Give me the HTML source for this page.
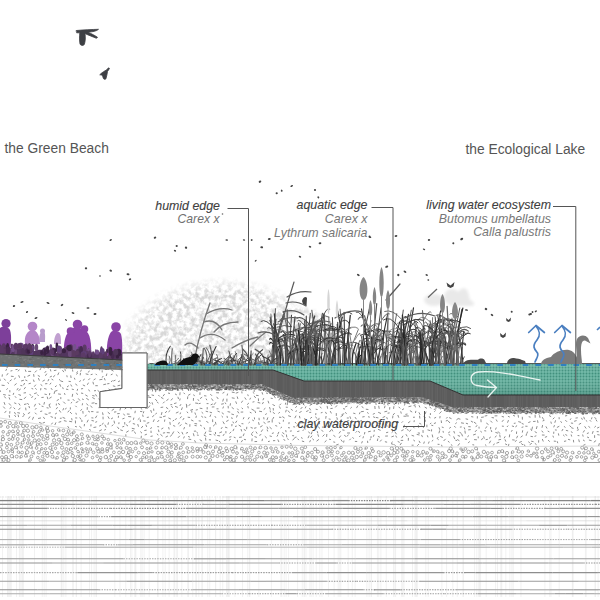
<!DOCTYPE html><html><head><meta charset="utf-8"><style>
html,body{margin:0;padding:0;background:#fff;width:600px;height:600px;overflow:hidden}
svg{position:absolute;left:0;top:0;display:block}
text{font-family:"Liberation Sans",sans-serif}
</style></head><body><svg width="600" height="600" viewBox="0 0 600 600"><defs><pattern id="hatch" width="3" height="3" patternUnits="userSpaceOnUse">
<rect width="3" height="3" fill="#70b8a6"/><circle cx="1.5" cy="1.5" r="1.0" fill="#3f8f7c"/></pattern><linearGradient id="tg" x1="0" y1="0" x2="0" y2="1"><stop offset="0" stop-color="#fff" stop-opacity="0.12"/><stop offset="0.35" stop-color="#fff" stop-opacity="0"/><stop offset="1" stop-color="#1e4a40" stop-opacity="0.22"/></linearGradient><filter id="noise" x="0" y="0" width="600" height="600" filterUnits="userSpaceOnUse">
<feTurbulence type="fractalNoise" baseFrequency="0.22" numOctaves="3" seed="3" result="n"/>
<feColorMatrix in="n" type="matrix" values="0 0 0 0 0.66  0 0 0 0 0.66  0 0 0 0 0.66  0 0 0 -3.0 1.9" result="g"/>
<feComposite in="g" in2="SourceGraphic" operator="in"/>
</filter>
<radialGradient id="cloudg" cx="0.5" cy="0.5" r="0.5"><stop offset="0" stop-color="#000" stop-opacity="1"/><stop offset="0.8" stop-color="#000" stop-opacity="0.9"/><stop offset="1" stop-color="#000" stop-opacity="0"/></radialGradient><clipPath id="skyclip"><rect x="0" y="0" width="600" height="364"/></clipPath><filter id="soft" x="-20%" y="-50%" width="140%" height="200%"><feGaussianBlur stdDeviation="1.5"/></filter></defs><rect x="0" y="366" width="600" height="96" fill="#fff"/><path d="M8.3 365.6L6.8 368.1M28.4 365.5L28.1 367.6M33.5 367.1L36.2 367.1M43.2 366.8L44.2 368.5M49.1 365.9L48.2 368.6M57.3 366.0L55.0 366.2M61.2 365.9L60.2 368.5M65.0 366.6L67.0 366.9M80.1 365.5L81.0 367.5M93.6 365.6L93.0 367.5M102.2 366.6L101.2 368.9M108.8 366.6L107.2 367.9M123.8 366.3L125.2 368.4M127.6 366.4L127.9 368.5M131.6 365.3L133.3 367.1M142.7 366.8L142.7 368.7M154.4 366.1L154.8 368.0M159.0 366.3L158.8 369.3M170.6 365.6L170.4 367.7M186.1 366.5L187.8 368.2M190.4 367.1L188.4 367.9M195.0 365.8L197.4 367.0M201.2 366.1L201.0 367.9M213.8 366.8L211.9 367.9M215.9 367.2L214.0 367.5M226.8 366.5L229.0 367.4M242.2 365.4L240.8 366.9M247.6 366.7L246.5 368.8M279.4 367.1L281.4 367.5M288.3 366.4L287.7 368.7M294.8 366.6L296.3 367.6M305.6 365.5L304.0 368.1M314.0 366.6L315.5 368.0M335.9 365.9L338.9 366.4M343.9 367.4L341.2 368.0M373.5 367.6L371.0 367.7M382.5 366.5L381.9 368.9M394.5 365.6L392.7 366.5M403.1 365.5L402.0 367.2M406.7 366.5L408.5 368.3M420.6 365.9L418.6 366.3M428.7 365.7L430.0 367.5M440.9 367.8L439.0 367.8M453.1 367.0L451.0 367.8M455.2 366.2L453.7 368.2M461.3 366.5L464.1 366.6M466.4 366.4L464.4 366.8M481.1 366.0L483.1 367.5M492.5 366.9L494.7 367.6M502.6 365.5L504.4 367.5M519.7 366.1L519.3 368.8M536.5 366.5L533.9 367.7M543.8 366.6L541.6 367.4M557.5 367.2L554.7 367.4M572.9 366.5L570.4 367.7M573.1 366.6L575.8 367.5M589.5 366.5L590.9 367.7M6.7 368.9L5.7 370.9M12.4 370.6L10.5 371.0M17.6 369.4L15.5 369.6M19.4 369.6L18.0 371.3M25.2 369.6L26.1 371.9M28.2 371.4L31.1 371.4M36.7 370.5L34.9 372.4M40.9 368.2L39.9 370.1M46.1 371.1L44.7 372.8M50.3 369.3L50.9 371.4M56.4 370.2L53.9 370.6M62.4 370.1L63.9 372.1M64.8 368.7L65.4 371.1M72.5 369.5L72.8 371.6M78.0 371.5L76.4 372.7M81.4 369.7L80.6 371.7M89.4 370.7L88.3 372.5M91.0 368.1L92.7 369.8M99.0 367.9L99.7 370.4M102.2 370.3L102.2 372.4M110.0 367.9L108.1 369.9M111.0 369.6L113.5 371.2M118.0 368.1L120.0 370.1M124.7 370.5L123.2 373.1M130.8 371.9L128.4 372.7M136.3 370.1L134.2 371.3M141.0 370.5L141.2 372.6M144.9 370.4L143.1 372.0M149.5 369.6L151.6 370.1M154.6 369.1L154.3 371.0M160.1 370.6L159.0 372.1M165.1 369.8L165.6 371.8M171.0 370.9L170.3 373.4M177.0 370.8L177.7 372.5M182.1 370.9L179.4 372.2M186.4 370.3L186.0 372.8M190.5 368.8L190.9 370.6M196.0 370.4L196.6 372.3M202.3 368.5L201.6 370.2M205.6 370.8L208.2 371.0M210.1 370.4L212.3 370.7M217.5 369.3L215.8 370.8M223.1 371.2L224.5 372.6M227.5 370.8L225.3 370.8M234.5 370.5L233.2 372.9M239.1 369.5L241.1 369.7M242.6 370.3L242.1 372.3M248.5 371.0L250.7 372.3M256.2 368.5L253.7 370.1M257.2 367.9L258.6 370.1M266.7 369.6L265.6 371.0M269.1 370.7L271.7 371.6M274.8 370.5L277.5 371.6M280.9 369.0L281.4 371.2M286.6 369.5L284.1 370.7M289.7 371.1L288.5 373.6M297.4 369.3L295.4 371.5M300.2 370.6L299.9 373.0M304.9 370.5L306.8 372.6M313.5 368.8L311.5 369.6M316.0 370.2L316.7 371.9M321.9 368.7L324.0 370.4M326.9 371.2L325.7 372.9M329.0 371.9L331.6 372.6M338.0 370.5L336.5 372.7M341.5 371.4L343.5 372.0M348.7 368.8L348.1 371.1M353.8 369.6L352.2 371.2M358.1 369.2L359.5 370.5M362.3 368.0L362.0 370.7M367.3 368.3L367.4 371.0M374.8 370.0L376.0 371.5M377.0 369.2L378.6 370.2M385.4 369.8L383.0 370.0M391.1 368.9L388.9 369.8M395.7 369.8L395.9 372.1M399.7 368.8L397.4 369.3M404.8 370.0L407.3 370.6M408.7 368.4L408.3 370.5M418.0 368.5L416.1 370.2M421.6 368.5L421.5 370.9M426.6 371.9L424.4 372.0M432.3 370.0L430.3 372.1M435.5 368.8L434.6 370.5M439.0 369.1L441.3 369.2M445.8 369.0L447.8 370.8M453.2 369.3L451.6 371.7M458.6 369.9L457.2 372.4M462.5 369.5L461.2 372.1M467.5 368.6L469.4 369.7M472.8 370.2L474.0 371.7M479.6 371.2L477.2 371.6M481.7 369.0L484.0 369.3M486.0 369.4L488.9 370.2M496.0 370.7L493.0 371.2M497.8 369.7L500.5 370.0M504.6 371.0L502.6 371.5M509.2 370.2L509.2 372.1M514.3 368.9L512.8 371.3M517.8 370.2L519.6 372.5M525.5 369.8L525.8 371.9M528.7 371.2L529.4 373.5M536.8 370.1L536.5 372.4M539.9 369.3L538.1 371.1M546.5 368.2L546.0 371.1M548.9 370.8L551.6 371.9M555.0 369.2L557.2 370.3M562.5 369.2L559.6 369.3M567.0 368.7L564.9 369.9M571.2 369.7L573.0 371.8M578.4 368.6L578.0 370.9M584.5 370.2L581.9 371.2M585.7 370.3L586.5 373.1M591.4 371.0L592.8 372.7M597.6 371.5L597.6 373.5M2.4 374.4L2.1 376.7M8.1 373.2L6.6 375.3M10.9 376.2L13.6 376.5M18.7 375.3L19.6 377.7M24.7 376.2L24.8 378.0M30.1 375.1L27.5 376.3M33.6 374.1L34.0 376.8M37.8 375.4L39.9 376.5M46.8 373.7L45.4 375.8M51.9 376.1L49.8 377.1M55.2 375.2L53.1 377.1M58.9 372.5L57.7 375.1M66.8 375.3L67.2 377.2M70.7 375.4L71.1 378.0M77.9 373.1L76.2 374.4M80.5 372.9L80.2 375.3M85.7 373.8L88.4 374.5M92.6 374.2L90.7 374.7M95.6 373.8L96.9 375.1M103.2 376.0L102.2 377.6M106.9 373.6L106.2 376.0M112.6 374.0L110.8 374.9M115.9 374.5L117.7 376.1M121.8 375.9L123.6 378.3M128.4 373.3L127.9 375.8M134.1 372.6L133.3 374.9M140.5 373.8L138.4 375.3M143.2 374.6L142.2 377.1M150.3 375.3L148.1 376.6M154.4 374.9L155.7 376.8M158.1 375.9L160.1 376.5M163.8 373.7L166.0 374.7M172.2 375.1L169.6 375.8M173.4 375.1L173.6 377.9M179.1 374.3L181.9 375.3M184.7 376.5L182.3 377.6M192.6 376.4L190.8 377.7M196.4 372.4L196.1 374.8M201.4 374.6L200.7 377.3M206.5 373.3L207.9 374.6M213.2 375.3L211.2 375.9M215.5 376.2L213.4 376.8M221.9 373.9L219.8 374.2M227.3 373.6L225.5 374.3M232.4 374.9L230.4 377.0M235.5 375.7L237.5 376.8M240.1 373.9L241.0 376.7M245.3 373.4L245.8 376.3M254.4 372.9L253.0 374.9M259.0 373.9L259.6 375.8M261.3 375.3L261.6 377.9M267.1 375.6L269.9 375.8M272.5 373.1L272.1 374.9M278.2 373.4L280.5 375.2M283.8 373.8L282.1 374.4M289.1 373.7L291.1 374.5M291.9 375.9L293.7 376.0M299.7 373.6L300.8 375.3M302.9 374.9L302.7 377.6M309.6 375.4L309.5 377.3M313.5 376.8L316.2 377.1M321.1 374.0L321.5 376.9M323.2 374.0L324.0 376.5M329.4 376.6L331.3 377.1M335.2 372.8L336.8 374.8M342.2 374.7L339.8 374.8M344.6 375.3L347.1 376.1M353.5 375.0L351.5 376.8M354.5 374.5L356.2 375.9M360.3 374.7L362.5 375.4M366.1 374.2L368.7 375.6M369.5 376.3L371.4 376.8M378.3 375.3L377.8 377.7M381.6 374.3L383.7 375.2M389.4 375.7L387.0 376.8M393.9 374.6L395.0 376.8M396.2 375.3L397.7 376.5M405.4 374.0L403.5 375.7M410.9 376.5L408.1 376.7M412.6 375.8L415.5 376.0M418.9 373.8L421.1 375.2M421.9 374.8L424.7 374.8M428.3 374.5L430.6 375.6M431.8 375.5L433.6 377.0M439.9 373.8L438.2 375.9M444.1 373.7L446.0 374.0M449.6 375.0L451.3 377.0M454.3 374.1L456.0 376.2M458.2 374.1L459.8 376.1M464.4 375.8L466.7 376.1M470.6 372.8L471.8 374.4M474.2 373.7L475.2 375.3M481.6 373.0L482.6 375.4M487.2 376.0L485.6 377.1M491.5 373.6L494.4 373.8M498.4 374.3L497.8 376.9M500.6 373.9L502.8 374.0M509.5 375.1L507.0 376.5M510.0 375.7L511.8 377.5M517.1 374.1L518.3 375.9M522.2 373.2L522.2 375.1M527.4 375.6L528.6 378.0M533.6 375.8L535.1 377.2M538.3 374.8L536.4 376.6M542.4 375.0L542.5 377.7M550.9 374.9L548.5 375.5M555.6 375.3L553.3 376.3M557.7 372.7L558.1 374.9M563.6 372.7L563.6 374.8M570.2 373.3L568.6 374.2M576.5 375.5L575.7 377.8M581.0 374.7L578.7 376.4M585.5 375.5L584.5 377.4M589.4 373.9L591.3 374.3M597.8 373.9L596.3 375.7M-0.2 378.6L0.2 381.0M4.1 378.7L5.6 380.5M11.7 379.6L9.7 381.2M15.5 377.7L14.4 379.5M23.9 380.2L21.1 381.0M25.3 379.9L27.3 380.8M33.4 379.6L34.2 381.9M38.4 378.1L39.4 380.6M44.8 380.0L42.5 381.3M48.9 379.1L47.9 381.2M51.5 379.0L53.3 380.1M59.0 379.3L60.5 380.6M60.5 380.9L63.1 381.7M68.6 381.3L70.8 381.6M74.3 377.8L75.0 379.6M80.9 380.5L79.3 381.6M84.4 378.8L83.3 380.6M89.9 378.4L88.3 380.1M95.6 378.7L93.6 380.0M102.4 379.3L99.4 379.8M104.3 378.1L105.2 380.4M112.6 380.6L111.0 381.8M115.5 380.1L113.3 381.0M120.0 380.8L118.1 381.8M127.6 378.9L125.7 379.5M129.8 380.9L131.6 382.4M134.4 378.1L136.7 378.5M140.0 381.0L140.7 382.7M148.7 380.0L147.4 382.5M151.5 378.6L149.3 379.9M155.5 379.9L155.7 381.7M161.7 378.6L159.5 379.8M167.1 379.8L169.1 380.5M171.4 377.1L172.1 379.7M178.7 378.3L176.3 379.0M180.4 379.4L181.9 380.8M187.0 379.7L188.7 381.2M194.8 378.5L193.0 378.6M199.8 380.0L197.4 380.1M203.9 378.6L202.7 381.3M208.9 377.6L207.1 379.0M215.9 379.6L213.9 381.4M218.9 377.0L218.5 379.8M223.2 379.7L223.5 382.4M228.8 380.9L231.5 381.4M233.7 379.2L235.8 379.4M238.5 380.1L238.4 383.1M246.2 378.4L244.7 379.9M251.0 380.6L249.0 381.5M255.6 379.1L253.1 380.0M263.5 379.5L261.1 379.7M266.2 380.2L266.0 382.9M272.6 377.2L271.7 379.8M275.4 379.1L277.9 379.7M280.7 379.1L281.3 381.7M287.4 378.0L285.3 378.8M295.4 379.1L292.4 379.3M295.2 379.3L296.3 381.8M302.0 381.1L304.3 382.2M307.4 378.1L310.0 378.7M312.7 378.4L312.2 380.9M318.2 380.4L319.3 382.9M323.2 378.9L324.0 381.4M328.4 377.8L326.8 379.5M332.6 379.5L334.0 381.0M337.8 380.7L339.6 383.0M345.1 378.2L343.0 379.2M349.5 379.5L352.0 380.2M355.3 378.6L356.2 380.2M361.0 380.9L358.7 382.0M367.4 379.8L365.5 381.3M367.5 378.4L370.0 379.5M373.0 379.0L374.1 381.5M379.6 380.2L381.7 380.7M387.6 379.5L387.4 382.2M393.3 378.4L390.8 378.6M395.2 379.4L396.6 381.9M401.1 379.7L403.6 381.3M405.3 381.3L407.2 381.7M409.7 377.7L411.1 380.0M417.7 381.2L415.0 382.1M421.4 379.6L421.0 381.5M426.6 379.2L426.6 381.2M434.7 377.6L433.4 380.0M438.4 379.9L437.8 382.6M441.7 377.3L440.7 379.5M448.3 379.8L449.0 382.2M452.4 379.3L454.2 381.7M459.0 380.2L457.8 382.0M461.9 377.3L462.4 379.6M467.1 379.3L468.6 381.5M475.9 381.3L474.0 381.4M478.2 379.3L479.5 381.3M482.6 378.8L484.7 379.5M488.3 379.5L490.3 381.5M493.9 378.4L493.4 380.5M501.1 378.8L501.0 381.2M505.8 378.1L503.4 378.5M511.8 378.2L512.6 379.8M516.2 380.4L515.1 382.5M520.7 379.9L521.3 382.7M526.5 379.9L527.4 382.0M531.7 378.0L531.4 379.9M535.6 379.8L537.5 382.1M543.5 378.6L541.2 378.8M549.3 379.2L546.6 379.7M551.0 379.1L551.0 381.0M555.9 378.3L556.1 380.6M562.2 379.0L563.5 381.2M567.2 381.0L565.7 382.6M572.4 379.9L572.2 382.5M576.9 380.0L577.9 382.4M586.1 379.5L584.0 381.1M589.1 376.9L589.3 379.8M595.0 379.7L594.4 382.3M599.7 377.7L598.7 380.0M1.6 385.2L4.6 385.5M7.6 382.2L8.7 383.8M16.6 383.5L14.4 385.3M20.4 385.4L22.3 385.8M24.7 383.0L23.5 385.2M30.8 383.2L28.6 383.8M35.9 384.7L34.2 386.7M40.6 384.5L42.3 385.7M47.3 383.6L45.1 383.8M51.1 382.8L49.8 384.5M56.7 385.6L55.0 386.9M59.7 384.0L60.8 386.7M68.8 385.7L67.0 387.0M70.7 384.5L71.8 386.5M75.3 383.9L77.3 385.4M82.8 384.9L85.1 386.0M88.5 382.7L87.3 384.8M92.9 381.8L93.6 384.4M95.3 385.7L97.8 385.7M106.1 384.1L103.3 384.7M109.4 383.5L107.2 383.8M112.9 385.8L115.3 386.5M120.3 385.2L117.5 385.8M121.6 385.3L124.0 386.9M130.9 382.9L131.0 385.8M136.9 385.9L135.2 386.6M140.9 383.2L138.7 383.4M146.5 383.4L146.6 386.3M150.4 384.1L152.0 385.2M153.3 383.8L154.7 385.3M161.5 384.4L160.9 387.1M165.7 385.6L163.1 386.4M171.3 382.4L170.3 384.1M173.9 383.3L175.4 384.8M181.3 385.5L179.2 385.8M187.8 381.8L186.6 384.1M189.3 382.4L190.6 384.3M197.4 385.3L196.1 387.0M199.8 385.2L201.4 387.2M205.0 382.8L207.4 384.0M212.9 383.2L212.6 385.6M216.9 384.6L218.5 386.0M222.6 385.8L224.8 386.4M228.9 382.3L228.5 384.1M233.6 383.8L233.1 385.7M236.8 384.4L238.7 385.2M243.9 381.9L243.8 384.6M248.5 383.8L248.7 385.7M254.6 385.0L253.1 386.7M260.5 384.7L260.1 386.5M265.3 383.1L262.4 383.2M266.9 386.2L269.2 386.4M277.0 385.6L274.5 385.8M279.2 385.2L280.2 387.8M287.3 383.2L285.9 385.4M290.1 384.4L291.0 386.2M296.4 384.0L295.0 385.6M298.2 382.0L299.8 384.1M307.0 384.3L305.2 385.4M311.9 383.7L309.3 384.2M314.6 384.5L315.3 387.2M322.2 382.4L323.7 383.6M325.6 384.3L324.5 385.8M332.1 383.7L333.6 385.1M338.5 382.0L338.5 384.2M342.8 384.5L344.2 386.6M347.6 383.3L348.8 384.9M352.8 383.0L353.9 384.5M360.8 385.7L358.4 386.4M364.4 384.6L361.5 384.8M368.4 384.8L369.6 386.7M373.2 383.4L371.5 385.1M380.9 382.9L379.2 385.1M386.7 384.8L384.2 385.1M386.8 383.0L388.9 384.6M394.6 385.6L397.2 386.4M399.1 382.8L397.8 385.0M407.1 382.7L405.1 384.5M411.2 384.2L409.2 385.1M418.3 382.7L415.4 383.3M418.9 385.5L419.1 387.6M427.1 383.3L424.8 384.0M431.9 383.2L431.6 385.4M435.1 383.8L435.1 385.7M444.2 383.9L441.6 385.3M446.1 383.4L445.7 385.4M451.5 383.6L449.1 384.1M455.9 382.5L457.1 384.4M463.8 383.6L462.6 385.9M467.6 385.7L465.0 386.0M473.1 382.9L471.5 384.1M479.6 384.4L477.2 385.0M481.9 383.0L484.7 383.3M490.4 384.6L488.7 386.1M495.0 383.0L493.9 384.5M498.9 383.1L497.9 385.5M504.0 383.8L504.0 385.6M509.1 381.9L508.9 384.0M516.8 382.3L514.6 383.7M519.4 385.9L521.2 386.5M523.2 382.2L523.0 385.0M528.3 383.3L529.2 385.4M534.0 385.6L536.0 387.3M542.4 384.7L540.0 385.9M543.9 383.4L543.6 385.2M548.6 382.4L548.6 384.7M557.5 384.5L555.7 385.4M559.8 382.2L562.0 383.9M566.4 384.5L568.3 384.8M572.9 385.3L572.5 387.1M579.2 383.9L576.7 384.2M582.2 384.6L582.8 386.4M586.5 383.2L584.6 384.3M594.1 383.4L592.7 384.8M598.9 384.0L598.9 387.0M-0.6 389.4L0.7 391.8M7.8 388.4L6.4 389.6M9.8 390.1L9.9 392.3M18.2 388.1L16.8 390.2M20.7 389.0L18.5 390.6M25.6 387.1L24.0 389.2M31.5 388.4L33.2 389.0M35.3 388.2L36.6 389.6M40.9 388.1L40.6 390.3M44.2 388.5L46.6 389.2M51.0 388.1L52.3 389.9M57.4 390.4L54.6 391.3M62.6 387.3L63.3 389.1M66.0 389.1L68.3 389.6M71.8 389.1L73.8 389.6M77.7 388.9L77.1 390.8M83.1 388.5L81.0 388.9M88.6 389.5L89.7 391.4M96.0 390.6L94.0 390.8M97.6 390.4L99.3 391.7M105.1 390.0L106.8 392.1M108.6 388.9L110.3 390.4M114.7 388.6L117.0 389.4M120.9 388.5L119.5 390.6M127.4 388.3L126.0 390.2M130.7 389.4L128.4 390.8M135.6 388.4L134.7 390.4M142.0 389.6L140.5 390.8M147.3 388.2L148.0 390.5M152.8 388.7L152.4 391.5M155.9 389.5L155.6 392.1M160.5 389.4L159.5 391.3M168.5 387.7L165.9 387.8M172.7 390.2L170.4 390.4M175.4 387.3L175.3 389.7M182.4 388.6L182.8 390.8M188.5 388.6L188.5 390.8M190.6 386.6L191.4 389.4M195.5 390.5L197.5 391.5M202.9 387.2L203.0 389.5M207.5 389.2L208.6 391.0M215.7 387.4L213.4 388.6M220.4 388.1L218.3 388.2M223.0 386.7L222.4 389.6M227.0 388.4L229.2 389.8M234.4 386.8L233.7 388.7M240.4 388.2L239.2 389.8M244.6 390.3L246.5 390.7M250.6 387.3L251.8 389.3M254.3 389.4L254.1 392.0M260.9 388.7L260.3 390.9M267.8 389.1L265.6 390.6M269.0 389.6L270.9 390.1M273.4 388.0L275.6 389.4M280.1 388.6L282.1 389.6M285.9 388.8L284.4 390.9M293.2 388.6L293.3 390.6M294.9 389.0L297.1 389.4M301.3 387.3L298.9 388.9M307.7 388.4L306.5 390.3M312.6 389.1L314.4 389.6M317.6 387.7L319.2 389.6M322.4 388.3L320.5 390.2M326.8 387.5L329.3 388.5M335.0 388.4L333.5 389.4M340.0 389.5L338.1 389.6M343.8 389.1L345.6 391.5M349.5 388.2L347.5 389.5M354.6 389.5L356.7 391.3M360.2 387.9L358.6 389.9M362.3 387.5L363.9 388.7M367.1 387.9L368.7 389.8M373.4 389.3L374.7 391.0M381.7 390.3L380.7 392.0M388.2 390.1L385.3 390.8M392.6 387.6L390.6 388.5M397.2 389.7L395.3 391.5M399.9 388.8L401.4 390.5M406.6 389.5L404.8 390.2M412.2 388.4L410.0 388.8M416.5 388.8L419.3 388.8M422.1 388.9L422.5 391.5M426.3 386.8L426.1 388.9M430.7 387.3L432.6 389.4M436.7 388.5L436.2 390.8M440.8 389.9L442.7 390.2M447.2 388.7L449.8 389.8M453.5 387.5L451.5 387.7M459.0 387.2L458.1 389.0M465.1 387.7L464.1 389.5M466.8 390.3L468.8 391.4M471.8 389.3L473.7 391.0M479.3 386.6L479.5 388.6M481.6 390.0L484.2 390.1M490.0 390.2L490.5 392.1M493.4 388.3L492.1 389.7M497.6 390.2L500.0 391.3M506.6 388.1L504.6 388.1M510.5 386.6L509.5 388.7M514.9 389.3L516.9 390.4M520.0 390.4L521.9 391.0M525.9 388.3L526.9 391.1M529.4 387.4L530.6 388.8M536.5 388.5L535.6 391.1M542.3 389.7L541.2 391.6M547.1 388.7L545.6 390.2M551.1 390.7L548.7 391.0M555.6 388.2L554.9 390.6M564.6 391.0L562.6 391.4M567.8 388.5L568.9 390.8M573.9 390.4L572.5 391.6M575.0 388.4L576.9 388.7M584.2 388.3L583.2 390.5M586.4 389.8L588.8 390.4M592.8 387.6L594.2 389.6M597.3 389.4L597.1 391.6M3.2 394.5L5.8 395.0M8.4 395.2L10.3 395.5M13.8 392.9L13.1 394.9M18.5 394.5L21.0 395.4M26.0 392.7L23.6 393.0M29.5 394.4L31.2 395.4M36.8 392.8L34.2 393.7M37.4 394.5L38.6 395.9M44.5 394.1L46.8 394.6M49.8 393.0L49.4 395.2M54.7 391.4L54.1 393.9M58.1 393.9L60.9 394.3M64.4 393.1L65.1 394.9M72.7 393.9L72.2 396.8M76.4 392.8L77.6 394.8M81.0 393.0L83.2 393.5M85.3 394.8L87.7 396.3M92.3 395.5L94.6 396.0M95.5 394.3L96.8 396.4M100.5 391.9L100.1 394.1M108.1 392.8L107.4 395.1M114.8 392.6L112.2 393.4M116.5 391.3L117.1 393.3M123.7 394.7L121.0 395.9M127.5 394.0L125.1 395.3M131.0 393.4L132.7 395.0M137.5 395.1L136.3 396.6M145.3 394.2L145.1 396.8M147.5 395.5L149.4 396.0M151.6 394.9L154.0 395.5M158.3 395.0L159.8 396.5M164.6 394.1L163.0 396.2M168.0 393.0L170.0 393.5M175.0 393.9L176.8 394.9M180.1 392.3L179.8 395.2M183.6 392.7L184.9 394.1M190.4 394.1L188.1 395.4M193.6 394.5L194.5 396.1M200.0 392.3L199.9 394.9M204.1 395.7L206.4 396.0M210.3 394.1L212.0 395.8M216.2 392.7L219.0 392.8M224.4 392.2L222.5 393.3M227.6 393.6L227.1 395.6M231.8 392.1L234.6 392.6M238.4 392.3L235.8 393.2M241.8 391.4L242.0 393.4M247.7 394.4L248.3 396.1M252.8 392.3L254.3 393.5M256.0 395.3L258.6 395.6M262.0 392.2L262.7 394.5M266.0 392.9L267.8 393.7M275.6 392.9L274.5 395.4M280.8 395.1L279.1 396.5M285.4 393.7L283.1 394.4M288.3 392.1L289.5 393.8M294.5 394.8L297.4 395.4M301.3 395.0L298.3 395.0M302.5 393.6L304.4 395.7M312.6 392.5L310.6 392.5M315.9 393.9L317.2 396.4M322.1 391.6L321.3 394.2M325.1 395.5L327.7 395.7M332.7 393.3L332.3 395.3M337.8 394.4L337.9 396.5M340.5 391.9L342.0 393.3M347.6 392.0L345.6 392.5M351.7 394.5L349.0 395.2M356.7 391.0L355.9 393.8M364.4 394.7L361.7 396.0M366.5 394.8L367.2 396.6M370.5 392.1L373.1 393.5M379.2 394.8L378.3 396.6M385.9 394.5L383.2 395.1M386.2 393.8L388.0 395.0M394.9 391.6L393.0 393.8M401.6 393.7L398.6 393.7M403.5 394.1L400.6 394.8M408.9 394.1L406.9 394.5M416.0 393.1L414.0 393.2M421.5 391.6L419.9 393.6M425.2 393.1L426.6 394.7M427.3 392.9L429.0 393.5M435.9 394.8L433.1 395.1M440.2 392.7L439.9 394.6M445.8 394.2L444.6 396.6M450.2 392.0L448.3 393.0M454.1 395.5L456.0 395.9M460.7 393.5L460.2 396.3M465.0 393.3L464.2 395.5M468.4 395.0L470.9 396.4M474.5 392.0L476.1 393.3M483.1 394.1L481.7 395.7M484.9 392.9L487.3 393.3M492.8 391.8L493.8 393.9M496.9 393.7L496.2 395.6M500.2 392.1L501.4 393.6M508.6 392.3L509.3 394.5M513.6 391.6L513.3 393.6M519.3 392.6L519.7 394.7M522.5 392.4L523.8 393.8M528.3 394.4L530.5 395.0M534.2 394.6L533.5 397.0M539.8 394.0L540.4 396.4M546.5 393.6L544.3 394.4M548.5 394.6L547.0 396.5M556.6 394.1L555.3 396.2M557.1 394.2L559.6 395.8M565.5 394.7L567.7 395.6M573.1 393.8L570.6 393.9M577.9 392.8L575.1 393.6M578.6 392.6L579.3 394.7M586.2 393.4L583.6 394.5M591.1 393.0L591.6 395.3M595.9 393.4L593.8 395.4M4.3 396.4L5.8 398.3M9.0 397.3L9.9 399.6M15.0 396.3L16.2 397.8M19.4 399.3L22.2 399.6M26.0 396.8L24.0 398.9M33.1 396.4L31.3 397.6M35.8 397.9L34.7 399.5M43.7 397.3L41.4 397.5M47.2 396.7L47.9 399.2M51.6 397.0L49.3 398.4M58.8 399.4L56.7 400.7M60.8 397.1L60.8 399.1M67.5 400.0L69.5 400.2M72.8 399.1L74.4 400.8M78.2 398.4L80.0 400.6M82.0 398.9L83.7 399.6M86.3 398.3L88.8 399.9M92.3 397.5L94.8 398.9M98.6 398.6L100.0 400.3M103.8 398.9L101.0 399.2M108.6 398.5L110.1 400.3M113.0 399.2L111.6 400.4M121.0 398.4L120.4 400.2M122.7 398.6L124.4 401.1M129.7 397.5L130.5 399.5M134.7 397.5L133.2 399.8M139.7 396.0L139.6 398.6M147.0 397.2L145.9 399.4M148.2 397.1L151.1 397.6M155.2 399.1L157.0 401.0M161.0 397.4L163.4 398.7M168.5 399.1L166.4 400.6M172.6 398.4L171.0 400.4M177.9 396.8L178.5 399.0M180.2 398.5L179.7 400.5M187.8 396.4L187.5 399.1M193.5 398.0L193.4 400.8M197.6 399.6L199.2 400.6M202.2 397.1L200.0 398.7M206.0 398.6L206.9 400.2M211.5 398.5L213.1 400.8M216.6 396.8L218.3 399.0M223.5 398.7L222.7 401.5M226.9 398.7L226.9 401.6M231.8 397.8L234.6 398.3M237.2 396.5L237.9 398.9M244.7 397.5L246.2 399.7M250.6 397.8L249.8 399.6M254.0 395.9L255.8 398.0M258.4 398.4L258.5 401.1M263.8 398.1L262.9 400.2M270.7 398.2L272.7 398.5M274.0 395.8L275.5 398.2M279.7 398.4L278.9 400.4M285.3 397.8L287.3 398.6M292.0 397.0L290.2 398.1M295.6 398.5L294.9 400.6M301.9 399.3L303.3 401.8M307.3 397.4L304.5 397.9M311.9 397.0L310.6 398.5M316.7 398.5L318.6 399.6M323.5 396.7L321.6 397.5M328.6 397.1L326.0 397.2M333.6 396.1L332.3 398.0M337.1 397.9L337.3 399.9M342.8 398.2L344.3 400.3M348.9 397.0L348.3 398.9M355.0 396.6L353.8 398.1M356.2 396.7L357.8 397.9M361.7 398.1L363.8 399.6M368.1 396.1L368.1 398.1M374.3 398.1L376.9 398.2M381.2 399.1L380.2 400.8M383.6 398.1L382.3 399.5M389.8 397.8L387.7 397.8M393.9 396.8L395.5 397.8M398.5 398.7L400.0 401.0M402.4 399.5L405.1 399.9M410.5 396.5L411.5 398.6M414.7 399.7L417.4 400.5M420.7 398.3L418.6 398.5M426.6 399.3L424.6 400.8M432.8 396.6L431.7 398.1M437.7 396.3L438.3 398.7M441.7 398.8L443.6 400.0M447.1 395.9L445.5 398.2M454.7 397.2L452.8 397.7M456.1 396.3L457.6 397.9M464.1 398.6L462.2 400.2M468.4 399.5L467.3 401.4M471.7 399.1L474.1 399.9M477.7 397.2L476.5 399.2M485.4 398.9L483.5 399.0M490.2 396.9L487.7 398.2M494.9 396.2L495.0 398.3M499.5 396.3L501.5 398.0M503.5 396.4L503.8 399.2M508.9 399.1L509.2 401.0M513.3 398.9L515.5 399.7M518.6 396.6L521.0 397.3M525.3 397.0L525.2 399.1M530.2 399.5L531.0 401.2M534.5 397.3L534.0 399.8M540.9 398.6L539.7 400.1M545.9 396.5L547.2 399.0M552.6 396.7L552.4 399.3M553.2 397.0L555.6 398.1M562.4 396.4L561.7 398.3M567.8 397.0L568.1 399.7M572.0 395.9L572.8 398.8M578.9 398.3L577.1 399.8M581.5 399.9L583.7 400.9M588.7 396.9L585.9 397.4M593.3 398.5L591.4 399.0M596.9 399.1L598.9 400.0M4.0 402.1L5.0 404.8M8.9 403.3L10.8 405.5M14.2 402.8L16.3 403.7M18.7 403.3L20.2 405.4M26.5 403.9L24.0 404.5M27.4 403.0L28.7 404.8M35.6 403.9L34.3 406.5M39.0 403.3L40.1 405.0M44.5 402.1L43.9 404.6M50.6 403.8L48.7 404.8M56.4 403.6L56.3 405.5M58.0 403.3L60.1 404.8M63.3 401.7L65.3 403.7M72.1 402.1L70.8 403.3M78.3 401.5L75.8 402.6M82.6 403.3L82.2 405.3M86.5 403.5L88.1 405.5M94.5 402.8L91.6 403.2M95.0 403.6L97.1 403.7M103.6 403.9L101.1 405.0M109.2 403.0L108.0 405.4M113.6 402.9L111.4 404.8M117.3 401.4L116.2 403.1M121.1 402.4L122.0 404.6M128.4 401.1L127.9 403.1M131.6 403.7L133.4 404.7M138.9 401.6L136.4 402.1M144.4 402.3L143.9 404.5M149.0 402.1L150.5 403.4M152.0 402.3L152.7 404.6M156.8 401.8L158.5 403.1M164.7 401.6L163.0 403.3M172.2 404.6L170.4 404.7M176.5 402.9L174.1 403.6M181.0 404.2L179.8 406.0M186.2 403.9L187.0 406.2M190.5 404.3L188.6 405.5M195.2 403.0L198.0 403.4M200.6 403.3L198.6 403.7M206.6 403.6L208.5 403.6M212.8 403.9L210.7 404.9M215.8 402.4L214.0 404.8M223.8 403.7L221.2 404.2M225.0 402.5L226.0 404.1M230.5 403.3L230.1 405.7M235.7 401.4L236.6 403.8M242.7 400.7L241.4 402.7M248.9 403.0L247.1 404.7M254.4 401.7L252.5 402.1M257.6 402.4L260.3 403.1M263.5 402.0L262.3 404.1M268.0 400.8L268.9 403.4M272.5 404.5L274.9 405.7M281.0 403.7L279.5 405.3M285.7 402.7L285.4 404.6M287.5 402.3L287.2 405.2M294.7 404.0L292.6 404.7M299.2 403.0L299.2 405.0M302.9 404.1L304.5 405.2M312.3 404.1L309.7 405.4M317.1 402.2L316.7 404.4M319.5 401.1L318.0 402.9M325.4 401.3L324.5 402.9M330.5 403.9L331.8 405.9M336.7 401.5L336.0 403.9M340.4 401.9L340.8 403.7M346.2 401.6L344.6 403.3M353.7 401.1L351.8 403.2M355.9 401.9L357.3 403.9M362.0 403.1L359.5 404.5M364.9 402.5L366.8 404.6M369.6 401.8L372.0 402.0M375.5 402.5L376.2 404.9M384.4 402.1L384.0 405.1M387.4 403.5L388.2 405.4M393.4 403.3L394.8 405.2M398.4 401.8L398.4 404.4M405.1 403.6L404.4 405.5M407.5 402.5L410.0 404.0M415.3 404.2L413.7 406.0M418.6 401.5L418.7 403.4M422.7 400.9L425.0 402.7M428.9 402.4L429.2 404.2M437.2 401.8L435.7 403.8M440.3 403.7L441.9 405.5M443.4 402.8L444.5 405.2M451.0 402.2L452.1 404.8M456.7 402.4L454.5 403.4M460.7 402.8L460.7 404.8M465.2 401.0L464.3 402.8M470.6 402.2L469.4 403.7M476.1 403.6L474.6 405.5M480.2 401.7L482.7 403.1M485.2 400.8L484.8 402.8M492.6 400.9L492.2 402.7M497.5 402.1L495.0 402.5M503.4 400.7L501.7 402.7M506.5 400.5L507.0 403.4M515.1 401.6L513.0 402.9M517.9 403.9L520.1 405.3M521.7 403.2L522.8 405.3M528.3 401.6L529.0 403.4M532.5 403.6L532.4 405.9M537.4 400.7L537.6 403.3M542.3 403.5L542.3 405.4M549.5 400.8L548.6 403.4M556.3 403.3L555.2 405.5M559.2 400.8L559.0 402.8M565.4 403.3L566.3 405.6M571.3 403.6L570.2 405.2M572.8 402.4L574.9 404.3M579.3 403.8L579.8 405.8M586.5 403.5L586.0 405.4M589.6 403.1L588.3 404.9M595.9 401.3L594.9 403.1M3.3 406.6L5.0 408.6M11.5 407.1L9.6 408.6M13.6 407.5L15.1 409.1M20.4 407.8L18.5 409.9M25.6 407.7L26.0 410.3M28.9 406.0L29.6 408.1M36.4 408.0L35.2 409.6M41.6 406.1L43.5 406.6M46.6 407.7L48.6 408.1M49.2 405.1L50.3 407.8M57.6 407.2L56.1 409.2M63.7 408.2L62.8 410.3M66.6 408.1L64.9 409.3M70.4 407.4L70.3 409.5M75.4 405.8L76.7 407.1M82.1 409.2L80.4 410.6M87.3 407.1L87.2 409.8M90.4 405.6L92.2 407.7M100.6 407.5L98.5 407.7M104.8 406.7L102.4 407.3M106.7 407.5L108.5 408.1M114.1 408.9L111.7 410.6M120.5 408.0L119.9 410.5M126.7 407.5L124.7 409.2M130.8 406.7L131.1 409.2M131.5 406.5L134.0 407.0M140.6 408.0L142.2 409.5M145.1 408.1L147.9 408.2M149.9 405.5L148.4 407.8M153.6 408.6L153.8 410.8M163.2 407.1L160.6 407.5M166.0 407.3L168.2 408.9M171.3 406.4L173.0 407.7M175.1 406.4L177.8 407.4M182.4 407.4L181.4 410.0M186.5 405.2L186.7 407.7M193.0 409.4L190.3 410.3M197.8 409.6L195.8 410.1M199.7 408.2L202.4 408.6M207.2 407.1L207.2 409.4M214.4 406.9L211.8 407.0M216.5 408.8L218.5 408.8M223.5 406.5L222.8 408.5M228.1 405.9L228.3 408.4M231.7 407.3L233.8 408.9M237.3 408.6L238.6 410.2M241.6 407.8L243.0 409.0M247.8 406.1L248.3 408.3M251.5 409.1L254.0 410.4M259.5 408.1L256.7 408.1M265.4 408.2L263.7 409.6M269.5 407.1L270.3 409.6M273.2 408.0L273.4 410.5M279.3 406.4L280.4 408.6M285.8 407.2L287.8 407.3M290.8 409.1L292.8 410.5M297.0 406.2L295.3 407.7M302.4 407.0L300.5 409.1M306.0 406.4L305.2 408.3M309.4 408.1L310.7 410.3M315.7 409.2L317.7 409.6M320.0 406.6L321.3 408.3M327.1 405.9L327.6 408.7M332.7 408.3L330.4 408.6M337.0 405.4L335.3 407.4M343.1 408.6L345.0 409.1M347.4 406.1L345.1 407.0M351.8 407.1L350.4 408.4M357.9 405.6L356.5 408.1M361.8 406.2L363.4 408.2M365.8 409.2L368.4 409.5M374.8 406.0L375.1 409.0M378.7 405.8L379.2 408.8M385.1 405.7L384.4 408.2M389.8 407.1L389.6 409.6M393.9 406.2L393.6 408.9M398.7 406.8L400.2 408.4M404.0 408.7L402.1 409.8M411.4 406.0L408.5 406.7M414.9 405.3L415.4 407.4M419.0 405.3L419.9 407.4M424.7 407.1L427.0 408.4M429.7 406.8L431.2 408.5M436.4 408.7L433.8 409.5M442.9 406.3L441.0 408.3M445.2 408.8L447.0 410.0M451.3 407.6L453.0 409.5M454.5 406.2L456.9 406.6M460.0 405.7L461.8 407.7M467.0 406.6L469.1 407.7M473.1 406.6L470.7 408.3M476.8 408.0L478.2 410.4M485.2 405.9L483.8 407.1M489.2 406.3L486.7 407.7M495.2 406.1L493.6 407.5M500.0 407.2L498.8 408.6M503.6 407.6L503.4 410.6M508.1 407.9L509.4 409.7M515.7 406.2L513.3 406.7M517.2 407.8L519.5 409.5M524.6 406.7L527.0 407.5M528.4 406.2L529.6 407.7M534.5 406.2L537.2 406.5M539.6 407.6L540.3 409.3M544.5 405.3L543.5 408.0M551.0 408.3L553.5 408.8M555.4 408.8L557.3 409.6M563.6 408.2L561.6 410.1M566.4 406.1L565.2 407.9M569.9 408.4L570.0 410.7M574.9 408.3L576.5 409.4M580.2 407.9L582.0 410.0M587.4 408.1L589.3 408.5M590.9 406.4L591.7 408.1M597.0 407.2L598.5 408.2M6.3 410.9L4.6 412.9M9.9 411.2L9.7 413.6M14.4 412.1L15.7 414.3M17.3 412.6L20.0 413.2M23.0 413.4L24.9 414.9M30.1 412.4L27.9 413.7M35.0 412.7L36.5 414.3M42.2 411.0L40.2 411.5M44.7 413.9L47.4 414.5M50.8 412.8L48.5 413.2M56.9 413.0L55.1 414.1M59.2 410.1L60.8 412.5M69.3 410.4L67.7 412.3M70.0 412.0L71.8 413.8M75.8 412.8L76.4 414.6M82.8 411.0L83.1 413.6M88.1 411.0L90.0 412.2M93.4 411.6L91.1 411.6M98.6 412.1L96.4 412.2M102.5 412.4L103.1 415.1M107.8 412.2L109.9 413.9M116.3 411.8L114.0 412.1M119.7 413.5L117.2 413.7M123.5 413.7L124.7 415.5M126.9 414.0L129.6 414.2M135.3 410.8L134.9 413.2M140.1 411.4L142.3 411.7M143.8 411.3L143.3 413.3M150.7 410.0L151.6 412.7M156.9 413.0L155.3 414.2M162.0 412.1L161.3 414.9M166.8 411.1L165.2 413.0M170.2 410.5L168.5 411.9M178.5 411.9L175.9 413.1M180.6 412.5L180.0 414.2M186.9 411.6L188.0 413.1M191.8 410.5L191.8 412.6M194.9 412.5L195.6 414.7M201.6 412.1L203.2 413.5M205.7 411.2L208.1 411.8M209.7 412.1L212.0 412.8M217.5 411.0L219.8 412.0M221.8 412.6L223.8 414.1M227.6 411.6L230.2 412.2M231.4 414.0L233.9 414.7M237.5 411.2L238.9 413.3M243.2 412.0L240.7 412.1M249.8 412.2L251.5 413.0M254.7 410.5L255.7 413.0M259.1 411.2L262.0 411.7M266.8 413.6L265.2 414.6M270.2 410.5L270.5 412.3M272.8 412.2L274.8 413.7M279.8 412.0L278.5 413.5M286.3 409.8L285.6 412.3M287.9 410.5L289.7 412.7M296.5 410.4L295.7 412.0M301.6 411.4L299.3 412.6M308.5 410.5L306.2 411.6M311.2 412.3L309.3 412.4M315.9 413.1L315.7 415.1M322.5 412.4L320.8 412.9M325.4 411.9L326.5 413.9M330.2 411.1L331.4 413.4M336.3 413.1L336.3 415.9M344.2 413.7L341.6 414.6M345.3 412.2L346.6 413.8M353.2 413.1L355.4 413.7M360.1 412.2L359.3 414.2M363.8 411.4L360.9 411.7M367.1 412.4L368.6 413.5M374.8 413.4L372.8 414.3M378.2 412.3L381.0 413.5M387.2 411.2L384.4 411.8M389.6 412.9L387.6 413.2M394.7 413.1L392.9 415.2M400.7 411.4L401.3 413.6M407.5 414.0L405.4 414.4M409.9 410.6L412.2 412.1M415.9 410.9L415.4 413.0M418.9 412.3L420.1 414.7M426.0 411.6L425.1 414.1M430.4 413.1L430.4 415.0M435.6 410.5L434.3 411.7M441.5 411.4L439.4 413.6M448.8 410.9L445.9 411.6M452.4 411.8L453.6 413.8M454.6 412.3L457.3 412.6M462.1 410.9L461.2 413.4M468.9 412.4L466.3 413.4M473.3 412.1L471.7 413.1M479.0 411.6L479.9 414.1M483.4 412.0L482.7 413.7M486.5 411.3L488.1 413.6M493.4 411.6L492.8 413.4M499.5 410.9L497.5 412.1M505.6 410.5L503.3 412.3M509.2 410.4L509.9 412.6M513.5 412.3L512.3 413.9M519.9 410.7L518.3 413.1M524.6 413.2L526.4 414.0M529.6 411.2L529.4 413.4M537.0 412.7L534.8 413.0M540.8 413.4L538.4 414.1M546.8 411.1L544.9 411.9M550.5 411.4L552.0 413.6M554.5 412.9L556.4 413.6M559.0 412.4L560.6 414.1M565.9 412.9L568.8 413.0M570.2 412.0L570.4 414.3M574.1 412.3L575.8 414.0M582.9 412.5L581.3 413.5M584.2 413.2L587.0 413.5M591.8 412.8L593.5 415.2M594.5 411.8L596.7 413.2M9.2 415.1L9.6 417.6M14.5 415.1L15.8 416.9M18.1 414.7L18.6 417.1M23.8 415.3L22.6 417.0M30.0 416.5L28.5 418.6M33.6 416.9L32.4 419.7M41.0 417.9L38.1 418.5M43.3 416.9L44.7 418.9M50.6 416.5L52.9 417.4M55.2 416.9L55.3 419.0M61.7 418.2L59.9 418.3M62.6 417.4L65.2 418.4M71.6 418.2L72.1 420.3M75.2 417.9L77.2 418.0M79.7 417.5L81.1 419.5M86.4 414.8L85.1 416.6M91.4 417.8L93.4 418.0M96.9 415.7L95.4 418.1M103.0 416.7L103.1 419.3M107.9 416.4L109.3 418.8M113.0 417.8L111.1 418.9M118.5 415.8L118.3 417.8M124.5 418.2L122.4 418.9M128.2 416.5L131.2 416.8M133.9 417.6L133.4 419.8M139.7 417.9L137.8 419.7M142.6 414.6L143.2 416.9M148.9 417.1L146.8 417.5M154.3 415.2L152.2 416.9M159.5 417.2L161.9 417.4M165.7 416.0L163.1 416.7M168.4 417.9L170.9 419.1M176.5 418.2L175.4 419.9M181.5 416.4L180.0 418.3M184.1 418.0L182.7 420.1M187.7 417.2L190.1 417.5M196.4 415.7L195.9 417.9M201.3 416.2L203.1 417.4M204.4 416.9L206.2 417.6M210.8 414.6L209.9 416.9M214.8 416.1L215.9 417.8M221.6 416.0L223.0 417.4M227.0 415.9L227.4 417.9M231.0 417.8L232.8 418.4M237.3 415.1L236.5 417.5M244.0 417.2L243.2 419.2M249.3 417.2L248.1 419.3M254.4 417.4L254.6 419.4M259.0 417.8L259.2 420.2M263.7 417.2L264.0 419.3M267.9 417.4L266.9 420.1M273.9 417.0L272.5 419.4M279.0 417.2L281.3 417.4M282.3 416.6L284.6 418.0M288.2 415.7L290.9 416.6M296.1 415.6L294.8 418.1M299.4 415.9L300.0 418.3M304.6 418.2L305.3 420.2M312.0 417.1L310.2 418.5M315.3 416.8L317.2 418.5M319.1 417.9L318.6 420.2M326.1 416.0L325.7 418.7M328.7 418.9L330.6 419.3M336.7 417.3L337.6 419.6M343.0 415.2L340.6 416.8M346.8 418.0L348.8 418.0M349.9 416.4L350.7 418.8M355.0 417.1L356.4 419.2M364.6 416.6L362.3 417.0M368.0 416.7L369.8 417.2M373.1 416.7L375.1 417.6M375.8 417.4L378.4 417.9M385.2 416.4L382.6 417.6M386.7 417.2L387.4 419.2M392.9 415.8L392.6 418.3M397.8 415.0L398.8 417.7M406.1 416.2L403.5 416.2M406.1 415.9L408.8 416.0M414.9 417.2L413.0 417.3M419.5 415.8L419.9 418.5M423.7 416.6L425.8 417.9M429.3 416.4L430.2 418.2M436.1 417.3L434.2 418.2M440.1 416.1L439.8 418.3M447.5 417.0L446.3 418.5M449.1 417.6L451.5 418.7M458.2 418.5L456.4 420.0M458.1 418.6L460.4 419.2M465.6 418.8L468.1 419.4M471.2 416.6L473.3 417.0M477.4 416.2L477.3 418.5M483.8 417.0L481.1 417.4M487.3 415.5L484.7 416.1M491.6 417.5L494.0 417.9M497.4 415.8L494.6 415.9M501.7 416.4L504.0 417.0M507.9 416.2L509.8 417.1M513.1 415.4L515.0 416.1M518.1 414.9L518.5 417.6M522.3 416.8L522.4 419.6M528.7 416.7L530.6 417.2M535.1 414.7L535.2 417.7M539.5 415.3L540.0 417.8M542.3 417.2L543.5 419.5M549.1 415.5L551.1 416.7M554.5 417.5L552.8 419.2M559.1 417.2L559.2 419.2M567.2 415.5L565.0 416.0M571.1 418.4L570.1 419.9M577.8 417.8L575.5 418.1M581.4 417.8L582.4 419.7M583.7 416.8L584.6 419.3M592.0 417.3L591.4 419.3M594.4 417.5L596.4 418.8M39.1 422.4L41.7 423.4M44.9 422.3L42.6 423.1M52.6 422.7L51.4 424.4M56.0 422.4L54.8 425.0M61.2 421.5L58.6 422.3M63.9 420.6L66.6 421.3M69.2 421.3L72.1 421.8M75.4 420.5L75.5 423.4M81.9 420.0L81.9 422.0M88.3 419.8L87.0 422.4M91.5 420.4L93.9 421.0M97.1 421.6L95.3 422.3M103.3 422.8L102.3 424.6M108.5 422.4L107.9 424.8M114.0 420.7L114.6 423.5M119.0 422.3L118.8 424.1M124.7 422.1L124.8 424.5M130.5 420.7L129.2 422.6M132.8 423.5L135.1 424.2M140.2 419.3L140.5 422.0M143.3 420.9L145.6 421.1M149.2 422.5L146.8 423.3M154.3 419.4L153.2 421.9M159.0 420.1L157.4 422.0M164.8 419.5L164.5 421.7M169.8 421.9L170.3 424.8M174.2 420.0L172.7 421.1M179.5 422.2L178.3 424.3M185.0 422.9L187.3 424.1M191.1 419.9L193.4 421.0M194.5 423.5L197.1 423.9M198.7 420.8L200.8 421.1M206.3 421.4L208.4 422.6M212.6 419.4L212.7 422.1M215.4 421.9L216.0 424.6M222.9 421.5L224.4 424.1M228.6 420.2L226.2 421.5M232.8 421.6L233.7 423.3M236.9 420.8L235.5 422.9M241.5 423.6L243.4 423.8M249.8 422.0L248.5 423.1M252.2 419.9L253.9 420.9M258.5 422.2L259.2 424.9M263.5 422.1L265.5 423.6M270.0 421.6L267.5 422.1M272.2 419.5L272.2 422.5M279.1 422.4L280.0 424.0M283.4 419.8L283.3 421.7M289.1 422.1L288.9 424.1M295.0 422.0L296.3 423.5M302.1 422.7L299.8 422.9M302.7 422.6L305.2 422.9M308.8 420.7L310.2 423.1M317.4 419.5L315.4 421.6M319.5 422.2L319.6 424.2M327.6 421.9L327.0 424.0M329.3 421.6L330.7 424.0M336.6 419.7L334.7 421.8M340.9 420.0L341.2 422.3M349.2 420.6L347.0 421.1M352.3 419.9L350.7 421.8M357.6 420.6L360.0 421.6M361.8 420.3L359.7 421.4M367.5 421.2L365.1 422.0M374.1 421.7L373.4 423.6M378.2 423.1L381.0 423.8M383.5 422.6L382.7 425.3M388.2 422.2L386.8 423.8M394.1 422.0L391.7 422.9M395.9 422.4L398.9 422.4M402.9 421.4L401.6 422.7M410.3 421.3L408.1 422.9M414.3 420.3L414.0 422.1M419.3 423.3L421.3 424.2M425.2 419.6L425.3 421.8M431.3 422.8L430.0 424.1M436.0 422.7L433.9 423.6M441.2 420.4L441.5 423.0M447.8 420.3L445.8 421.0M448.0 420.8L450.0 423.0M456.8 422.6L455.3 423.8M461.0 422.8L463.9 423.3M465.9 423.2L468.0 423.9M470.9 421.0L473.0 422.3M473.9 422.0L476.3 423.8M480.9 419.3L481.1 422.2M486.3 423.0L488.5 424.6M490.4 420.7L492.2 422.6M496.1 419.5L497.3 421.6M503.6 419.8L502.0 421.8M508.5 420.1L507.5 422.7M515.6 423.1L513.8 423.4M518.3 421.6L521.1 422.4M521.7 423.4L523.7 424.2M530.5 421.7L528.3 422.6M535.6 421.3L533.1 421.5M537.5 420.3L538.0 422.9M544.5 420.2L542.6 421.0M550.8 421.6L551.4 423.7M555.6 420.3L554.8 422.8M560.6 421.2L561.7 422.8M565.3 420.1L567.0 421.8M570.9 423.0L573.1 423.3M576.6 420.6L574.1 421.3M581.1 423.2L578.8 424.5M585.8 420.3L587.2 421.5M589.7 420.1L591.1 421.6M595.9 419.6L597.1 421.4M67.6 426.1L68.9 428.0M75.1 426.4L76.9 426.9M79.3 426.2L81.6 428.1M84.5 424.0L84.2 426.3M91.0 424.3L90.9 426.4M96.3 427.0L93.5 427.5M101.2 425.1L99.2 426.1M104.8 424.7L106.2 427.4M113.3 424.5L111.7 426.2M117.3 426.8L119.0 429.0M124.2 426.3L122.3 426.9M126.1 424.6L128.0 426.1M131.8 428.3L134.7 428.9M137.7 424.0L138.5 426.7M142.9 426.0L141.2 428.1M145.8 424.6L146.7 426.9M152.0 427.5L150.2 428.6M157.3 426.6L159.1 426.8M163.3 427.9L161.3 429.1M168.6 427.1L169.2 429.4M173.2 425.5L175.2 426.3M181.4 424.4L179.6 426.2M184.6 427.1L183.7 429.3M189.9 424.2L189.8 426.7M194.5 425.4L196.7 425.8M200.0 425.0L201.8 426.0M204.0 427.4L204.9 429.3M210.1 427.1L210.0 429.8M214.9 424.5L213.1 426.2M222.3 427.1L221.1 428.9M225.0 427.1L227.4 427.9M232.0 424.0L231.8 426.2M236.8 426.0L235.0 426.5M238.7 425.0L241.1 426.6M246.8 426.8L246.6 429.2M250.6 427.4L252.8 428.2M256.4 427.7L254.1 428.3M262.5 425.6L260.1 427.1M266.9 426.6L268.1 429.0M269.6 427.1L271.7 428.9M275.3 425.5L277.2 426.2M282.0 426.9L280.5 428.1M288.0 427.6L289.9 427.9M293.2 426.7L295.1 427.1M298.1 424.1L296.8 426.4M303.4 427.5L305.7 429.2M306.3 425.9L309.0 426.7M315.1 427.6L316.0 429.3M318.2 426.8L320.0 428.5M321.9 427.1L323.9 427.2M329.6 425.7L327.3 426.4M335.5 424.6L337.4 426.1M341.0 425.2L340.4 427.5M346.3 424.7L347.3 426.7M347.9 425.3L350.7 426.4M352.9 424.9L355.4 426.0M360.4 426.9L362.6 427.2M364.9 425.0L364.2 427.1M373.0 425.6L372.7 427.7M376.2 425.4L379.0 426.0M380.2 426.7L382.7 428.3M386.5 424.1L387.0 426.7M390.1 424.4L390.8 426.7M396.6 428.3L394.8 428.4M404.5 424.8L403.6 427.7M406.9 427.2L405.5 428.9M412.6 426.1L414.4 428.2M418.4 425.2L418.6 427.7M421.9 425.7L423.7 427.8M426.9 424.7L426.9 427.2M431.3 425.2L433.2 425.6M438.9 427.3L439.9 429.8M441.8 427.0L443.6 427.6M450.9 427.2L449.2 428.4M454.2 426.0L455.7 427.6M461.7 426.9L459.9 427.1M464.1 427.3L464.9 429.4M468.3 426.6L470.7 426.8M477.2 425.2L475.7 427.1M479.0 426.7L479.1 428.6M486.9 426.4L485.5 428.5M490.7 427.0L490.6 429.3M496.3 427.5L495.5 429.6M501.9 426.1L503.8 426.3M508.2 425.6L506.9 427.0M511.9 425.9L514.0 426.6M516.7 425.4L515.7 427.2M523.4 426.9L521.6 427.4M525.3 426.2L527.5 426.3M532.5 426.7L531.9 429.6M537.1 426.1L536.3 429.0M542.6 425.1L542.0 427.8M545.9 426.4L547.1 428.5M554.5 425.2L553.7 427.3M559.3 426.2L556.9 427.5M564.2 426.2L565.3 427.7M569.5 425.6L571.5 427.4M571.4 427.8L573.5 428.4M577.5 426.9L577.7 428.9M584.6 426.3L586.2 428.5M588.4 426.3L590.2 427.7M595.9 426.0L594.4 427.4M599.3 427.1L597.1 428.1M89.2 429.4L90.9 430.3M101.8 429.7L99.2 431.0M105.9 429.4L104.2 430.2M111.8 432.5L109.6 433.2M113.6 431.7L116.4 432.5M120.3 429.8L122.8 430.7M128.7 430.8L126.2 432.4M133.6 430.3L131.7 431.0M134.3 431.5L135.6 433.7M140.3 431.6L142.0 433.2M146.6 430.2L144.3 430.5M151.0 430.7L151.1 433.0M158.4 429.6L159.0 432.1M165.1 432.7L162.9 433.1M166.8 432.6L169.8 432.8M173.8 431.5L172.4 434.0M177.7 431.7L179.5 433.4M181.8 431.9L183.0 434.4M188.0 432.4L185.9 433.3M196.0 431.1L193.9 431.2M196.5 432.0L198.0 433.4M205.9 431.7L204.7 434.3M208.7 431.0L211.5 431.3M215.4 432.0L215.6 434.2M222.0 431.8L219.4 432.8M225.9 431.1L225.9 433.3M231.1 431.8L229.5 433.5M234.0 428.8L232.9 431.1M241.0 429.0L241.7 431.4M243.8 429.4L245.9 430.6M253.4 431.8L251.4 433.7M255.9 431.6L257.2 433.6M262.7 429.5L261.2 431.8M267.1 429.5L267.7 431.4M273.8 432.8L271.9 433.5M278.9 431.9L277.8 434.2M282.3 432.5L284.4 434.0M285.7 430.1L286.1 432.2M291.8 430.9L289.9 431.2M299.4 431.0L297.2 431.6M304.0 429.4L302.7 430.9M308.5 431.6L309.9 433.5M312.2 431.4L311.3 434.2M317.2 431.1L317.8 433.3M321.4 429.8L323.1 431.7M330.8 430.1L329.5 432.0M331.5 429.1L332.8 431.3M340.6 431.2L339.0 433.4M342.3 429.9L344.5 430.3M350.0 433.0L347.1 433.0M357.0 431.2L355.7 432.5M358.4 431.0L359.7 432.9M364.9 432.0L364.4 434.4M370.8 431.2L368.1 431.8M374.3 429.9L374.1 431.8M378.0 429.3L380.6 430.4M388.2 432.2L386.1 432.7M393.2 431.2L391.7 432.6M394.8 431.7L396.5 434.2M403.6 429.7L401.3 430.8M406.9 429.4L408.7 430.4M410.9 429.7L409.5 431.6M417.8 432.9L420.0 433.2M423.0 430.1L423.1 432.9M427.5 429.8L430.2 430.6M431.6 429.3L431.5 431.4M439.7 430.4L438.9 433.3M443.0 430.9L443.4 432.7M450.1 431.8L448.4 432.5M453.8 431.0L454.6 433.4M459.5 432.3L461.2 433.2M464.9 430.6L465.3 433.6M470.7 429.6L468.2 429.9M476.8 429.9L475.0 431.9M480.4 431.2L481.9 432.3M484.3 430.7L486.2 431.0M491.2 430.1L491.8 432.0M495.4 432.4L498.1 433.2M498.2 431.5L499.9 433.6M506.0 429.0L506.1 431.3M512.3 430.0L511.3 431.7M516.6 431.5L516.5 433.9M522.7 430.3L522.3 432.6M527.6 431.6L526.8 433.7M530.7 428.8L531.8 430.9M534.7 431.6L536.8 432.8M541.7 430.7L543.1 432.5M547.7 431.0L549.4 431.9M553.8 431.7L553.7 433.8M554.9 429.9L556.8 430.1M563.0 429.0L561.8 431.1M565.9 430.3L568.2 430.9M570.9 431.6L572.6 432.6M578.9 429.6L576.9 430.4M584.5 430.3L583.2 432.5M588.8 432.8L586.9 433.6M593.2 431.1L592.3 433.8M596.7 431.6L598.7 431.7M125.8 434.3L125.9 436.6M141.4 435.8L141.1 438.1M146.9 434.2L144.7 435.0M152.7 436.0L150.5 436.4M157.0 433.7L158.2 435.3M160.4 434.3L162.6 436.2M167.9 436.0L165.6 437.2M172.1 434.3L170.3 436.6M179.8 435.8L178.0 437.8M184.4 436.4L183.6 438.4M188.1 436.4L189.9 437.2M193.3 433.3L194.1 436.2M196.9 435.0L198.7 435.3M203.8 435.0L206.3 436.4M209.2 434.3L211.4 434.7M213.7 434.2L215.3 435.5M217.3 435.5L220.1 435.9M224.3 433.9L223.0 435.9M231.4 436.7L229.2 437.2M233.8 437.1L235.6 437.8M241.9 437.0L239.1 437.4M244.2 433.5L243.1 436.1M251.3 434.0L252.7 435.9M254.5 436.6L256.9 437.4M261.3 434.4L259.3 435.4M264.8 436.2L266.8 438.1M269.6 435.9L271.8 436.5M277.9 434.8L276.9 436.6M281.6 435.0L283.6 436.8M286.4 434.5L286.8 437.3M292.2 435.6L294.1 435.8M296.5 437.1L294.6 437.5M301.0 437.5L302.6 438.4M309.2 435.5L308.0 438.1M312.1 435.7L310.5 437.7M317.8 434.2L318.6 436.7M324.5 434.5L322.5 436.5M326.8 434.0L326.6 436.9M333.4 435.3L335.4 436.7M340.8 435.6L339.1 437.9M344.2 435.2L346.0 436.5M348.5 434.6L346.8 436.6M352.5 437.2L353.7 438.7M360.6 435.6L359.2 437.0M363.5 436.3L362.9 438.3M372.0 437.0L370.1 437.1M374.1 434.7L373.3 436.8M377.9 436.3L379.9 437.2M387.9 436.0L385.2 436.1M393.9 436.0L391.4 436.9M395.7 435.6L396.7 437.5M403.0 435.8L401.6 438.1M405.9 434.2L407.2 436.4M411.6 435.3L414.1 436.1M416.7 434.4L419.5 435.0M421.5 434.9L422.5 437.1M427.3 435.3L428.0 437.3M432.2 434.5L432.8 437.4M438.5 437.4L436.8 438.4M440.3 436.4L442.8 437.5M448.5 434.1L450.3 435.6M453.6 436.4L454.8 439.1M457.7 435.4L460.0 436.3M461.5 433.6L462.6 436.3M469.0 435.5L467.4 436.8M475.8 434.1L473.1 435.0M478.2 436.4L478.3 438.3M483.6 436.3L484.3 438.7M490.8 436.9L489.0 438.4M496.6 435.8L494.8 437.4M499.7 434.6L500.2 437.4M505.2 436.3L504.1 438.3M509.7 434.4L509.3 437.3M517.7 435.8L516.5 438.3M522.7 435.7L520.6 437.3M526.5 433.8L526.1 435.8M530.5 436.3L532.9 436.7M536.3 435.8L534.5 436.4M541.9 435.0L544.6 435.1M547.1 436.5L544.9 437.3M552.9 435.7L553.5 437.5M558.4 433.4L558.8 435.6M563.1 434.8L564.5 436.2M565.3 434.5L567.2 435.5M571.1 434.5L571.7 436.5M577.6 435.5L579.4 435.7M582.6 434.5L583.2 436.6M587.1 437.0L589.0 437.8M594.6 435.2L594.6 437.9M597.3 434.6L599.6 435.0M159.2 438.1L157.7 440.2M188.5 439.2L191.2 439.5M194.5 440.3L195.8 442.7M199.7 439.6L202.1 441.1M205.5 437.7L205.8 440.6M208.9 439.8L211.0 439.9M215.6 440.0L218.1 440.7M218.9 440.9L220.7 442.5M226.5 439.7L224.0 440.5M230.8 439.2L228.9 440.4M237.4 439.9L237.5 442.4M242.6 440.1L241.2 442.2M243.9 439.3L246.0 439.8M252.1 438.5L251.9 441.3M257.1 441.5L254.5 441.6M262.5 438.8L262.0 441.1M269.8 441.2L268.0 441.6M275.2 440.6L273.0 440.7M277.8 439.5L278.9 442.0M283.6 439.0L285.0 440.8M287.2 438.6L288.7 439.6M294.6 438.1L292.6 440.3M297.5 438.6L298.9 440.1M301.9 441.0L304.2 441.7M310.5 440.2L309.6 442.2M312.4 438.7L314.0 440.2M318.9 439.4L316.5 441.2M326.5 440.4L324.6 442.2M329.1 439.2L330.9 439.6M333.3 441.9L335.2 442.3M340.9 439.6L342.4 441.7M344.0 440.5L343.6 442.6M350.8 438.7L349.4 440.2M354.9 441.4L357.2 441.5M362.4 441.2L361.6 443.3M367.5 440.8L367.8 443.0M370.5 438.6L369.9 440.3M377.9 438.5L377.3 441.0M381.6 439.7L380.1 441.5M384.9 441.7L387.1 442.2M392.7 441.8L391.1 443.3M397.7 441.4L399.7 442.4M400.7 440.4L403.2 440.4M408.4 437.9L408.3 440.7M413.4 440.0L415.0 441.2M419.0 440.8L420.2 443.0M424.4 441.6L423.7 443.7M429.2 441.5L428.4 443.6M433.2 440.1L431.8 441.3M437.1 438.4L438.7 439.8M445.6 438.9L443.6 441.0M447.9 441.1L449.5 442.4M455.4 440.2L457.2 440.6M457.3 439.4L459.4 440.8M464.9 439.1L466.9 439.3M469.6 441.4L468.2 443.1M474.1 439.6L476.9 439.8M482.6 438.2L481.4 440.1M487.8 439.3L485.7 439.7M490.7 440.7L489.3 443.3M499.2 442.2L496.5 443.2M501.1 439.3L498.4 439.9M504.9 439.3L505.9 441.6M512.2 439.8L514.7 440.1M516.7 440.3L514.9 441.7M521.8 441.4L519.2 442.5M528.3 441.7L529.8 442.8M531.2 441.2L533.6 441.7M538.7 440.2L538.6 442.6M542.3 439.0L543.3 441.5M548.1 440.0L549.7 441.7M553.8 441.1L555.9 441.3M557.1 441.2L557.8 443.2M566.2 440.9L564.0 441.4M568.0 439.3L570.2 439.9M573.4 439.9L573.7 442.4M578.7 439.4L579.4 442.1M583.0 439.9L584.7 441.0M588.9 440.0L591.6 440.7M596.1 440.5L593.8 442.3M290.1 443.4L291.7 444.2M338.6 444.2L336.1 445.1M391.0 443.6L393.6 444.5M394.2 444.5L395.9 446.2M401.5 442.9L400.0 445.1M411.6 445.2L413.6 445.2M418.9 444.1L417.2 445.8M437.6 444.3L439.5 444.4M441.5 444.8L442.1 446.6M450.9 444.5L452.4 445.6M459.6 443.4L457.9 445.7M472.4 444.7L474.2 445.0M485.0 444.5L486.4 445.8M494.4 443.6L493.4 445.3M505.1 443.8L507.1 444.9M508.9 443.9L508.5 445.9M521.2 443.5L523.0 444.9M523.9 444.3L525.2 446.2M531.8 443.3L529.7 444.7M534.8 443.3L536.5 444.7M585.4 444.4L583.2 445.4M599.4 443.2L598.6 446.0" stroke="#8f8f8f" stroke-width="1" fill="none"/><g fill="none" stroke="#909090" stroke-width="0.8"><circle cx="1.0" cy="422.2" r="1.5"/><circle cx="5.2" cy="421.7" r="1.4"/><circle cx="9.8" cy="423.0" r="1.6"/><circle cx="16.1" cy="423.1" r="1.3"/><circle cx="20.8" cy="423.0" r="1.5"/><circle cx="0.9" cy="425.9" r="1.4"/><circle cx="7.8" cy="427.0" r="1.4"/><circle cx="13.3" cy="426.1" r="1.7"/><path d="M14.9,426.1v2.3"/><circle cx="17.8" cy="426.9" r="1.3"/><circle cx="23.2" cy="426.0" r="1.7"/><circle cx="26.9" cy="425.8" r="1.6"/><circle cx="32.4" cy="427.4" r="1.6"/><circle cx="36.5" cy="426.9" r="1.7"/><path d="M34.8,426.9v1.5"/><circle cx="40.9" cy="427.4" r="1.3"/><circle cx="47.2" cy="427.9" r="1.5"/><path d="M45.7,427.9v2.5"/><circle cx="3.2" cy="431.8" r="1.3"/><circle cx="9.4" cy="431.5" r="1.2"/><circle cx="12.9" cy="431.4" r="1.4"/><path d="M14.3,431.4v1.6"/><circle cx="17.9" cy="431.2" r="1.5"/><circle cx="24.2" cy="430.5" r="1.4"/><path d="M22.8,430.5v2.4"/><circle cx="27.9" cy="430.7" r="1.7"/><circle cx="33.6" cy="431.7" r="1.3"/><path d="M32.3,431.7v2.2"/><circle cx="39.6" cy="431.2" r="1.3"/><circle cx="42.6" cy="430.1" r="1.2"/><circle cx="48.0" cy="430.9" r="1.5"/><path d="M46.5,430.9v2.4"/><circle cx="52.6" cy="430.8" r="1.3"/><circle cx="58.6" cy="429.9" r="1.3"/><path d="M59.9,429.9v2.2"/><circle cx="63.4" cy="430.5" r="1.4"/><circle cx="68.6" cy="431.0" r="1.4"/><circle cx="73.9" cy="432.1" r="1.3"/><path d="M72.6,432.1v2.1"/><circle cx="2.7" cy="436.4" r="1.3"/><circle cx="7.9" cy="434.4" r="1.5"/><circle cx="13.6" cy="436.0" r="1.5"/><path d="M12.1,436.0v1.5"/><circle cx="17.8" cy="434.3" r="1.2"/><path d="M19.1,434.3v1.5"/><circle cx="22.6" cy="435.0" r="1.7"/><path d="M24.3,435.0v2.5"/><circle cx="28.3" cy="436.1" r="1.5"/><circle cx="33.0" cy="436.1" r="1.5"/><circle cx="37.9" cy="434.5" r="1.6"/><circle cx="41.8" cy="435.8" r="1.5"/><circle cx="47.1" cy="435.7" r="1.7"/><circle cx="53.0" cy="435.0" r="1.5"/><path d="M54.5,435.0v2.3"/><circle cx="56.7" cy="434.7" r="1.3"/><path d="M58.0,434.7v1.5"/><circle cx="62.9" cy="435.6" r="1.4"/><circle cx="67.2" cy="434.4" r="1.6"/><circle cx="71.4" cy="434.4" r="1.5"/><circle cx="76.9" cy="436.2" r="1.5"/><circle cx="81.8" cy="434.4" r="1.5"/><circle cx="87.5" cy="436.1" r="1.3"/><circle cx="93.0" cy="436.3" r="1.2"/><circle cx="97.5" cy="436.4" r="1.5"/><path d="M99.0,436.4v1.6"/><circle cx="102.2" cy="436.3" r="1.4"/><circle cx="3.0" cy="439.2" r="1.6"/><path d="M1.4,439.2v2.2"/><circle cx="9.1" cy="439.4" r="1.3"/><circle cx="12.6" cy="439.0" r="1.4"/><circle cx="17.7" cy="439.0" r="1.5"/><circle cx="24.6" cy="439.2" r="1.2"/><path d="M23.4,439.2v2.2"/><circle cx="28.8" cy="439.9" r="1.2"/><circle cx="34.8" cy="440.5" r="1.6"/><path d="M36.3,440.5v2.3"/><circle cx="38.9" cy="440.1" r="1.4"/><circle cx="43.6" cy="439.3" r="1.6"/><circle cx="47.6" cy="438.6" r="1.4"/><circle cx="54.1" cy="440.4" r="1.7"/><circle cx="58.9" cy="439.7" r="1.5"/><path d="M60.3,439.7v2.0"/><circle cx="64.9" cy="438.9" r="1.7"/><path d="M66.5,438.9v1.6"/><circle cx="68.1" cy="439.6" r="1.4"/><path d="M69.5,439.6v1.9"/><circle cx="74.1" cy="440.2" r="1.6"/><circle cx="77.8" cy="439.7" r="1.4"/><path d="M76.4,439.7v1.9"/><circle cx="82.6" cy="438.3" r="1.2"/><path d="M81.3,438.3v1.9"/><circle cx="88.9" cy="438.5" r="1.6"/><circle cx="94.8" cy="439.4" r="1.3"/><circle cx="98.1" cy="439.5" r="1.3"/><path d="M96.8,439.5v1.7"/><circle cx="104.1" cy="438.7" r="1.5"/><circle cx="108.3" cy="439.6" r="1.3"/><circle cx="114.9" cy="440.6" r="1.2"/><circle cx="119.5" cy="439.6" r="1.2"/><path d="M118.3,439.6v1.6"/><circle cx="123.6" cy="439.5" r="1.3"/><path d="M124.9,439.5v2.3"/><circle cx="143.4" cy="440.6" r="1.6"/><path d="M145.0,440.6v2.1"/><circle cx="0.8" cy="444.5" r="1.6"/><path d="M2.3,444.5v1.8"/><circle cx="7.1" cy="443.8" r="1.6"/><circle cx="11.3" cy="444.8" r="1.4"/><circle cx="17.5" cy="443.3" r="1.6"/><circle cx="22.7" cy="442.6" r="1.5"/><path d="M21.2,442.6v2.1"/><circle cx="27.7" cy="443.1" r="1.3"/><circle cx="31.7" cy="443.0" r="1.4"/><path d="M30.3,443.0v2.5"/><circle cx="37.6" cy="444.3" r="1.2"/><path d="M36.4,444.3v2.2"/><circle cx="40.7" cy="444.2" r="1.5"/><circle cx="46.1" cy="443.4" r="1.5"/><circle cx="52.7" cy="444.6" r="1.6"/><circle cx="56.7" cy="444.1" r="1.5"/><circle cx="61.3" cy="443.1" r="1.7"/><circle cx="67.4" cy="443.6" r="1.4"/><path d="M68.8,443.6v1.6"/><circle cx="71.7" cy="443.3" r="1.3"/><circle cx="77.3" cy="444.4" r="1.4"/><circle cx="81.7" cy="443.5" r="1.3"/><path d="M80.4,443.5v2.4"/><circle cx="87.4" cy="442.7" r="1.6"/><path d="M89.0,442.7v1.9"/><circle cx="92.5" cy="443.6" r="1.3"/><path d="M93.8,443.6v2.2"/><circle cx="96.4" cy="444.5" r="1.4"/><circle cx="101.9" cy="442.9" r="1.3"/><circle cx="107.8" cy="444.0" r="1.4"/><circle cx="110.6" cy="444.3" r="1.6"/><path d="M112.2,444.3v2.4"/><circle cx="117.4" cy="443.9" r="1.5"/><circle cx="121.4" cy="443.0" r="1.3"/><circle cx="127.6" cy="443.1" r="1.6"/><circle cx="131.4" cy="443.1" r="1.6"/><circle cx="135.7" cy="442.6" r="1.7"/><path d="M137.3,442.6v2.3"/><circle cx="140.7" cy="443.2" r="1.2"/><circle cx="147.2" cy="442.6" r="1.6"/><circle cx="151.5" cy="443.5" r="1.6"/><circle cx="157.6" cy="442.7" r="1.5"/><circle cx="162.3" cy="442.6" r="1.6"/><circle cx="167.8" cy="442.8" r="1.5"/><path d="M169.3,442.8v2.3"/><circle cx="171.6" cy="444.3" r="1.4"/><circle cx="175.8" cy="444.9" r="1.5"/><path d="M177.3,444.9v1.6"/><circle cx="182.9" cy="443.9" r="1.4"/><circle cx="206.1" cy="444.9" r="1.4"/><path d="M207.5,444.9v2.0"/><circle cx="0.3" cy="449.0" r="1.5"/><path d="M1.9,449.0v2.4"/><circle cx="6.9" cy="447.6" r="1.4"/><circle cx="12.2" cy="449.0" r="1.3"/><path d="M10.9,449.0v1.7"/><circle cx="15.9" cy="447.3" r="1.5"/><path d="M17.4,447.3v2.4"/><circle cx="21.3" cy="446.8" r="1.3"/><circle cx="26.6" cy="447.8" r="1.7"/><circle cx="30.7" cy="446.9" r="1.5"/><path d="M32.2,446.9v2.5"/><circle cx="36.6" cy="448.0" r="1.4"/><circle cx="41.9" cy="448.7" r="1.2"/><path d="M40.6,448.7v2.2"/><circle cx="45.5" cy="448.8" r="1.2"/><circle cx="50.3" cy="447.9" r="1.6"/><path d="M51.9,447.9v2.5"/><circle cx="55.5" cy="448.3" r="1.2"/><circle cx="62.1" cy="447.6" r="1.6"/><circle cx="66.5" cy="449.1" r="1.5"/><circle cx="71.0" cy="448.8" r="1.5"/><path d="M69.5,448.8v2.2"/><circle cx="75.3" cy="447.9" r="1.3"/><path d="M76.6,447.9v1.7"/><circle cx="81.8" cy="448.8" r="1.2"/><path d="M83.0,448.8v1.6"/><circle cx="86.2" cy="448.8" r="1.2"/><circle cx="90.3" cy="449.0" r="1.3"/><path d="M91.6,449.0v2.1"/><circle cx="97.4" cy="448.6" r="1.6"/><path d="M99.0,448.6v2.0"/><circle cx="102.2" cy="449.1" r="1.4"/><circle cx="107.3" cy="448.9" r="1.6"/><circle cx="110.8" cy="447.7" r="1.3"/><path d="M112.1,447.7v1.9"/><circle cx="117.1" cy="447.5" r="1.3"/><circle cx="120.7" cy="447.9" r="1.2"/><path d="M121.9,447.9v1.8"/><circle cx="126.6" cy="447.9" r="1.5"/><circle cx="130.1" cy="448.8" r="1.4"/><circle cx="135.6" cy="448.5" r="1.4"/><circle cx="142.0" cy="447.3" r="1.5"/><circle cx="147.0" cy="448.7" r="1.2"/><circle cx="150.7" cy="447.9" r="1.2"/><path d="M149.5,447.9v2.0"/><circle cx="156.2" cy="447.6" r="1.5"/><circle cx="162.2" cy="447.6" r="1.3"/><path d="M161.0,447.6v1.7"/><circle cx="166.2" cy="447.6" r="1.7"/><path d="M167.8,447.6v1.8"/><circle cx="171.2" cy="447.2" r="1.2"/><circle cx="176.1" cy="448.2" r="1.4"/><path d="M174.7,448.2v1.8"/><circle cx="180.9" cy="447.6" r="1.5"/><path d="M179.4,447.6v2.3"/><circle cx="187.2" cy="448.0" r="1.4"/><circle cx="192.3" cy="447.8" r="1.2"/><circle cx="197.3" cy="448.9" r="1.7"/><circle cx="200.5" cy="449.1" r="1.6"/><path d="M202.1,449.1v2.3"/><circle cx="205.2" cy="447.0" r="1.6"/><path d="M206.8,447.0v2.0"/><circle cx="210.4" cy="446.8" r="1.3"/><circle cx="215.8" cy="447.0" r="1.3"/><path d="M214.5,447.0v2.2"/><circle cx="220.4" cy="448.1" r="1.6"/><path d="M218.8,448.1v1.8"/><circle cx="226.2" cy="448.4" r="1.5"/><circle cx="231.7" cy="448.8" r="1.6"/><circle cx="235.3" cy="447.1" r="1.6"/><path d="M236.9,447.1v2.4"/><circle cx="242.0" cy="448.6" r="1.4"/><path d="M240.6,448.6v1.8"/><circle cx="246.7" cy="449.1" r="1.2"/><circle cx="250.5" cy="447.4" r="1.4"/><circle cx="255.1" cy="448.2" r="1.4"/><path d="M253.7,448.2v1.6"/><circle cx="260.5" cy="447.3" r="1.4"/><path d="M259.1,447.3v1.9"/><circle cx="265.7" cy="447.7" r="1.6"/><path d="M267.3,447.7v1.7"/><circle cx="271.0" cy="448.0" r="1.3"/><circle cx="275.9" cy="448.6" r="1.5"/><circle cx="282.0" cy="447.2" r="1.3"/><circle cx="286.7" cy="446.8" r="1.5"/><circle cx="291.1" cy="446.9" r="1.4"/><circle cx="295.3" cy="448.7" r="1.7"/><circle cx="301.9" cy="448.5" r="1.6"/><circle cx="305.3" cy="447.2" r="1.4"/><circle cx="315.1" cy="449.1" r="1.6"/><path d="M316.6,449.1v1.9"/><circle cx="327.1" cy="447.9" r="1.2"/><circle cx="330.9" cy="447.8" r="1.5"/><circle cx="335.1" cy="447.4" r="1.3"/><circle cx="341.1" cy="447.5" r="1.2"/><path d="M339.9,447.5v2.0"/><circle cx="355.4" cy="448.0" r="1.6"/><path d="M357.0,448.0v2.2"/><circle cx="360.6" cy="448.8" r="1.6"/><circle cx="366.3" cy="447.9" r="1.2"/><path d="M365.1,447.9v2.1"/><circle cx="371.8" cy="448.7" r="1.3"/><circle cx="391.8" cy="448.5" r="1.6"/><path d="M393.4,448.5v2.5"/><circle cx="397.0" cy="448.2" r="1.7"/><circle cx="401.3" cy="448.7" r="1.5"/><path d="M402.9,448.7v1.7"/><circle cx="430.5" cy="448.7" r="1.5"/><path d="M432.1,448.7v2.1"/><circle cx="450.7" cy="448.5" r="1.6"/><circle cx="461.0" cy="449.0" r="1.2"/><path d="M462.2,449.0v2.3"/><circle cx="465.4" cy="448.9" r="1.4"/><circle cx="476.0" cy="448.4" r="1.5"/><path d="M477.5,448.4v2.1"/><circle cx="517.4" cy="448.1" r="1.4"/><path d="M515.9,448.1v1.9"/><circle cx="537.1" cy="448.6" r="1.7"/><circle cx="545.6" cy="449.0" r="1.3"/><circle cx="551.6" cy="448.4" r="1.5"/><circle cx="556.6" cy="448.0" r="1.5"/><path d="M558.0,448.0v2.0"/><circle cx="561.2" cy="448.8" r="1.4"/><circle cx="582.2" cy="447.7" r="1.5"/><circle cx="586.0" cy="448.3" r="1.5"/><path d="M584.5,448.3v2.1"/><circle cx="591.8" cy="449.1" r="1.4"/><path d="M593.2,449.1v2.2"/><circle cx="3.7" cy="452.0" r="1.5"/><path d="M2.2,452.0v2.0"/><circle cx="8.5" cy="451.6" r="1.4"/><circle cx="12.3" cy="451.4" r="1.2"/><path d="M13.5,451.4v2.0"/><circle cx="18.4" cy="452.1" r="1.3"/><path d="M19.8,452.1v2.0"/><circle cx="22.1" cy="452.5" r="1.4"/><circle cx="27.2" cy="452.2" r="1.7"/><path d="M25.5,452.2v2.2"/><circle cx="32.8" cy="452.3" r="1.4"/><path d="M34.2,452.3v2.5"/><circle cx="38.9" cy="452.3" r="1.6"/><circle cx="44.2" cy="452.8" r="1.4"/><circle cx="47.0" cy="453.0" r="1.6"/><circle cx="51.9" cy="452.0" r="1.7"/><circle cx="57.9" cy="452.9" r="1.3"/><circle cx="63.6" cy="452.4" r="1.6"/><circle cx="67.7" cy="452.6" r="1.3"/><path d="M69.0,452.6v1.7"/><circle cx="72.0" cy="452.6" r="1.2"/><circle cx="78.0" cy="451.6" r="1.3"/><path d="M79.3,451.6v1.8"/><circle cx="82.9" cy="451.7" r="1.3"/><path d="M81.5,451.7v1.6"/><circle cx="87.5" cy="451.6" r="1.4"/><path d="M88.9,451.6v1.8"/><circle cx="93.5" cy="452.4" r="1.4"/><circle cx="98.4" cy="451.4" r="1.6"/><path d="M100.0,451.4v2.4"/><circle cx="102.4" cy="451.6" r="1.6"/><circle cx="107.2" cy="451.1" r="1.4"/><circle cx="113.9" cy="452.3" r="1.4"/><circle cx="119.1" cy="452.6" r="1.5"/><circle cx="123.1" cy="452.0" r="1.7"/><circle cx="128.9" cy="452.2" r="1.4"/><path d="M127.5,452.2v1.8"/><circle cx="132.5" cy="451.6" r="1.3"/><circle cx="138.7" cy="452.6" r="1.4"/><circle cx="144.0" cy="453.2" r="1.6"/><circle cx="148.7" cy="452.3" r="1.3"/><path d="M147.4,452.3v1.9"/><circle cx="152.0" cy="451.8" r="1.2"/><circle cx="158.1" cy="452.8" r="1.6"/><circle cx="161.9" cy="452.4" r="1.3"/><path d="M160.6,452.4v2.2"/><circle cx="168.4" cy="451.6" r="1.5"/><circle cx="171.9" cy="452.5" r="1.5"/><path d="M170.4,452.5v2.2"/><circle cx="179.0" cy="453.2" r="1.3"/><path d="M177.7,453.2v1.7"/><circle cx="183.2" cy="452.4" r="1.4"/><circle cx="188.7" cy="451.8" r="1.5"/><path d="M187.2,451.8v1.9"/><circle cx="192.9" cy="451.3" r="1.5"/><circle cx="197.5" cy="451.1" r="1.4"/><circle cx="203.5" cy="452.1" r="1.5"/><circle cx="208.3" cy="452.9" r="1.7"/><path d="M210.0,452.9v2.1"/><circle cx="213.0" cy="451.5" r="1.5"/><circle cx="219.1" cy="451.8" r="1.6"/><path d="M220.7,451.8v2.2"/><circle cx="223.0" cy="452.6" r="1.3"/><circle cx="227.2" cy="451.1" r="1.6"/><circle cx="233.0" cy="451.5" r="1.6"/><circle cx="237.0" cy="453.1" r="1.4"/><circle cx="243.8" cy="451.5" r="1.3"/><path d="M245.0,451.5v2.0"/><circle cx="247.6" cy="452.3" r="1.3"/><path d="M246.3,452.3v2.1"/><circle cx="252.2" cy="451.4" r="1.6"/><circle cx="258.9" cy="452.5" r="1.3"/><circle cx="264.2" cy="452.6" r="1.6"/><circle cx="267.5" cy="453.3" r="1.4"/><circle cx="272.5" cy="451.4" r="1.4"/><path d="M273.9,451.4v1.9"/><circle cx="277.8" cy="452.0" r="1.4"/><circle cx="282.8" cy="453.4" r="1.4"/><circle cx="289.1" cy="452.9" r="1.2"/><circle cx="292.3" cy="452.8" r="1.3"/><path d="M293.7,452.8v1.9"/><circle cx="297.7" cy="452.4" r="1.6"/><circle cx="303.3" cy="452.1" r="1.3"/><path d="M302.0,452.1v1.8"/><circle cx="308.0" cy="452.8" r="1.4"/><circle cx="311.9" cy="452.6" r="1.5"/><circle cx="318.0" cy="451.7" r="1.5"/><path d="M316.5,451.7v1.6"/><circle cx="322.6" cy="452.3" r="1.4"/><path d="M324.0,452.3v1.6"/><circle cx="328.6" cy="451.8" r="1.6"/><circle cx="332.2" cy="451.4" r="1.3"/><path d="M330.8,451.4v1.9"/><circle cx="337.6" cy="452.4" r="1.5"/><circle cx="343.8" cy="452.7" r="1.3"/><circle cx="348.9" cy="452.7" r="1.6"/><circle cx="352.7" cy="452.9" r="1.6"/><path d="M354.2,452.9v2.0"/><circle cx="357.9" cy="451.8" r="1.5"/><circle cx="362.4" cy="452.8" r="1.2"/><path d="M363.6,452.8v1.9"/><circle cx="368.7" cy="453.0" r="1.6"/><path d="M370.4,453.0v1.5"/><circle cx="372.9" cy="451.1" r="1.5"/><circle cx="378.7" cy="452.2" r="1.5"/><circle cx="383.6" cy="452.4" r="1.7"/><circle cx="388.1" cy="453.0" r="1.6"/><path d="M389.7,453.0v2.1"/><circle cx="394.2" cy="452.9" r="1.6"/><circle cx="397.5" cy="452.1" r="1.6"/><circle cx="403.4" cy="451.2" r="1.5"/><path d="M404.9,451.2v2.4"/><circle cx="407.8" cy="451.8" r="1.5"/><path d="M406.3,451.8v1.7"/><circle cx="412.8" cy="451.7" r="1.3"/><circle cx="417.6" cy="452.1" r="1.5"/><circle cx="423.2" cy="451.9" r="1.6"/><circle cx="427.2" cy="452.9" r="1.3"/><path d="M425.9,452.9v2.0"/><circle cx="434.1" cy="451.1" r="1.3"/><path d="M432.8,451.1v1.8"/><circle cx="437.6" cy="451.6" r="1.3"/><path d="M438.9,451.6v2.5"/><circle cx="442.4" cy="453.3" r="1.6"/><path d="M444.0,453.3v1.6"/><circle cx="449.1" cy="451.1" r="1.6"/><circle cx="452.3" cy="451.2" r="1.4"/><path d="M453.7,451.2v2.1"/><circle cx="457.1" cy="453.4" r="1.5"/><circle cx="463.0" cy="451.4" r="1.3"/><circle cx="468.6" cy="451.9" r="1.7"/><circle cx="472.3" cy="451.3" r="1.5"/><circle cx="478.0" cy="453.3" r="1.2"/><path d="M479.2,453.3v1.9"/><circle cx="483.9" cy="451.9" r="1.7"/><circle cx="487.8" cy="453.1" r="1.4"/><circle cx="492.0" cy="452.6" r="1.4"/><circle cx="499.1" cy="451.7" r="1.5"/><path d="M497.6,451.7v2.3"/><circle cx="502.2" cy="451.1" r="1.5"/><path d="M503.7,451.1v2.3"/><circle cx="507.0" cy="453.0" r="1.6"/><circle cx="512.7" cy="452.0" r="1.3"/><path d="M511.4,452.0v2.2"/><circle cx="518.8" cy="451.5" r="1.6"/><path d="M517.1,451.5v1.5"/><circle cx="522.3" cy="452.0" r="1.4"/><circle cx="528.3" cy="451.1" r="1.2"/><path d="M529.5,451.1v1.5"/><circle cx="533.9" cy="453.2" r="1.2"/><path d="M532.7,453.2v1.7"/><circle cx="536.8" cy="453.2" r="1.2"/><circle cx="542.1" cy="452.2" r="1.7"/><circle cx="548.1" cy="451.4" r="1.5"/><circle cx="552.6" cy="452.2" r="1.7"/><path d="M554.2,452.2v2.5"/><circle cx="558.4" cy="451.3" r="1.4"/><circle cx="563.2" cy="451.4" r="1.5"/><circle cx="567.1" cy="452.6" r="1.6"/><circle cx="572.5" cy="452.5" r="1.3"/><path d="M573.8,452.5v1.8"/><circle cx="579.1" cy="452.7" r="1.5"/><circle cx="583.9" cy="452.9" r="1.3"/><circle cx="588.4" cy="452.4" r="1.7"/><path d="M590.1,452.4v2.1"/><circle cx="593.7" cy="453.4" r="1.2"/><circle cx="598.8" cy="451.6" r="1.4"/><path d="M600.2,451.6v2.0"/><circle cx="2.0" cy="457.3" r="1.5"/><circle cx="6.0" cy="456.8" r="1.5"/><path d="M7.5,456.8v2.2"/><circle cx="11.8" cy="456.1" r="1.7"/><path d="M13.5,456.1v2.3"/><circle cx="16.7" cy="456.6" r="1.5"/><circle cx="21.3" cy="456.5" r="1.2"/><path d="M20.1,456.5v2.5"/><circle cx="25.8" cy="455.8" r="1.4"/><path d="M27.3,455.8v1.6"/><circle cx="31.4" cy="456.4" r="1.5"/><circle cx="37.8" cy="457.6" r="1.3"/><circle cx="42.6" cy="456.5" r="1.3"/><circle cx="47.4" cy="455.8" r="1.6"/><circle cx="52.4" cy="456.7" r="1.5"/><path d="M53.9,456.7v2.0"/><circle cx="57.2" cy="457.7" r="1.3"/><path d="M55.9,457.7v2.1"/><circle cx="62.6" cy="455.8" r="1.7"/><circle cx="66.8" cy="457.6" r="1.4"/><path d="M65.4,457.6v2.5"/><circle cx="72.8" cy="456.0" r="1.7"/><circle cx="77.7" cy="456.4" r="1.3"/><circle cx="80.5" cy="455.9" r="1.5"/><path d="M79.0,455.9v1.6"/><circle cx="86.5" cy="455.6" r="1.6"/><circle cx="92.5" cy="457.6" r="1.3"/><circle cx="97.1" cy="456.2" r="1.3"/><circle cx="100.7" cy="457.6" r="1.3"/><circle cx="105.8" cy="457.1" r="1.7"/><path d="M107.5,457.1v1.6"/><circle cx="111.2" cy="456.1" r="1.5"/><circle cx="116.8" cy="457.2" r="1.5"/><path d="M118.3,457.2v1.8"/><circle cx="120.8" cy="457.1" r="1.4"/><path d="M122.2,457.1v2.4"/><circle cx="127.8" cy="455.4" r="1.6"/><path d="M129.4,455.4v1.9"/><circle cx="130.9" cy="457.0" r="1.6"/><circle cx="136.2" cy="456.6" r="1.2"/><circle cx="142.8" cy="457.4" r="1.3"/><circle cx="146.7" cy="457.0" r="1.4"/><path d="M145.3,457.0v2.4"/><circle cx="151.2" cy="457.0" r="1.3"/><path d="M152.5,457.0v1.9"/><circle cx="157.5" cy="457.7" r="1.2"/><path d="M158.8,457.7v1.7"/><circle cx="161.7" cy="456.7" r="1.5"/><path d="M163.2,456.7v2.1"/><circle cx="167.5" cy="456.2" r="1.5"/><circle cx="171.4" cy="456.7" r="1.5"/><circle cx="177.8" cy="456.7" r="1.3"/><circle cx="181.4" cy="456.9" r="1.7"/><circle cx="186.5" cy="457.1" r="1.4"/><circle cx="192.6" cy="456.7" r="1.5"/><circle cx="197.5" cy="456.8" r="1.6"/><circle cx="200.6" cy="456.7" r="1.2"/><circle cx="205.8" cy="457.5" r="1.6"/><circle cx="212.6" cy="455.9" r="1.6"/><path d="M210.9,455.9v1.8"/><circle cx="217.4" cy="456.1" r="1.5"/><circle cx="222.4" cy="455.7" r="1.5"/><circle cx="227.1" cy="457.1" r="1.6"/><circle cx="230.9" cy="456.5" r="1.2"/><path d="M229.7,456.5v1.8"/><circle cx="236.3" cy="457.5" r="1.2"/><circle cx="242.0" cy="456.8" r="1.6"/><path d="M243.6,456.8v1.9"/><circle cx="247.5" cy="457.4" r="1.6"/><circle cx="251.3" cy="455.6" r="1.5"/><circle cx="257.2" cy="456.6" r="1.6"/><circle cx="261.5" cy="457.0" r="1.3"/><path d="M262.8,457.0v2.4"/><circle cx="265.9" cy="456.1" r="1.4"/><path d="M267.2,456.1v1.6"/><circle cx="272.8" cy="457.3" r="1.6"/><path d="M271.2,457.3v1.8"/><circle cx="276.1" cy="457.3" r="1.3"/><path d="M277.4,457.3v1.5"/><circle cx="281.1" cy="457.0" r="1.3"/><circle cx="286.6" cy="457.2" r="1.3"/><path d="M285.3,457.2v2.4"/><circle cx="291.7" cy="456.4" r="1.5"/><circle cx="296.0" cy="455.7" r="1.5"/><path d="M297.4,455.7v2.2"/><circle cx="302.2" cy="457.7" r="1.6"/><path d="M303.8,457.7v1.9"/><circle cx="307.7" cy="455.9" r="1.5"/><path d="M306.3,455.9v1.8"/><circle cx="312.5" cy="457.0" r="1.6"/><circle cx="315.8" cy="457.5" r="1.7"/><circle cx="321.8" cy="455.6" r="1.6"/><path d="M323.4,455.6v2.2"/><circle cx="327.1" cy="456.6" r="1.7"/><circle cx="331.9" cy="455.4" r="1.5"/><circle cx="336.6" cy="457.6" r="1.3"/><circle cx="341.9" cy="455.4" r="1.4"/><circle cx="345.9" cy="456.9" r="1.2"/><circle cx="351.9" cy="457.6" r="1.6"/><circle cx="356.7" cy="457.0" r="1.7"/><circle cx="361.0" cy="456.4" r="1.5"/><circle cx="366.3" cy="456.7" r="1.6"/><circle cx="370.9" cy="456.6" r="1.5"/><path d="M369.3,456.6v2.5"/><circle cx="375.6" cy="457.1" r="1.5"/><circle cx="380.7" cy="455.5" r="1.4"/><path d="M379.3,455.5v1.7"/><circle cx="387.0" cy="457.1" r="1.3"/><path d="M388.3,457.1v2.2"/><circle cx="391.3" cy="455.5" r="1.4"/><circle cx="397.2" cy="457.2" r="1.4"/><circle cx="402.6" cy="455.7" r="1.4"/><path d="M403.9,455.7v2.4"/><circle cx="406.7" cy="455.7" r="1.4"/><path d="M405.3,455.7v1.8"/><circle cx="412.3" cy="456.6" r="1.2"/><circle cx="417.9" cy="455.4" r="1.4"/><path d="M416.5,455.4v1.5"/><circle cx="421.4" cy="455.4" r="1.7"/><circle cx="427.6" cy="457.6" r="1.3"/><circle cx="431.0" cy="455.8" r="1.4"/><circle cx="437.7" cy="456.7" r="1.5"/><circle cx="442.2" cy="457.4" r="1.3"/><path d="M443.5,457.4v1.5"/><circle cx="445.6" cy="456.6" r="1.7"/><circle cx="452.5" cy="456.0" r="1.3"/><path d="M451.1,456.0v2.1"/><circle cx="455.9" cy="455.5" r="1.3"/><path d="M457.2,455.5v2.4"/><circle cx="462.7" cy="456.6" r="1.4"/><circle cx="465.8" cy="456.6" r="1.4"/><path d="M464.4,456.6v2.5"/><circle cx="471.7" cy="457.2" r="1.2"/><path d="M472.9,457.2v2.3"/><circle cx="477.7" cy="457.0" r="1.6"/><path d="M476.1,457.0v2.2"/><circle cx="481.3" cy="456.6" r="1.5"/><circle cx="486.5" cy="456.6" r="1.3"/><path d="M487.8,456.6v2.3"/><circle cx="491.2" cy="456.8" r="1.4"/><path d="M492.6,456.8v1.5"/><circle cx="495.8" cy="456.6" r="1.5"/><path d="M497.3,456.6v2.3"/><circle cx="502.2" cy="456.6" r="1.2"/><circle cx="506.3" cy="456.7" r="1.7"/><circle cx="512.1" cy="457.1" r="1.5"/><path d="M513.5,457.1v1.9"/><circle cx="516.4" cy="456.6" r="1.6"/><circle cx="521.6" cy="456.5" r="1.6"/><circle cx="527.2" cy="455.4" r="1.3"/><circle cx="531.0" cy="455.8" r="1.4"/><circle cx="536.7" cy="456.7" r="1.5"/><path d="M538.2,456.7v1.7"/><circle cx="542.2" cy="457.5" r="1.2"/><path d="M543.4,457.5v2.5"/><circle cx="547.9" cy="457.3" r="1.4"/><circle cx="550.6" cy="455.6" r="1.3"/><circle cx="557.6" cy="456.3" r="1.5"/><circle cx="562.0" cy="455.8" r="1.6"/><circle cx="566.2" cy="457.0" r="1.4"/><circle cx="571.2" cy="457.5" r="1.6"/><circle cx="577.0" cy="456.8" r="1.4"/><circle cx="581.6" cy="456.9" r="1.3"/><circle cx="585.8" cy="457.5" r="1.4"/><path d="M587.2,457.5v1.7"/><circle cx="592.3" cy="457.6" r="1.6"/><circle cx="596.2" cy="456.0" r="1.6"/><path d="M594.6,456.0v1.9"/><circle cx="3.7" cy="459.8" r="1.6"/><path d="M2.1,459.8v2.0"/><circle cx="8.5" cy="460.1" r="1.6"/><path d="M6.9,460.1v1.7"/><circle cx="30.1" cy="460.0" r="1.3"/><path d="M28.8,460.0v2.4"/><circle cx="40.4" cy="460.4" r="1.3"/><circle cx="44.2" cy="459.9" r="1.3"/><path d="M42.8,459.9v2.1"/><circle cx="63.9" cy="459.9" r="1.5"/><path d="M62.4,459.9v2.2"/><circle cx="74.7" cy="460.0" r="1.7"/><path d="M73.0,460.0v2.4"/><circle cx="79.9" cy="459.6" r="1.2"/><path d="M81.1,459.6v2.3"/><circle cx="83.5" cy="460.1" r="1.5"/><circle cx="99.8" cy="460.2" r="1.5"/><circle cx="109.7" cy="460.4" r="1.7"/><circle cx="115.4" cy="459.9" r="1.5"/><path d="M114.0,459.9v1.8"/><circle cx="124.2" cy="460.2" r="1.3"/><circle cx="129.3" cy="460.3" r="1.2"/><circle cx="140.6" cy="459.9" r="1.5"/><path d="M142.1,459.9v1.9"/><circle cx="149.3" cy="460.5" r="1.4"/><path d="M150.7,460.5v1.6"/><circle cx="154.5" cy="460.1" r="1.6"/><circle cx="165.1" cy="460.4" r="1.4"/><circle cx="170.1" cy="460.4" r="1.4"/><path d="M171.5,460.4v1.6"/><circle cx="174.8" cy="460.3" r="1.6"/><circle cx="179.7" cy="459.7" r="1.3"/><circle cx="183.6" cy="460.5" r="1.5"/><path d="M185.1,460.5v1.5"/><circle cx="210.2" cy="459.9" r="1.4"/><path d="M208.8,459.9v2.3"/><circle cx="224.7" cy="459.6" r="1.2"/><path d="M223.5,459.6v1.5"/><circle cx="230.3" cy="459.7" r="1.6"/><path d="M231.9,459.7v1.7"/><circle cx="233.6" cy="460.1" r="1.6"/><path d="M235.2,460.1v2.1"/><circle cx="244.9" cy="460.2" r="1.3"/><circle cx="250.4" cy="459.9" r="1.4"/><circle cx="254.7" cy="459.9" r="1.5"/><circle cx="269.8" cy="459.9" r="1.4"/><circle cx="273.6" cy="460.5" r="1.4"/><path d="M272.2,460.5v2.1"/><circle cx="280.6" cy="460.4" r="1.4"/><circle cx="284.3" cy="459.6" r="1.4"/><circle cx="289.1" cy="460.4" r="1.2"/><path d="M287.8,460.4v1.6"/><circle cx="293.9" cy="460.5" r="1.3"/><circle cx="305.5" cy="460.3" r="1.6"/><circle cx="315.1" cy="459.6" r="1.6"/><circle cx="323.7" cy="460.2" r="1.5"/><circle cx="333.4" cy="460.1" r="1.4"/><circle cx="339.3" cy="459.6" r="1.6"/><circle cx="344.3" cy="459.7" r="1.5"/><path d="M342.9,459.7v2.2"/><circle cx="348.3" cy="460.5" r="1.7"/><path d="M346.6,460.5v2.2"/><circle cx="353.9" cy="460.5" r="1.4"/><circle cx="364.9" cy="459.9" r="1.4"/><path d="M363.6,459.9v2.0"/><circle cx="375.4" cy="459.8" r="1.5"/><path d="M373.9,459.8v1.5"/><circle cx="383.8" cy="460.0" r="1.2"/><circle cx="388.8" cy="459.8" r="1.2"/><circle cx="395.0" cy="460.4" r="1.7"/><path d="M396.7,460.4v2.1"/><circle cx="404.7" cy="459.7" r="1.3"/><circle cx="410.5" cy="460.0" r="1.6"/><path d="M412.0,460.0v2.3"/><circle cx="413.8" cy="459.7" r="1.2"/><path d="M412.5,459.7v2.0"/><circle cx="424.7" cy="460.0" r="1.3"/><circle cx="430.3" cy="459.7" r="1.3"/><path d="M429.0,459.7v2.5"/><circle cx="439.6" cy="460.0" r="1.3"/><circle cx="450.0" cy="460.1" r="1.4"/><circle cx="459.8" cy="460.1" r="1.3"/><path d="M458.4,460.1v2.0"/><circle cx="473.4" cy="459.7" r="1.4"/><circle cx="489.9" cy="459.6" r="1.6"/><path d="M491.5,459.6v2.2"/><circle cx="504.0" cy="460.4" r="1.6"/><path d="M505.6,460.4v2.3"/><circle cx="518.3" cy="460.4" r="1.4"/><circle cx="544.2" cy="459.6" r="1.3"/><path d="M543.0,459.6v1.9"/><circle cx="554.8" cy="460.0" r="1.5"/><path d="M553.3,460.0v1.5"/><circle cx="559.4" cy="460.2" r="1.3"/><circle cx="570.3" cy="460.2" r="1.3"/><circle cx="584.8" cy="460.4" r="1.3"/><circle cx="599.4" cy="460.1" r="1.4"/></g><polyline points="0.0,418.0 50.0,426.0 100.0,433.0 150.0,440.0 200.0,443.0 300.0,445.5 450.0,447.0 600.0,446.0" fill="none" stroke="#c4c4c4" stroke-width="0.6"/><line x1="0" y1="462.5" x2="600" y2="462.5" stroke="#999" stroke-width="1.2"/><rect x="0" y="353.5" width="122" height="13" fill="#6e6e6e"/><polygon points="147,368 147.0,389.0 262.0,389.0 292.0,403.0 422.0,402.0 452.0,412.0 600.0,413.0 600,368" fill="#868686"/><g stroke-width="0.9" fill="none"><path d="M433.1 402.8h1.6" stroke="#5a5a5a"/><path d="M341.3 398.1h1.4" stroke="#666"/><path d="M301.5 400.0h1.2" stroke="#666"/><path d="M586.6 407.4h1.2" stroke="#aaa"/><path d="M258.5 389.9h1.9" stroke="#666"/><path d="M555.9 411.4h1.7" stroke="#aaa"/><path d="M398.4 400.7h1.6" stroke="#5a5a5a"/><path d="M555.5 413.7h2.0" stroke="#ccc"/><path d="M250.7 387.7h1.8" stroke="#666"/><path d="M259.8 387.5h1.2" stroke="#555"/><path d="M546.0 409.6h1.5" stroke="#666"/><path d="M183.8 387.0h1.9" stroke="#ccc"/><path d="M576.1 412.1h1.3" stroke="#555"/><path d="M499.2 412.2h1.7" stroke="#5a5a5a"/><path d="M311.8 402.6h1.1" stroke="#aaa"/><path d="M433.8 403.0h1.4" stroke="#ccc"/><path d="M213.2 385.7h1.4" stroke="#5a5a5a"/><path d="M289.3 402.2h1.8" stroke="#666"/><path d="M439.6 408.8h1.5" stroke="#ccc"/><path d="M280.9 392.9h1.4" stroke="#666"/><path d="M375.4 398.8h1.3" stroke="#aaa"/><path d="M517.8 407.1h1.0" stroke="#5a5a5a"/><path d="M281.1 392.8h0.9" stroke="#aaa"/><path d="M357.6 403.1h1.3" stroke="#666"/><path d="M320.1 398.4h1.7" stroke="#aaa"/><path d="M195.8 385.7h1.0" stroke="#5a5a5a"/><path d="M421.8 398.8h1.0" stroke="#ccc"/><path d="M580.1 407.9h1.5" stroke="#5a5a5a"/><path d="M314.1 399.5h1.5" stroke="#aaa"/><path d="M431.9 404.3h1.0" stroke="#aaa"/><path d="M424.7 402.6h1.2" stroke="#5a5a5a"/><path d="M489.7 407.3h0.9" stroke="#ccc"/><path d="M471.9 407.8h1.9" stroke="#555"/><path d="M210.4 384.6h1.9" stroke="#666"/><path d="M253.5 388.7h1.2" stroke="#5a5a5a"/><path d="M333.9 402.2h1.3" stroke="#aaa"/><path d="M175.2 386.6h1.6" stroke="#aaa"/><path d="M395.3 397.7h1.3" stroke="#666"/><path d="M199.2 389.7h1.1" stroke="#5a5a5a"/><path d="M172.6 388.2h0.9" stroke="#555"/><path d="M528.8 408.5h0.9" stroke="#555"/><path d="M490.6 413.1h1.4" stroke="#666"/><path d="M293.3 402.6h0.8" stroke="#aaa"/><path d="M493.8 410.2h1.5" stroke="#aaa"/><path d="M165.2 387.7h1.1" stroke="#666"/><path d="M369.6 399.4h1.5" stroke="#555"/><path d="M313.8 403.4h1.3" stroke="#666"/><path d="M216.0 384.0h1.1" stroke="#ccc"/><path d="M399.0 400.3h1.8" stroke="#666"/><path d="M488.6 408.7h1.2" stroke="#666"/><path d="M264.9 386.1h1.3" stroke="#5a5a5a"/><path d="M348.8 403.6h1.7" stroke="#ccc"/><path d="M239.7 384.7h1.8" stroke="#aaa"/><path d="M483.5 412.6h1.7" stroke="#666"/><path d="M480.3 408.9h1.9" stroke="#666"/><path d="M517.5 409.4h1.6" stroke="#555"/><path d="M251.1 389.5h1.1" stroke="#5a5a5a"/><path d="M157.8 384.1h1.8" stroke="#666"/><path d="M240.5 389.9h1.7" stroke="#aaa"/><path d="M354.4 399.8h1.9" stroke="#666"/><path d="M364.5 401.1h0.9" stroke="#666"/><path d="M195.6 384.0h1.5" stroke="#555"/><path d="M535.3 413.4h1.2" stroke="#555"/><path d="M319.8 401.1h0.9" stroke="#666"/><path d="M313.7 401.7h1.7" stroke="#aaa"/><path d="M315.9 399.3h1.2" stroke="#555"/><path d="M162.9 384.7h1.1" stroke="#666"/><path d="M568.3 413.2h0.9" stroke="#666"/><path d="M435.4 407.4h1.9" stroke="#555"/><path d="M569.2 408.2h0.9" stroke="#555"/><path d="M253.4 389.4h1.6" stroke="#ccc"/><path d="M270.7 388.1h1.4" stroke="#ccc"/><path d="M478.3 408.0h1.3" stroke="#555"/><path d="M318.0 397.6h1.8" stroke="#aaa"/><path d="M333.8 403.7h1.9" stroke="#ccc"/><path d="M444.4 410.4h1.7" stroke="#5a5a5a"/><path d="M472.6 408.3h0.8" stroke="#5a5a5a"/><path d="M270.2 393.2h1.6" stroke="#666"/><path d="M514.1 413.6h1.8" stroke="#555"/><path d="M525.4 409.9h1.8" stroke="#aaa"/><path d="M471.2 411.7h1.2" stroke="#5a5a5a"/><path d="M417.9 399.9h1.5" stroke="#aaa"/><path d="M316.1 403.4h1.4" stroke="#ccc"/><path d="M292.3 401.8h1.0" stroke="#aaa"/><path d="M329.0 400.4h1.7" stroke="#5a5a5a"/><path d="M213.9 388.2h1.6" stroke="#aaa"/><path d="M331.7 403.6h1.5" stroke="#555"/><path d="M547.8 409.3h1.6" stroke="#5a5a5a"/><path d="M351.2 400.8h1.9" stroke="#666"/><path d="M302.6 403.6h1.5" stroke="#666"/><path d="M391.7 402.4h1.8" stroke="#666"/><path d="M406.9 403.2h1.8" stroke="#666"/><path d="M326.5 402.8h2.0" stroke="#555"/><path d="M393.4 400.4h0.8" stroke="#ccc"/><path d="M570.3 411.7h1.7" stroke="#666"/><path d="M456.9 411.9h0.9" stroke="#aaa"/><path d="M478.5 412.1h1.9" stroke="#ccc"/><path d="M384.0 402.3h1.5" stroke="#666"/><path d="M486.7 411.4h1.1" stroke="#555"/><path d="M438.7 403.5h1.7" stroke="#666"/><path d="M551.6 413.7h1.4" stroke="#555"/><path d="M561.9 411.8h1.1" stroke="#5a5a5a"/><path d="M331.0 402.8h1.6" stroke="#ccc"/><path d="M578.1 408.3h0.8" stroke="#555"/><path d="M201.8 385.2h0.9" stroke="#555"/><path d="M352.0 398.0h1.6" stroke="#5a5a5a"/><path d="M151.8 387.7h1.3" stroke="#5a5a5a"/><path d="M241.4 386.7h1.9" stroke="#ccc"/><path d="M434.8 404.9h2.0" stroke="#aaa"/><path d="M373.5 399.4h1.6" stroke="#5a5a5a"/><path d="M537.1 409.6h1.7" stroke="#ccc"/><path d="M338.5 401.1h1.9" stroke="#5a5a5a"/><path d="M457.2 413.2h0.8" stroke="#aaa"/><path d="M367.8 403.0h1.1" stroke="#aaa"/><path d="M188.7 385.5h1.3" stroke="#555"/><path d="M486.3 408.6h0.8" stroke="#aaa"/><path d="M287.3 400.6h1.1" stroke="#aaa"/><path d="M333.0 397.4h1.5" stroke="#666"/><path d="M452.9 407.2h1.3" stroke="#ccc"/><path d="M374.4 400.1h1.3" stroke="#ccc"/><path d="M566.0 411.6h1.1" stroke="#555"/><path d="M200.3 387.2h1.9" stroke="#666"/><path d="M279.9 393.1h1.5" stroke="#5a5a5a"/><path d="M340.3 401.8h1.0" stroke="#555"/><path d="M367.3 397.2h1.7" stroke="#666"/><path d="M166.9 385.1h1.8" stroke="#5a5a5a"/><path d="M411.4 400.1h1.8" stroke="#aaa"/><path d="M576.5 407.8h1.0" stroke="#666"/><path d="M482.4 413.1h0.8" stroke="#ccc"/><path d="M371.8 402.3h0.8" stroke="#aaa"/><path d="M384.9 401.5h0.9" stroke="#ccc"/><path d="M361.6 399.0h1.6" stroke="#ccc"/><path d="M177.3 384.5h1.4" stroke="#5a5a5a"/><path d="M376.7 398.7h0.9" stroke="#666"/><path d="M220.4 387.5h1.3" stroke="#666"/><path d="M598.4 409.7h1.4" stroke="#5a5a5a"/><path d="M586.8 411.7h1.3" stroke="#ccc"/><path d="M400.5 398.5h1.2" stroke="#666"/><path d="M485.2 409.5h0.9" stroke="#5a5a5a"/><path d="M504.0 407.7h1.5" stroke="#5a5a5a"/><path d="M151.0 389.5h1.2" stroke="#666"/><path d="M257.4 387.0h1.0" stroke="#666"/><path d="M362.1 400.3h1.0" stroke="#555"/><path d="M397.5 401.0h1.0" stroke="#555"/><path d="M204.5 387.2h1.4" stroke="#555"/><path d="M595.4 407.5h1.1" stroke="#666"/><path d="M488.3 412.4h1.9" stroke="#5a5a5a"/><path d="M522.1 409.7h0.9" stroke="#aaa"/><path d="M292.2 400.1h1.6" stroke="#666"/><path d="M568.6 409.7h1.8" stroke="#ccc"/><path d="M248.8 389.6h1.5" stroke="#aaa"/><path d="M505.1 412.8h1.1" stroke="#666"/><path d="M383.1 400.3h1.3" stroke="#555"/><path d="M161.0 384.4h1.6" stroke="#555"/><path d="M499.0 412.0h1.2" stroke="#555"/><path d="M325.2 400.4h1.2" stroke="#5a5a5a"/><path d="M389.5 399.2h1.8" stroke="#5a5a5a"/><path d="M359.9 400.4h1.6" stroke="#ccc"/><path d="M565.3 411.2h1.0" stroke="#ccc"/><path d="M299.7 402.1h1.4" stroke="#5a5a5a"/><path d="M426.2 398.8h1.9" stroke="#5a5a5a"/><path d="M543.3 411.1h1.2" stroke="#666"/><path d="M557.3 413.3h1.0" stroke="#ccc"/><path d="M587.5 408.4h1.4" stroke="#5a5a5a"/><path d="M333.4 399.1h1.6" stroke="#aaa"/><path d="M232.3 387.8h1.8" stroke="#666"/><path d="M458.8 408.2h1.7" stroke="#5a5a5a"/><path d="M397.5 398.4h1.5" stroke="#aaa"/><path d="M225.6 388.5h1.6" stroke="#5a5a5a"/><path d="M240.2 388.9h1.0" stroke="#5a5a5a"/><path d="M440.3 406.2h1.3" stroke="#666"/><path d="M471.8 412.9h1.4" stroke="#aaa"/><path d="M213.3 387.8h0.9" stroke="#5a5a5a"/><path d="M317.6 401.0h0.8" stroke="#aaa"/><path d="M232.6 389.8h1.3" stroke="#aaa"/><path d="M595.9 411.2h1.4" stroke="#5a5a5a"/><path d="M337.5 399.1h1.6" stroke="#aaa"/><path d="M368.8 397.9h1.3" stroke="#aaa"/><path d="M201.1 385.1h1.7" stroke="#5a5a5a"/><path d="M597.4 407.3h1.1" stroke="#555"/><path d="M395.5 398.8h1.9" stroke="#555"/><path d="M458.1 408.3h0.9" stroke="#ccc"/><path d="M197.5 390.1h1.1" stroke="#5a5a5a"/><path d="M256.0 385.4h1.5" stroke="#ccc"/><path d="M267.8 390.1h1.0" stroke="#666"/><path d="M397.8 399.1h1.0" stroke="#666"/><path d="M584.8 409.7h1.5" stroke="#ccc"/><path d="M579.4 407.6h2.0" stroke="#ccc"/><path d="M269.2 390.3h1.1" stroke="#555"/><path d="M331.1 398.9h1.0" stroke="#ccc"/><path d="M225.6 385.4h0.8" stroke="#555"/><path d="M451.0 409.4h1.8" stroke="#ccc"/><path d="M349.1 398.8h1.3" stroke="#555"/><path d="M348.2 398.3h1.8" stroke="#aaa"/><path d="M487.1 407.1h1.0" stroke="#5a5a5a"/><path d="M452.0 409.7h1.2" stroke="#ccc"/><path d="M156.4 387.1h1.8" stroke="#aaa"/><path d="M421.8 399.3h1.5" stroke="#555"/><path d="M463.6 409.4h1.0" stroke="#aaa"/><path d="M289.3 399.0h1.7" stroke="#666"/><path d="M554.0 409.6h2.0" stroke="#aaa"/><path d="M458.0 410.5h1.3" stroke="#555"/><path d="M509.4 409.6h1.2" stroke="#5a5a5a"/><path d="M156.3 386.7h1.9" stroke="#aaa"/><path d="M187.5 385.6h1.1" stroke="#666"/><path d="M560.0 408.8h1.0" stroke="#666"/><path d="M533.7 411.4h1.4" stroke="#ccc"/><path d="M235.7 384.2h1.2" stroke="#aaa"/><path d="M491.6 407.6h0.9" stroke="#666"/><path d="M462.0 407.3h1.4" stroke="#555"/><path d="M262.6 385.2h1.8" stroke="#666"/><path d="M273.2 394.9h1.3" stroke="#666"/><path d="M222.5 384.4h1.5" stroke="#555"/><path d="M406.4 402.0h1.1" stroke="#666"/><path d="M360.0 400.0h1.1" stroke="#666"/><path d="M512.9 408.3h0.9" stroke="#555"/><path d="M193.0 389.1h1.4" stroke="#666"/><path d="M499.9 410.6h1.7" stroke="#5a5a5a"/><path d="M216.2 389.8h1.7" stroke="#666"/><path d="M294.4 398.6h1.4" stroke="#5a5a5a"/><path d="M156.4 387.1h1.3" stroke="#555"/><path d="M222.7 386.9h1.1" stroke="#666"/><path d="M422.9 399.6h1.4" stroke="#5a5a5a"/><path d="M353.1 401.9h1.0" stroke="#666"/><path d="M421.5 397.3h1.0" stroke="#aaa"/><path d="M277.1 394.2h1.6" stroke="#aaa"/><path d="M325.9 400.9h1.9" stroke="#aaa"/><path d="M358.4 401.4h1.2" stroke="#ccc"/><path d="M421.3 401.5h1.7" stroke="#aaa"/><path d="M384.1 399.7h1.8" stroke="#ccc"/><path d="M204.2 384.2h1.5" stroke="#555"/><path d="M313.5 399.4h1.9" stroke="#ccc"/><path d="M320.3 399.4h1.2" stroke="#555"/><path d="M237.0 384.1h1.7" stroke="#aaa"/><path d="M486.9 409.9h1.7" stroke="#ccc"/><path d="M486.4 411.2h1.3" stroke="#5a5a5a"/><path d="M211.5 389.6h1.1" stroke="#aaa"/><path d="M327.9 402.0h1.9" stroke="#5a5a5a"/><path d="M356.9 399.9h1.1" stroke="#555"/><path d="M212.9 388.0h1.2" stroke="#555"/><path d="M171.1 386.9h1.9" stroke="#aaa"/><path d="M542.1 407.5h1.2" stroke="#5a5a5a"/><path d="M379.2 400.2h0.9" stroke="#aaa"/><path d="M297.1 399.6h1.0" stroke="#ccc"/><path d="M596.4 408.0h1.1" stroke="#ccc"/><path d="M158.2 385.4h1.2" stroke="#ccc"/><path d="M350.1 399.4h1.4" stroke="#ccc"/><path d="M428.7 401.0h1.8" stroke="#555"/><path d="M412.3 402.5h1.3" stroke="#aaa"/><path d="M379.8 401.4h1.7" stroke="#ccc"/><path d="M403.6 397.5h1.9" stroke="#666"/><path d="M318.2 401.8h1.7" stroke="#aaa"/><path d="M434.7 402.1h0.9" stroke="#666"/><path d="M320.9 400.0h0.9" stroke="#555"/><path d="M152.5 384.8h1.5" stroke="#aaa"/><path d="M336.2 402.7h1.3" stroke="#666"/><path d="M404.4 403.3h0.8" stroke="#666"/><path d="M177.0 389.3h1.7" stroke="#5a5a5a"/><path d="M503.5 408.4h1.9" stroke="#666"/><path d="M370.5 397.7h1.8" stroke="#aaa"/><path d="M302.3 402.3h1.8" stroke="#5a5a5a"/><path d="M579.9 408.8h1.5" stroke="#ccc"/><path d="M555.3 412.1h1.4" stroke="#5a5a5a"/><path d="M449.5 411.3h1.4" stroke="#ccc"/><path d="M273.4 392.9h1.1" stroke="#666"/><path d="M157.1 387.0h1.9" stroke="#5a5a5a"/><path d="M283.2 399.9h0.9" stroke="#aaa"/><path d="M415.0 402.0h0.9" stroke="#5a5a5a"/><path d="M214.0 385.4h1.9" stroke="#666"/><path d="M259.7 389.6h1.6" stroke="#555"/><path d="M376.1 399.8h1.3" stroke="#aaa"/><path d="M297.0 398.0h1.5" stroke="#666"/><path d="M576.7 411.7h1.9" stroke="#5a5a5a"/><path d="M172.8 386.5h1.0" stroke="#aaa"/><path d="M361.3 397.4h0.9" stroke="#5a5a5a"/><path d="M253.8 389.5h1.9" stroke="#aaa"/><path d="M326.5 398.8h1.8" stroke="#aaa"/><path d="M276.8 394.6h1.2" stroke="#666"/><path d="M417.9 400.7h0.9" stroke="#555"/><path d="M184.3 388.6h1.4" stroke="#666"/><path d="M370.2 397.8h2.0" stroke="#666"/><path d="M147.9 385.1h1.1" stroke="#666"/><path d="M529.1 411.6h1.6" stroke="#5a5a5a"/><path d="M186.6 385.0h1.2" stroke="#5a5a5a"/><path d="M164.6 387.6h1.5" stroke="#555"/><path d="M519.1 408.3h1.9" stroke="#666"/><path d="M520.4 410.3h1.5" stroke="#5a5a5a"/><path d="M425.8 401.5h1.1" stroke="#ccc"/><path d="M176.4 387.8h1.0" stroke="#5a5a5a"/><path d="M498.6 410.4h1.5" stroke="#aaa"/><path d="M459.1 407.2h1.6" stroke="#5a5a5a"/><path d="M461.8 412.1h1.9" stroke="#5a5a5a"/><path d="M285.8 399.0h1.3" stroke="#aaa"/><path d="M568.5 412.5h1.6" stroke="#5a5a5a"/><path d="M242.4 386.9h0.8" stroke="#666"/><path d="M173.6 389.4h0.9" stroke="#666"/><path d="M350.4 398.2h1.1" stroke="#555"/><path d="M297.7 399.6h1.7" stroke="#666"/><path d="M344.2 398.1h1.7" stroke="#ccc"/><path d="M284.1 398.6h1.6" stroke="#aaa"/><path d="M312.0 400.0h0.9" stroke="#5a5a5a"/><path d="M161.2 389.3h1.3" stroke="#5a5a5a"/><path d="M515.1 410.1h1.7" stroke="#aaa"/><path d="M537.7 410.0h1.7" stroke="#5a5a5a"/><path d="M467.4 411.2h1.8" stroke="#ccc"/><path d="M230.3 389.4h1.9" stroke="#666"/><path d="M335.4 400.5h1.0" stroke="#5a5a5a"/><path d="M547.6 408.6h1.4" stroke="#ccc"/><path d="M272.9 390.2h1.3" stroke="#666"/><path d="M496.2 411.1h1.8" stroke="#5a5a5a"/><path d="M316.0 397.4h1.7" stroke="#aaa"/><path d="M586.1 408.4h1.2" stroke="#666"/><path d="M445.4 409.4h1.1" stroke="#ccc"/><path d="M324.0 400.9h1.5" stroke="#ccc"/><path d="M424.3 400.5h1.3" stroke="#555"/><path d="M472.8 410.5h2.0" stroke="#ccc"/><path d="M353.8 399.1h1.3" stroke="#555"/><path d="M431.1 404.9h1.8" stroke="#aaa"/><path d="M336.0 400.4h1.5" stroke="#ccc"/><path d="M565.2 412.8h1.3" stroke="#666"/><path d="M283.0 397.7h1.8" stroke="#555"/><path d="M449.8 409.9h1.1" stroke="#aaa"/><path d="M387.4 397.4h1.1" stroke="#aaa"/><path d="M148.0 384.3h1.8" stroke="#555"/><path d="M271.0 393.2h1.9" stroke="#ccc"/><path d="M154.4 389.4h1.7" stroke="#5a5a5a"/><path d="M447.5 408.6h1.1" stroke="#ccc"/><path d="M446.6 407.0h1.8" stroke="#555"/><path d="M566.3 409.7h1.0" stroke="#5a5a5a"/><path d="M444.2 404.5h0.9" stroke="#aaa"/><path d="M440.0 408.9h0.9" stroke="#555"/><path d="M568.8 412.1h1.6" stroke="#666"/><path d="M451.3 409.4h1.0" stroke="#aaa"/><path d="M221.3 384.6h1.2" stroke="#5a5a5a"/><path d="M392.7 400.6h0.9" stroke="#555"/><path d="M217.5 384.8h1.9" stroke="#555"/><path d="M176.9 388.8h2.0" stroke="#5a5a5a"/><path d="M198.4 386.8h1.4" stroke="#555"/><path d="M525.3 410.6h0.9" stroke="#ccc"/><path d="M449.6 407.9h1.2" stroke="#555"/><path d="M188.7 385.1h1.5" stroke="#666"/><path d="M260.4 384.1h1.8" stroke="#ccc"/><path d="M506.4 407.6h1.0" stroke="#555"/><path d="M302.0 400.9h1.0" stroke="#ccc"/><path d="M596.0 412.4h0.8" stroke="#5a5a5a"/><path d="M533.6 412.4h0.9" stroke="#aaa"/><path d="M379.1 402.3h1.0" stroke="#666"/><path d="M428.3 402.1h1.7" stroke="#ccc"/><path d="M177.3 390.2h1.8" stroke="#666"/><path d="M570.0 412.5h1.7" stroke="#ccc"/><path d="M322.4 401.6h1.9" stroke="#666"/><path d="M163.5 385.2h1.2" stroke="#ccc"/><path d="M594.4 413.7h1.3" stroke="#5a5a5a"/><path d="M526.4 413.5h0.9" stroke="#aaa"/><path d="M528.9 411.0h1.7" stroke="#ccc"/><path d="M415.6 400.0h2.0" stroke="#ccc"/><path d="M475.8 409.2h1.8" stroke="#ccc"/><path d="M503.1 411.2h1.2" stroke="#666"/><path d="M519.4 409.0h0.9" stroke="#555"/><path d="M283.0 399.8h1.6" stroke="#666"/><path d="M516.5 413.6h1.2" stroke="#5a5a5a"/><path d="M333.6 397.8h1.2" stroke="#ccc"/><path d="M372.7 401.9h0.8" stroke="#aaa"/><path d="M591.5 409.3h1.8" stroke="#555"/><path d="M568.9 411.2h1.2" stroke="#555"/><path d="M190.1 385.6h1.2" stroke="#5a5a5a"/><path d="M203.0 387.6h1.8" stroke="#ccc"/><path d="M251.9 385.7h1.7" stroke="#ccc"/><path d="M560.6 407.6h1.9" stroke="#ccc"/><path d="M541.2 410.7h1.6" stroke="#ccc"/><path d="M192.5 386.5h1.2" stroke="#555"/><path d="M544.7 407.6h1.1" stroke="#5a5a5a"/><path d="M170.6 384.4h0.8" stroke="#ccc"/><path d="M550.8 407.3h1.3" stroke="#5a5a5a"/><path d="M195.4 385.0h1.9" stroke="#ccc"/><path d="M259.2 386.1h1.6" stroke="#666"/><path d="M404.8 402.5h1.4" stroke="#555"/><path d="M477.1 407.8h1.1" stroke="#ccc"/><path d="M331.8 401.8h1.5" stroke="#5a5a5a"/><path d="M477.6 412.4h1.5" stroke="#aaa"/><path d="M173.9 385.3h1.0" stroke="#aaa"/><path d="M386.1 399.3h2.0" stroke="#aaa"/><path d="M333.4 401.1h1.1" stroke="#5a5a5a"/><path d="M534.8 407.8h1.1" stroke="#aaa"/><path d="M421.2 397.0h1.3" stroke="#555"/><path d="M233.6 385.6h1.5" stroke="#666"/><path d="M515.9 410.8h1.0" stroke="#666"/><path d="M165.2 390.2h1.7" stroke="#555"/><path d="M456.9 407.8h1.1" stroke="#666"/><path d="M198.0 384.0h1.7" stroke="#666"/><path d="M523.0 407.1h1.2" stroke="#555"/><path d="M349.5 398.2h1.8" stroke="#555"/><path d="M294.3 400.2h1.6" stroke="#ccc"/><path d="M347.9 398.6h1.0" stroke="#666"/><path d="M307.0 403.2h1.4" stroke="#666"/><path d="M577.0 410.1h0.8" stroke="#5a5a5a"/><path d="M357.0 397.6h1.7" stroke="#555"/><path d="M384.5 398.4h1.9" stroke="#555"/><path d="M210.7 385.7h1.7" stroke="#aaa"/><path d="M361.4 402.1h1.5" stroke="#555"/><path d="M304.6 401.7h1.0" stroke="#aaa"/><path d="M538.3 412.7h1.1" stroke="#aaa"/><path d="M364.6 400.0h0.8" stroke="#666"/><path d="M253.2 387.0h2.0" stroke="#666"/><path d="M396.9 401.1h0.9" stroke="#666"/><path d="M473.7 410.3h1.1" stroke="#555"/><path d="M445.2 409.7h0.8" stroke="#aaa"/><path d="M403.9 402.6h1.9" stroke="#666"/><path d="M261.2 385.5h1.8" stroke="#ccc"/><path d="M407.2 402.8h1.6" stroke="#666"/><path d="M589.8 407.0h1.2" stroke="#555"/><path d="M459.4 410.5h1.2" stroke="#ccc"/><path d="M364.9 398.4h1.7" stroke="#5a5a5a"/><path d="M339.5 401.9h1.5" stroke="#5a5a5a"/><path d="M431.9 404.4h1.5" stroke="#ccc"/><path d="M308.7 400.0h1.0" stroke="#ccc"/><path d="M257.9 384.3h1.2" stroke="#5a5a5a"/><path d="M490.8 410.4h1.1" stroke="#aaa"/><path d="M580.7 407.1h0.9" stroke="#555"/><path d="M552.9 408.6h1.0" stroke="#555"/><path d="M333.8 403.9h0.9" stroke="#555"/><path d="M595.4 410.9h1.1" stroke="#666"/><path d="M244.2 386.3h1.1" stroke="#555"/><path d="M562.9 409.8h1.6" stroke="#5a5a5a"/><path d="M550.1 413.1h1.2" stroke="#555"/><path d="M254.2 384.7h1.7" stroke="#5a5a5a"/><path d="M390.2 401.1h0.9" stroke="#666"/><path d="M459.1 410.4h1.9" stroke="#555"/><path d="M368.8 403.6h1.9" stroke="#aaa"/><path d="M192.3 387.1h1.9" stroke="#666"/><path d="M272.8 391.6h1.9" stroke="#5a5a5a"/><path d="M488.3 410.6h0.8" stroke="#666"/><path d="M191.2 387.9h1.6" stroke="#555"/><path d="M234.2 389.1h1.7" stroke="#666"/><path d="M478.8 408.2h1.0" stroke="#666"/><path d="M280.6 392.8h1.1" stroke="#aaa"/><path d="M207.9 384.7h1.2" stroke="#666"/><path d="M489.7 411.9h1.0" stroke="#aaa"/><path d="M175.7 389.6h1.3" stroke="#aaa"/><path d="M224.6 384.2h1.6" stroke="#666"/><path d="M551.5 407.7h1.1" stroke="#666"/><path d="M216.6 384.7h1.6" stroke="#666"/><path d="M222.3 388.4h1.9" stroke="#ccc"/><path d="M387.5 402.8h1.9" stroke="#ccc"/><path d="M562.5 413.8h1.0" stroke="#aaa"/><path d="M598.7 410.8h1.1" stroke="#ccc"/><path d="M350.4 398.4h1.1" stroke="#aaa"/><path d="M264.9 386.6h1.0" stroke="#555"/><path d="M280.9 397.5h1.9" stroke="#aaa"/><path d="M543.3 407.8h1.9" stroke="#666"/><path d="M251.1 388.3h1.5" stroke="#555"/><path d="M325.8 401.6h0.9" stroke="#666"/><path d="M228.4 389.4h1.1" stroke="#666"/><path d="M170.0 389.3h1.9" stroke="#ccc"/><path d="M256.4 387.4h1.4" stroke="#5a5a5a"/><path d="M189.4 385.6h1.0" stroke="#ccc"/><path d="M227.8 386.7h1.0" stroke="#666"/><path d="M504.9 411.6h1.4" stroke="#555"/><path d="M430.1 400.1h0.9" stroke="#ccc"/><path d="M491.3 410.0h2.0" stroke="#5a5a5a"/><path d="M300.0 397.7h1.7" stroke="#555"/><path d="M498.2 411.5h0.9" stroke="#555"/><path d="M221.7 388.6h0.9" stroke="#ccc"/><path d="M458.6 410.0h1.3" stroke="#555"/><path d="M552.1 411.5h1.7" stroke="#555"/><path d="M486.1 410.9h2.0" stroke="#666"/><path d="M288.7 400.5h1.6" stroke="#ccc"/><path d="M487.9 408.7h1.5" stroke="#555"/><path d="M214.0 388.1h1.4" stroke="#ccc"/><path d="M369.5 403.0h1.0" stroke="#555"/><path d="M520.4 408.9h1.7" stroke="#ccc"/><path d="M289.3 399.4h1.3" stroke="#ccc"/><path d="M158.9 387.7h1.6" stroke="#555"/><path d="M548.3 409.6h0.9" stroke="#5a5a5a"/><path d="M474.9 408.7h1.3" stroke="#666"/><path d="M402.0 398.6h1.8" stroke="#666"/><path d="M378.8 403.5h1.6" stroke="#5a5a5a"/><path d="M312.9 402.9h1.3" stroke="#ccc"/><path d="M166.0 388.4h0.9" stroke="#aaa"/><path d="M241.2 386.5h1.5" stroke="#ccc"/><path d="M427.0 403.5h1.7" stroke="#555"/><path d="M499.7 413.2h1.0" stroke="#ccc"/><path d="M176.2 385.7h1.9" stroke="#555"/><path d="M539.0 408.7h0.9" stroke="#ccc"/><path d="M398.8 400.4h1.1" stroke="#555"/><path d="M479.2 413.1h1.5" stroke="#666"/><path d="M361.6 402.9h1.4" stroke="#666"/><path d="M318.3 402.4h1.6" stroke="#ccc"/><path d="M328.1 399.0h1.0" stroke="#555"/><path d="M328.2 401.8h1.4" stroke="#666"/><path d="M439.3 406.9h1.3" stroke="#5a5a5a"/><path d="M218.8 385.5h1.7" stroke="#aaa"/><path d="M206.1 388.5h1.3" stroke="#ccc"/><path d="M194.2 390.0h0.9" stroke="#5a5a5a"/><path d="M542.7 412.6h1.9" stroke="#5a5a5a"/><path d="M433.1 401.7h1.7" stroke="#5a5a5a"/><path d="M539.4 407.3h1.7" stroke="#aaa"/><path d="M473.7 409.3h1.6" stroke="#ccc"/><path d="M280.1 398.4h1.6" stroke="#555"/><path d="M359.8 399.2h1.8" stroke="#5a5a5a"/><path d="M379.4 403.3h1.4" stroke="#ccc"/><path d="M562.9 412.4h1.2" stroke="#555"/><path d="M398.9 400.2h1.8" stroke="#666"/><path d="M271.8 393.0h1.4" stroke="#666"/><path d="M523.8 407.4h0.8" stroke="#5a5a5a"/><path d="M458.1 407.4h1.1" stroke="#5a5a5a"/><path d="M562.2 408.5h1.0" stroke="#5a5a5a"/><path d="M385.4 400.9h1.3" stroke="#555"/><path d="M247.5 384.9h0.9" stroke="#555"/><path d="M469.2 409.9h1.7" stroke="#aaa"/><path d="M503.7 410.6h2.0" stroke="#ccc"/><path d="M256.2 384.6h1.4" stroke="#666"/><path d="M208.0 388.0h0.8" stroke="#666"/><path d="M331.2 397.6h1.9" stroke="#555"/><path d="M562.9 411.3h1.4" stroke="#ccc"/><path d="M582.7 414.0h1.4" stroke="#555"/><path d="M373.8 399.8h1.7" stroke="#ccc"/><path d="M384.6 397.2h1.1" stroke="#666"/><path d="M159.0 389.0h0.9" stroke="#ccc"/><path d="M499.7 407.7h1.8" stroke="#666"/><path d="M384.3 397.2h1.2" stroke="#aaa"/><path d="M435.5 404.6h1.8" stroke="#5a5a5a"/><path d="M417.0 403.0h1.9" stroke="#aaa"/><path d="M546.7 411.7h1.2" stroke="#aaa"/><path d="M505.8 407.9h0.9" stroke="#555"/><path d="M420.5 402.0h1.6" stroke="#ccc"/><path d="M407.5 397.7h1.1" stroke="#5a5a5a"/><path d="M326.8 400.5h1.5" stroke="#555"/><path d="M489.7 409.6h1.8" stroke="#666"/><path d="M218.4 385.3h1.4" stroke="#ccc"/><path d="M180.3 386.8h1.2" stroke="#5a5a5a"/><path d="M181.8 385.6h1.6" stroke="#555"/><path d="M535.3 409.0h1.4" stroke="#ccc"/><path d="M573.1 407.3h1.6" stroke="#5a5a5a"/><path d="M499.4 409.2h1.9" stroke="#aaa"/><path d="M341.2 403.6h1.4" stroke="#555"/><path d="M190.5 388.6h1.7" stroke="#aaa"/><path d="M155.1 384.3h1.8" stroke="#666"/><path d="M172.1 389.5h1.3" stroke="#5a5a5a"/><path d="M547.7 407.6h1.3" stroke="#555"/><path d="M457.3 407.5h0.9" stroke="#666"/><path d="M226.5 385.4h1.2" stroke="#5a5a5a"/><path d="M517.3 410.4h1.3" stroke="#666"/><path d="M196.3 387.9h1.3" stroke="#aaa"/><path d="M401.3 402.7h1.1" stroke="#ccc"/><path d="M384.6 398.8h0.9" stroke="#555"/><path d="M284.7 397.9h2.0" stroke="#ccc"/><path d="M500.5 409.2h1.4" stroke="#666"/><path d="M449.2 409.5h1.0" stroke="#ccc"/><path d="M167.9 385.4h1.5" stroke="#5a5a5a"/><path d="M203.2 384.6h1.3" stroke="#5a5a5a"/><path d="M461.4 410.8h1.4" stroke="#555"/><path d="M596.9 411.2h1.8" stroke="#555"/><path d="M276.5 391.7h1.7" stroke="#555"/><path d="M352.3 398.9h1.3" stroke="#666"/><path d="M417.8 400.6h1.7" stroke="#aaa"/><path d="M406.4 399.4h1.8" stroke="#5a5a5a"/><path d="M437.7 406.9h0.9" stroke="#aaa"/><path d="M383.6 398.1h1.5" stroke="#5a5a5a"/><path d="M435.5 405.0h1.2" stroke="#666"/><path d="M193.6 384.1h1.9" stroke="#ccc"/><path d="M405.0 402.0h1.9" stroke="#666"/><path d="M550.4 407.7h1.2" stroke="#666"/><path d="M211.0 390.0h1.5" stroke="#aaa"/><path d="M582.2 407.4h1.6" stroke="#ccc"/><path d="M595.5 410.4h1.6" stroke="#aaa"/><path d="M354.1 400.0h1.6" stroke="#555"/><path d="M225.8 385.3h1.9" stroke="#ccc"/><path d="M475.2 410.3h1.2" stroke="#666"/><path d="M447.1 411.0h1.9" stroke="#666"/><path d="M382.7 401.3h1.7" stroke="#ccc"/><path d="M525.7 413.6h1.9" stroke="#555"/><path d="M581.9 413.3h2.0" stroke="#555"/><path d="M555.7 410.9h1.2" stroke="#aaa"/><path d="M395.8 402.4h1.3" stroke="#666"/><path d="M492.7 410.5h1.3" stroke="#666"/><path d="M267.5 391.4h1.5" stroke="#aaa"/><path d="M303.2 401.7h0.8" stroke="#666"/><path d="M365.3 400.0h1.7" stroke="#666"/><path d="M512.7 409.1h2.0" stroke="#5a5a5a"/><path d="M486.9 408.6h1.7" stroke="#666"/><path d="M327.6 398.3h1.8" stroke="#ccc"/><path d="M287.8 399.0h1.8" stroke="#555"/><path d="M524.1 408.1h0.8" stroke="#666"/><path d="M449.5 409.3h1.3" stroke="#ccc"/><path d="M548.0 407.4h0.9" stroke="#555"/><path d="M590.8 409.8h0.9" stroke="#666"/><path d="M449.7 411.3h1.8" stroke="#5a5a5a"/><path d="M520.0 407.2h1.3" stroke="#555"/><path d="M172.4 388.0h1.2" stroke="#555"/><path d="M421.8 402.3h0.9" stroke="#5a5a5a"/><path d="M331.7 398.5h1.0" stroke="#ccc"/><path d="M410.9 399.8h1.6" stroke="#aaa"/><path d="M169.8 386.3h1.1" stroke="#5a5a5a"/><path d="M552.8 410.0h1.1" stroke="#ccc"/><path d="M220.5 388.4h1.9" stroke="#aaa"/><path d="M475.9 411.9h1.6" stroke="#aaa"/><path d="M417.1 399.2h1.8" stroke="#ccc"/><path d="M484.9 410.2h1.9" stroke="#aaa"/><path d="M565.2 413.8h1.6" stroke="#ccc"/><path d="M419.6 401.8h0.8" stroke="#5a5a5a"/><path d="M571.3 411.7h0.9" stroke="#5a5a5a"/><path d="M235.5 385.3h0.9" stroke="#666"/><path d="M207.1 389.8h1.7" stroke="#5a5a5a"/><path d="M224.6 386.1h0.9" stroke="#aaa"/><path d="M393.7 397.6h1.0" stroke="#555"/><path d="M598.2 413.5h0.9" stroke="#555"/><path d="M221.0 386.4h1.7" stroke="#666"/><path d="M254.8 387.2h1.0" stroke="#5a5a5a"/><path d="M371.6 400.9h1.3" stroke="#5a5a5a"/><path d="M233.2 386.8h1.2" stroke="#ccc"/><path d="M266.9 386.5h1.8" stroke="#666"/><path d="M293.3 398.4h1.2" stroke="#aaa"/><path d="M166.5 389.1h1.1" stroke="#aaa"/><path d="M597.7 408.7h1.6" stroke="#666"/><path d="M523.9 409.7h0.9" stroke="#ccc"/><path d="M211.2 386.9h1.6" stroke="#aaa"/><path d="M224.2 385.2h1.8" stroke="#555"/><path d="M436.5 407.3h1.4" stroke="#ccc"/><path d="M229.6 387.9h1.4" stroke="#5a5a5a"/><path d="M588.1 408.2h1.2" stroke="#ccc"/><path d="M522.9 412.2h1.3" stroke="#ccc"/><path d="M490.3 412.6h1.8" stroke="#666"/><path d="M391.3 402.7h1.0" stroke="#ccc"/><path d="M455.7 409.0h1.2" stroke="#555"/><path d="M406.3 399.9h1.4" stroke="#555"/><path d="M465.4 410.4h1.3" stroke="#aaa"/><path d="M567.0 407.8h1.6" stroke="#aaa"/><path d="M329.4 403.5h1.9" stroke="#666"/><path d="M381.8 402.3h1.2" stroke="#555"/><path d="M148.0 387.4h1.6" stroke="#555"/><path d="M224.4 385.4h1.2" stroke="#5a5a5a"/><path d="M219.1 390.2h0.8" stroke="#5a5a5a"/><path d="M298.8 404.1h1.6" stroke="#555"/><path d="M330.4 398.3h1.4" stroke="#555"/><path d="M495.9 408.1h1.0" stroke="#ccc"/><path d="M404.2 403.1h1.9" stroke="#ccc"/><path d="M399.6 400.4h1.1" stroke="#5a5a5a"/><path d="M429.4 402.8h1.8" stroke="#ccc"/><path d="M578.7 407.9h1.8" stroke="#555"/><path d="M508.7 413.3h1.6" stroke="#666"/><path d="M392.7 403.3h1.7" stroke="#ccc"/><path d="M260.6 390.0h1.2" stroke="#666"/><path d="M421.3 402.3h1.4" stroke="#ccc"/><path d="M432.2 404.4h1.2" stroke="#5a5a5a"/><path d="M430.6 403.0h1.6" stroke="#555"/><path d="M347.0 399.6h1.1" stroke="#666"/><path d="M393.4 399.9h1.0" stroke="#aaa"/><path d="M495.4 411.3h1.9" stroke="#555"/><path d="M351.8 399.7h2.0" stroke="#555"/><path d="M175.8 387.9h1.4" stroke="#aaa"/><path d="M388.1 399.6h1.8" stroke="#666"/><path d="M407.3 399.8h1.7" stroke="#aaa"/><path d="M216.7 389.2h1.4" stroke="#5a5a5a"/><path d="M235.9 390.2h1.7" stroke="#555"/><path d="M388.1 401.4h1.3" stroke="#555"/><path d="M231.4 387.9h1.2" stroke="#666"/><path d="M462.1 412.5h1.7" stroke="#5a5a5a"/><path d="M323.7 402.2h1.6" stroke="#5a5a5a"/><path d="M404.8 397.3h1.0" stroke="#555"/><path d="M554.6 408.2h1.8" stroke="#5a5a5a"/><path d="M268.6 388.1h1.3" stroke="#ccc"/><path d="M415.9 398.2h1.8" stroke="#5a5a5a"/><path d="M424.0 398.8h1.6" stroke="#666"/><path d="M207.3 387.3h1.8" stroke="#ccc"/><path d="M504.7 412.4h1.8" stroke="#666"/><path d="M235.1 390.0h1.9" stroke="#ccc"/><path d="M301.1 398.6h1.6" stroke="#555"/><path d="M561.9 408.3h1.7" stroke="#5a5a5a"/><path d="M569.3 408.2h1.3" stroke="#5a5a5a"/><path d="M585.8 408.2h1.1" stroke="#ccc"/><path d="M461.7 409.2h1.7" stroke="#ccc"/><path d="M314.6 398.9h0.9" stroke="#ccc"/><path d="M468.9 409.3h1.9" stroke="#555"/><path d="M368.8 398.9h1.9" stroke="#aaa"/><path d="M400.1 397.2h1.7" stroke="#5a5a5a"/><path d="M497.2 408.9h1.1" stroke="#5a5a5a"/><path d="M235.0 387.9h1.9" stroke="#555"/><path d="M551.9 412.7h1.9" stroke="#555"/><path d="M198.3 387.0h1.0" stroke="#aaa"/><path d="M237.2 389.2h1.5" stroke="#5a5a5a"/><path d="M268.9 387.4h1.1" stroke="#5a5a5a"/><path d="M286.3 397.1h0.9" stroke="#aaa"/><path d="M521.9 408.3h1.7" stroke="#666"/><path d="M312.8 403.3h1.4" stroke="#aaa"/><path d="M530.2 410.5h1.8" stroke="#666"/><path d="M349.6 399.3h2.0" stroke="#555"/><path d="M267.4 391.7h1.1" stroke="#555"/><path d="M495.7 407.6h1.0" stroke="#5a5a5a"/><path d="M320.5 400.9h1.6" stroke="#555"/><path d="M384.2 400.7h1.7" stroke="#ccc"/><path d="M206.6 387.0h1.2" stroke="#5a5a5a"/><path d="M253.5 387.2h1.8" stroke="#ccc"/><path d="M304.8 398.5h1.9" stroke="#666"/><path d="M399.5 402.8h1.3" stroke="#aaa"/><path d="M579.9 413.1h1.4" stroke="#ccc"/><path d="M505.9 410.0h1.1" stroke="#aaa"/><path d="M537.8 407.9h1.4" stroke="#5a5a5a"/><path d="M592.4 413.4h1.4" stroke="#5a5a5a"/><path d="M300.8 401.4h1.8" stroke="#5a5a5a"/><path d="M290.7 401.7h1.1" stroke="#ccc"/><path d="M374.4 399.1h1.9" stroke="#ccc"/><path d="M585.3 412.8h2.0" stroke="#aaa"/><path d="M158.5 389.8h1.9" stroke="#555"/><path d="M166.4 389.0h1.6" stroke="#5a5a5a"/><path d="M412.6 402.5h2.0" stroke="#555"/><path d="M206.4 389.4h1.8" stroke="#555"/><path d="M540.4 407.5h1.2" stroke="#555"/><path d="M364.7 400.6h1.5" stroke="#aaa"/><path d="M229.5 384.6h1.1" stroke="#5a5a5a"/><path d="M382.5 401.1h1.5" stroke="#aaa"/><path d="M597.8 410.5h2.0" stroke="#aaa"/><path d="M459.7 412.9h1.3" stroke="#aaa"/><path d="M435.7 404.3h1.6" stroke="#5a5a5a"/><path d="M214.8 384.0h1.8" stroke="#5a5a5a"/><path d="M593.1 412.0h1.1" stroke="#5a5a5a"/><path d="M577.2 407.5h1.8" stroke="#666"/><path d="M225.3 387.4h1.7" stroke="#555"/><path d="M233.3 384.4h1.5" stroke="#666"/><path d="M545.0 411.4h1.5" stroke="#5a5a5a"/><path d="M173.7 388.6h1.4" stroke="#555"/><path d="M335.2 400.5h1.7" stroke="#666"/><path d="M356.8 397.4h1.7" stroke="#666"/><path d="M330.0 402.0h1.0" stroke="#aaa"/><path d="M228.8 386.2h1.2" stroke="#aaa"/><path d="M485.3 409.3h1.4" stroke="#5a5a5a"/><path d="M318.6 403.1h1.2" stroke="#555"/><path d="M427.2 401.9h1.3" stroke="#aaa"/><path d="M444.9 406.1h1.3" stroke="#555"/><path d="M395.9 398.2h2.0" stroke="#aaa"/><path d="M439.4 403.9h1.6" stroke="#aaa"/><path d="M236.8 388.9h1.9" stroke="#666"/><path d="M443.9 410.3h1.2" stroke="#555"/><path d="M225.2 387.6h1.9" stroke="#ccc"/><path d="M244.0 386.6h1.9" stroke="#666"/><path d="M479.0 412.1h0.9" stroke="#ccc"/><path d="M284.3 397.7h1.1" stroke="#666"/><path d="M222.5 388.1h1.7" stroke="#666"/><path d="M534.6 410.7h1.5" stroke="#5a5a5a"/><path d="M286.6 397.8h1.7" stroke="#aaa"/><path d="M356.8 402.0h1.1" stroke="#aaa"/><path d="M513.1 408.9h1.5" stroke="#555"/><path d="M265.3 387.1h1.5" stroke="#aaa"/><path d="M475.4 408.1h1.5" stroke="#aaa"/><path d="M531.1 410.9h1.0" stroke="#555"/><path d="M226.0 384.4h1.2" stroke="#555"/><path d="M449.0 409.7h1.9" stroke="#ccc"/><path d="M472.6 408.4h1.0" stroke="#5a5a5a"/><path d="M577.9 413.7h1.1" stroke="#ccc"/><path d="M214.6 389.0h1.0" stroke="#555"/><path d="M312.0 402.3h1.5" stroke="#555"/><path d="M225.5 389.5h1.7" stroke="#5a5a5a"/><path d="M368.5 402.4h1.4" stroke="#aaa"/><path d="M376.2 400.8h1.6" stroke="#5a5a5a"/><path d="M461.1 411.5h1.6" stroke="#5a5a5a"/><path d="M308.9 399.0h1.3" stroke="#ccc"/><path d="M174.6 389.2h1.0" stroke="#555"/><path d="M273.0 390.9h1.6" stroke="#aaa"/><path d="M516.0 412.7h1.2" stroke="#ccc"/><path d="M355.5 399.5h1.9" stroke="#666"/><path d="M542.0 410.9h0.8" stroke="#555"/><path d="M214.6 387.6h1.7" stroke="#ccc"/><path d="M447.8 406.2h1.4" stroke="#666"/><path d="M443.2 408.6h0.9" stroke="#666"/><path d="M519.9 413.1h1.3" stroke="#ccc"/><path d="M360.0 398.6h1.4" stroke="#ccc"/><path d="M422.7 398.0h0.9" stroke="#aaa"/><path d="M215.4 384.9h1.0" stroke="#666"/><path d="M539.6 413.3h1.3" stroke="#aaa"/><path d="M488.0 407.9h1.5" stroke="#555"/><path d="M484.9 407.6h1.3" stroke="#555"/><path d="M194.3 389.7h0.9" stroke="#555"/><path d="M473.9 409.8h1.6" stroke="#5a5a5a"/><path d="M566.3 412.3h1.0" stroke="#666"/><path d="M429.2 403.9h1.2" stroke="#555"/><path d="M234.2 386.4h1.4" stroke="#666"/><path d="M446.1 407.9h1.7" stroke="#5a5a5a"/><path d="M193.9 388.7h1.0" stroke="#5a5a5a"/><path d="M187.8 384.1h1.6" stroke="#ccc"/><path d="M430.3 400.6h1.8" stroke="#5a5a5a"/><path d="M408.1 399.1h1.0" stroke="#666"/><path d="M276.9 391.5h1.0" stroke="#ccc"/><path d="M530.6 413.7h1.7" stroke="#5a5a5a"/><path d="M527.4 407.4h1.8" stroke="#555"/><path d="M244.2 388.1h1.2" stroke="#ccc"/><path d="M500.0 410.8h1.7" stroke="#555"/><path d="M250.7 386.8h1.1" stroke="#666"/><path d="M339.0 399.7h1.4" stroke="#5a5a5a"/><path d="M322.5 402.4h1.1" stroke="#666"/><path d="M159.3 389.8h0.8" stroke="#666"/><path d="M595.5 413.7h0.9" stroke="#aaa"/><path d="M425.3 401.1h1.4" stroke="#ccc"/><path d="M174.3 387.7h1.3" stroke="#555"/><path d="M473.9 407.5h1.8" stroke="#aaa"/><path d="M157.1 385.4h1.8" stroke="#666"/><path d="M387.6 403.1h1.2" stroke="#555"/><path d="M265.3 390.9h1.1" stroke="#555"/><path d="M468.8 408.8h0.9" stroke="#666"/><path d="M154.6 386.3h1.9" stroke="#aaa"/><path d="M402.7 401.9h1.2" stroke="#aaa"/><path d="M551.5 409.1h1.2" stroke="#555"/><path d="M414.3 401.9h1.2" stroke="#5a5a5a"/><path d="M339.6 398.4h1.1" stroke="#666"/><path d="M528.2 407.9h1.4" stroke="#5a5a5a"/><path d="M148.2 384.3h1.7" stroke="#555"/><path d="M508.2 410.4h1.0" stroke="#555"/><path d="M512.2 411.9h1.5" stroke="#aaa"/><path d="M192.5 386.5h1.4" stroke="#555"/><path d="M339.0 397.6h1.4" stroke="#555"/><path d="M515.0 411.4h0.9" stroke="#aaa"/><path d="M415.5 402.4h2.0" stroke="#555"/><path d="M466.0 409.9h1.4" stroke="#666"/><path d="M332.1 398.0h1.4" stroke="#555"/><path d="M250.8 384.5h1.8" stroke="#555"/><path d="M277.3 397.2h1.4" stroke="#5a5a5a"/><path d="M237.4 386.5h1.6" stroke="#555"/><path d="M158.2 387.5h1.2" stroke="#666"/><path d="M536.3 411.6h1.3" stroke="#aaa"/><path d="M341.6 399.0h1.0" stroke="#555"/><path d="M401.2 399.2h1.5" stroke="#666"/><path d="M217.9 389.0h1.9" stroke="#aaa"/><path d="M526.8 413.0h1.8" stroke="#aaa"/><path d="M182.8 387.6h1.1" stroke="#ccc"/><path d="M209.6 389.3h0.8" stroke="#555"/><path d="M590.9 409.9h0.9" stroke="#aaa"/><path d="M584.2 411.4h1.7" stroke="#555"/><path d="M507.2 407.3h1.4" stroke="#ccc"/><path d="M358.7 403.1h0.8" stroke="#555"/><path d="M443.8 407.9h1.7" stroke="#ccc"/><path d="M397.1 402.3h1.7" stroke="#ccc"/><path d="M535.6 411.3h1.5" stroke="#5a5a5a"/><path d="M289.7 400.9h1.2" stroke="#555"/><path d="M225.0 385.6h1.4" stroke="#ccc"/><path d="M512.9 409.0h1.8" stroke="#ccc"/><path d="M568.0 409.8h1.4" stroke="#ccc"/><path d="M370.2 398.6h1.0" stroke="#555"/><path d="M414.4 401.3h1.3" stroke="#aaa"/><path d="M399.1 398.9h1.9" stroke="#aaa"/><path d="M579.8 408.0h1.1" stroke="#aaa"/><path d="M169.2 387.0h1.1" stroke="#5a5a5a"/><path d="M523.4 412.1h1.0" stroke="#aaa"/><path d="M480.8 413.2h1.5" stroke="#ccc"/><path d="M411.0 402.7h1.3" stroke="#ccc"/><path d="M153.6 388.4h1.0" stroke="#5a5a5a"/><path d="M342.1 403.7h0.8" stroke="#666"/><path d="M358.7 400.6h1.8" stroke="#ccc"/><path d="M194.9 386.5h1.6" stroke="#666"/><path d="M445.6 408.8h0.9" stroke="#5a5a5a"/><path d="M568.7 413.5h1.1" stroke="#555"/><path d="M457.0 411.7h1.4" stroke="#ccc"/><path d="M375.5 403.5h1.3" stroke="#ccc"/><path d="M213.4 384.7h2.0" stroke="#aaa"/><path d="M478.1 410.4h2.0" stroke="#ccc"/><path d="M567.3 410.5h2.0" stroke="#555"/><path d="M567.4 413.2h1.4" stroke="#5a5a5a"/><path d="M219.8 384.7h1.4" stroke="#5a5a5a"/><path d="M481.1 408.5h2.0" stroke="#aaa"/><path d="M316.3 403.6h1.0" stroke="#ccc"/><path d="M514.8 408.7h1.3" stroke="#555"/><path d="M292.0 402.0h1.8" stroke="#666"/><path d="M319.3 398.0h1.3" stroke="#ccc"/><path d="M493.4 411.3h1.4" stroke="#666"/><path d="M373.4 402.4h1.7" stroke="#5a5a5a"/><path d="M418.8 399.6h1.0" stroke="#ccc"/><path d="M476.0 409.5h1.6" stroke="#aaa"/><path d="M169.7 384.3h1.1" stroke="#5a5a5a"/><path d="M200.4 389.6h1.7" stroke="#555"/><path d="M338.9 399.6h1.4" stroke="#555"/><path d="M397.0 398.7h1.1" stroke="#aaa"/><path d="M551.9 411.8h1.1" stroke="#ccc"/><path d="M474.5 409.2h1.5" stroke="#aaa"/><path d="M536.1 411.5h1.0" stroke="#aaa"/><path d="M436.9 407.5h1.6" stroke="#aaa"/><path d="M275.2 393.9h1.5" stroke="#aaa"/><path d="M473.3 412.9h0.8" stroke="#aaa"/><path d="M352.2 399.3h1.3" stroke="#555"/><path d="M216.3 386.1h1.0" stroke="#aaa"/><path d="M591.5 409.5h1.8" stroke="#666"/><path d="M331.2 400.9h0.8" stroke="#666"/><path d="M585.4 413.8h1.1" stroke="#666"/><path d="M328.3 401.9h1.5" stroke="#666"/><path d="M545.8 407.9h1.3" stroke="#5a5a5a"/><path d="M215.6 390.1h1.3" stroke="#ccc"/><path d="M407.8 399.7h1.8" stroke="#ccc"/><path d="M187.4 384.5h1.5" stroke="#555"/><path d="M489.8 411.7h1.6" stroke="#5a5a5a"/><path d="M594.2 411.6h2.0" stroke="#666"/><path d="M542.5 411.9h1.1" stroke="#555"/><path d="M362.2 399.9h1.2" stroke="#555"/><path d="M591.4 407.3h1.2" stroke="#5a5a5a"/><path d="M378.5 399.7h1.9" stroke="#555"/><path d="M310.2 403.8h1.4" stroke="#5a5a5a"/><path d="M265.8 389.6h1.2" stroke="#aaa"/><path d="M161.3 385.2h1.1" stroke="#5a5a5a"/><path d="M503.8 409.7h1.4" stroke="#555"/><path d="M482.4 412.7h1.7" stroke="#555"/><path d="M204.4 385.6h1.5" stroke="#ccc"/><path d="M394.6 397.4h1.9" stroke="#ccc"/><path d="M477.5 412.5h1.8" stroke="#aaa"/><path d="M212.9 385.7h1.1" stroke="#aaa"/><path d="M381.2 403.5h1.8" stroke="#666"/><path d="M429.0 405.0h1.9" stroke="#aaa"/><path d="M394.3 401.0h1.5" stroke="#ccc"/><path d="M561.6 411.9h1.3" stroke="#ccc"/><path d="M427.2 401.5h1.3" stroke="#ccc"/><path d="M288.5 401.9h1.2" stroke="#555"/><path d="M413.5 403.1h0.9" stroke="#555"/><path d="M425.0 402.5h0.9" stroke="#666"/><path d="M458.4 410.0h1.1" stroke="#5a5a5a"/><path d="M567.7 413.2h1.2" stroke="#555"/><path d="M178.9 384.5h1.1" stroke="#555"/><path d="M417.0 401.7h1.8" stroke="#ccc"/><path d="M240.8 385.9h2.0" stroke="#aaa"/><path d="M440.4 403.7h1.1" stroke="#ccc"/><path d="M315.7 397.8h0.8" stroke="#aaa"/><path d="M158.2 388.1h1.2" stroke="#ccc"/><path d="M208.6 387.3h1.1" stroke="#ccc"/><path d="M168.3 389.7h1.6" stroke="#aaa"/><path d="M271.1 393.8h1.5" stroke="#ccc"/><path d="M342.4 400.0h1.7" stroke="#5a5a5a"/><path d="M265.7 385.8h1.2" stroke="#5a5a5a"/><path d="M538.9 410.3h1.2" stroke="#aaa"/><path d="M551.3 410.9h1.7" stroke="#5a5a5a"/><path d="M584.0 408.4h1.8" stroke="#ccc"/><path d="M160.1 384.8h1.1" stroke="#5a5a5a"/><path d="M330.2 399.9h1.8" stroke="#666"/><path d="M230.5 386.6h0.9" stroke="#5a5a5a"/><path d="M326.6 399.6h1.2" stroke="#ccc"/><path d="M566.2 407.1h1.0" stroke="#aaa"/><path d="M231.6 385.1h1.0" stroke="#5a5a5a"/><path d="M492.2 409.9h1.6" stroke="#aaa"/><path d="M361.7 399.8h1.5" stroke="#5a5a5a"/><path d="M323.7 398.1h1.1" stroke="#666"/><path d="M592.5 407.7h1.8" stroke="#ccc"/><path d="M260.8 388.9h2.0" stroke="#aaa"/><path d="M149.8 389.6h0.8" stroke="#ccc"/><path d="M362.0 400.6h1.4" stroke="#aaa"/><path d="M371.0 400.8h1.8" stroke="#666"/><path d="M225.3 387.7h1.3" stroke="#5a5a5a"/><path d="M502.9 407.1h1.3" stroke="#5a5a5a"/><path d="M597.4 409.9h1.8" stroke="#5a5a5a"/><path d="M436.3 404.4h1.7" stroke="#666"/><path d="M563.5 407.4h1.1" stroke="#ccc"/><path d="M480.1 412.7h1.1" stroke="#5a5a5a"/><path d="M303.6 401.4h1.8" stroke="#aaa"/><path d="M388.1 400.0h2.0" stroke="#5a5a5a"/><path d="M434.9 403.6h1.9" stroke="#5a5a5a"/><path d="M226.2 384.8h1.6" stroke="#ccc"/><path d="M252.4 386.0h1.2" stroke="#5a5a5a"/><path d="M487.8 413.1h0.8" stroke="#555"/><path d="M574.9 408.8h1.1" stroke="#5a5a5a"/><path d="M358.7 402.0h1.8" stroke="#666"/><path d="M181.7 384.9h1.0" stroke="#666"/><path d="M470.0 409.8h1.5" stroke="#ccc"/><path d="M480.6 413.2h1.7" stroke="#ccc"/><path d="M592.4 410.2h1.7" stroke="#aaa"/><path d="M257.0 385.8h1.4" stroke="#666"/><path d="M160.9 389.4h1.4" stroke="#ccc"/><path d="M457.3 412.1h1.2" stroke="#aaa"/><path d="M152.7 387.4h1.5" stroke="#555"/><path d="M322.3 399.0h1.1" stroke="#555"/><path d="M470.8 408.2h1.5" stroke="#aaa"/><path d="M506.2 408.5h1.4" stroke="#ccc"/><path d="M212.6 387.9h1.2" stroke="#666"/><path d="M251.0 385.9h1.8" stroke="#555"/><path d="M538.0 412.3h1.4" stroke="#555"/><path d="M471.0 409.5h1.4" stroke="#aaa"/><path d="M379.9 397.6h1.2" stroke="#aaa"/><path d="M225.0 385.6h1.1" stroke="#5a5a5a"/><path d="M340.7 402.7h1.8" stroke="#666"/><path d="M545.2 411.7h1.5" stroke="#aaa"/><path d="M245.5 388.4h0.9" stroke="#ccc"/><path d="M437.7 406.3h1.1" stroke="#5a5a5a"/><path d="M416.9 397.9h2.0" stroke="#aaa"/><path d="M379.2 398.8h1.7" stroke="#ccc"/><path d="M511.2 410.7h2.0" stroke="#aaa"/><path d="M386.0 402.1h0.9" stroke="#ccc"/><path d="M596.9 409.3h1.6" stroke="#ccc"/><path d="M526.4 407.7h1.6" stroke="#aaa"/><path d="M262.0 385.4h1.8" stroke="#555"/><path d="M593.9 410.9h1.7" stroke="#aaa"/><path d="M226.3 384.8h1.8" stroke="#666"/><path d="M440.9 407.0h1.4" stroke="#666"/><path d="M254.9 388.9h2.0" stroke="#666"/><path d="M593.4 411.7h0.8" stroke="#aaa"/><path d="M563.7 408.1h1.1" stroke="#ccc"/><path d="M225.1 389.4h1.7" stroke="#555"/><path d="M399.3 398.4h0.9" stroke="#666"/><path d="M516.7 407.1h1.0" stroke="#666"/><path d="M148.0 384.4h1.3" stroke="#ccc"/><path d="M343.6 398.0h1.4" stroke="#555"/><path d="M433.0 404.8h1.9" stroke="#ccc"/><path d="M453.6 411.4h0.8" stroke="#555"/><path d="M184.9 385.8h1.3" stroke="#5a5a5a"/><path d="M189.1 384.4h1.9" stroke="#666"/><path d="M278.1 393.3h1.6" stroke="#666"/><path d="M185.5 387.2h1.7" stroke="#555"/><path d="M272.2 393.6h1.6" stroke="#ccc"/><path d="M235.3 385.9h1.2" stroke="#ccc"/><path d="M453.4 407.6h1.0" stroke="#555"/><path d="M497.2 407.1h1.9" stroke="#aaa"/><path d="M148.6 389.1h1.9" stroke="#5a5a5a"/><path d="M578.5 411.2h1.8" stroke="#aaa"/><path d="M297.1 403.5h1.3" stroke="#555"/><path d="M587.5 411.8h1.1" stroke="#aaa"/><path d="M180.4 389.6h1.9" stroke="#aaa"/><path d="M282.5 393.8h1.6" stroke="#555"/><path d="M551.0 413.5h0.8" stroke="#5a5a5a"/><path d="M349.5 399.4h1.5" stroke="#aaa"/><path d="M564.8 411.1h1.4" stroke="#ccc"/><path d="M383.8 397.2h1.7" stroke="#ccc"/><path d="M341.7 400.9h1.5" stroke="#5a5a5a"/><path d="M318.2 402.2h1.5" stroke="#ccc"/><path d="M219.2 387.8h1.4" stroke="#555"/><path d="M391.6 400.6h1.9" stroke="#ccc"/><path d="M403.3 400.0h1.7" stroke="#aaa"/><path d="M179.9 384.2h1.3" stroke="#ccc"/><path d="M311.4 403.0h1.3" stroke="#ccc"/><path d="M317.8 402.0h1.0" stroke="#666"/><path d="M574.3 407.9h1.3" stroke="#5a5a5a"/><path d="M583.4 410.7h1.8" stroke="#ccc"/><path d="M231.6 384.1h1.5" stroke="#555"/><path d="M149.6 389.9h1.2" stroke="#ccc"/><path d="M210.1 384.5h1.2" stroke="#aaa"/><path d="M378.3 403.4h1.4" stroke="#555"/><path d="M354.0 401.8h1.4" stroke="#666"/><path d="M321.4 398.6h0.9" stroke="#555"/><path d="M451.9 412.1h1.0" stroke="#ccc"/><path d="M188.6 388.4h1.9" stroke="#aaa"/><path d="M344.4 398.4h1.5" stroke="#666"/><path d="M363.3 400.5h1.3" stroke="#555"/><path d="M514.5 412.8h1.7" stroke="#5a5a5a"/><path d="M313.0 403.5h1.8" stroke="#555"/><path d="M304.0 399.4h1.8" stroke="#aaa"/><path d="M167.6 386.7h1.0" stroke="#ccc"/><path d="M529.7 408.0h1.4" stroke="#5a5a5a"/><path d="M147.0 387.6h0.9" stroke="#555"/><path d="M327.9 403.4h1.3" stroke="#5a5a5a"/><path d="M577.6 410.2h1.8" stroke="#666"/><path d="M273.1 394.5h1.4" stroke="#666"/><path d="M563.6 411.2h0.8" stroke="#5a5a5a"/><path d="M187.3 387.2h1.0" stroke="#ccc"/><path d="M459.0 411.5h0.9" stroke="#666"/><path d="M597.1 407.5h1.9" stroke="#ccc"/><path d="M507.1 409.5h0.9" stroke="#aaa"/><path d="M503.2 413.2h0.9" stroke="#555"/><path d="M407.2 403.2h1.0" stroke="#ccc"/><path d="M357.1 402.5h1.2" stroke="#555"/><path d="M340.6 402.2h1.7" stroke="#555"/><path d="M250.0 389.1h0.9" stroke="#aaa"/><path d="M405.0 398.3h1.4" stroke="#555"/><path d="M513.8 410.9h0.8" stroke="#555"/><path d="M366.2 403.0h1.9" stroke="#555"/><path d="M407.0 399.0h1.6" stroke="#5a5a5a"/><path d="M249.8 388.0h1.4" stroke="#ccc"/><path d="M334.2 401.0h1.8" stroke="#666"/><path d="M333.7 398.2h1.1" stroke="#5a5a5a"/><path d="M360.9 398.0h2.0" stroke="#555"/><path d="M506.2 410.4h2.0" stroke="#666"/><path d="M238.6 385.9h0.9" stroke="#ccc"/><path d="M555.5 412.0h0.8" stroke="#555"/><path d="M297.5 398.5h1.6" stroke="#ccc"/><path d="M329.7 401.8h1.4" stroke="#555"/><path d="M281.4 399.1h1.3" stroke="#5a5a5a"/><path d="M384.4 402.7h1.2" stroke="#666"/><path d="M563.0 409.9h1.3" stroke="#555"/><path d="M270.7 391.4h1.7" stroke="#555"/><path d="M349.9 401.1h2.0" stroke="#666"/><path d="M598.4 413.4h1.4" stroke="#ccc"/><path d="M394.9 403.2h1.8" stroke="#5a5a5a"/><path d="M320.3 403.9h1.3" stroke="#5a5a5a"/><path d="M209.5 384.3h0.9" stroke="#5a5a5a"/><path d="M516.8 413.2h1.3" stroke="#555"/><path d="M350.4 399.4h1.2" stroke="#555"/><path d="M326.9 398.7h1.7" stroke="#666"/><path d="M151.4 384.2h1.9" stroke="#5a5a5a"/><path d="M294.0 397.8h1.7" stroke="#5a5a5a"/><path d="M448.7 409.6h0.9" stroke="#666"/><path d="M184.8 384.6h1.9" stroke="#ccc"/><path d="M189.9 390.1h1.0" stroke="#555"/><path d="M511.9 411.7h1.6" stroke="#aaa"/><path d="M171.5 388.4h1.6" stroke="#666"/><path d="M331.0 401.4h1.2" stroke="#666"/><path d="M563.7 408.9h1.6" stroke="#555"/><path d="M599.2 413.4h1.0" stroke="#666"/><path d="M555.2 412.4h1.2" stroke="#ccc"/><path d="M582.8 407.1h1.7" stroke="#aaa"/><path d="M463.9 407.3h0.9" stroke="#5a5a5a"/><path d="M244.2 388.5h1.9" stroke="#666"/><path d="M304.2 402.8h1.1" stroke="#ccc"/><path d="M434.1 404.9h1.3" stroke="#555"/><path d="M166.9 389.2h1.7" stroke="#555"/><path d="M466.0 412.3h1.5" stroke="#aaa"/><path d="M169.4 386.2h1.6" stroke="#ccc"/><path d="M438.7 408.2h0.9" stroke="#555"/><path d="M592.1 409.1h1.1" stroke="#ccc"/><path d="M284.7 399.0h1.6" stroke="#666"/><path d="M409.3 397.1h1.0" stroke="#5a5a5a"/><path d="M161.2 385.3h1.4" stroke="#555"/><path d="M463.5 411.8h0.9" stroke="#555"/><path d="M282.9 397.4h1.9" stroke="#555"/><path d="M595.7 409.4h1.5" stroke="#ccc"/><path d="M225.9 387.4h1.7" stroke="#5a5a5a"/><path d="M257.4 386.3h1.2" stroke="#ccc"/><path d="M167.7 386.4h0.9" stroke="#555"/><path d="M583.6 411.0h0.8" stroke="#ccc"/><path d="M155.7 387.5h0.9" stroke="#ccc"/><path d="M394.7 401.6h1.1" stroke="#aaa"/><path d="M499.6 412.8h1.4" stroke="#aaa"/><path d="M461.6 407.8h1.6" stroke="#666"/><path d="M405.3 398.9h1.6" stroke="#ccc"/><path d="M593.9 413.2h0.8" stroke="#555"/><path d="M369.3 399.6h1.2" stroke="#666"/><path d="M150.6 385.0h1.8" stroke="#5a5a5a"/><path d="M180.0 385.3h1.2" stroke="#aaa"/><path d="M205.9 386.4h0.9" stroke="#5a5a5a"/><path d="M390.4 398.3h1.6" stroke="#555"/><path d="M446.7 408.8h1.1" stroke="#666"/><path d="M247.3 386.1h0.9" stroke="#555"/><path d="M481.0 407.2h1.6" stroke="#555"/><path d="M551.2 412.8h1.2" stroke="#555"/><path d="M149.5 388.7h1.5" stroke="#ccc"/><path d="M334.5 399.0h1.0" stroke="#555"/><path d="M556.0 407.6h1.3" stroke="#aaa"/><path d="M506.9 411.0h1.1" stroke="#555"/><path d="M454.3 413.0h1.2" stroke="#aaa"/><path d="M544.0 410.8h1.3" stroke="#ccc"/><path d="M535.3 412.8h1.0" stroke="#555"/><path d="M480.8 411.9h1.0" stroke="#5a5a5a"/><path d="M168.0 389.9h1.3" stroke="#666"/><path d="M511.3 408.2h1.9" stroke="#555"/><path d="M211.1 386.3h1.0" stroke="#ccc"/><path d="M262.9 390.5h1.6" stroke="#555"/><path d="M204.1 389.6h0.9" stroke="#555"/><path d="M302.9 398.5h0.8" stroke="#ccc"/><path d="M232.6 388.3h0.9" stroke="#666"/><path d="M507.3 411.8h0.9" stroke="#666"/><path d="M557.8 410.6h1.4" stroke="#555"/><path d="M559.2 412.0h1.5" stroke="#5a5a5a"/><path d="M343.5 402.3h1.3" stroke="#ccc"/><path d="M389.6 399.2h0.9" stroke="#ccc"/><path d="M413.6 399.0h1.6" stroke="#aaa"/><path d="M360.1 401.8h1.3" stroke="#555"/><path d="M381.1 401.7h1.9" stroke="#5a5a5a"/><path d="M363.9 402.1h1.8" stroke="#ccc"/><path d="M177.4 390.1h1.9" stroke="#ccc"/><path d="M377.4 400.9h1.8" stroke="#666"/><path d="M272.1 394.7h1.8" stroke="#5a5a5a"/><path d="M444.8 410.8h1.0" stroke="#666"/><path d="M488.6 408.0h1.0" stroke="#555"/><path d="M243.8 385.8h1.6" stroke="#666"/><path d="M526.9 408.5h0.9" stroke="#666"/><path d="M187.2 385.7h1.6" stroke="#5a5a5a"/><path d="M478.2 412.9h1.7" stroke="#ccc"/><path d="M176.9 390.0h1.5" stroke="#5a5a5a"/><path d="M468.9 411.4h1.7" stroke="#666"/><path d="M479.9 407.8h2.0" stroke="#666"/><path d="M272.5 393.3h1.1" stroke="#666"/><path d="M206.4 388.4h1.2" stroke="#aaa"/><path d="M568.5 411.9h1.1" stroke="#555"/><path d="M472.2 407.3h1.4" stroke="#666"/><path d="M336.3 403.1h1.1" stroke="#aaa"/><path d="M236.3 388.2h1.2" stroke="#555"/><path d="M506.3 408.5h1.3" stroke="#aaa"/><path d="M308.2 403.4h1.5" stroke="#555"/><path d="M248.6 388.8h1.6" stroke="#555"/><path d="M595.8 407.6h1.4" stroke="#555"/><path d="M318.3 401.4h1.5" stroke="#666"/><path d="M580.0 408.5h1.1" stroke="#555"/><path d="M528.5 412.0h0.9" stroke="#5a5a5a"/><path d="M322.4 398.5h0.9" stroke="#ccc"/><path d="M540.5 413.4h1.4" stroke="#aaa"/><path d="M374.0 399.5h1.9" stroke="#ccc"/><path d="M585.9 410.0h1.4" stroke="#aaa"/><path d="M488.2 412.7h1.1" stroke="#aaa"/><path d="M325.5 398.4h1.4" stroke="#ccc"/><path d="M325.4 399.7h1.5" stroke="#5a5a5a"/><path d="M499.8 412.1h1.6" stroke="#5a5a5a"/><path d="M346.8 400.1h1.6" stroke="#666"/><path d="M420.9 398.2h1.5" stroke="#666"/><path d="M302.7 399.5h1.3" stroke="#ccc"/><path d="M352.5 398.1h1.3" stroke="#666"/><path d="M343.5 402.7h1.2" stroke="#555"/><path d="M213.5 385.3h1.6" stroke="#aaa"/><path d="M563.6 412.1h1.6" stroke="#ccc"/><path d="M267.7 387.5h1.8" stroke="#ccc"/><path d="M435.2 407.3h1.7" stroke="#ccc"/><path d="M577.0 411.2h0.9" stroke="#ccc"/><path d="M429.1 401.9h1.7" stroke="#666"/><path d="M558.1 411.9h1.5" stroke="#ccc"/><path d="M319.3 398.9h1.2" stroke="#ccc"/><path d="M255.5 384.8h1.9" stroke="#5a5a5a"/><path d="M588.3 408.3h1.6" stroke="#5a5a5a"/><path d="M312.2 399.0h1.1" stroke="#666"/><path d="M238.6 389.1h0.9" stroke="#666"/><path d="M467.0 409.3h1.4" stroke="#ccc"/><path d="M159.7 390.1h1.2" stroke="#5a5a5a"/><path d="M358.5 401.9h1.6" stroke="#ccc"/><path d="M373.2 402.3h1.5" stroke="#aaa"/><path d="M552.4 412.5h1.7" stroke="#5a5a5a"/><path d="M574.1 413.4h1.9" stroke="#5a5a5a"/><path d="M310.3 399.0h1.5" stroke="#5a5a5a"/><path d="M596.0 408.9h1.9" stroke="#aaa"/><path d="M416.4 400.1h1.3" stroke="#555"/><path d="M557.4 407.9h1.2" stroke="#666"/><path d="M314.6 401.0h1.5" stroke="#555"/><path d="M566.2 413.5h1.4" stroke="#5a5a5a"/><path d="M516.1 408.2h1.5" stroke="#aaa"/><path d="M293.4 403.8h1.3" stroke="#ccc"/><path d="M283.8 396.8h1.8" stroke="#555"/><path d="M255.5 386.8h1.0" stroke="#5a5a5a"/><path d="M313.7 402.2h1.1" stroke="#555"/><path d="M321.3 403.5h0.9" stroke="#5a5a5a"/><path d="M449.5 407.8h1.5" stroke="#ccc"/><path d="M259.3 389.6h1.8" stroke="#aaa"/><path d="M283.4 395.7h1.1" stroke="#5a5a5a"/><path d="M513.7 410.0h1.1" stroke="#aaa"/><path d="M496.0 408.5h0.8" stroke="#555"/><path d="M439.5 407.4h1.9" stroke="#aaa"/><path d="M519.3 413.1h1.9" stroke="#666"/><path d="M183.0 388.5h0.9" stroke="#aaa"/><path d="M569.4 409.0h1.1" stroke="#666"/><path d="M516.5 411.4h1.3" stroke="#666"/><path d="M557.3 412.5h1.1" stroke="#5a5a5a"/><path d="M455.2 412.5h0.9" stroke="#aaa"/><path d="M372.2 401.3h1.8" stroke="#666"/><path d="M570.0 411.7h1.3" stroke="#ccc"/><path d="M301.7 402.4h1.1" stroke="#666"/><path d="M348.5 400.2h1.3" stroke="#ccc"/><path d="M455.9 409.5h1.4" stroke="#666"/><path d="M197.5 389.6h1.9" stroke="#555"/><path d="M432.1 402.6h1.8" stroke="#666"/><path d="M569.4 407.4h1.2" stroke="#5a5a5a"/><path d="M382.2 403.4h0.8" stroke="#555"/><path d="M215.8 389.3h1.7" stroke="#666"/><path d="M176.8 385.2h1.6" stroke="#aaa"/><path d="M575.2 407.8h1.5" stroke="#555"/><path d="M249.7 387.6h1.7" stroke="#555"/><path d="M245.6 386.5h1.4" stroke="#555"/><path d="M221.5 384.2h1.0" stroke="#555"/><path d="M429.0 401.5h1.4" stroke="#666"/><path d="M324.0 403.3h1.5" stroke="#555"/><path d="M231.5 388.5h1.7" stroke="#aaa"/><path d="M302.8 402.2h1.2" stroke="#ccc"/><path d="M551.6 411.5h1.9" stroke="#666"/><path d="M214.2 384.9h1.1" stroke="#aaa"/><path d="M426.0 403.9h1.5" stroke="#ccc"/><path d="M147.6 386.3h1.6" stroke="#aaa"/><path d="M522.2 412.2h1.7" stroke="#666"/><path d="M249.2 385.4h0.9" stroke="#aaa"/><path d="M305.6 397.7h0.9" stroke="#aaa"/><path d="M169.2 390.1h1.4" stroke="#555"/><path d="M323.3 400.7h1.7" stroke="#555"/><path d="M512.5 412.5h1.3" stroke="#666"/><path d="M191.7 387.0h1.3" stroke="#666"/><path d="M307.5 403.1h1.1" stroke="#ccc"/><path d="M583.1 411.8h1.6" stroke="#666"/><path d="M583.5 410.5h1.9" stroke="#aaa"/><path d="M492.2 410.5h1.7" stroke="#5a5a5a"/><path d="M363.7 399.3h1.0" stroke="#5a5a5a"/><path d="M242.0 390.0h2.0" stroke="#666"/><path d="M592.1 408.0h1.9" stroke="#666"/><path d="M377.3 401.2h1.2" stroke="#ccc"/><path d="M598.7 409.5h1.0" stroke="#ccc"/><path d="M516.5 413.6h1.0" stroke="#666"/><path d="M581.1 409.9h1.0" stroke="#aaa"/><path d="M549.5 413.8h1.1" stroke="#5a5a5a"/><path d="M444.2 410.0h1.8" stroke="#666"/><path d="M434.9 405.8h0.9" stroke="#666"/><path d="M440.4 406.4h1.3" stroke="#5a5a5a"/><path d="M506.2 408.8h0.8" stroke="#666"/><path d="M450.1 407.8h1.9" stroke="#ccc"/><path d="M496.8 411.2h1.0" stroke="#5a5a5a"/><path d="M549.5 407.5h1.0" stroke="#aaa"/><path d="M446.5 408.3h1.6" stroke="#5a5a5a"/><path d="M250.8 389.1h1.6" stroke="#aaa"/><path d="M321.9 399.5h1.7" stroke="#5a5a5a"/><path d="M167.4 386.0h0.9" stroke="#ccc"/><path d="M225.9 387.9h1.2" stroke="#555"/><path d="M340.9 402.0h0.9" stroke="#555"/><path d="M494.2 411.4h1.3" stroke="#5a5a5a"/><path d="M154.7 389.8h1.5" stroke="#555"/><path d="M317.3 403.9h1.2" stroke="#ccc"/><path d="M394.8 399.4h0.9" stroke="#666"/><path d="M511.0 412.4h1.1" stroke="#555"/><path d="M343.9 398.3h0.9" stroke="#555"/><path d="M539.7 410.4h1.7" stroke="#666"/><path d="M187.7 385.9h1.5" stroke="#666"/><path d="M487.6 409.8h1.3" stroke="#ccc"/><path d="M388.0 401.2h0.8" stroke="#aaa"/><path d="M579.6 410.4h1.0" stroke="#555"/><path d="M369.2 400.3h1.8" stroke="#555"/><path d="M593.2 408.3h1.6" stroke="#aaa"/><path d="M452.8 407.2h1.6" stroke="#5a5a5a"/><path d="M583.6 410.8h1.6" stroke="#aaa"/><path d="M337.4 398.9h1.9" stroke="#666"/><path d="M457.3 412.6h1.0" stroke="#5a5a5a"/><path d="M420.0 400.9h1.2" stroke="#aaa"/><path d="M232.3 389.9h1.6" stroke="#ccc"/><path d="M229.3 384.8h1.0" stroke="#555"/><path d="M412.5 399.2h1.7" stroke="#555"/><path d="M367.3 399.6h1.5" stroke="#5a5a5a"/><path d="M353.6 403.2h0.8" stroke="#aaa"/><path d="M169.6 384.9h1.4" stroke="#ccc"/><path d="M285.7 398.3h1.4" stroke="#aaa"/><path d="M281.9 395.9h1.9" stroke="#aaa"/><path d="M547.8 407.6h1.3" stroke="#666"/><path d="M304.4 402.0h1.1" stroke="#555"/><path d="M296.8 397.6h1.2" stroke="#666"/><path d="M463.7 410.0h1.5" stroke="#555"/><path d="M321.9 399.2h1.5" stroke="#aaa"/><path d="M583.2 410.1h1.9" stroke="#555"/><path d="M403.1 399.3h1.6" stroke="#ccc"/><path d="M247.9 385.3h1.5" stroke="#5a5a5a"/><path d="M472.7 408.1h0.9" stroke="#5a5a5a"/><path d="M386.6 400.1h1.3" stroke="#666"/><path d="M253.4 384.5h1.5" stroke="#5a5a5a"/><path d="M562.0 411.3h1.8" stroke="#ccc"/><path d="M492.8 411.0h1.9" stroke="#5a5a5a"/><path d="M334.5 400.2h2.0" stroke="#5a5a5a"/><path d="M488.4 412.6h1.7" stroke="#5a5a5a"/><path d="M286.2 396.6h1.8" stroke="#555"/><path d="M285.3 395.3h1.9" stroke="#ccc"/><path d="M413.9 401.7h1.8" stroke="#666"/><path d="M575.0 408.8h1.3" stroke="#ccc"/><path d="M249.6 389.5h1.1" stroke="#aaa"/><path d="M385.2 401.4h1.0" stroke="#ccc"/><path d="M248.7 387.7h1.3" stroke="#ccc"/><path d="M421.3 400.0h2.0" stroke="#666"/><path d="M450.1 409.7h1.5" stroke="#ccc"/><path d="M570.0 407.7h0.9" stroke="#666"/><path d="M150.6 389.5h1.3" stroke="#ccc"/><path d="M174.7 385.1h1.7" stroke="#aaa"/><path d="M364.0 399.2h1.2" stroke="#ccc"/><path d="M277.0 395.3h1.2" stroke="#aaa"/><path d="M361.1 401.0h0.8" stroke="#666"/><path d="M151.6 385.9h1.3" stroke="#ccc"/><path d="M284.9 400.4h1.7" stroke="#666"/><path d="M248.2 384.3h1.0" stroke="#555"/><path d="M481.0 409.3h1.7" stroke="#666"/><path d="M239.4 389.4h1.8" stroke="#5a5a5a"/><path d="M538.5 410.6h1.3" stroke="#ccc"/><path d="M296.8 399.7h2.0" stroke="#aaa"/><path d="M398.6 399.8h1.9" stroke="#555"/><path d="M423.1 403.2h1.6" stroke="#5a5a5a"/><path d="M397.3 398.3h1.3" stroke="#5a5a5a"/><path d="M247.2 384.4h1.5" stroke="#ccc"/><path d="M168.8 385.3h1.0" stroke="#666"/><path d="M331.6 403.5h0.8" stroke="#666"/><path d="M259.6 385.9h1.0" stroke="#5a5a5a"/><path d="M331.2 401.6h1.2" stroke="#555"/><path d="M447.5 409.9h1.4" stroke="#aaa"/><path d="M461.0 412.0h1.7" stroke="#aaa"/><path d="M391.7 397.3h1.7" stroke="#ccc"/><path d="M594.8 411.7h1.5" stroke="#666"/><path d="M274.1 394.3h1.0" stroke="#555"/><path d="M511.5 407.6h1.3" stroke="#aaa"/><path d="M276.6 393.6h2.0" stroke="#666"/><path d="M283.9 399.4h1.0" stroke="#555"/><path d="M390.1 402.1h1.9" stroke="#5a5a5a"/><path d="M221.0 389.1h1.9" stroke="#ccc"/><path d="M338.2 399.5h1.7" stroke="#aaa"/><path d="M477.6 411.8h1.0" stroke="#666"/><path d="M207.5 390.2h1.8" stroke="#ccc"/><path d="M151.2 384.1h1.3" stroke="#5a5a5a"/><path d="M596.2 408.5h1.1" stroke="#555"/><path d="M246.4 385.6h1.3" stroke="#aaa"/><path d="M479.5 407.8h1.7" stroke="#aaa"/><path d="M312.4 402.8h1.8" stroke="#aaa"/><path d="M211.3 387.0h1.2" stroke="#ccc"/><path d="M515.7 408.7h1.0" stroke="#555"/><path d="M437.7 403.5h1.9" stroke="#555"/><path d="M225.4 385.4h1.5" stroke="#ccc"/><path d="M264.0 387.9h0.8" stroke="#666"/><path d="M269.7 393.3h0.9" stroke="#666"/><path d="M391.7 400.0h1.8" stroke="#ccc"/><path d="M508.1 413.0h0.9" stroke="#555"/><path d="M472.1 413.1h1.2" stroke="#666"/><path d="M546.1 407.4h1.9" stroke="#aaa"/><path d="M264.3 390.5h1.7" stroke="#aaa"/><path d="M581.2 412.9h1.6" stroke="#aaa"/><path d="M460.0 409.0h1.3" stroke="#5a5a5a"/><path d="M428.9 404.5h1.9" stroke="#666"/><path d="M169.7 386.2h1.1" stroke="#ccc"/><path d="M542.2 410.0h1.6" stroke="#aaa"/><path d="M300.8 403.3h1.0" stroke="#555"/><path d="M290.4 397.1h1.7" stroke="#ccc"/><path d="M302.5 400.1h1.1" stroke="#ccc"/><path d="M262.4 387.3h1.9" stroke="#666"/><path d="M366.9 401.2h1.5" stroke="#aaa"/><path d="M573.0 412.6h1.0" stroke="#555"/><path d="M185.9 384.3h1.3" stroke="#ccc"/><path d="M379.6 398.7h2.0" stroke="#5a5a5a"/><path d="M397.4 402.2h0.9" stroke="#ccc"/><path d="M562.1 413.8h1.3" stroke="#555"/><path d="M169.4 389.1h1.6" stroke="#5a5a5a"/><path d="M508.5 413.1h1.0" stroke="#ccc"/><path d="M193.9 390.0h1.1" stroke="#ccc"/><path d="M307.8 401.4h1.4" stroke="#555"/><path d="M225.2 384.9h1.9" stroke="#aaa"/><path d="M486.0 408.6h1.3" stroke="#ccc"/><path d="M221.1 386.2h1.0" stroke="#5a5a5a"/><path d="M198.2 385.1h1.6" stroke="#5a5a5a"/><path d="M265.1 390.9h1.8" stroke="#aaa"/><path d="M234.1 385.2h1.6" stroke="#555"/><path d="M516.9 408.3h1.2" stroke="#5a5a5a"/><path d="M347.6 403.2h1.2" stroke="#555"/><path d="M527.8 410.4h1.5" stroke="#ccc"/><path d="M296.8 399.3h1.8" stroke="#555"/><path d="M151.7 386.3h1.7" stroke="#aaa"/><path d="M457.0 407.4h1.0" stroke="#5a5a5a"/><path d="M455.9 410.1h1.6" stroke="#ccc"/><path d="M229.3 386.6h1.0" stroke="#666"/><path d="M544.6 412.1h1.1" stroke="#aaa"/><path d="M230.8 389.7h1.2" stroke="#aaa"/><path d="M224.2 389.7h1.0" stroke="#ccc"/><path d="M336.5 403.1h1.5" stroke="#5a5a5a"/><path d="M211.2 387.7h1.6" stroke="#555"/><path d="M406.4 402.9h1.5" stroke="#666"/><path d="M200.0 386.0h1.1" stroke="#aaa"/><path d="M215.7 386.0h1.3" stroke="#ccc"/><path d="M344.5 400.3h1.6" stroke="#666"/><path d="M225.1 387.9h1.6" stroke="#5a5a5a"/><path d="M579.1 407.3h0.9" stroke="#aaa"/><path d="M447.5 409.3h1.6" stroke="#555"/><path d="M396.7 397.7h1.7" stroke="#666"/><path d="M248.0 387.3h0.9" stroke="#555"/><path d="M407.0 402.4h1.6" stroke="#666"/><path d="M218.1 389.1h1.0" stroke="#555"/><path d="M215.8 389.9h1.7" stroke="#666"/><path d="M315.6 399.4h1.7" stroke="#555"/><path d="M390.9 402.6h1.3" stroke="#ccc"/><path d="M373.3 399.8h0.9" stroke="#555"/><path d="M411.0 400.4h1.5" stroke="#5a5a5a"/><path d="M173.5 385.9h1.7" stroke="#5a5a5a"/><path d="M526.2 411.5h1.8" stroke="#555"/><path d="M227.5 389.8h1.3" stroke="#aaa"/><path d="M384.6 398.7h1.4" stroke="#5a5a5a"/><path d="M498.5 413.3h1.1" stroke="#aaa"/><path d="M541.2 412.1h1.5" stroke="#555"/><path d="M475.1 408.4h0.9" stroke="#666"/><path d="M210.8 389.8h1.0" stroke="#666"/><path d="M234.6 384.1h0.9" stroke="#555"/><path d="M220.9 385.6h1.8" stroke="#666"/><path d="M198.1 388.5h1.9" stroke="#ccc"/><path d="M404.5 402.5h0.9" stroke="#555"/><path d="M537.8 410.0h1.5" stroke="#aaa"/><path d="M416.1 400.8h1.6" stroke="#ccc"/><path d="M190.7 385.0h0.9" stroke="#666"/><path d="M395.9 397.5h1.3" stroke="#aaa"/><path d="M156.5 388.3h1.6" stroke="#666"/><path d="M175.3 386.2h1.7" stroke="#666"/><path d="M391.3 398.3h1.0" stroke="#aaa"/><path d="M190.7 386.0h1.2" stroke="#555"/><path d="M228.3 385.5h1.9" stroke="#ccc"/><path d="M396.1 397.1h1.5" stroke="#5a5a5a"/><path d="M220.3 386.6h1.0" stroke="#ccc"/><path d="M499.6 412.0h0.9" stroke="#555"/><path d="M327.3 401.9h1.8" stroke="#666"/><path d="M489.6 413.0h1.0" stroke="#666"/><path d="M398.8 402.7h1.5" stroke="#ccc"/><path d="M321.6 402.6h1.1" stroke="#666"/><path d="M366.1 403.0h1.4" stroke="#555"/><path d="M434.7 406.7h1.9" stroke="#ccc"/><path d="M486.8 411.9h1.3" stroke="#666"/><path d="M194.5 386.7h2.0" stroke="#5a5a5a"/><path d="M196.2 390.0h1.0" stroke="#666"/><path d="M376.1 398.2h1.7" stroke="#666"/><path d="M216.0 388.2h1.7" stroke="#ccc"/><path d="M248.4 389.6h1.7" stroke="#aaa"/><path d="M476.9 407.4h1.2" stroke="#aaa"/><path d="M571.9 412.2h1.3" stroke="#555"/><path d="M552.7 410.4h1.6" stroke="#555"/><path d="M338.4 401.4h1.8" stroke="#5a5a5a"/><path d="M222.7 387.9h1.4" stroke="#ccc"/><path d="M534.9 412.5h1.7" stroke="#666"/><path d="M428.4 402.0h1.9" stroke="#aaa"/><path d="M199.9 389.7h1.2" stroke="#555"/><path d="M415.8 400.6h1.6" stroke="#ccc"/><path d="M392.1 399.0h1.0" stroke="#aaa"/><path d="M453.0 413.1h1.6" stroke="#666"/><path d="M317.7 402.0h1.4" stroke="#aaa"/><path d="M493.0 411.0h1.5" stroke="#5a5a5a"/><path d="M189.7 386.0h1.2" stroke="#666"/><path d="M376.8 400.8h1.2" stroke="#666"/><path d="M248.3 385.7h1.6" stroke="#aaa"/><path d="M151.1 386.8h1.9" stroke="#5a5a5a"/><path d="M409.4 400.8h1.1" stroke="#aaa"/><path d="M362.3 402.1h1.3" stroke="#aaa"/><path d="M594.8 409.2h1.5" stroke="#aaa"/><path d="M326.5 397.5h1.5" stroke="#555"/><path d="M416.7 398.9h1.1" stroke="#aaa"/><path d="M306.4 401.5h1.1" stroke="#ccc"/><path d="M271.9 394.5h1.8" stroke="#666"/><path d="M510.3 412.6h1.3" stroke="#555"/><path d="M256.9 389.2h1.9" stroke="#ccc"/><path d="M302.5 400.1h1.4" stroke="#ccc"/><path d="M388.5 403.4h1.7" stroke="#5a5a5a"/><path d="M388.8 398.8h0.8" stroke="#5a5a5a"/><path d="M421.0 401.1h1.8" stroke="#ccc"/><path d="M543.8 409.2h0.9" stroke="#666"/><path d="M549.1 407.2h1.0" stroke="#aaa"/><path d="M354.8 399.8h1.5" stroke="#5a5a5a"/><path d="M555.5 407.1h1.0" stroke="#ccc"/><path d="M389.2 398.7h0.9" stroke="#ccc"/><path d="M247.3 387.4h1.5" stroke="#ccc"/><path d="M233.0 388.1h1.2" stroke="#555"/><path d="M285.2 399.8h1.1" stroke="#ccc"/><path d="M416.5 400.0h1.5" stroke="#555"/><path d="M335.4 403.0h1.0" stroke="#555"/><path d="M581.9 412.6h0.9" stroke="#555"/><path d="M243.4 388.2h1.7" stroke="#aaa"/><path d="M329.7 401.2h1.2" stroke="#ccc"/><path d="M239.1 389.6h1.3" stroke="#5a5a5a"/><path d="M191.0 385.6h1.0" stroke="#ccc"/><path d="M345.5 400.8h1.3" stroke="#5a5a5a"/><path d="M405.0 400.2h1.9" stroke="#aaa"/><path d="M560.3 411.5h1.4" stroke="#ccc"/><path d="M334.7 401.5h0.8" stroke="#555"/><path d="M432.9 401.9h1.9" stroke="#5a5a5a"/><path d="M202.7 385.4h1.2" stroke="#5a5a5a"/><path d="M585.9 407.9h1.9" stroke="#ccc"/><path d="M325.2 399.2h1.9" stroke="#5a5a5a"/><path d="M400.1 402.9h1.0" stroke="#5a5a5a"/><path d="M572.8 409.7h0.9" stroke="#666"/><path d="M559.3 411.2h1.8" stroke="#aaa"/><path d="M209.0 389.8h1.0" stroke="#666"/><path d="M534.4 407.8h1.2" stroke="#555"/><path d="M244.6 387.9h1.3" stroke="#5a5a5a"/><path d="M160.3 387.1h1.9" stroke="#aaa"/><path d="M284.5 396.0h1.2" stroke="#5a5a5a"/><path d="M247.9 386.7h0.9" stroke="#666"/><path d="M520.3 408.5h1.2" stroke="#666"/><path d="M368.6 397.7h1.1" stroke="#666"/><path d="M477.1 408.4h1.6" stroke="#666"/><path d="M537.4 411.0h1.7" stroke="#555"/><path d="M325.7 401.7h1.9" stroke="#555"/><path d="M177.8 388.4h1.1" stroke="#aaa"/><path d="M499.8 407.9h1.4" stroke="#aaa"/><path d="M339.8 399.1h1.7" stroke="#ccc"/><path d="M426.7 402.0h1.5" stroke="#5a5a5a"/><path d="M224.4 387.6h1.0" stroke="#5a5a5a"/><path d="M528.3 407.9h0.9" stroke="#5a5a5a"/><path d="M199.4 387.1h1.2" stroke="#aaa"/><path d="M185.1 384.4h1.9" stroke="#5a5a5a"/><path d="M386.7 401.2h1.2" stroke="#5a5a5a"/><path d="M189.0 386.8h1.1" stroke="#5a5a5a"/><path d="M251.3 386.3h1.2" stroke="#666"/><path d="M210.9 386.7h1.7" stroke="#ccc"/><path d="M533.5 409.0h0.9" stroke="#aaa"/><path d="M410.0 401.4h1.4" stroke="#ccc"/><path d="M264.8 390.5h1.0" stroke="#ccc"/><path d="M298.0 400.7h0.8" stroke="#ccc"/><path d="M235.4 387.3h0.9" stroke="#aaa"/><path d="M503.7 411.5h1.8" stroke="#666"/><path d="M383.1 401.0h1.3" stroke="#666"/><path d="M164.0 386.9h1.9" stroke="#ccc"/><path d="M514.9 410.7h1.8" stroke="#5a5a5a"/><path d="M364.4 400.3h1.1" stroke="#555"/><path d="M398.3 398.2h1.2" stroke="#555"/><path d="M202.4 388.3h1.2" stroke="#aaa"/><path d="M446.4 410.9h1.4" stroke="#666"/><path d="M512.0 410.4h1.4" stroke="#555"/><path d="M538.2 409.4h1.0" stroke="#aaa"/><path d="M273.5 391.6h1.7" stroke="#555"/><path d="M347.5 399.7h1.5" stroke="#666"/><path d="M327.1 403.5h1.1" stroke="#5a5a5a"/><path d="M515.6 407.9h1.5" stroke="#ccc"/><path d="M549.6 411.3h1.1" stroke="#aaa"/><path d="M557.4 407.4h1.5" stroke="#ccc"/><path d="M505.0 411.5h0.9" stroke="#555"/><path d="M416.8 399.1h1.5" stroke="#666"/><path d="M387.7 398.6h1.0" stroke="#5a5a5a"/><path d="M466.0 410.4h1.6" stroke="#aaa"/><path d="M278.6 393.3h1.3" stroke="#5a5a5a"/><path d="M480.5 410.3h1.2" stroke="#ccc"/><path d="M487.2 412.8h1.7" stroke="#ccc"/><path d="M411.0 399.8h1.9" stroke="#ccc"/><path d="M315.0 402.5h1.2" stroke="#aaa"/><path d="M468.6 409.2h1.0" stroke="#ccc"/><path d="M381.8 397.9h0.9" stroke="#ccc"/><path d="M212.0 386.7h1.4" stroke="#ccc"/><path d="M391.1 401.3h1.8" stroke="#555"/><path d="M282.6 396.8h1.9" stroke="#ccc"/><path d="M351.7 397.8h1.9" stroke="#555"/><path d="M487.0 410.4h1.9" stroke="#5a5a5a"/><path d="M514.3 412.2h1.3" stroke="#666"/><path d="M491.5 408.0h2.0" stroke="#aaa"/><path d="M194.5 385.1h1.6" stroke="#666"/><path d="M242.1 387.1h1.8" stroke="#aaa"/><path d="M198.7 384.5h1.5" stroke="#666"/><path d="M593.6 413.0h1.1" stroke="#555"/><path d="M562.1 411.0h1.7" stroke="#555"/><path d="M426.6 404.2h1.6" stroke="#ccc"/><path d="M222.6 384.7h1.5" stroke="#aaa"/><path d="M314.8 398.4h1.9" stroke="#aaa"/><path d="M412.1 398.4h0.9" stroke="#5a5a5a"/><path d="M522.6 409.1h1.4" stroke="#ccc"/><path d="M156.4 388.5h1.7" stroke="#555"/><path d="M450.0 407.6h0.8" stroke="#aaa"/><path d="M484.2 407.8h1.7" stroke="#666"/><path d="M183.2 385.5h1.0" stroke="#ccc"/><path d="M406.8 400.0h1.6" stroke="#666"/><path d="M289.8 397.3h0.9" stroke="#aaa"/><path d="M173.8 387.3h1.8" stroke="#ccc"/><path d="M534.6 411.8h1.1" stroke="#555"/><path d="M174.6 384.8h1.7" stroke="#666"/><path d="M240.6 384.4h1.9" stroke="#5a5a5a"/><path d="M507.2 410.5h1.3" stroke="#666"/><path d="M329.1 403.4h1.1" stroke="#555"/><path d="M305.0 402.2h1.5" stroke="#aaa"/><path d="M241.7 385.5h0.9" stroke="#ccc"/><path d="M150.2 386.1h2.0" stroke="#5a5a5a"/><path d="M589.4 413.0h0.9" stroke="#aaa"/><path d="M433.7 402.7h0.9" stroke="#666"/><path d="M298.4 400.1h1.1" stroke="#aaa"/><path d="M367.8 398.4h1.7" stroke="#5a5a5a"/><path d="M199.4 386.4h1.3" stroke="#666"/><path d="M454.5 407.3h1.8" stroke="#666"/><path d="M559.7 410.3h1.3" stroke="#666"/><path d="M534.4 410.7h2.0" stroke="#aaa"/><path d="M441.5 406.0h1.9" stroke="#5a5a5a"/><path d="M280.6 395.8h1.8" stroke="#aaa"/><path d="M263.2 389.6h0.9" stroke="#aaa"/><path d="M551.7 411.3h2.0" stroke="#aaa"/><path d="M293.5 403.5h1.4" stroke="#5a5a5a"/><path d="M517.6 413.1h1.8" stroke="#aaa"/><path d="M166.4 386.3h0.8" stroke="#555"/><path d="M450.2 409.8h1.4" stroke="#666"/><path d="M243.9 385.6h1.3" stroke="#aaa"/><path d="M338.3 403.4h1.8" stroke="#ccc"/><path d="M266.3 387.5h1.3" stroke="#5a5a5a"/><path d="M386.6 400.8h1.2" stroke="#ccc"/><path d="M242.8 384.1h1.5" stroke="#aaa"/><path d="M167.3 387.1h1.6" stroke="#5a5a5a"/><path d="M536.8 411.5h1.6" stroke="#ccc"/><path d="M460.5 407.0h1.0" stroke="#666"/><path d="M390.1 402.5h1.4" stroke="#ccc"/><path d="M493.7 412.6h0.9" stroke="#5a5a5a"/><path d="M467.2 412.2h1.4" stroke="#5a5a5a"/><path d="M551.4 407.9h0.9" stroke="#aaa"/><path d="M267.4 387.7h1.8" stroke="#aaa"/><path d="M581.8 414.0h1.7" stroke="#555"/><path d="M527.1 412.5h1.0" stroke="#555"/><path d="M576.0 411.2h1.9" stroke="#ccc"/><path d="M376.8 398.5h1.3" stroke="#aaa"/><path d="M485.6 413.2h1.7" stroke="#666"/><path d="M244.1 385.8h1.3" stroke="#aaa"/><path d="M522.7 407.6h1.5" stroke="#555"/><path d="M429.1 400.1h1.0" stroke="#5a5a5a"/><path d="M521.1 412.8h1.0" stroke="#555"/><path d="M204.9 384.8h1.7" stroke="#5a5a5a"/><path d="M586.4 413.6h1.6" stroke="#555"/><path d="M224.2 389.4h1.5" stroke="#555"/><path d="M475.0 409.3h1.0" stroke="#aaa"/><path d="M268.6 388.8h0.9" stroke="#555"/><path d="M459.6 411.3h0.9" stroke="#5a5a5a"/><path d="M244.4 385.7h1.8" stroke="#666"/><path d="M438.4 402.8h1.7" stroke="#aaa"/><path d="M287.2 401.7h1.0" stroke="#666"/><path d="M272.5 394.8h1.5" stroke="#555"/><path d="M480.1 410.0h2.0" stroke="#aaa"/><path d="M539.1 410.9h1.0" stroke="#666"/><path d="M316.1 404.0h1.8" stroke="#5a5a5a"/><path d="M231.0 384.1h1.0" stroke="#666"/><path d="M192.2 387.3h0.9" stroke="#ccc"/><path d="M234.2 386.4h0.9" stroke="#aaa"/><path d="M319.8 397.7h1.0" stroke="#555"/><path d="M327.9 401.9h0.9" stroke="#666"/><path d="M568.3 412.4h1.5" stroke="#555"/><path d="M500.1 408.5h1.7" stroke="#aaa"/><path d="M178.7 386.2h2.0" stroke="#aaa"/><path d="M411.3 397.1h1.4" stroke="#aaa"/><path d="M288.8 396.5h1.1" stroke="#aaa"/><path d="M298.1 402.8h0.8" stroke="#555"/><path d="M356.0 401.2h1.0" stroke="#555"/><path d="M499.7 411.3h1.0" stroke="#666"/><path d="M196.4 387.4h1.5" stroke="#aaa"/><path d="M483.7 410.0h1.6" stroke="#555"/><path d="M371.5 398.4h1.8" stroke="#555"/><path d="M262.0 389.4h1.7" stroke="#5a5a5a"/><path d="M505.9 413.6h1.5" stroke="#555"/><path d="M394.9 403.4h1.4" stroke="#555"/><path d="M149.8 385.6h1.3" stroke="#666"/><path d="M592.4 408.0h1.7" stroke="#666"/><path d="M279.8 397.1h1.0" stroke="#666"/><path d="M212.3 388.0h1.0" stroke="#555"/><path d="M229.0 389.7h1.7" stroke="#5a5a5a"/><path d="M211.3 388.5h1.5" stroke="#555"/><path d="M285.2 399.9h1.9" stroke="#aaa"/><path d="M317.2 397.6h1.3" stroke="#666"/><path d="M430.4 401.7h1.9" stroke="#666"/><path d="M360.1 397.7h1.5" stroke="#aaa"/><path d="M282.9 397.1h1.1" stroke="#666"/><path d="M303.3 402.1h1.4" stroke="#ccc"/><path d="M197.7 384.2h0.9" stroke="#555"/><path d="M449.3 408.1h1.5" stroke="#ccc"/><path d="M528.2 408.1h1.4" stroke="#aaa"/><path d="M330.3 402.3h1.7" stroke="#5a5a5a"/><path d="M510.5 412.8h1.4" stroke="#5a5a5a"/><path d="M340.9 403.0h1.6" stroke="#ccc"/><path d="M204.5 386.9h1.9" stroke="#555"/><path d="M373.6 398.9h1.1" stroke="#aaa"/><path d="M378.6 398.6h2.0" stroke="#ccc"/><path d="M589.5 407.8h1.4" stroke="#555"/><path d="M427.7 402.4h1.3" stroke="#555"/><path d="M166.8 386.5h1.9" stroke="#ccc"/><path d="M495.1 413.1h1.3" stroke="#666"/><path d="M582.8 411.4h1.7" stroke="#666"/><path d="M590.8 409.0h1.4" stroke="#5a5a5a"/><path d="M269.5 393.3h1.4" stroke="#555"/><path d="M200.1 387.6h1.3" stroke="#ccc"/><path d="M271.3 389.4h1.0" stroke="#555"/><path d="M599.0 408.4h1.6" stroke="#aaa"/><path d="M483.4 412.6h1.9" stroke="#5a5a5a"/><path d="M147.7 385.3h0.8" stroke="#666"/><path d="M156.3 387.4h1.1" stroke="#aaa"/><path d="M279.1 396.3h1.3" stroke="#aaa"/><path d="M416.0 400.8h1.4" stroke="#555"/><path d="M406.0 401.9h0.9" stroke="#555"/><path d="M201.0 388.9h1.5" stroke="#555"/><path d="M534.7 407.6h1.7" stroke="#ccc"/><path d="M431.4 405.2h1.6" stroke="#666"/><path d="M238.3 386.8h1.6" stroke="#ccc"/><path d="M575.1 411.1h1.7" stroke="#aaa"/><path d="M426.9 401.0h1.8" stroke="#ccc"/><path d="M299.6 401.1h1.9" stroke="#555"/><path d="M539.6 410.7h2.0" stroke="#aaa"/><path d="M323.0 397.6h1.9" stroke="#555"/><path d="M516.6 413.5h1.1" stroke="#ccc"/><path d="M246.3 386.7h1.7" stroke="#555"/><path d="M257.7 386.8h1.4" stroke="#555"/><path d="M185.6 384.6h1.5" stroke="#ccc"/><path d="M314.3 399.1h1.0" stroke="#ccc"/><path d="M406.7 402.1h2.0" stroke="#666"/><path d="M232.7 385.6h0.9" stroke="#555"/><path d="M239.2 388.7h1.3" stroke="#5a5a5a"/><path d="M160.6 386.0h1.5" stroke="#ccc"/><path d="M260.4 387.6h1.8" stroke="#5a5a5a"/><path d="M342.7 398.3h0.9" stroke="#555"/><path d="M396.4 398.8h1.8" stroke="#555"/><path d="M467.0 410.4h1.6" stroke="#555"/><path d="M216.0 384.9h1.4" stroke="#666"/><path d="M417.2 401.8h1.0" stroke="#555"/><path d="M550.5 408.0h1.2" stroke="#ccc"/><path d="M548.9 410.4h1.9" stroke="#5a5a5a"/><path d="M358.8 402.3h1.6" stroke="#5a5a5a"/><path d="M234.3 385.9h1.2" stroke="#666"/><path d="M352.9 397.3h1.0" stroke="#555"/><path d="M189.9 388.8h1.5" stroke="#666"/><path d="M297.4 401.1h1.9" stroke="#aaa"/><path d="M431.6 405.1h1.2" stroke="#5a5a5a"/><path d="M155.1 388.1h0.9" stroke="#aaa"/><path d="M161.4 386.9h1.1" stroke="#666"/><path d="M266.8 388.7h0.9" stroke="#555"/><path d="M401.4 400.4h0.9" stroke="#aaa"/><path d="M187.6 389.4h1.0" stroke="#666"/><path d="M556.5 410.9h0.9" stroke="#aaa"/><path d="M187.6 384.2h1.9" stroke="#5a5a5a"/><path d="M471.0 407.1h1.3" stroke="#aaa"/><path d="M294.3 403.9h1.2" stroke="#5a5a5a"/><path d="M475.6 413.2h1.6" stroke="#5a5a5a"/><path d="M551.9 413.7h2.0" stroke="#aaa"/><path d="M533.0 409.0h0.9" stroke="#555"/><path d="M186.9 385.5h1.4" stroke="#5a5a5a"/><path d="M483.8 411.0h2.0" stroke="#666"/><path d="M287.0 400.9h1.1" stroke="#5a5a5a"/><path d="M399.9 399.7h2.0" stroke="#aaa"/><path d="M389.2 398.2h1.7" stroke="#5a5a5a"/><path d="M486.5 407.8h1.6" stroke="#aaa"/><path d="M230.0 386.8h1.4" stroke="#555"/><path d="M530.8 411.7h1.9" stroke="#aaa"/><path d="M569.1 412.5h1.8" stroke="#666"/><path d="M272.1 389.0h1.9" stroke="#ccc"/><path d="M547.4 409.8h1.3" stroke="#ccc"/><path d="M534.9 408.8h1.2" stroke="#ccc"/><path d="M358.6 397.8h1.5" stroke="#666"/><path d="M436.5 404.1h1.3" stroke="#555"/><path d="M569.5 412.6h1.4" stroke="#5a5a5a"/><path d="M366.0 399.1h1.0" stroke="#666"/><path d="M288.9 397.9h1.2" stroke="#666"/><path d="M286.2 397.6h1.5" stroke="#aaa"/><path d="M576.2 408.1h1.7" stroke="#5a5a5a"/><path d="M343.1 398.9h1.0" stroke="#5a5a5a"/><path d="M263.3 389.5h2.0" stroke="#555"/><path d="M445.9 406.7h1.6" stroke="#5a5a5a"/><path d="M186.8 384.8h1.4" stroke="#ccc"/><path d="M235.6 387.4h1.0" stroke="#ccc"/><path d="M259.8 389.3h1.1" stroke="#aaa"/><path d="M249.1 388.2h1.4" stroke="#5a5a5a"/><path d="M538.4 412.5h1.4" stroke="#555"/><path d="M272.6 393.9h0.8" stroke="#ccc"/><path d="M330.5 399.1h1.2" stroke="#555"/><path d="M191.5 384.6h1.0" stroke="#555"/><path d="M219.9 389.4h1.0" stroke="#5a5a5a"/><path d="M486.6 407.5h1.1" stroke="#666"/><path d="M160.3 388.4h1.2" stroke="#555"/><path d="M484.0 410.4h1.8" stroke="#555"/><path d="M255.6 384.9h1.3" stroke="#ccc"/><path d="M594.3 408.5h2.0" stroke="#555"/><path d="M238.3 387.7h1.8" stroke="#ccc"/><path d="M429.2 405.0h0.9" stroke="#555"/><path d="M512.8 407.2h1.1" stroke="#555"/><path d="M563.3 410.3h1.1" stroke="#555"/><path d="M486.8 410.2h1.5" stroke="#555"/><path d="M358.4 401.4h0.9" stroke="#aaa"/><path d="M486.4 412.7h1.9" stroke="#aaa"/><path d="M217.5 390.1h1.6" stroke="#5a5a5a"/><path d="M426.4 403.1h1.7" stroke="#555"/><path d="M264.0 388.5h1.8" stroke="#5a5a5a"/><path d="M435.2 406.5h1.8" stroke="#5a5a5a"/><path d="M564.3 411.4h1.0" stroke="#555"/><path d="M345.2 398.7h1.0" stroke="#ccc"/><path d="M201.1 386.9h1.5" stroke="#666"/><path d="M453.2 412.2h1.7" stroke="#ccc"/><path d="M360.7 402.3h1.7" stroke="#ccc"/><path d="M470.9 410.0h0.9" stroke="#aaa"/><path d="M159.5 388.3h1.7" stroke="#555"/><path d="M359.9 402.6h1.9" stroke="#666"/><path d="M453.6 412.5h1.6" stroke="#ccc"/><path d="M321.0 400.6h1.4" stroke="#555"/><path d="M366.8 402.6h1.3" stroke="#555"/><path d="M336.9 403.0h1.0" stroke="#555"/><path d="M276.9 390.8h1.2" stroke="#ccc"/><path d="M306.4 403.2h0.8" stroke="#ccc"/><path d="M223.9 385.6h1.0" stroke="#5a5a5a"/><path d="M494.9 408.4h2.0" stroke="#aaa"/><path d="M220.5 389.1h1.5" stroke="#aaa"/><path d="M504.6 409.5h1.5" stroke="#aaa"/><path d="M530.7 408.7h0.8" stroke="#aaa"/><path d="M509.8 411.5h0.9" stroke="#5a5a5a"/><path d="M427.7 399.6h1.8" stroke="#ccc"/><path d="M561.2 409.5h0.9" stroke="#666"/><path d="M171.9 384.7h1.9" stroke="#aaa"/><path d="M520.0 409.6h1.4" stroke="#555"/><path d="M151.4 385.2h2.0" stroke="#555"/><path d="M579.6 411.6h1.9" stroke="#5a5a5a"/><path d="M217.9 389.3h1.5" stroke="#555"/><path d="M539.2 410.9h1.5" stroke="#5a5a5a"/><path d="M279.7 392.4h0.8" stroke="#555"/><path d="M560.5 412.1h1.8" stroke="#ccc"/><path d="M180.8 384.1h0.9" stroke="#666"/><path d="M192.7 389.7h1.4" stroke="#aaa"/><path d="M312.2 402.8h2.0" stroke="#ccc"/><path d="M463.3 409.5h1.1" stroke="#666"/><path d="M540.1 411.2h1.1" stroke="#5a5a5a"/><path d="M396.1 397.7h0.8" stroke="#5a5a5a"/><path d="M200.7 388.7h1.3" stroke="#aaa"/><path d="M495.2 408.0h1.8" stroke="#ccc"/><path d="M412.1 399.7h1.2" stroke="#555"/><path d="M258.8 386.1h1.0" stroke="#555"/><path d="M496.0 412.9h1.2" stroke="#aaa"/><path d="M191.6 385.5h1.7" stroke="#5a5a5a"/><path d="M372.5 397.8h1.1" stroke="#5a5a5a"/><path d="M317.5 403.6h1.7" stroke="#555"/><path d="M514.9 410.1h1.7" stroke="#666"/><path d="M155.5 385.8h1.3" stroke="#5a5a5a"/><path d="M481.4 413.3h1.3" stroke="#5a5a5a"/><path d="M356.5 398.2h0.9" stroke="#5a5a5a"/><path d="M193.1 386.9h1.8" stroke="#555"/><path d="M357.1 399.6h1.7" stroke="#5a5a5a"/><path d="M364.8 403.6h1.4" stroke="#666"/><path d="M474.4 408.4h1.2" stroke="#aaa"/><path d="M590.4 410.8h1.9" stroke="#666"/><path d="M281.3 393.2h1.4" stroke="#5a5a5a"/><path d="M293.9 400.6h1.3" stroke="#666"/><path d="M220.4 385.1h1.7" stroke="#5a5a5a"/><path d="M325.7 400.8h1.9" stroke="#666"/><path d="M231.2 387.2h2.0" stroke="#5a5a5a"/><path d="M350.3 400.1h0.8" stroke="#666"/><path d="M442.7 406.2h1.0" stroke="#666"/><path d="M575.4 413.0h1.9" stroke="#666"/><path d="M241.3 387.4h1.4" stroke="#aaa"/><path d="M460.3 409.2h1.1" stroke="#666"/><path d="M386.6 401.7h1.5" stroke="#aaa"/><path d="M331.1 401.7h1.8" stroke="#555"/><path d="M381.2 403.1h1.5" stroke="#aaa"/><path d="M252.9 384.4h1.7" stroke="#5a5a5a"/><path d="M499.2 408.7h1.7" stroke="#5a5a5a"/><path d="M458.3 412.9h1.7" stroke="#ccc"/><path d="M361.8 400.9h1.9" stroke="#555"/><path d="M295.3 403.2h1.9" stroke="#aaa"/><path d="M498.8 409.0h1.3" stroke="#5a5a5a"/><path d="M173.2 386.9h1.9" stroke="#ccc"/><path d="M373.4 399.4h1.0" stroke="#5a5a5a"/><path d="M532.3 411.0h1.1" stroke="#555"/><path d="M500.9 408.7h1.4" stroke="#666"/><path d="M536.7 412.1h1.3" stroke="#666"/><path d="M240.4 384.4h1.0" stroke="#666"/><path d="M438.5 405.5h1.7" stroke="#555"/><path d="M525.7 412.6h1.3" stroke="#aaa"/><path d="M201.7 387.0h1.0" stroke="#aaa"/><path d="M500.1 408.0h1.2" stroke="#ccc"/><path d="M277.9 396.6h1.5" stroke="#aaa"/><path d="M252.4 386.3h1.8" stroke="#555"/><path d="M579.8 407.1h1.8" stroke="#ccc"/><path d="M228.2 384.2h1.7" stroke="#666"/><path d="M597.7 414.1h0.8" stroke="#ccc"/><path d="M598.6 413.4h1.6" stroke="#666"/><path d="M268.7 392.2h1.3" stroke="#555"/><path d="M158.4 384.4h1.9" stroke="#aaa"/><path d="M491.0 413.0h1.3" stroke="#555"/><path d="M234.9 389.5h1.9" stroke="#555"/><path d="M457.4 412.9h1.5" stroke="#5a5a5a"/><path d="M241.5 386.6h1.0" stroke="#aaa"/><path d="M562.3 409.6h1.8" stroke="#666"/><path d="M538.0 410.0h1.1" stroke="#ccc"/><path d="M348.0 403.6h0.8" stroke="#ccc"/><path d="M247.7 387.5h1.7" stroke="#aaa"/><path d="M294.3 397.9h1.5" stroke="#5a5a5a"/><path d="M424.6 404.0h0.9" stroke="#5a5a5a"/><path d="M420.4 401.6h1.0" stroke="#666"/><path d="M464.4 413.2h1.0" stroke="#aaa"/><path d="M537.1 408.1h0.9" stroke="#ccc"/><path d="M322.6 399.7h1.2" stroke="#555"/><path d="M496.9 412.3h1.0" stroke="#555"/><path d="M342.0 400.0h1.6" stroke="#aaa"/><path d="M520.3 410.0h1.5" stroke="#666"/><path d="M284.6 400.6h1.4" stroke="#ccc"/><path d="M429.4 403.4h0.8" stroke="#5a5a5a"/><path d="M474.4 410.2h1.3" stroke="#ccc"/><path d="M516.7 409.8h2.0" stroke="#aaa"/><path d="M488.4 412.5h1.0" stroke="#555"/><path d="M394.2 401.3h1.5" stroke="#555"/><path d="M528.6 408.2h1.0" stroke="#555"/><path d="M496.6 412.9h1.9" stroke="#5a5a5a"/><path d="M254.9 384.2h1.5" stroke="#5a5a5a"/><path d="M561.0 411.1h1.9" stroke="#666"/><path d="M304.9 398.7h1.0" stroke="#666"/><path d="M580.7 408.7h0.8" stroke="#555"/><path d="M513.7 413.0h1.2" stroke="#5a5a5a"/><path d="M588.0 407.8h2.0" stroke="#666"/><path d="M275.5 395.2h1.1" stroke="#555"/><path d="M330.4 400.7h1.8" stroke="#ccc"/><path d="M276.0 395.4h1.0" stroke="#ccc"/><path d="M498.4 408.3h1.2" stroke="#666"/><path d="M258.6 389.7h1.3" stroke="#ccc"/><path d="M150.3 387.3h1.5" stroke="#5a5a5a"/><path d="M482.4 413.4h0.9" stroke="#666"/><path d="M523.7 412.3h0.9" stroke="#5a5a5a"/><path d="M545.5 407.4h1.7" stroke="#5a5a5a"/><path d="M324.9 403.3h1.5" stroke="#ccc"/><path d="M207.7 384.3h1.1" stroke="#666"/><path d="M371.9 398.5h1.4" stroke="#aaa"/><path d="M413.4 398.8h1.9" stroke="#555"/><path d="M320.9 401.3h1.6" stroke="#5a5a5a"/><path d="M403.6 402.7h1.5" stroke="#5a5a5a"/><path d="M508.0 410.9h1.3" stroke="#666"/><path d="M181.4 385.4h1.2" stroke="#aaa"/><path d="M474.3 407.8h1.8" stroke="#aaa"/><path d="M271.2 390.1h1.6" stroke="#ccc"/><path d="M327.6 399.9h1.6" stroke="#666"/><path d="M550.3 409.9h1.8" stroke="#aaa"/><path d="M250.5 384.0h1.0" stroke="#ccc"/><path d="M483.0 410.4h1.2" stroke="#5a5a5a"/><path d="M209.3 384.4h1.6" stroke="#666"/><path d="M175.4 388.3h1.2" stroke="#5a5a5a"/><path d="M291.0 398.8h0.9" stroke="#666"/><path d="M436.9 403.8h1.4" stroke="#555"/><path d="M347.1 403.2h1.6" stroke="#aaa"/><path d="M265.2 389.2h1.2" stroke="#666"/><path d="M482.8 412.5h2.0" stroke="#666"/><path d="M374.3 398.7h1.6" stroke="#5a5a5a"/><path d="M453.0 411.3h1.7" stroke="#ccc"/><path d="M414.6 401.6h1.2" stroke="#555"/><path d="M392.9 400.2h1.4" stroke="#aaa"/><path d="M320.1 401.2h1.9" stroke="#666"/><path d="M490.2 410.8h1.3" stroke="#ccc"/><path d="M190.2 389.4h1.0" stroke="#555"/><path d="M358.7 400.7h2.0" stroke="#5a5a5a"/><path d="M271.5 393.9h1.6" stroke="#5a5a5a"/><path d="M502.9 409.4h1.4" stroke="#ccc"/><path d="M522.8 410.6h1.6" stroke="#5a5a5a"/><path d="M468.9 410.0h1.7" stroke="#aaa"/><path d="M155.1 387.1h1.4" stroke="#aaa"/><path d="M445.3 409.6h1.2" stroke="#5a5a5a"/><path d="M245.2 388.8h1.7" stroke="#5a5a5a"/><path d="M183.3 387.6h1.5" stroke="#666"/><path d="M225.2 389.4h1.7" stroke="#555"/><path d="M388.6 399.4h1.0" stroke="#aaa"/><path d="M547.0 409.1h1.5" stroke="#666"/><path d="M232.5 388.7h1.6" stroke="#666"/><path d="M188.1 389.9h1.1" stroke="#666"/><path d="M270.9 389.8h1.0" stroke="#ccc"/><path d="M152.2 384.1h1.3" stroke="#aaa"/><path d="M523.7 410.0h1.3" stroke="#666"/><path d="M147.1 389.7h1.8" stroke="#5a5a5a"/><path d="M170.8 387.6h1.0" stroke="#aaa"/><path d="M177.2 389.2h0.8" stroke="#555"/><path d="M251.9 384.5h1.5" stroke="#555"/><path d="M258.3 388.7h1.5" stroke="#ccc"/><path d="M207.9 385.8h0.9" stroke="#aaa"/><path d="M577.2 408.6h1.6" stroke="#555"/><path d="M337.2 397.5h1.0" stroke="#ccc"/><path d="M367.1 397.5h1.1" stroke="#aaa"/><path d="M197.2 388.2h1.8" stroke="#aaa"/><path d="M171.9 390.0h1.3" stroke="#666"/><path d="M245.9 387.3h0.8" stroke="#5a5a5a"/><path d="M406.3 398.5h1.0" stroke="#666"/><path d="M338.9 400.2h1.6" stroke="#aaa"/><path d="M535.4 411.6h2.0" stroke="#666"/><path d="M548.4 412.4h0.8" stroke="#555"/><path d="M571.4 411.3h1.7" stroke="#5a5a5a"/><path d="M584.1 409.1h1.7" stroke="#666"/><path d="M323.3 399.2h0.9" stroke="#5a5a5a"/><path d="M486.2 410.0h1.4" stroke="#aaa"/><path d="M552.3 410.6h1.9" stroke="#aaa"/><path d="M552.1 412.2h1.8" stroke="#aaa"/><path d="M241.4 385.6h1.0" stroke="#5a5a5a"/><path d="M588.5 412.8h1.8" stroke="#aaa"/><path d="M361.4 402.8h1.4" stroke="#555"/><path d="M346.9 403.8h1.5" stroke="#aaa"/><path d="M402.8 398.2h0.8" stroke="#666"/><path d="M223.4 387.5h1.2" stroke="#aaa"/><path d="M496.5 407.5h1.0" stroke="#aaa"/><path d="M268.7 389.7h1.8" stroke="#5a5a5a"/><path d="M373.9 399.7h1.3" stroke="#5a5a5a"/><path d="M491.7 407.1h1.8" stroke="#5a5a5a"/><path d="M497.0 409.4h1.3" stroke="#666"/><path d="M491.8 409.7h0.8" stroke="#ccc"/><path d="M458.8 408.1h1.3" stroke="#ccc"/><path d="M466.9 407.4h2.0" stroke="#555"/><path d="M148.5 386.1h1.8" stroke="#ccc"/><path d="M430.5 401.8h1.0" stroke="#5a5a5a"/><path d="M324.0 399.2h1.7" stroke="#5a5a5a"/><path d="M420.3 402.2h1.5" stroke="#555"/><path d="M246.8 387.3h1.6" stroke="#5a5a5a"/><path d="M169.6 387.0h1.7" stroke="#aaa"/><path d="M280.0 395.1h1.1" stroke="#ccc"/><path d="M243.2 384.3h0.9" stroke="#aaa"/><path d="M487.9 412.4h1.9" stroke="#5a5a5a"/><path d="M263.2 387.1h1.0" stroke="#aaa"/><path d="M544.2 412.2h1.5" stroke="#aaa"/><path d="M513.5 413.4h1.2" stroke="#555"/><path d="M281.5 397.3h1.2" stroke="#ccc"/><path d="M381.4 401.0h1.9" stroke="#555"/><path d="M214.6 386.9h1.5" stroke="#666"/><path d="M196.8 388.8h1.2" stroke="#5a5a5a"/><path d="M463.0 411.1h1.3" stroke="#ccc"/><path d="M278.4 392.9h1.7" stroke="#aaa"/><path d="M341.1 399.5h1.1" stroke="#555"/><path d="M259.3 385.7h1.5" stroke="#aaa"/><path d="M258.3 384.2h1.6" stroke="#aaa"/><path d="M448.6 406.0h1.4" stroke="#aaa"/><path d="M505.5 412.9h1.9" stroke="#ccc"/><path d="M229.9 385.1h1.9" stroke="#aaa"/><path d="M362.3 400.9h1.7" stroke="#5a5a5a"/><path d="M425.3 402.9h1.4" stroke="#aaa"/><path d="M376.7 399.3h1.7" stroke="#ccc"/><path d="M453.3 412.0h1.3" stroke="#555"/><path d="M487.4 410.7h1.2" stroke="#666"/><path d="M515.4 411.6h1.8" stroke="#ccc"/><path d="M375.2 400.3h0.8" stroke="#aaa"/><path d="M529.3 412.4h1.8" stroke="#5a5a5a"/><path d="M529.3 411.3h1.0" stroke="#ccc"/><path d="M522.3 411.6h1.1" stroke="#555"/><path d="M535.0 409.9h1.5" stroke="#555"/><path d="M328.9 402.1h1.3" stroke="#555"/><path d="M240.3 389.2h1.3" stroke="#555"/><path d="M220.8 389.8h1.4" stroke="#555"/><path d="M574.4 411.1h1.7" stroke="#666"/><path d="M377.6 401.1h1.8" stroke="#ccc"/><path d="M568.5 410.4h1.0" stroke="#ccc"/><path d="M465.2 413.1h1.7" stroke="#666"/><path d="M252.7 384.6h1.4" stroke="#555"/><path d="M519.5 409.0h1.0" stroke="#5a5a5a"/><path d="M413.1 398.0h1.7" stroke="#666"/><path d="M414.9 401.3h2.0" stroke="#666"/><path d="M186.5 388.8h1.2" stroke="#5a5a5a"/><path d="M595.3 411.3h0.9" stroke="#555"/><path d="M309.5 401.2h1.3" stroke="#aaa"/><path d="M597.2 411.3h1.5" stroke="#555"/><path d="M518.2 409.9h1.2" stroke="#555"/><path d="M598.3 410.8h1.1" stroke="#5a5a5a"/><path d="M560.3 412.1h1.6" stroke="#5a5a5a"/><path d="M258.1 384.3h1.7" stroke="#666"/><path d="M461.3 412.1h1.4" stroke="#555"/><path d="M391.1 399.7h1.8" stroke="#ccc"/><path d="M149.5 387.9h1.6" stroke="#5a5a5a"/><path d="M454.0 409.1h1.5" stroke="#ccc"/><path d="M489.3 412.8h0.9" stroke="#555"/><path d="M441.7 405.1h1.9" stroke="#ccc"/><path d="M445.2 410.3h0.9" stroke="#ccc"/><path d="M147.7 389.8h0.9" stroke="#555"/><path d="M171.6 387.7h1.3" stroke="#666"/><path d="M282.1 396.0h1.0" stroke="#555"/><path d="M379.5 400.6h1.6" stroke="#ccc"/><path d="M539.4 412.8h1.0" stroke="#aaa"/><path d="M215.1 385.0h1.5" stroke="#aaa"/><path d="M442.0 408.5h1.8" stroke="#5a5a5a"/><path d="M294.8 403.8h1.3" stroke="#555"/><path d="M380.9 401.4h1.9" stroke="#5a5a5a"/><path d="M230.3 388.0h0.9" stroke="#5a5a5a"/><path d="M336.8 397.3h1.6" stroke="#ccc"/><path d="M472.8 412.6h1.8" stroke="#aaa"/><path d="M224.7 386.9h1.0" stroke="#aaa"/><path d="M399.5 400.4h1.1" stroke="#555"/><path d="M201.4 384.4h2.0" stroke="#666"/><path d="M337.8 401.7h1.1" stroke="#5a5a5a"/><path d="M245.9 389.0h1.6" stroke="#aaa"/><path d="M230.3 385.6h1.6" stroke="#ccc"/><path d="M543.4 413.1h1.0" stroke="#555"/><path d="M480.3 408.9h1.2" stroke="#666"/><path d="M444.9 407.0h1.5" stroke="#aaa"/><path d="M412.3 402.9h1.9" stroke="#666"/><path d="M354.7 398.9h1.5" stroke="#666"/><path d="M267.6 389.4h1.1" stroke="#555"/><path d="M317.7 402.4h1.0" stroke="#555"/><path d="M488.7 408.6h1.0" stroke="#5a5a5a"/><path d="M493.5 411.5h1.2" stroke="#555"/><path d="M247.7 388.7h1.4" stroke="#5a5a5a"/><path d="M182.9 387.3h1.7" stroke="#aaa"/><path d="M499.8 408.8h2.0" stroke="#555"/><path d="M542.8 412.6h1.8" stroke="#5a5a5a"/><path d="M554.2 410.8h1.2" stroke="#555"/><path d="M471.7 409.9h1.1" stroke="#aaa"/><path d="M314.4 403.6h1.3" stroke="#aaa"/><path d="M599.6 413.9h1.3" stroke="#666"/><path d="M319.7 402.7h1.7" stroke="#ccc"/><path d="M586.5 409.9h0.9" stroke="#ccc"/><path d="M315.9 399.5h2.0" stroke="#aaa"/><path d="M534.5 411.5h1.0" stroke="#666"/><path d="M169.9 385.6h1.4" stroke="#ccc"/><path d="M230.6 390.0h1.5" stroke="#ccc"/><path d="M152.0 386.6h2.0" stroke="#555"/><path d="M576.7 411.0h1.0" stroke="#aaa"/><path d="M551.3 409.6h1.9" stroke="#ccc"/><path d="M576.4 411.6h1.5" stroke="#666"/><path d="M481.0 412.1h1.1" stroke="#ccc"/><path d="M292.2 401.2h1.8" stroke="#aaa"/><path d="M328.1 400.7h1.3" stroke="#aaa"/><path d="M231.8 389.7h0.8" stroke="#aaa"/><path d="M202.0 385.6h0.9" stroke="#666"/><path d="M576.2 412.7h1.8" stroke="#ccc"/><path d="M190.3 385.2h1.7" stroke="#ccc"/><path d="M589.1 411.3h2.0" stroke="#666"/><path d="M329.3 397.5h1.1" stroke="#555"/><path d="M169.5 390.1h1.9" stroke="#aaa"/><path d="M213.5 387.8h1.9" stroke="#555"/><path d="M285.1 398.7h1.8" stroke="#666"/><path d="M541.4 412.0h0.9" stroke="#ccc"/><path d="M283.1 393.6h1.8" stroke="#ccc"/><path d="M371.6 398.2h1.4" stroke="#ccc"/><path d="M162.0 387.8h1.6" stroke="#aaa"/><path d="M524.3 409.6h1.7" stroke="#666"/><path d="M449.2 410.4h1.9" stroke="#5a5a5a"/><path d="M296.3 404.0h0.9" stroke="#666"/><path d="M229.7 386.1h0.8" stroke="#666"/><path d="M569.4 413.9h1.5" stroke="#aaa"/><path d="M509.6 411.1h1.5" stroke="#5a5a5a"/><path d="M428.1 399.8h1.9" stroke="#ccc"/><path d="M521.8 410.6h1.6" stroke="#555"/><path d="M535.4 409.7h1.9" stroke="#666"/><path d="M185.6 388.1h1.6" stroke="#666"/><path d="M148.3 387.8h0.9" stroke="#aaa"/><path d="M385.4 400.8h1.0" stroke="#aaa"/><path d="M493.3 412.9h1.8" stroke="#5a5a5a"/><path d="M150.0 385.5h1.4" stroke="#5a5a5a"/><path d="M201.6 385.0h2.0" stroke="#666"/><path d="M444.5 407.5h1.2" stroke="#ccc"/><path d="M330.3 397.4h1.4" stroke="#aaa"/><path d="M236.0 385.1h2.0" stroke="#aaa"/><path d="M305.4 398.9h1.7" stroke="#555"/><path d="M492.1 408.2h1.0" stroke="#555"/><path d="M298.1 401.6h1.5" stroke="#ccc"/><path d="M179.2 385.2h1.0" stroke="#aaa"/><path d="M355.2 398.5h1.8" stroke="#666"/><path d="M532.9 409.1h1.1" stroke="#aaa"/><path d="M422.8 402.1h1.3" stroke="#aaa"/><path d="M348.1 403.5h1.8" stroke="#aaa"/><path d="M497.8 409.1h1.9" stroke="#555"/><path d="M547.8 411.7h1.3" stroke="#aaa"/><path d="M181.5 388.7h1.7" stroke="#555"/><path d="M432.3 406.5h1.8" stroke="#ccc"/><path d="M588.7 407.6h2.0" stroke="#666"/><path d="M222.4 387.3h0.9" stroke="#5a5a5a"/><path d="M306.3 398.7h0.8" stroke="#5a5a5a"/><path d="M515.7 410.7h1.4" stroke="#5a5a5a"/><path d="M303.0 401.1h1.7" stroke="#555"/><path d="M512.9 409.1h1.1" stroke="#aaa"/><path d="M472.4 410.9h1.1" stroke="#5a5a5a"/><path d="M448.9 411.7h1.6" stroke="#555"/><path d="M519.0 407.0h0.8" stroke="#5a5a5a"/><path d="M258.4 389.1h1.7" stroke="#555"/><path d="M291.5 399.4h1.1" stroke="#ccc"/><path d="M155.3 388.7h1.9" stroke="#ccc"/><path d="M469.5 407.9h1.8" stroke="#555"/><path d="M157.9 385.3h1.3" stroke="#aaa"/><path d="M219.6 389.8h1.1" stroke="#555"/><path d="M315.4 402.8h1.3" stroke="#ccc"/><path d="M576.7 411.4h1.6" stroke="#555"/><path d="M389.0 397.2h1.2" stroke="#aaa"/><path d="M422.5 399.2h1.1" stroke="#aaa"/><path d="M345.1 401.2h1.7" stroke="#666"/><path d="M302.2 400.2h0.9" stroke="#666"/><path d="M233.0 390.1h1.1" stroke="#5a5a5a"/><path d="M156.4 389.6h1.7" stroke="#555"/><path d="M527.7 410.3h1.7" stroke="#ccc"/><path d="M421.1 400.0h1.5" stroke="#555"/><path d="M165.6 388.2h1.5" stroke="#555"/></g><polygon points="147,368 147.0,384.0 262.0,384.0 292.0,397.5 422.0,397.0 452.0,407.0 600.0,407.0 600,368" fill="#5b5b5b"/><path d="M425.7 381.0V398.2M392.0 381.0V397.1M474.5 395.0V407.0M460.8 394.1V407.0M548.2 395.0V407.0M274.8 370.6V389.8M247.7 370.0V384.0M188.6 370.0V384.0M455.4 391.8V407.0M559.4 395.0V407.0M514.3 395.0V407.0M318.5 381.0V397.4M190.6 370.0V384.0M390.3 381.0V397.1M397.8 381.0V397.1M401.1 381.0V397.1M302.3 380.4V397.5M509.6 395.0V407.0M256.2 370.0V384.0M445.1 387.4V404.7M197.5 370.0V384.0M444.3 387.0V404.4M161.7 370.0V384.0M597.4 395.0V407.0M508.8 395.0V407.0M451.5 390.1V406.8M219.0 370.0V384.0M155.2 370.0V384.0M249.3 370.0V384.0M557.0 395.0V407.0M454.2 391.3V407.0M362.7 381.0V397.2M578.2 395.0V407.0M311.6 381.0V397.4M273.2 370.1V389.0M364.6 381.0V397.2M463.3 395.0V407.0M504.9 395.0V407.0M538.2 395.0V407.0M454.5 391.4V407.0M454.5 391.4V407.0M209.3 370.0V384.0M437.2 384.0V402.1M236.1 370.0V384.0M348.0 381.0V397.3M175.8 370.0V384.0M323.9 381.0V397.4M180.3 370.0V384.0M426.8 381.0V398.6M300.5 379.8V397.5M257.5 370.0V384.0M270.4 370.0V387.8M544.0 395.0V407.0M367.1 381.0V397.2M322.5 381.0V397.4M331.9 381.0V397.3M542.4 395.0V407.0M228.5 370.0V384.0M295.0 377.8V397.5M490.8 395.0V407.0M317.3 381.0V397.4M148.3 370.0V384.0M252.1 370.0V384.0M153.2 370.0V384.0M486.3 395.0V407.0M180.4 370.0V384.0M389.2 381.0V397.1M154.4 370.0V384.0M316.4 381.0V397.4M515.3 395.0V407.0M558.0 395.0V407.0M149.7 370.0V384.0M557.8 395.0V407.0M381.2 381.0V397.2M168.9 370.0V384.0M567.4 395.0V407.0M170.5 370.0V384.0M254.1 370.0V384.0M326.5 381.0V397.4M255.1 370.0V384.0M522.6 395.0V407.0M315.0 381.0V397.4M205.6 370.0V384.0M387.5 381.0V397.1M437.4 384.1V402.1M440.1 385.3V403.0M341.3 381.0V397.3M526.4 395.0V407.0M429.6 381.0V399.5M413.3 381.0V397.0M152.0 370.0V384.0M245.0 370.0V384.0M166.8 370.0V384.0M200.6 370.0V384.0M221.7 370.0V384.0M511.9 395.0V407.0M254.5 370.0V384.0M160.1 370.0V384.0M312.3 381.0V397.4M157.6 370.0V384.0M265.8 370.0V385.7M218.6 370.0V384.0M237.6 370.0V384.0M574.1 395.0V407.0M489.9 395.0V407.0M404.5 381.0V397.1M462.3 394.7V407.0M313.1 381.0V397.4M535.4 395.0V407.0M407.2 381.0V397.1M520.4 395.0V407.0M586.0 395.0V407.0M165.9 370.0V384.0M429.3 381.0V399.4M388.7 381.0V397.1M166.5 370.0V384.0M538.0 395.0V407.0M357.0 381.0V397.3M562.5 395.0V407.0M576.2 395.0V407.0M570.3 395.0V407.0M446.7 388.1V405.2M263.8 370.0V384.8M270.8 370.0V388.0M432.5 382.0V400.5M578.2 395.0V407.0M166.9 370.0V384.0M276.5 371.2V390.5M399.2 381.0V397.1M421.1 381.0V397.0M461.1 394.2V407.0M566.4 395.0V407.0M249.0 370.0V384.0M188.0 370.0V384.0M399.5 381.0V397.1M432.7 382.1V400.6M201.7 370.0V384.0M395.3 381.0V397.1M323.3 381.0V397.4M432.1 381.9V400.4M386.8 381.0V397.1M275.4 370.8V390.0M527.1 395.0V407.0M275.2 370.8V389.9M296.6 378.4V397.5M591.1 395.0V407.0M218.1 370.0V384.0M223.0 370.0V384.0M506.8 395.0V407.0M315.1 381.0V397.4M202.9 370.0V384.0M426.3 381.0V398.4M170.7 370.0V384.0M463.8 395.0V407.0M319.1 381.0V397.4M253.3 370.0V384.0M514.7 395.0V407.0M193.5 370.0V384.0M337.3 381.0V397.3M210.2 370.0V384.0M392.4 381.0V397.1M160.8 370.0V384.0M151.7 370.0V384.0M350.4 381.0V397.3M437.1 384.0V402.0M490.3 395.0V407.0M555.5 395.0V407.0M331.0 381.0V397.4M206.4 370.0V384.0M307.1 381.0V397.4M597.4 395.0V407.0M312.8 381.0V397.4M312.4 381.0V397.4M179.2 370.0V384.0M579.6 395.0V407.0M455.4 391.8V407.0M177.7 370.0V384.0M251.4 370.0V384.0M475.8 395.0V407.0M577.9 395.0V407.0M338.7 381.0V397.3M513.5 395.0V407.0M290.2 376.1V396.7M171.4 370.0V384.0M385.5 381.0V397.1M406.2 381.0V397.1M316.2 381.0V397.4M228.2 370.0V384.0M283.9 373.9V393.9M241.8 370.0V384.0M414.6 381.0V397.0M286.3 374.7V395.0M403.9 381.0V397.1M172.6 370.0V384.0M317.0 381.0V397.4M266.7 370.0V386.1M484.6 395.0V407.0M243.8 370.0V384.0M455.0 391.6V407.0M291.9 376.7V397.5M572.4 395.0V407.0M562.8 395.0V407.0M411.3 381.0V397.0M291.7 376.6V397.3M355.5 381.0V397.3M406.4 381.0V397.1M480.1 395.0V407.0M490.6 395.0V407.0M569.4 395.0V407.0M435.7 383.4V401.6M387.8 381.0V397.1M343.9 381.0V397.3M483.8 395.0V407.0M283.1 373.6V393.5M472.5 395.0V407.0M410.1 381.0V397.0M341.6 381.0V397.3M322.9 381.0V397.4M202.7 370.0V384.0M253.5 370.0V384.0M546.1 395.0V407.0M470.2 395.0V407.0M371.2 381.0V397.2M431.1 381.5V400.0M400.5 381.0V397.1M326.4 381.0V397.4M579.5 395.0V407.0M316.5 381.0V397.4M359.3 381.0V397.2M496.7 395.0V407.0M586.7 395.0V407.0M597.2 395.0V407.0M461.4 394.3V407.0M530.9 395.0V407.0M510.0 395.0V407.0M187.2 370.0V384.0M267.2 370.0V386.3M534.6 395.0V407.0M512.0 395.0V407.0M192.4 370.0V384.0M231.1 370.0V384.0M158.6 370.0V384.0M310.0 381.0V397.4M368.5 381.0V397.2M245.3 370.0V384.0M532.2 395.0V407.0M212.1 370.0V384.0M467.0 395.0V407.0M463.5 395.0V407.0M243.4 370.0V384.0M456.2 392.1V407.0M242.3 370.0V384.0M599.2 395.0V407.0M330.4 381.0V397.4M264.4 370.0V385.1M231.3 370.0V384.0M401.0 381.0V397.1M207.4 370.0V384.0M255.8 370.0V384.0M221.2 370.0V384.0M325.8 381.0V397.4M511.2 395.0V407.0M583.8 395.0V407.0M317.4 381.0V397.4M536.3 395.0V407.0M442.7 386.4V403.9M264.0 370.0V384.9M346.0 381.0V397.3M563.1 395.0V407.0M428.7 381.0V399.2M468.2 395.0V407.0M248.4 370.0V384.0M389.3 381.0V397.1M300.2 379.6V397.5M210.7 370.0V384.0M208.9 370.0V384.0M457.8 392.8V407.0M156.8 370.0V384.0M189.5 370.0V384.0M459.0 393.3V407.0M147.1 370.0V384.0M338.7 381.0V397.3M232.6 370.0V384.0M491.8 395.0V407.0M226.4 370.0V384.0M273.3 370.1V389.1M209.6 370.0V384.0M582.6 395.0V407.0M371.1 381.0V397.2M179.0 370.0V384.0M414.7 381.0V397.0M214.7 370.0V384.0M422.5 381.0V397.2M509.3 395.0V407.0M365.9 381.0V397.2M518.4 395.0V407.0M537.5 395.0V407.0M295.7 378.1V397.5M268.7 370.0V387.0M302.0 380.3V397.5" stroke="#676767" stroke-width="0.6" fill="none"/><polygon points="147,363.5 147.0,370.0 273.0,370.0 304.0,381.0 430.0,381.0 463.0,395.0 600.0,395.0 600,363.5" fill="url(#hatch)"/><polygon points="147,363.5 147.0,370.0 273.0,370.0 304.0,381.0 430.0,381.0 463.0,395.0 600.0,395.0 600,363.5" fill="url(#tg)"/><polyline points="147.0,370.0 273.0,370.0 304.0,381.0 430.0,381.0 463.0,395.0 600.0,395.0" fill="none" stroke="#333" stroke-width="1"/><line x1="147" y1="363.5" x2="600" y2="363.5" stroke="#3a3a3a" stroke-width="0.8"/><polygon points="122,353 147,353 147,407.5 100,407.5 100,391.7 122,388.5" fill="#fff" stroke="#666" stroke-width="1"/><g clip-path="url(#skyclip)"><g filter="url(#noise)"><ellipse cx="222" cy="352" rx="108" ry="76" fill="url(#cloudg)"/><ellipse cx="300" cy="350" rx="45" ry="45" fill="url(#cloudg)"/></g></g><polygon points="122,353 147,353 147,407.5 100,407.5 100,391.7 122,388.5" fill="#fff" stroke="#666" stroke-width="1"/><g filter="url(#soft)" fill="#e9e9e9"><ellipse cx="434" cy="300" rx="10" ry="6"/><ellipse cx="452" cy="297" rx="8" ry="8"/><path d="M458,292 C462,287 466,287 468,292 L470,300 C474,302 476,304 472,306 L450,306Z"/></g><path d="M446.5,282.5 L450.5,285.5 L454.5,282 L453.5,286.5 L450.5,288 L447.5,286.5Z" fill="#444"/><path d="M428,297.5 L437,289" stroke="#666" stroke-width="1.2"/><path d="M302,301 C303,297 306,296 307,298 L306.5,306 L303,304Z" fill="#444"/><path d="M444.2,365.0Q445.3,350.8 445.8,336.7" stroke="rgb(91,91,91)" stroke-width="0.96" fill="none" stroke-linecap="round"/><path d="M444.9,353.1Q437.8,347.1 435.5,355.4" stroke="rgb(91,91,91)" stroke-width="0.82" fill="none" stroke-linecap="round"/><path d="M313.0,365.0Q313.7,350.1 318.4,335.2" stroke="rgb(90,90,90)" stroke-width="1.30" fill="none" stroke-linecap="round"/><path d="M316.2,347.3Q325.5,337.9 329.5,342.0" stroke="rgb(90,90,90)" stroke-width="1.10" fill="none" stroke-linecap="round"/><path d="M456.3,365.0Q456.7,337.2 461.9,309.4" stroke="rgb(86,86,86)" stroke-width="1.26" fill="none" stroke-linecap="round"/><path d="M458.0,348.2Q463.6,341.1 465.4,343.8" stroke="rgb(86,86,86)" stroke-width="1.07" fill="none" stroke-linecap="round"/><path d="M459.7,331.5Q464.1,327.3 468.4,331.2" stroke="rgb(86,86,86)" stroke-width="1.07" fill="none" stroke-linecap="round"/><path d="M407.9,365.0Q406.4,340.2 402.4,315.3" stroke="rgb(51,51,51)" stroke-width="1.25" fill="none" stroke-linecap="round"/><path d="M404.7,336.0Q412.1,325.6 417.2,331.3" stroke="rgb(51,51,51)" stroke-width="1.06" fill="none" stroke-linecap="round"/><path d="M403.5,325.0Q415.1,317.4 422.4,320.2" stroke="rgb(51,51,51)" stroke-width="1.06" fill="none" stroke-linecap="round"/><path d="M369.6,365.0Q374.2,334.3 376.7,303.7" stroke="rgb(86,86,86)" stroke-width="1.24" fill="none" stroke-linecap="round"/><path d="M372.0,344.0Q377.0,336.6 380.8,340.7" stroke="rgb(86,86,86)" stroke-width="1.06" fill="none" stroke-linecap="round"/><path d="M372.7,338.6Q380.8,327.4 383.8,331.7" stroke="rgb(86,86,86)" stroke-width="1.06" fill="none" stroke-linecap="round"/><path d="M372.1,343.8Q377.3,339.9 377.7,341.9" stroke="rgb(86,86,86)" stroke-width="1.06" fill="none" stroke-linecap="round"/><path d="M326.2,365.0Q326.9,339.9 324.2,314.8" stroke="rgb(61,61,61)" stroke-width="0.87" fill="none" stroke-linecap="round"/><path d="M325.3,343.4Q319.4,328.0 315.8,330.5" stroke="rgb(61,61,61)" stroke-width="0.74" fill="none" stroke-linecap="round"/><path d="M325.4,345.2Q319.7,328.6 315.7,334.3" stroke="rgb(61,61,61)" stroke-width="0.74" fill="none" stroke-linecap="round"/><path d="M315.8,365.0Q316.3,352.2 314.6,339.4" stroke="rgb(44,44,44)" stroke-width="0.89" fill="none" stroke-linecap="round"/><path d="M315.3,355.2Q309.4,342.8 305.2,346.8" stroke="rgb(44,44,44)" stroke-width="0.76" fill="none" stroke-linecap="round"/><path d="M305.1,365.0Q308.2,339.2 310.3,313.3" stroke="rgb(55,55,55)" stroke-width="0.97" fill="none" stroke-linecap="round"/><path d="M308.2,334.2Q296.6,327.9 288.8,332.5" stroke="rgb(55,55,55)" stroke-width="0.82" fill="none" stroke-linecap="round"/><path d="M306.9,347.7Q310.6,339.3 313.9,344.2" stroke="rgb(55,55,55)" stroke-width="0.82" fill="none" stroke-linecap="round"/><path d="M308.9,327.9Q317.9,318.1 322.5,322.4" stroke="rgb(55,55,55)" stroke-width="0.82" fill="none" stroke-linecap="round"/><path d="M375.0,365.0Q376.7,336.3 381.1,307.7" stroke="rgb(69,69,69)" stroke-width="1.00" fill="none" stroke-linecap="round"/><path d="M379.3,324.2Q386.4,310.7 389.4,313.7" stroke="rgb(69,69,69)" stroke-width="0.85" fill="none" stroke-linecap="round"/><path d="M376.8,347.7Q383.6,340.7 385.4,342.9" stroke="rgb(69,69,69)" stroke-width="0.85" fill="none" stroke-linecap="round"/><path d="M441.0,365.0Q435.9,344.4 429.1,323.8" stroke="rgb(84,84,84)" stroke-width="1.00" fill="none" stroke-linecap="round"/><path d="M431.0,330.3Q439.9,317.9 445.7,323.6" stroke="rgb(84,84,84)" stroke-width="0.85" fill="none" stroke-linecap="round"/><path d="M430.7,329.2Q435.9,320.4 438.9,326.4" stroke="rgb(84,84,84)" stroke-width="0.85" fill="none" stroke-linecap="round"/><path d="M305.1,365.0Q300.8,345.8 294.3,326.6" stroke="rgb(70,70,70)" stroke-width="0.80" fill="none" stroke-linecap="round"/><path d="M298.5,341.4Q304.4,327.0 310.0,329.3" stroke="rgb(70,70,70)" stroke-width="0.68" fill="none" stroke-linecap="round"/><path d="M299.4,344.6Q307.8,341.6 311.0,346.7" stroke="rgb(70,70,70)" stroke-width="0.68" fill="none" stroke-linecap="round"/><path d="M419.8,365.0Q416.3,343.7 407.9,322.4" stroke="rgb(95,95,95)" stroke-width="1.27" fill="none" stroke-linecap="round"/><path d="M414.8,347.1Q422.3,324.0 425.2,329.3" stroke="rgb(95,95,95)" stroke-width="1.08" fill="none" stroke-linecap="round"/><path d="M429.6,365.0Q433.6,337.9 440.6,310.8" stroke="rgb(43,43,43)" stroke-width="1.03" fill="none" stroke-linecap="round"/><path d="M438.7,320.1Q448.8,316.4 455.9,321.9" stroke="rgb(43,43,43)" stroke-width="0.87" fill="none" stroke-linecap="round"/><path d="M305.3,365.0Q306.6,340.6 306.3,316.2" stroke="rgb(77,77,77)" stroke-width="1.17" fill="none" stroke-linecap="round"/><path d="M305.6,349.5Q314.0,344.1 322.4,349.2" stroke="rgb(77,77,77)" stroke-width="0.99" fill="none" stroke-linecap="round"/><path d="M394.5,365.0Q399.7,337.5 403.3,310.0" stroke="rgb(95,95,95)" stroke-width="1.10" fill="none" stroke-linecap="round"/><path d="M401.8,319.5Q392.4,308.6 384.7,311.4" stroke="rgb(95,95,95)" stroke-width="0.93" fill="none" stroke-linecap="round"/><path d="M399.2,335.6Q407.4,332.2 412.7,336.8" stroke="rgb(95,95,95)" stroke-width="0.93" fill="none" stroke-linecap="round"/><path d="M401.2,323.1Q407.7,318.8 410.8,322.8" stroke="rgb(95,95,95)" stroke-width="0.93" fill="none" stroke-linecap="round"/><path d="M394.7,365.0Q398.8,348.0 404.0,331.0" stroke="rgb(67,67,67)" stroke-width="1.14" fill="none" stroke-linecap="round"/><path d="M401.8,339.3Q397.1,327.7 396.7,330.7" stroke="rgb(67,67,67)" stroke-width="0.97" fill="none" stroke-linecap="round"/><path d="M398.3,351.8Q391.7,333.6 388.3,339.5" stroke="rgb(67,67,67)" stroke-width="0.97" fill="none" stroke-linecap="round"/><path d="M398.3,351.9Q405.7,340.6 408.0,343.2" stroke="rgb(67,67,67)" stroke-width="0.97" fill="none" stroke-linecap="round"/><path d="M315.7,365.0Q315.5,343.1 315.0,321.1" stroke="rgb(91,91,91)" stroke-width="1.13" fill="none" stroke-linecap="round"/><path d="M315.3,342.3Q326.9,335.2 335.4,338.9" stroke="rgb(91,91,91)" stroke-width="0.96" fill="none" stroke-linecap="round"/><path d="M315.3,344.8Q310.7,338.7 306.8,343.1" stroke="rgb(91,91,91)" stroke-width="0.96" fill="none" stroke-linecap="round"/><path d="M423.0,365.0Q425.1,344.5 430.4,323.9" stroke="rgb(85,85,85)" stroke-width="1.15" fill="none" stroke-linecap="round"/><path d="M427.1,342.3Q418.1,337.4 411.6,345.1" stroke="rgb(85,85,85)" stroke-width="0.98" fill="none" stroke-linecap="round"/><path d="M426.8,343.8Q434.0,328.0 438.7,332.0" stroke="rgb(85,85,85)" stroke-width="0.98" fill="none" stroke-linecap="round"/><path d="M429.3,329.8Q426.9,319.2 424.5,322.8" stroke="rgb(85,85,85)" stroke-width="0.98" fill="none" stroke-linecap="round"/><path d="M433.9,365.0Q438.7,348.5 445.5,331.9" stroke="rgb(46,46,46)" stroke-width="0.99" fill="none" stroke-linecap="round"/><path d="M440.7,345.8Q433.9,340.7 429.4,344.1" stroke="rgb(46,46,46)" stroke-width="0.84" fill="none" stroke-linecap="round"/><path d="M332.0,365.0Q335.0,341.0 342.3,317.1" stroke="rgb(37,37,37)" stroke-width="1.27" fill="none" stroke-linecap="round"/><path d="M339.5,329.8Q328.7,327.7 323.4,330.2" stroke="rgb(37,37,37)" stroke-width="1.08" fill="none" stroke-linecap="round"/><path d="M336.0,346.3Q332.0,336.9 328.2,342.1" stroke="rgb(37,37,37)" stroke-width="1.08" fill="none" stroke-linecap="round"/><path d="M418.5,365.0Q421.0,346.1 423.6,327.3" stroke="rgb(69,69,69)" stroke-width="1.24" fill="none" stroke-linecap="round"/><path d="M420.2,352.4Q427.2,340.2 430.1,342.5" stroke="rgb(69,69,69)" stroke-width="1.05" fill="none" stroke-linecap="round"/><path d="M422.5,335.8Q429.2,328.5 435.5,333.8" stroke="rgb(69,69,69)" stroke-width="1.05" fill="none" stroke-linecap="round"/><path d="M438.1,365.0Q440.3,342.4 444.0,319.8" stroke="rgb(40,40,40)" stroke-width="1.22" fill="none" stroke-linecap="round"/><path d="M441.1,341.9Q435.6,333.6 431.9,337.7" stroke="rgb(40,40,40)" stroke-width="1.04" fill="none" stroke-linecap="round"/><path d="M388.8,365.0Q390.8,339.3 396.7,313.6" stroke="rgb(84,84,84)" stroke-width="0.88" fill="none" stroke-linecap="round"/><path d="M393.8,332.6Q402.0,326.4 404.5,331.1" stroke="rgb(84,84,84)" stroke-width="0.75" fill="none" stroke-linecap="round"/><path d="M393.1,337.3Q388.0,327.4 383.6,331.9" stroke="rgb(84,84,84)" stroke-width="0.75" fill="none" stroke-linecap="round"/><path d="M400.2,365.0Q401.9,351.5 401.4,338.0" stroke="rgb(77,77,77)" stroke-width="1.17" fill="none" stroke-linecap="round"/><path d="M400.7,354.4Q409.3,335.0 413.4,340.3" stroke="rgb(77,77,77)" stroke-width="0.99" fill="none" stroke-linecap="round"/><path d="M277.1,365.0Q277.1,339.4 274.4,313.8" stroke="rgb(35,35,35)" stroke-width="1.26" fill="none" stroke-linecap="round"/><path d="M276.2,348.5Q270.6,339.6 269.7,343.9" stroke="rgb(35,35,35)" stroke-width="1.07" fill="none" stroke-linecap="round"/><path d="M276.1,345.2Q270.1,335.7 269.8,339.4" stroke="rgb(35,35,35)" stroke-width="1.07" fill="none" stroke-linecap="round"/><path d="M275.8,340.3Q286.5,331.8 294.6,335.2" stroke="rgb(35,35,35)" stroke-width="1.07" fill="none" stroke-linecap="round"/><path d="M370.1,365.0Q375.6,344.4 378.9,323.8" stroke="rgb(101,101,101)" stroke-width="1.19" fill="none" stroke-linecap="round"/><path d="M374.5,344.3Q378.1,337.8 381.1,340.5" stroke="rgb(101,101,101)" stroke-width="1.01" fill="none" stroke-linecap="round"/><path d="M426.6,365.0Q425.5,337.8 422.5,310.6" stroke="rgb(62,62,62)" stroke-width="0.85" fill="none" stroke-linecap="round"/><path d="M423.3,321.1Q429.2,308.4 431.3,312.5" stroke="rgb(62,62,62)" stroke-width="0.72" fill="none" stroke-linecap="round"/><path d="M423.9,328.5Q418.6,316.5 413.5,319.9" stroke="rgb(62,62,62)" stroke-width="0.72" fill="none" stroke-linecap="round"/><path d="M424.2,332.1Q417.0,323.6 415.2,329.4" stroke="rgb(62,62,62)" stroke-width="0.72" fill="none" stroke-linecap="round"/><path d="M397.1,365.0Q402.8,339.7 408.5,314.4" stroke="rgb(54,54,54)" stroke-width="1.27" fill="none" stroke-linecap="round"/><path d="M401.9,343.8Q408.2,335.3 408.9,339.5" stroke="rgb(54,54,54)" stroke-width="1.08" fill="none" stroke-linecap="round"/><path d="M286.3,365.0Q285.6,352.5 285.1,340.0" stroke="rgb(91,91,91)" stroke-width="1.24" fill="none" stroke-linecap="round"/><path d="M285.3,344.4Q280.6,336.8 279.5,340.2" stroke="rgb(91,91,91)" stroke-width="1.05" fill="none" stroke-linecap="round"/><path d="M370.4,365.0Q370.1,347.1 365.4,329.1" stroke="rgb(95,95,95)" stroke-width="1.09" fill="none" stroke-linecap="round"/><path d="M366.5,336.6Q374.0,325.9 381.5,329.6" stroke="rgb(95,95,95)" stroke-width="0.92" fill="none" stroke-linecap="round"/><path d="M452.0,365.0Q452.7,341.5 452.0,318.1" stroke="rgb(96,96,96)" stroke-width="0.91" fill="none" stroke-linecap="round"/><path d="M452.0,340.9Q459.2,327.9 461.0,332.6" stroke="rgb(96,96,96)" stroke-width="0.77" fill="none" stroke-linecap="round"/><path d="M399.2,365.0Q400.8,347.9 400.6,330.8" stroke="rgb(100,100,100)" stroke-width="1.00" fill="none" stroke-linecap="round"/><path d="M399.7,353.9Q393.4,350.0 388.9,352.7" stroke="rgb(100,100,100)" stroke-width="0.85" fill="none" stroke-linecap="round"/><path d="M400.3,337.8Q393.2,335.6 390.5,339.8" stroke="rgb(100,100,100)" stroke-width="0.85" fill="none" stroke-linecap="round"/><path d="M399.9,347.6Q405.8,340.9 411.6,344.8" stroke="rgb(100,100,100)" stroke-width="0.85" fill="none" stroke-linecap="round"/><path d="M311.8,365.0Q313.4,348.0 316.8,330.9" stroke="rgb(84,84,84)" stroke-width="1.22" fill="none" stroke-linecap="round"/><path d="M313.7,352.3Q320.7,345.0 324.9,350.0" stroke="rgb(84,84,84)" stroke-width="1.04" fill="none" stroke-linecap="round"/><path d="M316.1,335.9Q307.5,325.1 304.6,330.7" stroke="rgb(84,84,84)" stroke-width="1.04" fill="none" stroke-linecap="round"/><path d="M313.5,353.2Q305.5,344.2 303.0,349.7" stroke="rgb(84,84,84)" stroke-width="1.04" fill="none" stroke-linecap="round"/><path d="M291.0,365.0Q292.1,340.9 295.0,316.8" stroke="rgb(73,73,73)" stroke-width="1.22" fill="none" stroke-linecap="round"/><path d="M293.9,330.2Q304.1,325.8 311.6,327.9" stroke="rgb(73,73,73)" stroke-width="1.04" fill="none" stroke-linecap="round"/><path d="M463.3,365.0Q461.8,348.7 458.2,332.4" stroke="rgb(51,51,51)" stroke-width="1.07" fill="none" stroke-linecap="round"/><path d="M458.8,336.3Q449.7,329.6 442.8,335.3" stroke="rgb(51,51,51)" stroke-width="0.91" fill="none" stroke-linecap="round"/><path d="M277.7,365.0Q274.9,341.1 270.2,317.2" stroke="rgb(84,84,84)" stroke-width="1.15" fill="none" stroke-linecap="round"/><path d="M273.6,338.7Q280.2,328.6 284.3,332.4" stroke="rgb(84,84,84)" stroke-width="0.98" fill="none" stroke-linecap="round"/><path d="M287.0,365.0Q290.1,350.9 296.9,336.9" stroke="rgb(75,75,75)" stroke-width="1.17" fill="none" stroke-linecap="round"/><path d="M290.8,354.3Q285.5,344.3 284.0,348.4" stroke="rgb(75,75,75)" stroke-width="1.00" fill="none" stroke-linecap="round"/><path d="M285.9,365.0Q288.0,337.4 287.2,309.8" stroke="rgb(91,91,91)" stroke-width="1.29" fill="none" stroke-linecap="round"/><path d="M286.6,336.6Q282.8,328.0 281.1,332.5" stroke="rgb(91,91,91)" stroke-width="1.09" fill="none" stroke-linecap="round"/><path d="M286.5,339.3Q291.4,333.2 295.0,338.3" stroke="rgb(91,91,91)" stroke-width="1.09" fill="none" stroke-linecap="round"/><path d="M339.3,365.0Q337.9,343.6 337.7,322.3" stroke="rgb(85,85,85)" stroke-width="1.25" fill="none" stroke-linecap="round"/><path d="M338.0,331.3Q329.9,329.1 323.9,331.5" stroke="rgb(85,85,85)" stroke-width="1.07" fill="none" stroke-linecap="round"/><path d="M338.3,337.2Q346.8,330.9 351.4,334.3" stroke="rgb(85,85,85)" stroke-width="1.07" fill="none" stroke-linecap="round"/><path d="M417.5,365.0Q417.9,342.7 414.5,320.3" stroke="rgb(97,97,97)" stroke-width="1.14" fill="none" stroke-linecap="round"/><path d="M416.1,343.6Q411.0,337.3 411.5,341.4" stroke="rgb(97,97,97)" stroke-width="0.97" fill="none" stroke-linecap="round"/><path d="M272.5,365.0Q276.6,349.8 278.0,334.5" stroke="rgb(77,77,77)" stroke-width="0.97" fill="none" stroke-linecap="round"/><path d="M276.7,341.6Q286.8,328.2 293.7,332.3" stroke="rgb(77,77,77)" stroke-width="0.83" fill="none" stroke-linecap="round"/><path d="M276.0,345.4Q283.3,337.6 289.1,341.1" stroke="rgb(77,77,77)" stroke-width="0.83" fill="none" stroke-linecap="round"/><path d="M344.6,365.0Q344.7,338.6 344.1,312.3" stroke="rgb(45,45,45)" stroke-width="0.99" fill="none" stroke-linecap="round"/><path d="M344.4,344.5Q339.5,337.1 337.8,340.9" stroke="rgb(45,45,45)" stroke-width="0.84" fill="none" stroke-linecap="round"/><path d="M430.2,365.0Q423.5,348.8 418.4,332.6" stroke="rgb(52,52,52)" stroke-width="1.24" fill="none" stroke-linecap="round"/><path d="M424.6,349.7Q431.4,337.3 436.9,342.1" stroke="rgb(52,52,52)" stroke-width="1.05" fill="none" stroke-linecap="round"/><path d="M420.9,339.6Q415.1,333.6 415.0,336.0" stroke="rgb(52,52,52)" stroke-width="1.05" fill="none" stroke-linecap="round"/><path d="M311.6,365.0Q308.9,351.4 305.6,337.7" stroke="rgb(46,46,46)" stroke-width="1.27" fill="none" stroke-linecap="round"/><path d="M308.3,350.1Q297.8,346.2 287.8,354.5" stroke="rgb(46,46,46)" stroke-width="1.08" fill="none" stroke-linecap="round"/><path d="M309.6,356.1Q317.9,347.0 324.3,350.9" stroke="rgb(46,46,46)" stroke-width="1.08" fill="none" stroke-linecap="round"/><path d="M309.6,356.0Q304.9,348.1 301.3,353.8" stroke="rgb(46,46,46)" stroke-width="1.08" fill="none" stroke-linecap="round"/><path d="M410.5,365.0Q410.9,346.4 416.4,327.7" stroke="rgb(68,68,68)" stroke-width="0.89" fill="none" stroke-linecap="round"/><path d="M412.5,352.6Q409.1,342.9 407.8,347.5" stroke="rgb(68,68,68)" stroke-width="0.76" fill="none" stroke-linecap="round"/><path d="M452.9,365.0Q455.5,336.5 462.9,308.0" stroke="rgb(37,37,37)" stroke-width="1.14" fill="none" stroke-linecap="round"/><path d="M460.4,322.5Q453.3,318.5 449.2,321.0" stroke="rgb(37,37,37)" stroke-width="0.97" fill="none" stroke-linecap="round"/><path d="M456.4,345.3Q466.3,330.0 470.3,333.6" stroke="rgb(37,37,37)" stroke-width="0.97" fill="none" stroke-linecap="round"/><path d="M443.4,365.0Q438.5,348.2 434.7,331.4" stroke="rgb(101,101,101)" stroke-width="0.87" fill="none" stroke-linecap="round"/><path d="M440.6,354.3Q445.5,343.3 446.4,345.5" stroke="rgb(101,101,101)" stroke-width="0.74" fill="none" stroke-linecap="round"/><path d="M344.5,365.0Q347.9,340.1 350.3,315.3" stroke="rgb(47,47,47)" stroke-width="1.28" fill="none" stroke-linecap="round"/><path d="M346.6,346.7Q341.3,339.7 336.5,342.7" stroke="rgb(47,47,47)" stroke-width="1.09" fill="none" stroke-linecap="round"/><path d="M305.5,365.0Q300.6,350.3 296.3,335.6" stroke="rgb(83,83,83)" stroke-width="1.28" fill="none" stroke-linecap="round"/><path d="M298.7,343.2Q303.4,335.3 306.2,338.2" stroke="rgb(83,83,83)" stroke-width="1.09" fill="none" stroke-linecap="round"/><path d="M307.6,365.0Q305.0,346.6 305.9,328.2" stroke="rgb(73,73,73)" stroke-width="1.10" fill="none" stroke-linecap="round"/><path d="M306.5,341.1Q315.0,336.7 319.0,341.0" stroke="rgb(73,73,73)" stroke-width="0.94" fill="none" stroke-linecap="round"/><path d="M306.8,346.1Q316.2,333.3 320.2,338.6" stroke="rgb(73,73,73)" stroke-width="0.94" fill="none" stroke-linecap="round"/><path d="M325.1,365.0Q323.8,342.2 324.5,319.4" stroke="rgb(81,81,81)" stroke-width="0.89" fill="none" stroke-linecap="round"/><path d="M324.6,328.4Q315.9,322.9 312.9,326.4" stroke="rgb(81,81,81)" stroke-width="0.76" fill="none" stroke-linecap="round"/><path d="M324.8,342.2Q320.5,330.9 317.1,336.0" stroke="rgb(81,81,81)" stroke-width="0.76" fill="none" stroke-linecap="round"/><path d="M439.5,365.0Q435.6,342.7 430.0,320.5" stroke="rgb(88,88,88)" stroke-width="1.01" fill="none" stroke-linecap="round"/><path d="M435.4,345.8Q444.9,328.2 449.1,333.3" stroke="rgb(88,88,88)" stroke-width="0.86" fill="none" stroke-linecap="round"/><path d="M431.3,326.3Q438.0,317.1 443.5,321.4" stroke="rgb(88,88,88)" stroke-width="0.86" fill="none" stroke-linecap="round"/><path d="M404.4,365.0Q408.3,336.4 413.5,307.8" stroke="rgb(51,51,51)" stroke-width="1.18" fill="none" stroke-linecap="round"/><path d="M411.2,322.2Q404.7,313.5 404.2,317.5" stroke="rgb(51,51,51)" stroke-width="1.00" fill="none" stroke-linecap="round"/><path d="M410.4,327.5Q415.5,318.2 418.0,322.8" stroke="rgb(51,51,51)" stroke-width="1.00" fill="none" stroke-linecap="round"/><path d="M451.3,365.0Q448.5,335.7 447.1,306.3" stroke="rgb(105,105,105)" stroke-width="1.27" fill="none" stroke-linecap="round"/><path d="M449.3,337.3Q455.6,329.7 461.7,334.9" stroke="rgb(105,105,105)" stroke-width="1.08" fill="none" stroke-linecap="round"/><path d="M449.1,333.6Q442.3,326.0 439.3,331.0" stroke="rgb(105,105,105)" stroke-width="1.08" fill="none" stroke-linecap="round"/><path d="M448.1,320.7Q439.4,313.1 436.3,315.4" stroke="rgb(105,105,105)" stroke-width="1.08" fill="none" stroke-linecap="round"/><path d="M347.6,365.0Q342.6,337.9 337.7,310.8" stroke="rgb(60,60,60)" stroke-width="1.15" fill="none" stroke-linecap="round"/><path d="M339.8,322.5Q346.8,317.4 349.2,323.6" stroke="rgb(60,60,60)" stroke-width="0.98" fill="none" stroke-linecap="round"/><path d="M339.0,318.1Q347.1,309.0 351.9,313.9" stroke="rgb(60,60,60)" stroke-width="0.98" fill="none" stroke-linecap="round"/><path d="M378.7,365.0Q377.0,349.2 369.6,333.5" stroke="rgb(70,70,70)" stroke-width="1.09" fill="none" stroke-linecap="round"/><path d="M373.8,348.0Q365.4,344.5 359.5,347.8" stroke="rgb(70,70,70)" stroke-width="0.92" fill="none" stroke-linecap="round"/><path d="M374.5,350.3Q368.6,336.6 365.1,341.4" stroke="rgb(70,70,70)" stroke-width="0.92" fill="none" stroke-linecap="round"/><path d="M338.1,365.0Q338.7,344.6 337.2,324.2" stroke="rgb(59,59,59)" stroke-width="1.10" fill="none" stroke-linecap="round"/><path d="M337.4,331.7Q342.3,325.4 344.2,330.1" stroke="rgb(59,59,59)" stroke-width="0.93" fill="none" stroke-linecap="round"/><path d="M337.3,328.5Q330.7,324.1 328.5,328.4" stroke="rgb(59,59,59)" stroke-width="0.93" fill="none" stroke-linecap="round"/><path d="M337.8,350.6Q345.5,341.1 347.9,344.0" stroke="rgb(59,59,59)" stroke-width="0.93" fill="none" stroke-linecap="round"/><path d="M335.1,365.0Q332.7,341.3 332.4,317.6" stroke="rgb(39,39,39)" stroke-width="0.85" fill="none" stroke-linecap="round"/><path d="M334.3,350.0Q344.9,346.4 351.2,348.5" stroke="rgb(39,39,39)" stroke-width="0.72" fill="none" stroke-linecap="round"/><path d="M333.1,329.3Q326.7,321.4 323.2,326.0" stroke="rgb(39,39,39)" stroke-width="0.72" fill="none" stroke-linecap="round"/><path d="M333.0,327.1Q322.6,321.8 314.0,327.5" stroke="rgb(39,39,39)" stroke-width="0.72" fill="none" stroke-linecap="round"/><path d="M376.7,365.0Q382.6,339.5 387.7,314.0" stroke="rgb(46,46,46)" stroke-width="1.16" fill="none" stroke-linecap="round"/><path d="M383.9,331.3Q379.6,328.2 375.8,330.3" stroke="rgb(46,46,46)" stroke-width="0.99" fill="none" stroke-linecap="round"/><path d="M381.9,341.0Q370.2,336.4 363.9,339.0" stroke="rgb(46,46,46)" stroke-width="0.99" fill="none" stroke-linecap="round"/><path d="M447.1,365.0Q450.8,349.3 457.3,333.6" stroke="rgb(88,88,88)" stroke-width="1.23" fill="none" stroke-linecap="round"/><path d="M456.3,336.8Q448.3,320.4 441.2,326.2" stroke="rgb(88,88,88)" stroke-width="1.04" fill="none" stroke-linecap="round"/><path d="M454.9,341.1Q461.5,327.3 464.8,332.8" stroke="rgb(88,88,88)" stroke-width="1.04" fill="none" stroke-linecap="round"/><path d="M456.3,336.8Q448.9,327.4 444.4,333.4" stroke="rgb(88,88,88)" stroke-width="1.04" fill="none" stroke-linecap="round"/><path d="M290.5,365.0Q289.1,340.1 291.5,315.2" stroke="rgb(47,47,47)" stroke-width="0.90" fill="none" stroke-linecap="round"/><path d="M291.3,326.6Q285.2,314.2 279.7,319.7" stroke="rgb(47,47,47)" stroke-width="0.77" fill="none" stroke-linecap="round"/><path d="M291.3,326.7Q284.1,324.1 277.1,327.1" stroke="rgb(47,47,47)" stroke-width="0.77" fill="none" stroke-linecap="round"/><path d="M446.0,365.0Q450.4,340.2 456.4,315.4" stroke="rgb(35,35,35)" stroke-width="0.88" fill="none" stroke-linecap="round"/><path d="M449.7,347.5Q444.8,339.2 443.8,342.5" stroke="rgb(35,35,35)" stroke-width="0.75" fill="none" stroke-linecap="round"/><path d="M454.8,323.1Q446.4,317.4 440.9,321.4" stroke="rgb(35,35,35)" stroke-width="0.75" fill="none" stroke-linecap="round"/><path d="M452.2,335.5Q463.0,322.6 470.6,328.4" stroke="rgb(35,35,35)" stroke-width="0.75" fill="none" stroke-linecap="round"/><path d="M279.2,365.0Q277.4,342.6 269.9,320.2" stroke="rgb(73,73,73)" stroke-width="1.11" fill="none" stroke-linecap="round"/><path d="M272.0,330.6Q276.6,321.9 279.5,324.1" stroke="rgb(73,73,73)" stroke-width="0.94" fill="none" stroke-linecap="round"/><path d="M408.3,365.0Q404.4,351.0 397.6,337.1" stroke="rgb(77,77,77)" stroke-width="0.91" fill="none" stroke-linecap="round"/><path d="M398.8,340.4Q392.2,332.4 387.6,335.1" stroke="rgb(77,77,77)" stroke-width="0.77" fill="none" stroke-linecap="round"/><path d="M403.0,351.2Q410.1,333.0 413.5,336.2" stroke="rgb(77,77,77)" stroke-width="0.77" fill="none" stroke-linecap="round"/><path d="M410.4,365.0Q411.8,351.5 412.7,337.9" stroke="rgb(94,94,94)" stroke-width="1.09" fill="none" stroke-linecap="round"/><path d="M411.8,348.3Q419.9,338.8 422.1,343.2" stroke="rgb(94,94,94)" stroke-width="0.93" fill="none" stroke-linecap="round"/><path d="M412.4,340.9Q405.3,333.4 402.6,337.1" stroke="rgb(94,94,94)" stroke-width="0.93" fill="none" stroke-linecap="round"/><path d="M411.6,351.2Q418.9,343.4 420.9,348.8" stroke="rgb(94,94,94)" stroke-width="0.93" fill="none" stroke-linecap="round"/><path d="M307.4,365.0Q304.8,342.8 304.7,320.7" stroke="rgb(46,46,46)" stroke-width="1.03" fill="none" stroke-linecap="round"/><path d="M306.0,342.1Q309.6,335.5 313.1,337.7" stroke="rgb(46,46,46)" stroke-width="0.87" fill="none" stroke-linecap="round"/><path d="M306.1,343.9Q311.6,339.3 314.8,345.5" stroke="rgb(46,46,46)" stroke-width="0.87" fill="none" stroke-linecap="round"/><path d="M305.1,326.1Q299.0,318.3 297.6,320.7" stroke="rgb(46,46,46)" stroke-width="0.87" fill="none" stroke-linecap="round"/><path d="M273.0,365.0Q274.6,336.9 275.4,308.7" stroke="rgb(87,87,87)" stroke-width="1.00" fill="none" stroke-linecap="round"/><path d="M274.4,331.7Q268.9,325.7 267.6,328.2" stroke="rgb(87,87,87)" stroke-width="0.85" fill="none" stroke-linecap="round"/><path d="M439.1,365.0Q438.3,340.2 440.3,315.3" stroke="rgb(52,52,52)" stroke-width="0.91" fill="none" stroke-linecap="round"/><path d="M439.6,345.5Q431.7,341.0 427.1,344.4" stroke="rgb(52,52,52)" stroke-width="0.78" fill="none" stroke-linecap="round"/><path d="M439.9,332.0Q445.9,325.3 447.4,328.4" stroke="rgb(52,52,52)" stroke-width="0.78" fill="none" stroke-linecap="round"/><path d="M439.9,332.1Q436.4,320.6 433.5,323.6" stroke="rgb(52,52,52)" stroke-width="0.78" fill="none" stroke-linecap="round"/><path d="M400.1,365.0Q406.3,337.6 411.3,310.2" stroke="rgb(75,75,75)" stroke-width="0.90" fill="none" stroke-linecap="round"/><path d="M404.5,343.1Q393.6,338.6 384.4,349.3" stroke="rgb(75,75,75)" stroke-width="0.76" fill="none" stroke-linecap="round"/><path d="M451.7,365.0Q448.3,345.9 440.7,326.8" stroke="rgb(97,97,97)" stroke-width="1.08" fill="none" stroke-linecap="round"/><path d="M446.8,348.0Q434.0,340.8 426.6,343.2" stroke="rgb(97,97,97)" stroke-width="0.92" fill="none" stroke-linecap="round"/><path d="M446.5,346.9Q454.2,340.4 457.3,345.6" stroke="rgb(97,97,97)" stroke-width="0.92" fill="none" stroke-linecap="round"/><path d="M445.0,341.8Q434.4,334.4 426.3,338.3" stroke="rgb(97,97,97)" stroke-width="0.92" fill="none" stroke-linecap="round"/><path d="M412.7,365.0Q408.7,342.3 402.7,319.6" stroke="rgb(105,105,105)" stroke-width="0.82" fill="none" stroke-linecap="round"/><path d="M404.2,326.2Q397.5,320.2 396.6,324.4" stroke="rgb(105,105,105)" stroke-width="0.70" fill="none" stroke-linecap="round"/><path d="M405.5,332.1Q395.3,325.8 389.7,330.5" stroke="rgb(105,105,105)" stroke-width="0.70" fill="none" stroke-linecap="round"/><path d="M409.1,348.7Q414.5,336.4 415.5,340.8" stroke="rgb(105,105,105)" stroke-width="0.70" fill="none" stroke-linecap="round"/><path d="M274.6,365.0Q273.1,339.5 270.9,314.0" stroke="rgb(105,105,105)" stroke-width="0.96" fill="none" stroke-linecap="round"/><path d="M272.2,331.5Q281.3,326.0 289.3,334.8" stroke="rgb(105,105,105)" stroke-width="0.82" fill="none" stroke-linecap="round"/><path d="M273.5,349.7Q282.4,343.2 287.1,346.7" stroke="rgb(105,105,105)" stroke-width="0.82" fill="none" stroke-linecap="round"/><path d="M301.4,365.0Q301.2,344.1 298.5,323.1" stroke="rgb(104,104,104)" stroke-width="1.01" fill="none" stroke-linecap="round"/><path d="M299.9,344.1Q305.9,337.2 309.2,339.4" stroke="rgb(104,104,104)" stroke-width="0.86" fill="none" stroke-linecap="round"/><path d="M299.8,342.4Q291.1,337.3 286.4,339.6" stroke="rgb(104,104,104)" stroke-width="0.86" fill="none" stroke-linecap="round"/><path d="M384.8,365.0Q386.2,342.1 388.1,319.1" stroke="rgb(52,52,52)" stroke-width="0.98" fill="none" stroke-linecap="round"/><path d="M386.8,338.0Q395.6,334.8 402.1,337.9" stroke="rgb(52,52,52)" stroke-width="0.83" fill="none" stroke-linecap="round"/><path d="M360.3,365.0Q361.9,336.9 369.3,308.8" stroke="rgb(58,58,58)" stroke-width="0.96" fill="none" stroke-linecap="round"/><path d="M366.7,325.4Q360.5,310.1 356.2,312.1" stroke="rgb(58,58,58)" stroke-width="0.82" fill="none" stroke-linecap="round"/><path d="M363.2,347.1Q355.5,340.0 349.7,342.9" stroke="rgb(58,58,58)" stroke-width="0.82" fill="none" stroke-linecap="round"/><path d="M439.6,365.0Q437.0,341.1 435.2,317.3" stroke="rgb(76,76,76)" stroke-width="1.07" fill="none" stroke-linecap="round"/><path d="M435.8,324.1Q440.0,319.7 444.1,322.8" stroke="rgb(76,76,76)" stroke-width="0.91" fill="none" stroke-linecap="round"/><path d="M437.3,340.1Q433.2,327.8 429.9,333.0" stroke="rgb(76,76,76)" stroke-width="0.91" fill="none" stroke-linecap="round"/><path d="M436.5,331.3Q441.0,322.9 443.6,327.1" stroke="rgb(76,76,76)" stroke-width="0.91" fill="none" stroke-linecap="round"/><path d="M427.6,365.0Q424.3,343.8 416.1,322.7" stroke="rgb(63,63,63)" stroke-width="0.82" fill="none" stroke-linecap="round"/><path d="M421.1,341.3Q412.6,331.4 406.8,333.8" stroke="rgb(63,63,63)" stroke-width="0.70" fill="none" stroke-linecap="round"/><path d="M422.1,344.8Q416.8,328.2 412.1,332.1" stroke="rgb(63,63,63)" stroke-width="0.70" fill="none" stroke-linecap="round"/><path d="M417.7,328.8Q408.4,317.4 400.1,321.1" stroke="rgb(63,63,63)" stroke-width="0.70" fill="none" stroke-linecap="round"/><path d="M388.0,365.0Q393.9,343.5 399.7,321.9" stroke="rgb(35,35,35)" stroke-width="1.00" fill="none" stroke-linecap="round"/><path d="M398.3,327.0Q390.0,314.7 383.5,319.9" stroke="rgb(35,35,35)" stroke-width="0.85" fill="none" stroke-linecap="round"/><path d="M429.7,365.0Q426.1,352.3 420.0,339.6" stroke="rgb(54,54,54)" stroke-width="0.82" fill="none" stroke-linecap="round"/><path d="M423.4,348.6Q417.9,339.9 415.4,344.3" stroke="rgb(54,54,54)" stroke-width="0.70" fill="none" stroke-linecap="round"/><path d="M272.4,365.0Q273.5,342.1 275.9,319.2" stroke="rgb(58,58,58)" stroke-width="1.15" fill="none" stroke-linecap="round"/><path d="M273.8,347.2Q279.7,335.7 282.8,339.7" stroke="rgb(58,58,58)" stroke-width="0.98" fill="none" stroke-linecap="round"/><path d="M274.2,341.1Q280.0,338.6 280.8,341.3" stroke="rgb(58,58,58)" stroke-width="0.98" fill="none" stroke-linecap="round"/><path d="M272.1,365.0Q275.2,339.7 283.5,314.3" stroke="rgb(79,79,79)" stroke-width="1.16" fill="none" stroke-linecap="round"/><path d="M276.1,347.3Q284.6,344.3 289.9,346.6" stroke="rgb(79,79,79)" stroke-width="0.99" fill="none" stroke-linecap="round"/><path d="M335.6,365.0Q336.2,346.7 334.3,328.5" stroke="rgb(71,71,71)" stroke-width="1.22" fill="none" stroke-linecap="round"/><path d="M334.7,340.6Q341.5,334.5 342.6,339.2" stroke="rgb(71,71,71)" stroke-width="1.04" fill="none" stroke-linecap="round"/><path d="M459.0,365.0Q456.9,347.7 455.2,330.4" stroke="rgb(88,88,88)" stroke-width="1.16" fill="none" stroke-linecap="round"/><path d="M456.8,344.8Q462.7,339.6 465.4,345.4" stroke="rgb(88,88,88)" stroke-width="0.98" fill="none" stroke-linecap="round"/><path d="M456.4,341.2Q465.1,331.0 469.5,333.3" stroke="rgb(88,88,88)" stroke-width="0.98" fill="none" stroke-linecap="round"/><path d="M457.6,351.9Q448.2,345.3 442.9,349.0" stroke="rgb(88,88,88)" stroke-width="0.98" fill="none" stroke-linecap="round"/><path d="M346.2,365.0Q342.4,337.1 340.1,309.2" stroke="rgb(89,89,89)" stroke-width="0.90" fill="none" stroke-linecap="round"/><path d="M342.6,332.0Q352.7,324.2 358.0,328.3" stroke="rgb(89,89,89)" stroke-width="0.77" fill="none" stroke-linecap="round"/><path d="M343.3,338.7Q348.0,325.4 351.0,328.0" stroke="rgb(89,89,89)" stroke-width="0.77" fill="none" stroke-linecap="round"/><path d="M343.2,337.8Q338.4,326.8 338.6,331.9" stroke="rgb(89,89,89)" stroke-width="0.77" fill="none" stroke-linecap="round"/><path d="M319.2,365.0Q319.4,339.4 324.0,313.8" stroke="rgb(54,54,54)" stroke-width="1.24" fill="none" stroke-linecap="round"/><path d="M321.4,341.7Q328.5,336.0 333.3,338.8" stroke="rgb(54,54,54)" stroke-width="1.05" fill="none" stroke-linecap="round"/><path d="M458.4,365.0Q455.2,342.3 448.9,319.7" stroke="rgb(103,103,103)" stroke-width="1.16" fill="none" stroke-linecap="round"/><path d="M451.0,329.6Q457.2,325.1 461.4,327.9" stroke="rgb(103,103,103)" stroke-width="0.98" fill="none" stroke-linecap="round"/><path d="M372.6,365.0Q372.3,351.0 376.6,337.0" stroke="rgb(47,47,47)" stroke-width="1.19" fill="none" stroke-linecap="round"/><path d="M375.7,343.1Q366.9,330.3 360.7,335.4" stroke="rgb(47,47,47)" stroke-width="1.01" fill="none" stroke-linecap="round"/><path d="M374.3,352.9Q379.3,344.8 382.6,350.6" stroke="rgb(47,47,47)" stroke-width="1.01" fill="none" stroke-linecap="round"/><path d="M314.4,365.0Q318.3,339.2 322.4,313.3" stroke="rgb(66,66,66)" stroke-width="1.04" fill="none" stroke-linecap="round"/><path d="M321.2,320.6Q326.8,305.8 329.8,309.0" stroke="rgb(66,66,66)" stroke-width="0.89" fill="none" stroke-linecap="round"/><path d="M318.8,336.3Q314.0,326.6 311.3,329.1" stroke="rgb(66,66,66)" stroke-width="0.89" fill="none" stroke-linecap="round"/><path d="M330.9,365.0Q328.6,341.0 328.8,317.1" stroke="rgb(75,75,75)" stroke-width="0.80" fill="none" stroke-linecap="round"/><path d="M329.8,338.6Q338.9,329.6 343.2,331.8" stroke="rgb(75,75,75)" stroke-width="0.68" fill="none" stroke-linecap="round"/><path d="M329.8,338.5Q323.8,325.6 319.0,331.3" stroke="rgb(75,75,75)" stroke-width="0.68" fill="none" stroke-linecap="round"/><path d="M329.4,329.3Q321.1,317.5 316.9,320.5" stroke="rgb(75,75,75)" stroke-width="0.68" fill="none" stroke-linecap="round"/><path d="M298.6,365.0Q302.8,351.5 307.4,337.9" stroke="rgb(49,49,49)" stroke-width="0.95" fill="none" stroke-linecap="round"/><path d="M302.2,353.9Q294.8,344.8 292.6,350.5" stroke="rgb(49,49,49)" stroke-width="0.81" fill="none" stroke-linecap="round"/><path d="M406.3,365.0Q404.7,339.9 402.5,314.9" stroke="rgb(35,35,35)" stroke-width="0.94" fill="none" stroke-linecap="round"/><path d="M404.1,336.0Q398.2,323.8 396.3,327.7" stroke="rgb(35,35,35)" stroke-width="0.80" fill="none" stroke-linecap="round"/><path d="M404.7,343.8Q398.0,336.3 397.1,342.3" stroke="rgb(35,35,35)" stroke-width="0.80" fill="none" stroke-linecap="round"/><path d="M404.8,345.6Q398.9,338.1 397.1,343.9" stroke="rgb(35,35,35)" stroke-width="0.80" fill="none" stroke-linecap="round"/><path d="M406.2,365.0Q404.7,347.7 403.6,330.5" stroke="rgb(43,43,43)" stroke-width="1.16" fill="none" stroke-linecap="round"/><path d="M404.7,345.4Q411.2,337.2 412.5,342.4" stroke="rgb(43,43,43)" stroke-width="0.99" fill="none" stroke-linecap="round"/><path d="M404.2,337.9Q411.9,332.6 414.3,340.6" stroke="rgb(43,43,43)" stroke-width="0.99" fill="none" stroke-linecap="round"/><path d="M405.4,354.1Q396.9,342.3 391.5,345.4" stroke="rgb(43,43,43)" stroke-width="0.99" fill="none" stroke-linecap="round"/><path d="M346.4,365.0Q350.0,347.2 358.3,329.5" stroke="rgb(104,104,104)" stroke-width="0.90" fill="none" stroke-linecap="round"/><path d="M354.8,340.0Q360.4,330.2 360.1,334.4" stroke="rgb(104,104,104)" stroke-width="0.77" fill="none" stroke-linecap="round"/><path d="M352.9,345.7Q343.4,342.3 337.8,345.3" stroke="rgb(104,104,104)" stroke-width="0.77" fill="none" stroke-linecap="round"/><path d="M448.1,365.0Q454.5,336.5 459.8,308.0" stroke="rgb(52,52,52)" stroke-width="0.81" fill="none" stroke-linecap="round"/><path d="M455.6,328.5Q450.1,320.7 446.8,326.1" stroke="rgb(52,52,52)" stroke-width="0.69" fill="none" stroke-linecap="round"/><path d="M458.0,316.8Q451.3,311.8 449.8,314.1" stroke="rgb(52,52,52)" stroke-width="0.69" fill="none" stroke-linecap="round"/><path d="M444.6,365.0Q447.5,346.8 451.5,328.5" stroke="rgb(49,49,49)" stroke-width="1.04" fill="none" stroke-linecap="round"/><path d="M450.4,334.5Q440.7,330.2 435.5,338.8" stroke="rgb(49,49,49)" stroke-width="0.88" fill="none" stroke-linecap="round"/><path d="M449.8,337.5Q445.3,326.6 441.1,329.6" stroke="rgb(49,49,49)" stroke-width="0.88" fill="none" stroke-linecap="round"/><path d="M448.1,346.4Q459.5,341.8 465.8,344.5" stroke="rgb(49,49,49)" stroke-width="0.88" fill="none" stroke-linecap="round"/><path d="M393.8,365.0Q393.4,350.1 393.2,335.2" stroke="rgb(100,100,100)" stroke-width="1.12" fill="none" stroke-linecap="round"/><path d="M393.5,347.0Q389.1,335.9 387.3,341.6" stroke="rgb(100,100,100)" stroke-width="0.95" fill="none" stroke-linecap="round"/><path d="M393.5,349.2Q397.2,341.8 399.3,344.2" stroke="rgb(100,100,100)" stroke-width="0.95" fill="none" stroke-linecap="round"/><path d="M450.0,365.0Q451.1,351.4 453.8,337.8" stroke="rgb(94,94,94)" stroke-width="1.20" fill="none" stroke-linecap="round"/><path d="M452.3,348.2Q444.3,338.4 438.4,344.1" stroke="rgb(94,94,94)" stroke-width="1.02" fill="none" stroke-linecap="round"/><path d="M452.1,349.9Q458.2,342.6 459.4,346.4" stroke="rgb(94,94,94)" stroke-width="1.02" fill="none" stroke-linecap="round"/><path d="M452.5,347.4Q441.8,336.6 436.4,341.5" stroke="rgb(94,94,94)" stroke-width="1.02" fill="none" stroke-linecap="round"/><path d="M438.0,365.0Q434.5,346.0 430.6,327.0" stroke="rgb(103,103,103)" stroke-width="0.90" fill="none" stroke-linecap="round"/><path d="M435.5,352.1Q442.3,341.9 446.9,345.4" stroke="rgb(103,103,103)" stroke-width="0.77" fill="none" stroke-linecap="round"/><path d="M434.7,348.2Q428.2,342.2 422.7,344.8" stroke="rgb(103,103,103)" stroke-width="0.77" fill="none" stroke-linecap="round"/><path d="M434.0,344.5Q430.4,338.5 428.8,340.7" stroke="rgb(103,103,103)" stroke-width="0.77" fill="none" stroke-linecap="round"/><path d="M402.8,365.0Q402.1,342.8 401.1,320.7" stroke="rgb(69,69,69)" stroke-width="1.26" fill="none" stroke-linecap="round"/><path d="M402.3,351.6Q399.2,341.7 397.1,347.0" stroke="rgb(69,69,69)" stroke-width="1.07" fill="none" stroke-linecap="round"/><path d="M306.3,365.0Q308.2,341.1 313.8,317.3" stroke="rgb(90,90,90)" stroke-width="1.10" fill="none" stroke-linecap="round"/><path d="M308.9,348.7Q315.9,332.4 322.1,336.5" stroke="rgb(90,90,90)" stroke-width="0.93" fill="none" stroke-linecap="round"/><path d="M312.8,323.7Q318.5,320.9 321.3,324.1" stroke="rgb(90,90,90)" stroke-width="0.93" fill="none" stroke-linecap="round"/><path d="M447.7,365.0Q447.9,342.6 453.1,320.3" stroke="rgb(95,95,95)" stroke-width="0.86" fill="none" stroke-linecap="round"/><path d="M451.8,331.1Q445.0,317.2 441.1,321.1" stroke="rgb(95,95,95)" stroke-width="0.73" fill="none" stroke-linecap="round"/><path d="M450.8,339.4Q446.7,329.0 444.5,333.7" stroke="rgb(95,95,95)" stroke-width="0.73" fill="none" stroke-linecap="round"/><path d="M364.3,365.0Q365.2,342.8 371.0,320.6" stroke="rgb(84,84,84)" stroke-width="0.90" fill="none" stroke-linecap="round"/><path d="M370.0,327.5Q366.4,321.5 364.5,324.3" stroke="rgb(84,84,84)" stroke-width="0.76" fill="none" stroke-linecap="round"/><path d="M369.0,333.7Q375.1,322.2 376.8,326.2" stroke="rgb(84,84,84)" stroke-width="0.76" fill="none" stroke-linecap="round"/><path d="M429.8,365.0Q432.6,341.3 432.6,317.6" stroke="rgb(95,95,95)" stroke-width="0.85" fill="none" stroke-linecap="round"/><path d="M432.2,325.1Q424.5,313.7 419.0,318.6" stroke="rgb(95,95,95)" stroke-width="0.72" fill="none" stroke-linecap="round"/><path d="M431.4,338.4Q438.7,328.0 442.5,332.9" stroke="rgb(95,95,95)" stroke-width="0.72" fill="none" stroke-linecap="round"/><path d="M431.3,340.0Q426.0,328.5 424.4,331.9" stroke="rgb(95,95,95)" stroke-width="0.72" fill="none" stroke-linecap="round"/><path d="M303.0,365.0Q307.2,340.5 314.7,316.0" stroke="rgb(71,71,71)" stroke-width="1.27" fill="none" stroke-linecap="round"/><path d="M309.1,339.6Q316.0,322.9 317.9,327.2" stroke="rgb(71,71,71)" stroke-width="1.08" fill="none" stroke-linecap="round"/><path d="M311.8,327.9Q303.3,315.0 296.9,318.1" stroke="rgb(71,71,71)" stroke-width="1.08" fill="none" stroke-linecap="round"/><path d="M311.2,330.5Q317.2,327.7 319.4,330.1" stroke="rgb(71,71,71)" stroke-width="1.08" fill="none" stroke-linecap="round"/><path d="M446.3,365.0Q446.6,346.2 443.8,327.4" stroke="rgb(47,47,47)" stroke-width="0.82" fill="none" stroke-linecap="round"/><path d="M444.9,344.2Q436.2,339.1 430.9,342.0" stroke="rgb(47,47,47)" stroke-width="0.70" fill="none" stroke-linecap="round"/><path d="M322.2,365.0Q327.4,344.1 331.0,323.2" stroke="rgb(78,78,78)" stroke-width="1.10" fill="none" stroke-linecap="round"/><path d="M326.0,346.9Q333.8,334.7 336.3,339.1" stroke="rgb(78,78,78)" stroke-width="0.93" fill="none" stroke-linecap="round"/><path d="M292.7,365.0Q295.3,344.4 300.3,323.8" stroke="rgb(95,95,95)" stroke-width="1.09" fill="none" stroke-linecap="round"/><path d="M297.3,340.2Q309.0,326.9 315.7,332.2" stroke="rgb(95,95,95)" stroke-width="0.92" fill="none" stroke-linecap="round"/><path d="M295.1,352.1Q292.3,342.2 290.4,346.8" stroke="rgb(95,95,95)" stroke-width="0.92" fill="none" stroke-linecap="round"/><path d="M296.9,342.2Q287.1,334.3 279.3,339.8" stroke="rgb(95,95,95)" stroke-width="0.92" fill="none" stroke-linecap="round"/><path d="M385.7,365.0Q381.9,348.9 380.7,332.7" stroke="rgb(98,98,98)" stroke-width="1.13" fill="none" stroke-linecap="round"/><path d="M382.1,342.0Q377.7,332.8 375.1,337.7" stroke="rgb(98,98,98)" stroke-width="0.96" fill="none" stroke-linecap="round"/><path d="M423.7,365.0Q420.9,347.6 419.8,330.3" stroke="rgb(38,38,38)" stroke-width="1.08" fill="none" stroke-linecap="round"/><path d="M421.3,344.3Q413.8,335.9 411.6,340.7" stroke="rgb(38,38,38)" stroke-width="0.92" fill="none" stroke-linecap="round"/><path d="M310.0,365.0Q313.5,349.0 319.9,333.1" stroke="rgb(88,88,88)" stroke-width="1.22" fill="none" stroke-linecap="round"/><path d="M317.5,340.8Q306.2,330.8 299.2,335.2" stroke="rgb(88,88,88)" stroke-width="1.04" fill="none" stroke-linecap="round"/><path d="M316.1,345.4Q312.4,335.1 308.8,340.9" stroke="rgb(88,88,88)" stroke-width="1.04" fill="none" stroke-linecap="round"/><path d="M318.0,339.1Q313.3,332.0 310.5,337.8" stroke="rgb(88,88,88)" stroke-width="1.04" fill="none" stroke-linecap="round"/><path d="M284.4,365.0Q281.0,344.4 273.6,323.8" stroke="rgb(58,58,58)" stroke-width="1.11" fill="none" stroke-linecap="round"/><path d="M275.2,329.8Q265.8,317.8 261.1,321.3" stroke="rgb(58,58,58)" stroke-width="0.95" fill="none" stroke-linecap="round"/><path d="M374.5,365.0Q372.4,340.3 364.5,315.7" stroke="rgb(100,100,100)" stroke-width="1.19" fill="none" stroke-linecap="round"/><path d="M367.7,331.4Q363.5,322.4 361.1,326.2" stroke="rgb(100,100,100)" stroke-width="1.02" fill="none" stroke-linecap="round"/><path d="M367.3,329.6Q375.7,321.5 378.6,324.4" stroke="rgb(100,100,100)" stroke-width="1.02" fill="none" stroke-linecap="round"/><path d="M365.5,320.8Q361.2,314.2 358.2,319.3" stroke="rgb(100,100,100)" stroke-width="1.02" fill="none" stroke-linecap="round"/><path d="M318.9,365.0Q315.9,337.6 311.8,310.2" stroke="rgb(90,90,90)" stroke-width="1.05" fill="none" stroke-linecap="round"/><path d="M315.6,339.0Q311.1,328.9 308.6,333.5" stroke="rgb(90,90,90)" stroke-width="0.89" fill="none" stroke-linecap="round"/><path d="M314.2,328.6Q321.7,312.0 328.9,317.0" stroke="rgb(90,90,90)" stroke-width="0.89" fill="none" stroke-linecap="round"/><path d="M315.1,335.2Q321.4,322.4 324.8,326.0" stroke="rgb(90,90,90)" stroke-width="0.89" fill="none" stroke-linecap="round"/><path d="M444.4,365.0Q443.4,340.3 437.6,315.6" stroke="rgb(104,104,104)" stroke-width="1.21" fill="none" stroke-linecap="round"/><path d="M440.1,334.1Q445.3,325.3 445.7,329.9" stroke="rgb(104,104,104)" stroke-width="1.02" fill="none" stroke-linecap="round"/><path d="M440.5,336.6Q446.6,331.2 450.1,335.3" stroke="rgb(104,104,104)" stroke-width="1.02" fill="none" stroke-linecap="round"/><path d="M404.7,365.0Q405.5,352.0 402.2,339.0" stroke="rgb(59,59,59)" stroke-width="1.02" fill="none" stroke-linecap="round"/><path d="M403.7,354.6Q397.3,343.0 392.8,347.2" stroke="rgb(59,59,59)" stroke-width="0.87" fill="none" stroke-linecap="round"/><path d="M403.8,355.1Q411.4,342.2 417.2,346.7" stroke="rgb(59,59,59)" stroke-width="0.87" fill="none" stroke-linecap="round"/><path d="M367.2,365.0Q370.7,346.5 377.1,328.0" stroke="rgb(105,105,105)" stroke-width="1.22" fill="none" stroke-linecap="round"/><path d="M373.4,342.1Q380.2,339.6 381.3,343.0" stroke="rgb(105,105,105)" stroke-width="1.04" fill="none" stroke-linecap="round"/><path d="M372.8,344.1Q377.9,332.1 382.5,337.4" stroke="rgb(105,105,105)" stroke-width="1.04" fill="none" stroke-linecap="round"/><path d="M373.7,340.8Q384.0,329.3 391.0,331.6" stroke="rgb(105,105,105)" stroke-width="1.04" fill="none" stroke-linecap="round"/><path d="M293.9,365.0Q290.3,338.2 283.3,311.3" stroke="rgb(102,102,102)" stroke-width="1.01" fill="none" stroke-linecap="round"/><path d="M290.7,348.8Q284.8,341.7 282.0,345.5" stroke="rgb(102,102,102)" stroke-width="0.86" fill="none" stroke-linecap="round"/><path d="M432.4,365.0Q434.2,343.9 435.4,322.8" stroke="rgb(94,94,94)" stroke-width="1.30" fill="none" stroke-linecap="round"/><path d="M434.4,337.4Q429.2,328.8 427.8,331.0" stroke="rgb(94,94,94)" stroke-width="1.10" fill="none" stroke-linecap="round"/><path d="M369.4,365.0Q367.2,336.9 361.5,308.9" stroke="rgb(39,39,39)" stroke-width="1.05" fill="none" stroke-linecap="round"/><path d="M365.1,334.6Q370.3,327.6 374.4,332.0" stroke="rgb(39,39,39)" stroke-width="0.89" fill="none" stroke-linecap="round"/><path d="M429.6,365.0Q431.4,341.8 438.9,318.6" stroke="rgb(37,37,37)" stroke-width="0.99" fill="none" stroke-linecap="round"/><path d="M435.9,333.3Q426.6,322.1 422.8,326.7" stroke="rgb(37,37,37)" stroke-width="0.84" fill="none" stroke-linecap="round"/><path d="M434.7,339.3Q442.9,326.3 448.2,331.5" stroke="rgb(37,37,37)" stroke-width="0.84" fill="none" stroke-linecap="round"/><path d="M393.9,365.0Q395.1,347.6 393.9,330.2" stroke="rgb(71,71,71)" stroke-width="0.75" fill="none" stroke-linecap="round"/><path d="M395.3,365.0Q397.1,357.3 399.7,349.5" stroke="rgb(80,80,80)" stroke-width="0.88" fill="none" stroke-linecap="round"/><path d="M350.3,365.0Q351.2,350.5 347.9,336.0" stroke="rgb(93,93,93)" stroke-width="0.97" fill="none" stroke-linecap="round"/><path d="M366.6,365.0Q366.1,358.2 364.2,351.4" stroke="rgb(68,68,68)" stroke-width="0.83" fill="none" stroke-linecap="round"/><path d="M411.1,365.0Q413.0,357.2 415.1,349.4" stroke="rgb(84,84,84)" stroke-width="1.03" fill="none" stroke-linecap="round"/><path d="M352.4,365.0Q353.4,348.5 349.4,332.0" stroke="rgb(95,95,95)" stroke-width="0.83" fill="none" stroke-linecap="round"/><path d="M310.1,365.0Q311.8,357.0 311.7,349.0" stroke="rgb(59,59,59)" stroke-width="1.03" fill="none" stroke-linecap="round"/><path d="M453.4,365.0Q452.2,352.5 456.7,340.0" stroke="rgb(83,83,83)" stroke-width="1.19" fill="none" stroke-linecap="round"/><path d="M431.3,365.0Q432.8,354.0 427.9,343.0" stroke="rgb(60,60,60)" stroke-width="1.11" fill="none" stroke-linecap="round"/><path d="M362.8,365.0Q364.4,353.9 367.0,342.8" stroke="rgb(30,30,30)" stroke-width="0.85" fill="none" stroke-linecap="round"/><path d="M302.5,365.0Q303.0,349.1 305.3,333.1" stroke="rgb(82,82,82)" stroke-width="0.81" fill="none" stroke-linecap="round"/><path d="M431.2,365.0Q432.1,357.6 434.9,350.2" stroke="rgb(61,61,61)" stroke-width="1.20" fill="none" stroke-linecap="round"/><path d="M404.6,365.0Q405.6,349.3 403.1,333.6" stroke="rgb(34,34,34)" stroke-width="1.10" fill="none" stroke-linecap="round"/><path d="M333.3,365.0Q333.4,360.2 334.2,355.4" stroke="rgb(34,34,34)" stroke-width="0.90" fill="none" stroke-linecap="round"/><path d="M303.7,365.0Q302.8,349.9 303.3,334.8" stroke="rgb(36,36,36)" stroke-width="1.16" fill="none" stroke-linecap="round"/><path d="M417.6,365.0Q417.4,350.8 413.0,336.5" stroke="rgb(102,102,102)" stroke-width="0.81" fill="none" stroke-linecap="round"/><path d="M413.8,365.0Q414.3,348.8 411.9,332.5" stroke="rgb(105,105,105)" stroke-width="1.16" fill="none" stroke-linecap="round"/><path d="M400.1,365.0Q401.8,347.9 397.5,330.8" stroke="rgb(30,30,30)" stroke-width="0.73" fill="none" stroke-linecap="round"/><path d="M298.4,365.0Q296.6,353.5 294.5,341.9" stroke="rgb(74,74,74)" stroke-width="0.77" fill="none" stroke-linecap="round"/><path d="M405.9,365.0Q404.6,360.9 401.1,356.9" stroke="rgb(73,73,73)" stroke-width="0.98" fill="none" stroke-linecap="round"/><path d="M331.8,365.0Q331.7,356.4 328.2,347.7" stroke="rgb(38,38,38)" stroke-width="0.83" fill="none" stroke-linecap="round"/><path d="M403.3,365.0Q404.3,351.9 406.5,338.8" stroke="rgb(59,59,59)" stroke-width="1.01" fill="none" stroke-linecap="round"/><path d="M431.8,365.0Q432.7,356.5 434.8,348.1" stroke="rgb(40,40,40)" stroke-width="0.75" fill="none" stroke-linecap="round"/><path d="M299.3,365.0Q301.3,352.1 294.6,339.3" stroke="rgb(103,103,103)" stroke-width="0.78" fill="none" stroke-linecap="round"/><path d="M340.7,365.0Q340.5,349.1 337.2,333.1" stroke="rgb(63,63,63)" stroke-width="1.04" fill="none" stroke-linecap="round"/><path d="M446.0,365.0Q444.2,350.1 442.1,335.2" stroke="rgb(74,74,74)" stroke-width="0.88" fill="none" stroke-linecap="round"/><path d="M314.9,365.0Q314.3,358.4 313.4,351.8" stroke="rgb(74,74,74)" stroke-width="0.74" fill="none" stroke-linecap="round"/><path d="M393.3,365.0Q394.6,355.2 396.3,345.4" stroke="rgb(35,35,35)" stroke-width="1.01" fill="none" stroke-linecap="round"/><path d="M384.2,365.0Q385.9,356.6 384.0,348.2" stroke="rgb(40,40,40)" stroke-width="0.85" fill="none" stroke-linecap="round"/><path d="M431.1,365.0Q431.9,356.8 433.0,348.6" stroke="rgb(58,58,58)" stroke-width="1.16" fill="none" stroke-linecap="round"/><path d="M352.2,365.0Q351.9,354.6 355.7,344.2" stroke="rgb(99,99,99)" stroke-width="0.80" fill="none" stroke-linecap="round"/><path d="M356.9,365.0Q357.6,355.8 360.4,346.6" stroke="rgb(47,47,47)" stroke-width="1.12" fill="none" stroke-linecap="round"/><path d="M343.9,365.0Q342.9,355.3 346.5,345.6" stroke="rgb(51,51,51)" stroke-width="0.75" fill="none" stroke-linecap="round"/><path d="M416.6,365.0Q416.7,360.6 416.9,356.2" stroke="rgb(62,62,62)" stroke-width="1.09" fill="none" stroke-linecap="round"/><path d="M356.9,365.0Q355.1,358.8 358.1,352.7" stroke="rgb(105,105,105)" stroke-width="0.99" fill="none" stroke-linecap="round"/><path d="M288.1,365.0Q289.5,349.8 283.3,334.5" stroke="rgb(60,60,60)" stroke-width="1.16" fill="none" stroke-linecap="round"/><path d="M386.8,365.0Q388.5,348.2 389.2,331.4" stroke="rgb(85,85,85)" stroke-width="0.86" fill="none" stroke-linecap="round"/><path d="M278.2,365.0Q278.4,356.5 281.5,348.1" stroke="rgb(108,108,108)" stroke-width="1.16" fill="none" stroke-linecap="round"/><path d="M296.0,365.0Q296.7,351.9 295.4,338.7" stroke="rgb(83,83,83)" stroke-width="0.75" fill="none" stroke-linecap="round"/><path d="M305.3,365.0Q306.6,350.7 308.1,336.5" stroke="rgb(65,65,65)" stroke-width="0.97" fill="none" stroke-linecap="round"/><path d="M378.8,365.0Q380.2,348.1 378.8,331.2" stroke="rgb(69,69,69)" stroke-width="0.75" fill="none" stroke-linecap="round"/><path d="M328.0,365.0Q329.3,358.9 326.7,352.9" stroke="rgb(48,48,48)" stroke-width="0.90" fill="none" stroke-linecap="round"/><path d="M342.3,365.0Q343.5,349.4 342.9,333.8" stroke="rgb(48,48,48)" stroke-width="0.82" fill="none" stroke-linecap="round"/><path d="M319.3,365.0Q319.1,359.2 322.0,353.4" stroke="rgb(76,76,76)" stroke-width="0.93" fill="none" stroke-linecap="round"/><path d="M388.4,365.0Q386.5,360.1 386.4,355.3" stroke="rgb(72,72,72)" stroke-width="0.84" fill="none" stroke-linecap="round"/><path d="M321.7,365.0Q320.5,348.9 325.2,332.8" stroke="rgb(96,96,96)" stroke-width="0.85" fill="none" stroke-linecap="round"/><path d="M355.7,365.0Q354.0,352.7 359.8,340.4" stroke="rgb(58,58,58)" stroke-width="0.72" fill="none" stroke-linecap="round"/><path d="M397.4,365.0Q395.9,358.9 397.2,352.8" stroke="rgb(104,104,104)" stroke-width="1.02" fill="none" stroke-linecap="round"/><path d="M333.6,365.0Q334.3,355.5 329.7,346.0" stroke="rgb(104,104,104)" stroke-width="0.93" fill="none" stroke-linecap="round"/><path d="M296.3,365.0Q297.9,348.8 299.4,332.6" stroke="rgb(73,73,73)" stroke-width="0.81" fill="none" stroke-linecap="round"/><path d="M303.1,365.0Q303.5,359.5 299.5,354.0" stroke="rgb(84,84,84)" stroke-width="1.07" fill="none" stroke-linecap="round"/><path d="M412.4,365.0Q410.8,354.4 408.9,343.8" stroke="rgb(109,109,109)" stroke-width="0.97" fill="none" stroke-linecap="round"/><path d="M348.2,365.0Q349.0,348.9 347.7,332.7" stroke="rgb(71,71,71)" stroke-width="0.92" fill="none" stroke-linecap="round"/><path d="M364.9,365.0Q365.0,350.6 361.3,336.1" stroke="rgb(75,75,75)" stroke-width="0.93" fill="none" stroke-linecap="round"/><path d="M272.2,365.0Q273.1,352.3 275.7,339.6" stroke="rgb(74,74,74)" stroke-width="1.12" fill="none" stroke-linecap="round"/><path d="M287.5,365.0Q286.8,349.3 285.1,333.7" stroke="rgb(37,37,37)" stroke-width="0.71" fill="none" stroke-linecap="round"/><path d="M461.7,365.0Q461.8,360.9 464.2,356.8" stroke="rgb(78,78,78)" stroke-width="0.98" fill="none" stroke-linecap="round"/><path d="M378.6,365.0Q377.8,360.5 381.0,356.1" stroke="rgb(57,57,57)" stroke-width="0.87" fill="none" stroke-linecap="round"/><path d="M282.6,365.0Q283.7,353.0 281.6,340.9" stroke="rgb(94,94,94)" stroke-width="0.72" fill="none" stroke-linecap="round"/><path d="M396.5,365.0Q397.4,360.4 397.6,355.7" stroke="rgb(31,31,31)" stroke-width="0.80" fill="none" stroke-linecap="round"/><path d="M350.4,365.0Q348.6,351.7 348.3,338.4" stroke="rgb(74,74,74)" stroke-width="1.06" fill="none" stroke-linecap="round"/><path d="M300.1,365.0Q298.2,350.4 300.1,335.7" stroke="rgb(99,99,99)" stroke-width="1.14" fill="none" stroke-linecap="round"/><path d="M431.4,365.0Q429.6,352.0 428.1,339.0" stroke="rgb(87,87,87)" stroke-width="1.08" fill="none" stroke-linecap="round"/><path d="M291.2,365.0Q291.4,357.7 286.8,350.4" stroke="rgb(78,78,78)" stroke-width="0.78" fill="none" stroke-linecap="round"/><path d="M272.6,365.0Q273.7,357.8 269.3,350.7" stroke="rgb(100,100,100)" stroke-width="0.79" fill="none" stroke-linecap="round"/><path d="M420.0,365.0Q420.7,351.0 423.8,337.0" stroke="rgb(39,39,39)" stroke-width="0.96" fill="none" stroke-linecap="round"/><path d="M410.9,365.0Q409.0,352.4 410.1,339.8" stroke="rgb(58,58,58)" stroke-width="0.97" fill="none" stroke-linecap="round"/><path d="M401.9,365.0Q402.9,351.8 406.8,338.6" stroke="rgb(91,91,91)" stroke-width="1.00" fill="none" stroke-linecap="round"/><path d="M361.4,365.0Q361.2,354.1 362.9,343.2" stroke="rgb(69,69,69)" stroke-width="0.79" fill="none" stroke-linecap="round"/><path d="M280.2,365.0Q281.1,356.2 277.8,347.5" stroke="rgb(40,40,40)" stroke-width="1.09" fill="none" stroke-linecap="round"/><path d="M457.6,365.0Q456.5,348.7 453.7,332.3" stroke="rgb(88,88,88)" stroke-width="0.98" fill="none" stroke-linecap="round"/><path d="M439.3,365.0Q438.6,360.6 442.7,356.3" stroke="rgb(98,98,98)" stroke-width="0.79" fill="none" stroke-linecap="round"/><path d="M360.1,365.0Q361.6,353.9 362.7,342.7" stroke="rgb(40,40,40)" stroke-width="0.99" fill="none" stroke-linecap="round"/><path d="M287.5,365.0Q289.2,357.4 286.1,349.8" stroke="rgb(68,68,68)" stroke-width="0.91" fill="none" stroke-linecap="round"/><path d="M362.7,365.0Q364.0,352.7 361.1,340.3" stroke="rgb(74,74,74)" stroke-width="1.00" fill="none" stroke-linecap="round"/><path d="M359.1,365.0Q360.0,354.3 358.5,343.5" stroke="rgb(60,60,60)" stroke-width="1.11" fill="none" stroke-linecap="round"/><path d="M404.1,365.0Q402.7,351.9 403.3,338.8" stroke="rgb(94,94,94)" stroke-width="0.91" fill="none" stroke-linecap="round"/><path d="M384.3,365.0Q385.3,355.6 386.7,346.2" stroke="rgb(47,47,47)" stroke-width="0.89" fill="none" stroke-linecap="round"/><path d="M421.1,365.0Q421.0,353.7 419.8,342.3" stroke="rgb(33,33,33)" stroke-width="0.93" fill="none" stroke-linecap="round"/><path d="M309.6,365.0Q308.7,349.6 309.3,334.2" stroke="rgb(97,97,97)" stroke-width="1.20" fill="none" stroke-linecap="round"/><path d="M303.8,365.0Q305.7,359.1 305.5,353.2" stroke="rgb(66,66,66)" stroke-width="0.85" fill="none" stroke-linecap="round"/><path d="M423.2,365.0Q422.0,349.0 423.1,333.1" stroke="rgb(52,52,52)" stroke-width="0.81" fill="none" stroke-linecap="round"/><path d="M329.0,365.0Q328.7,351.8 332.1,338.6" stroke="rgb(39,39,39)" stroke-width="0.75" fill="none" stroke-linecap="round"/><path d="M329.3,365.0Q328.4,352.5 328.0,340.1" stroke="rgb(43,43,43)" stroke-width="0.81" fill="none" stroke-linecap="round"/><path d="M387.4,365.0Q389.1,347.6 384.5,330.3" stroke="rgb(83,83,83)" stroke-width="0.83" fill="none" stroke-linecap="round"/><path d="M277.2,365.0Q279.1,357.6 276.0,350.2" stroke="rgb(70,70,70)" stroke-width="0.89" fill="none" stroke-linecap="round"/><path d="M370.0,365.0Q370.2,354.5 367.2,344.0" stroke="rgb(32,32,32)" stroke-width="1.09" fill="none" stroke-linecap="round"/><path d="M316.4,365.0Q317.1,360.6 313.6,356.2" stroke="rgb(99,99,99)" stroke-width="1.16" fill="none" stroke-linecap="round"/><path d="M315.7,365.0Q316.1,351.2 318.4,337.3" stroke="rgb(40,40,40)" stroke-width="0.79" fill="none" stroke-linecap="round"/><path d="M454.8,365.0Q455.4,350.5 450.9,336.0" stroke="rgb(106,106,106)" stroke-width="0.94" fill="none" stroke-linecap="round"/><path d="M283.1,365.0Q281.2,356.5 280.9,348.1" stroke="rgb(58,58,58)" stroke-width="0.83" fill="none" stroke-linecap="round"/><path d="M344.4,365.0Q342.7,348.4 345.2,331.7" stroke="rgb(48,48,48)" stroke-width="0.93" fill="none" stroke-linecap="round"/><path d="M296.6,365.0Q295.4,358.9 292.9,352.8" stroke="rgb(91,91,91)" stroke-width="0.74" fill="none" stroke-linecap="round"/><path d="M293.9,365.0Q295.3,351.6 295.4,338.2" stroke="rgb(81,81,81)" stroke-width="0.94" fill="none" stroke-linecap="round"/><path d="M402.0,365.0Q403.3,353.9 403.6,342.8" stroke="rgb(96,96,96)" stroke-width="0.94" fill="none" stroke-linecap="round"/><path d="M326.7,365.0Q326.0,352.7 327.7,340.4" stroke="rgb(109,109,109)" stroke-width="1.16" fill="none" stroke-linecap="round"/><path d="M297.9,365.0Q299.3,354.4 295.7,343.8" stroke="rgb(44,44,44)" stroke-width="1.10" fill="none" stroke-linecap="round"/><path d="M461.7,365.0Q461.8,356.2 462.2,347.4" stroke="rgb(42,42,42)" stroke-width="0.75" fill="none" stroke-linecap="round"/><path d="M452.6,365.0Q451.4,347.9 448.3,330.9" stroke="rgb(85,85,85)" stroke-width="1.10" fill="none" stroke-linecap="round"/><path d="M436.0,365.0Q435.0,349.3 435.1,333.6" stroke="rgb(70,70,70)" stroke-width="1.20" fill="none" stroke-linecap="round"/><path d="M310.4,365.0Q312.2,359.7 310.0,354.5" stroke="rgb(106,106,106)" stroke-width="1.12" fill="none" stroke-linecap="round"/><path d="M358.1,365.0Q358.5,358.6 354.2,352.2" stroke="rgb(83,83,83)" stroke-width="1.00" fill="none" stroke-linecap="round"/><path d="M313.8,365.0Q314.1,348.7 309.6,332.3" stroke="rgb(94,94,94)" stroke-width="1.15" fill="none" stroke-linecap="round"/><path d="M372.9,365.0Q374.5,351.7 374.4,338.4" stroke="rgb(105,105,105)" stroke-width="0.73" fill="none" stroke-linecap="round"/><path d="M373.8,365.0Q372.7,348.2 370.0,331.4" stroke="rgb(36,36,36)" stroke-width="1.11" fill="none" stroke-linecap="round"/><path d="M367.9,365.0Q369.1,355.2 366.4,345.5" stroke="rgb(93,93,93)" stroke-width="1.05" fill="none" stroke-linecap="round"/><path d="M294.1,365.0Q292.5,358.0 293.3,351.0" stroke="rgb(54,54,54)" stroke-width="1.12" fill="none" stroke-linecap="round"/><path d="M286.8,365.0Q287.1,352.7 285.1,340.4" stroke="rgb(97,97,97)" stroke-width="1.08" fill="none" stroke-linecap="round"/><path d="M280.7,365.0Q281.4,351.7 278.1,338.4" stroke="rgb(37,37,37)" stroke-width="1.00" fill="none" stroke-linecap="round"/><path d="M415.9,365.0Q415.3,356.0 416.0,347.0" stroke="rgb(72,72,72)" stroke-width="0.91" fill="none" stroke-linecap="round"/><path d="M457.8,365.0Q458.0,349.3 462.0,333.6" stroke="rgb(106,106,106)" stroke-width="1.12" fill="none" stroke-linecap="round"/><path d="M301.4,365.0Q300.0,349.5 302.4,334.0" stroke="rgb(57,57,57)" stroke-width="1.16" fill="none" stroke-linecap="round"/><path d="M421.2,365.0Q420.3,349.0 420.6,332.9" stroke="rgb(43,43,43)" stroke-width="1.12" fill="none" stroke-linecap="round"/><path d="M406.5,365.0Q404.8,358.5 410.3,352.0" stroke="rgb(101,101,101)" stroke-width="1.07" fill="none" stroke-linecap="round"/><path d="M460.4,365.0Q461.9,348.2 463.8,331.4" stroke="rgb(62,62,62)" stroke-width="1.15" fill="none" stroke-linecap="round"/><path d="M445.7,365.0Q445.3,359.6 447.8,354.1" stroke="rgb(53,53,53)" stroke-width="0.72" fill="none" stroke-linecap="round"/><path d="M405.7,365.0Q405.1,355.7 406.7,346.3" stroke="rgb(103,103,103)" stroke-width="0.75" fill="none" stroke-linecap="round"/><path d="M311.9,365.0Q310.3,350.6 310.1,336.1" stroke="rgb(62,62,62)" stroke-width="0.89" fill="none" stroke-linecap="round"/><path d="M421.0,365.0Q422.2,352.9 424.9,340.7" stroke="rgb(31,31,31)" stroke-width="1.00" fill="none" stroke-linecap="round"/><path d="M372.1,365.0Q372.4,351.1 367.6,337.1" stroke="rgb(109,109,109)" stroke-width="1.05" fill="none" stroke-linecap="round"/><path d="M330.7,365.0Q329.3,349.1 331.1,333.2" stroke="rgb(104,104,104)" stroke-width="0.84" fill="none" stroke-linecap="round"/><path d="M412.0,365.0Q410.7,353.4 413.1,341.8" stroke="rgb(108,108,108)" stroke-width="0.75" fill="none" stroke-linecap="round"/><path d="M364.8,365.0Q366.6,350.5 363.1,336.0" stroke="rgb(54,54,54)" stroke-width="1.16" fill="none" stroke-linecap="round"/><path d="M352.4,365.0Q351.2,354.1 356.1,343.3" stroke="rgb(38,38,38)" stroke-width="1.01" fill="none" stroke-linecap="round"/><path d="M308.9,365.0Q307.4,355.2 308.7,345.4" stroke="rgb(33,33,33)" stroke-width="0.94" fill="none" stroke-linecap="round"/><path d="M315.5,365.0Q314.2,357.0 317.5,349.1" stroke="rgb(31,31,31)" stroke-width="0.77" fill="none" stroke-linecap="round"/><path d="M305.0,365.0Q305.4,358.7 300.9,352.4" stroke="rgb(64,64,64)" stroke-width="1.14" fill="none" stroke-linecap="round"/><path d="M433.2,365.0Q434.8,357.9 432.3,350.8" stroke="rgb(37,37,37)" stroke-width="0.79" fill="none" stroke-linecap="round"/><path d="M317.1,365.0Q317.2,356.8 313.0,348.6" stroke="rgb(31,31,31)" stroke-width="1.02" fill="none" stroke-linecap="round"/><path d="M331.5,365.0Q331.7,357.4 334.1,349.8" stroke="rgb(67,67,67)" stroke-width="1.13" fill="none" stroke-linecap="round"/><path d="M301.8,365.0Q300.9,347.7 298.4,330.4" stroke="rgb(33,33,33)" stroke-width="1.10" fill="none" stroke-linecap="round"/><path d="M416.8,365.0Q416.4,360.9 414.8,356.8" stroke="rgb(106,106,106)" stroke-width="1.05" fill="none" stroke-linecap="round"/><path d="M452.1,365.0Q450.4,359.4 451.4,353.8" stroke="rgb(95,95,95)" stroke-width="0.87" fill="none" stroke-linecap="round"/><path d="M462.0,365.0Q461.3,360.9 459.9,356.8" stroke="rgb(103,103,103)" stroke-width="0.88" fill="none" stroke-linecap="round"/><path d="M391.2,365.0Q391.1,352.6 395.2,340.3" stroke="rgb(38,38,38)" stroke-width="0.86" fill="none" stroke-linecap="round"/><path d="M431.5,365.0Q432.3,359.2 436.4,353.4" stroke="rgb(71,71,71)" stroke-width="1.01" fill="none" stroke-linecap="round"/><path d="M369.6,365.0Q370.3,349.9 373.2,334.7" stroke="rgb(79,79,79)" stroke-width="1.11" fill="none" stroke-linecap="round"/><path d="M285.6,365.0Q286.0,352.3 284.4,339.6" stroke="rgb(70,70,70)" stroke-width="0.79" fill="none" stroke-linecap="round"/><path d="M383.0,365.0Q381.7,347.6 384.3,330.3" stroke="rgb(34,34,34)" stroke-width="0.94" fill="none" stroke-linecap="round"/><path d="M408.5,365.0Q409.6,355.2 409.5,345.3" stroke="rgb(84,84,84)" stroke-width="0.98" fill="none" stroke-linecap="round"/><path d="M316.9,365.0Q315.2,353.7 317.6,342.5" stroke="rgb(41,41,41)" stroke-width="0.73" fill="none" stroke-linecap="round"/><path d="M430.0,365.0Q428.0,350.4 431.1,335.9" stroke="rgb(54,54,54)" stroke-width="1.01" fill="none" stroke-linecap="round"/><path d="M316.3,365.0Q316.8,350.3 314.1,335.6" stroke="rgb(46,46,46)" stroke-width="0.77" fill="none" stroke-linecap="round"/><path d="M272.4,365.0Q271.2,355.3 272.5,345.5" stroke="rgb(52,52,52)" stroke-width="0.91" fill="none" stroke-linecap="round"/><path d="M310.7,365.0Q309.6,357.0 311.1,348.9" stroke="rgb(96,96,96)" stroke-width="0.82" fill="none" stroke-linecap="round"/><path d="M312.1,365.0Q313.7,356.0 310.9,347.0" stroke="rgb(97,97,97)" stroke-width="0.83" fill="none" stroke-linecap="round"/><path d="M279.2,365.0Q277.9,355.1 282.3,345.3" stroke="rgb(76,76,76)" stroke-width="0.82" fill="none" stroke-linecap="round"/><path d="M379.9,365.0Q380.1,355.8 384.4,346.6" stroke="rgb(109,109,109)" stroke-width="0.87" fill="none" stroke-linecap="round"/><path d="M358.4,365.0Q357.7,358.2 359.1,351.5" stroke="rgb(32,32,32)" stroke-width="1.19" fill="none" stroke-linecap="round"/><path d="M435.7,365.0Q437.6,352.4 438.8,339.9" stroke="rgb(96,96,96)" stroke-width="1.00" fill="none" stroke-linecap="round"/><path d="M440.8,365.0Q439.8,348.6 444.5,332.1" stroke="rgb(110,110,110)" stroke-width="0.91" fill="none" stroke-linecap="round"/><path d="M445.6,365.0Q444.5,349.2 443.5,333.4" stroke="rgb(84,84,84)" stroke-width="1.00" fill="none" stroke-linecap="round"/><path d="M433.2,365.0Q433.0,354.7 428.6,344.3" stroke="rgb(72,72,72)" stroke-width="1.10" fill="none" stroke-linecap="round"/><path d="M372.4,365.0Q371.8,360.9 375.4,356.9" stroke="rgb(105,105,105)" stroke-width="0.77" fill="none" stroke-linecap="round"/><path d="M369.7,365.0Q370.6,354.9 374.5,344.7" stroke="rgb(65,65,65)" stroke-width="1.01" fill="none" stroke-linecap="round"/><path d="M349.2,365.0Q349.5,355.9 348.5,346.8" stroke="rgb(85,85,85)" stroke-width="1.01" fill="none" stroke-linecap="round"/><path d="M321.6,365.0Q323.0,360.8 321.2,356.6" stroke="rgb(43,43,43)" stroke-width="1.02" fill="none" stroke-linecap="round"/><path d="M439.5,365.0Q437.8,349.3 440.3,333.6" stroke="rgb(85,85,85)" stroke-width="0.83" fill="none" stroke-linecap="round"/><path d="M356.5,365.0Q355.4,359.9 361.2,354.8" stroke="rgb(33,33,33)" stroke-width="0.96" fill="none" stroke-linecap="round"/><path d="M424.9,365.0Q424.4,348.2 420.9,331.3" stroke="rgb(87,87,87)" stroke-width="1.11" fill="none" stroke-linecap="round"/><path d="M252.4,365.0Q251.9,361.4 256.5,359.0" stroke="rgb(119,119,119)" stroke-width="0.71" fill="none" stroke-linecap="round"/><path d="M235.4,365.0Q236.5,360.2 230.1,356.9" stroke="rgb(73,73,73)" stroke-width="1.18" fill="none" stroke-linecap="round"/><path d="M263.9,365.0Q266.8,355.5 255.2,349.2" stroke="rgb(91,91,91)" stroke-width="1.16" fill="none" stroke-linecap="round"/><path d="M265.5,365.0Q265.9,359.0 271.9,355.0" stroke="rgb(102,102,102)" stroke-width="1.17" fill="none" stroke-linecap="round"/><path d="M222.4,365.0Q224.2,359.4 229.6,355.6" stroke="rgb(83,83,83)" stroke-width="0.92" fill="none" stroke-linecap="round"/><path d="M250.6,365.0Q253.4,358.3 243.9,353.9" stroke="rgb(107,107,107)" stroke-width="1.12" fill="none" stroke-linecap="round"/><path d="M270.6,365.0Q273.6,361.9 277.3,359.8" stroke="rgb(91,91,91)" stroke-width="0.91" fill="none" stroke-linecap="round"/><path d="M227.1,365.0Q228.7,360.4 229.4,357.4" stroke="rgb(59,59,59)" stroke-width="0.82" fill="none" stroke-linecap="round"/><path d="M241.3,365.0Q239.4,361.0 244.3,358.3" stroke="rgb(56,56,56)" stroke-width="0.96" fill="none" stroke-linecap="round"/><path d="M251.8,365.0Q252.3,359.0 250.8,355.1" stroke="rgb(68,68,68)" stroke-width="1.00" fill="none" stroke-linecap="round"/><path d="M258.1,365.0Q258.1,363.2 260.6,362.0" stroke="rgb(87,87,87)" stroke-width="0.88" fill="none" stroke-linecap="round"/><path d="M195.2,365.0Q192.5,361.3 199.8,358.8" stroke="rgb(98,98,98)" stroke-width="0.81" fill="none" stroke-linecap="round"/><path d="M210.6,365.0Q211.6,354.5 206.1,347.5" stroke="rgb(77,77,77)" stroke-width="0.81" fill="none" stroke-linecap="round"/><path d="M229.0,365.0Q229.2,361.2 224.2,358.6" stroke="rgb(81,81,81)" stroke-width="1.04" fill="none" stroke-linecap="round"/><path d="M216.0,365.0Q217.5,360.9 219.9,358.2" stroke="rgb(111,111,111)" stroke-width="0.72" fill="none" stroke-linecap="round"/><path d="M191.9,365.0Q194.2,357.2 191.2,352.0" stroke="rgb(95,95,95)" stroke-width="0.79" fill="none" stroke-linecap="round"/><path d="M209.8,365.0Q207.0,361.1 206.4,358.5" stroke="rgb(118,118,118)" stroke-width="1.01" fill="none" stroke-linecap="round"/><path d="M195.7,365.0Q198.5,358.8 200.8,354.7" stroke="rgb(83,83,83)" stroke-width="1.13" fill="none" stroke-linecap="round"/><path d="M249.3,365.0Q247.1,358.1 253.1,353.5" stroke="rgb(114,114,114)" stroke-width="0.88" fill="none" stroke-linecap="round"/><path d="M254.0,365.0Q255.7,358.5 262.3,354.1" stroke="rgb(53,53,53)" stroke-width="0.94" fill="none" stroke-linecap="round"/><path d="M240.1,365.0Q242.3,361.8 231.6,359.6" stroke="rgb(69,69,69)" stroke-width="0.91" fill="none" stroke-linecap="round"/><path d="M222.2,365.0Q223.7,362.1 214.6,360.2" stroke="rgb(61,61,61)" stroke-width="1.08" fill="none" stroke-linecap="round"/><path d="M215.0,365.0Q212.3,362.9 217.6,361.5" stroke="rgb(54,54,54)" stroke-width="1.13" fill="none" stroke-linecap="round"/><path d="M257.3,365.0Q258.8,361.3 251.0,358.8" stroke="rgb(114,114,114)" stroke-width="1.06" fill="none" stroke-linecap="round"/><path d="M237.8,365.0Q236.9,357.0 235.4,351.7" stroke="rgb(104,104,104)" stroke-width="0.79" fill="none" stroke-linecap="round"/><path d="M248.7,365.0Q251.2,356.4 251.1,350.7" stroke="rgb(54,54,54)" stroke-width="1.04" fill="none" stroke-linecap="round"/><path d="M269.0,365.0Q270.4,363.0 261.2,361.7" stroke="rgb(60,60,60)" stroke-width="1.11" fill="none" stroke-linecap="round"/><path d="M254.2,365.0Q255.8,360.9 256.0,358.2" stroke="rgb(60,60,60)" stroke-width="0.95" fill="none" stroke-linecap="round"/><path d="M228.7,365.0Q231.1,362.8 221.6,361.3" stroke="rgb(120,120,120)" stroke-width="0.95" fill="none" stroke-linecap="round"/><path d="M232.2,365.0Q231.1,356.6 228.9,351.0" stroke="rgb(59,59,59)" stroke-width="0.92" fill="none" stroke-linecap="round"/><path d="M175.5,365.0Q174.2,361.0 178.6,358.3" stroke="rgb(112,112,112)" stroke-width="0.93" fill="none" stroke-linecap="round"/><path d="M228.8,365.0Q226.7,359.0 229.6,355.0" stroke="rgb(99,99,99)" stroke-width="1.01" fill="none" stroke-linecap="round"/><path d="M251.3,365.0Q252.1,361.3 242.6,358.9" stroke="rgb(97,97,97)" stroke-width="0.73" fill="none" stroke-linecap="round"/><path d="M250.5,365.0Q248.6,363.2 251.8,362.0" stroke="rgb(73,73,73)" stroke-width="0.91" fill="none" stroke-linecap="round"/><path d="M201.2,365.0Q200.8,360.6 203.5,357.7" stroke="rgb(80,80,80)" stroke-width="1.16" fill="none" stroke-linecap="round"/><path d="M203.9,365.0Q201.1,358.5 201.9,354.1" stroke="rgb(118,118,118)" stroke-width="0.94" fill="none" stroke-linecap="round"/><path d="M217.5,365.0Q219.0,358.7 216.7,354.5" stroke="rgb(82,82,82)" stroke-width="0.87" fill="none" stroke-linecap="round"/><path d="M221.5,365.0Q220.1,362.5 218.4,360.8" stroke="rgb(74,74,74)" stroke-width="0.75" fill="none" stroke-linecap="round"/><path d="M187.3,365.0Q187.2,358.3 192.4,353.8" stroke="rgb(78,78,78)" stroke-width="0.81" fill="none" stroke-linecap="round"/><path d="M205.9,365.0Q208.5,354.9 204.4,348.2" stroke="rgb(102,102,102)" stroke-width="1.13" fill="none" stroke-linecap="round"/><path d="M206.9,365.0Q207.9,362.1 199.3,360.2" stroke="rgb(96,96,96)" stroke-width="0.70" fill="none" stroke-linecap="round"/><path d="M226.9,365.0Q227.1,358.1 231.8,353.5" stroke="rgb(103,103,103)" stroke-width="0.74" fill="none" stroke-linecap="round"/><path d="M244.8,365.0Q244.7,360.3 248.3,357.2" stroke="rgb(71,71,71)" stroke-width="1.00" fill="none" stroke-linecap="round"/><path d="M244.8,365.0Q247.1,358.8 241.3,354.7" stroke="rgb(116,116,116)" stroke-width="1.10" fill="none" stroke-linecap="round"/><path d="M212.3,365.0Q212.4,353.1 209.8,345.2" stroke="rgb(92,92,92)" stroke-width="1.14" fill="none" stroke-linecap="round"/><path d="M168.8,365.0Q171.5,359.8 169.5,356.4" stroke="rgb(77,77,77)" stroke-width="0.75" fill="none" stroke-linecap="round"/><path d="M238.3,365.0Q241.3,358.4 242.5,354.1" stroke="rgb(55,55,55)" stroke-width="1.18" fill="none" stroke-linecap="round"/><path d="M218.6,365.0Q216.5,361.8 215.2,359.7" stroke="rgb(72,72,72)" stroke-width="1.04" fill="none" stroke-linecap="round"/><path d="M178.7,365.0Q180.1,361.9 184.8,359.8" stroke="rgb(56,56,56)" stroke-width="0.75" fill="none" stroke-linecap="round"/><path d="M222.6,365.0Q221.4,362.2 231.5,360.3" stroke="rgb(61,61,61)" stroke-width="0.90" fill="none" stroke-linecap="round"/><path d="M206.0,365.0Q208.8,356.9 212.3,351.4" stroke="rgb(75,75,75)" stroke-width="0.86" fill="none" stroke-linecap="round"/><path d="M204.2,365.0Q205.3,363.1 204.8,361.9" stroke="rgb(106,106,106)" stroke-width="0.75" fill="none" stroke-linecap="round"/><path d="M272.0,365.0Q273.6,361.3 268.4,358.8" stroke="rgb(120,120,120)" stroke-width="0.86" fill="none" stroke-linecap="round"/><path d="M260.4,365.0Q262.8,359.2 257.3,355.3" stroke="rgb(89,89,89)" stroke-width="0.76" fill="none" stroke-linecap="round"/><path d="M270.1,365.0Q272.3,362.7 278.0,361.1" stroke="rgb(102,102,102)" stroke-width="1.00" fill="none" stroke-linecap="round"/><path d="M204.0,365.0Q206.8,362.8 195.4,361.3" stroke="rgb(63,63,63)" stroke-width="1.16" fill="none" stroke-linecap="round"/><path d="M270.7,365.0Q272.2,359.9 262.8,356.5" stroke="rgb(52,52,52)" stroke-width="1.12" fill="none" stroke-linecap="round"/><path d="M237.9,365.0Q235.6,359.6 243.3,356.0" stroke="rgb(67,67,67)" stroke-width="0.97" fill="none" stroke-linecap="round"/><path d="M236.2,365.0Q237.1,359.5 233.7,355.8" stroke="rgb(113,113,113)" stroke-width="0.79" fill="none" stroke-linecap="round"/><path d="M191.8,365.0Q189.9,361.1 183.3,358.6" stroke="rgb(68,68,68)" stroke-width="0.84" fill="none" stroke-linecap="round"/><path d="M267.1,365.0Q265.0,363.2 268.4,362.0" stroke="rgb(94,94,94)" stroke-width="1.10" fill="none" stroke-linecap="round"/><path d="M267.5,365.0Q267.2,360.5 268.4,357.6" stroke="rgb(66,66,66)" stroke-width="1.05" fill="none" stroke-linecap="round"/><path d="M202.2,365.0Q202.9,355.0 203.3,348.4" stroke="rgb(84,84,84)" stroke-width="1.07" fill="none" stroke-linecap="round"/><path d="M213.8,365.0Q212.8,362.5 206.4,360.9" stroke="rgb(94,94,94)" stroke-width="1.15" fill="none" stroke-linecap="round"/><path d="M166.6,365.0Q164.4,353.7 170.3,346.2" stroke="rgb(52,52,52)" stroke-width="1.02" fill="none" stroke-linecap="round"/><path d="M201.1,365.0Q203.8,361.6 195.3,359.4" stroke="rgb(53,53,53)" stroke-width="0.79" fill="none" stroke-linecap="round"/><path d="M256.4,365.0Q258.2,358.4 255.5,354.0" stroke="rgb(83,83,83)" stroke-width="1.05" fill="none" stroke-linecap="round"/><path d="M224.6,365.0Q227.4,363.1 227.0,361.8" stroke="rgb(60,60,60)" stroke-width="0.99" fill="none" stroke-linecap="round"/><path d="M228.2,365.0Q227.2,362.1 235.4,360.2" stroke="rgb(62,62,62)" stroke-width="1.12" fill="none" stroke-linecap="round"/><path d="M209.7,365.0Q209.3,360.5 217.4,357.6" stroke="rgb(115,115,115)" stroke-width="1.14" fill="none" stroke-linecap="round"/><path d="M250.2,365.0Q249.5,355.3 242.5,348.9" stroke="rgb(80,80,80)" stroke-width="1.18" fill="none" stroke-linecap="round"/><path d="M209.2,365.0Q212.2,353.9 216.1,346.6" stroke="rgb(52,52,52)" stroke-width="1.10" fill="none" stroke-linecap="round"/><path d="M177.8,365.0Q177.5,361.7 180.8,359.5" stroke="rgb(85,85,85)" stroke-width="1.14" fill="none" stroke-linecap="round"/><path d="M180.8,365.0Q182.1,363.1 174.0,361.8" stroke="rgb(92,92,92)" stroke-width="0.83" fill="none" stroke-linecap="round"/><path d="M179.3,365.0Q182.0,357.1 180.4,351.8" stroke="rgb(81,81,81)" stroke-width="0.98" fill="none" stroke-linecap="round"/><path d="M242.4,365.0Q240.8,361.8 250.6,359.7" stroke="rgb(56,56,56)" stroke-width="0.92" fill="none" stroke-linecap="round"/><path d="M242.4,365.0Q243.2,353.3 241.9,345.4" stroke="rgb(102,102,102)" stroke-width="1.11" fill="none" stroke-linecap="round"/><path d="M215.9,365.0Q214.5,361.1 221.5,358.5" stroke="rgb(51,51,51)" stroke-width="0.96" fill="none" stroke-linecap="round"/><path d="M258.7,365.0Q259.6,359.0 256.5,355.1" stroke="rgb(92,92,92)" stroke-width="1.00" fill="none" stroke-linecap="round"/><path d="M255.7,365.0Q253.7,355.8 262.5,349.7" stroke="rgb(73,73,73)" stroke-width="1.15" fill="none" stroke-linecap="round"/><path d="M264.9,365.0Q264.1,362.6 258.7,361.0" stroke="rgb(77,77,77)" stroke-width="0.72" fill="none" stroke-linecap="round"/><path d="M175.7,365.0Q175.2,359.3 175.4,355.5" stroke="rgb(104,104,104)" stroke-width="0.95" fill="none" stroke-linecap="round"/><path d="M268.3,365.0Q266.9,358.9 268.0,354.8" stroke="rgb(78,78,78)" stroke-width="0.84" fill="none" stroke-linecap="round"/><path d="M241.4,365.0Q238.9,362.8 243.8,361.3" stroke="rgb(95,95,95)" stroke-width="0.94" fill="none" stroke-linecap="round"/><path d="M184.2,365.0Q185.4,360.0 191.8,356.6" stroke="rgb(70,70,70)" stroke-width="0.94" fill="none" stroke-linecap="round"/><path d="M232.9,365.0Q231.7,358.0 236.6,353.3" stroke="rgb(58,58,58)" stroke-width="0.96" fill="none" stroke-linecap="round"/><path d="M270.8,365.0Q271.7,360.8 276.9,358.0" stroke="rgb(65,65,65)" stroke-width="1.09" fill="none" stroke-linecap="round"/><path d="M230.6,365.0Q229.5,361.8 228.0,359.6" stroke="rgb(102,102,102)" stroke-width="1.08" fill="none" stroke-linecap="round"/><path d="M171.8,365.0Q171.4,355.3 172.3,348.9" stroke="rgb(106,106,106)" stroke-width="1.17" fill="none" stroke-linecap="round"/><path d="M258.2,365.0Q255.6,362.1 264.0,360.1" stroke="rgb(114,114,114)" stroke-width="0.76" fill="none" stroke-linecap="round"/><g stroke="#777" stroke-width="1.3" fill="none" stroke-linecap="round">
<path d="M194,362 Q200,330 210,303"/>
<path d="M204,322 Q215,318 222,330"/><path d="M206,314 Q220,306 232,310"/><path d="M200,338 Q212,330 225,340"/><path d="M198,348 Q190,340 185,345"/>
<path d="M232,348 Q245,340 258,337"/><path d="M250,346 Q258,338 266,332"/><path d="M214,332 Q222,322 238,322"/>
</g><g stroke="#5a5a5a" stroke-width="1.2" fill="none" stroke-linecap="round"><path d="M271.5,362 Q282,320 294,282"/><path d="M287,297 Q298,290 311,292"/><path d="M286,303 Q296,300 306,306"/><path d="M283,312 Q294,308 304,315"/><path d="M278,322 Q288,316 298,318"/><path d="M275,335 Q266,330 258,333"/>
<path d="M300,330 Q315,318 330,322"/><path d="M335,318 Q350,308 362,312"/><path d="M405,318 Q420,310 435,316"/><path d="M386,300 Q395,290 400,284"/><path d="M300,345 Q310,335 318,322"/>
</g><g><path d="M363.5,277.0 C369.1,282.0 368.3,300.0 363.5,300.0 C358.7,300.0 357.9,282.0 363.5,277.0Z" fill="#858585"/><path d="M363.5,300.0V334.6" stroke="#858585" stroke-width="1"/><path d="M381.5,267.0 C384.6,272.0 384.2,297.0 381.5,297.0 C378.8,297.0 378.4,272.0 381.5,267.0Z" fill="#858585"/><path d="M381.5,297.0V332.9" stroke="#858585" stroke-width="1"/><path d="M374.5,287.0 C376.9,292.0 376.6,305.0 374.5,305.0 C372.4,305.0 372.1,292.0 374.5,287.0Z" fill="#858585"/><path d="M374.5,305.0V322.1" stroke="#858585" stroke-width="1"/><path d="M388.0,290.0 C390.9,295.0 390.5,309.0 388.0,309.0 C385.5,309.0 385.1,295.0 388.0,290.0Z" fill="#858585"/><path d="M388.0,309.0V342.4" stroke="#858585" stroke-width="1"/><path d="M370.5,300.0 C372.9,305.0 372.6,316.0 370.5,316.0 C368.4,316.0 368.1,305.0 370.5,300.0Z" fill="#858585"/><path d="M370.5,316.0V345.4" stroke="#858585" stroke-width="1"/><path d="M455.0,302.0 C459.2,307.0 458.6,319.0 455.0,319.0 C451.4,319.0 450.8,307.0 455.0,302.0Z" fill="#858585"/><path d="M455.0,319.0V350.3" stroke="#858585" stroke-width="1"/><path d="M442.5,294.0 C446.0,299.0 445.5,313.0 442.5,313.0 C439.5,313.0 439.0,299.0 442.5,294.0Z" fill="#858585"/><path d="M442.5,313.0V331.9" stroke="#858585" stroke-width="1"/><path d="M328.5,289.0 C330.3,294.0 330.1,314.0 328.5,314.0 C326.9,314.0 326.7,294.0 328.5,289.0Z" fill="#d5d5d5"/><path d="M337.0,300.0 C338.8,305.0 338.6,318.0 337.0,318.0 C335.4,318.0 335.2,305.0 337.0,300.0Z" fill="#d8d8d8"/></g><g>
<path d="M0,328 C2,326 8,326 10,330 C12,336 11,346 9,356 L0,356Z" fill="#7d3f9a"/>
<circle cx="6" cy="323.5" r="4.6" fill="#7d3f9a"/>
<path d="M25,344 C24,336 27,331 32,330 C37,330 40,336 40,344Z" fill="#b486c8"/><circle cx="32.5" cy="326.5" r="4.8" fill="#b486c8"/>
<path d="M39,342 C39,334 41,331 43,331 C46,332 45,338 45,342Z" fill="#b89ccc"/><circle cx="42.5" cy="331" r="2.5" fill="#b89ccc"/>
<path d="M54,344 C54,337 56,333 58,333 C61,333 61,338 61,344Z" fill="#c1a0d0"/>
<path d="M64,360 C63,340 66,332 71,331 L73,328 C76,327 82,328 85,330 C90,333 92,342 91,360Z" fill="#8a44a6"/>
<circle cx="77.5" cy="324.5" r="4.8" fill="#8a44a6"/><circle cx="84.5" cy="329" r="3.8" fill="#8a44a6"/><circle cx="70.5" cy="331" r="3.8" fill="#8a44a6"/>
<path d="M107,361 C106,345 108,336 111,332 C113,330 119,330 121,334 C123,342 122,350 122,361Z" fill="#8a44a6"/>
<circle cx="116" cy="327" r="4.8" fill="#8a44a6"/>
</g><polygon points="0.0,362.0 0.0,343.6 1.9,346.9 5.3,344.9 7.3,345.2 10.3,347.7 12.8,351.2 15.9,345.7 18.5,346.4 22.4,345.7 26.1,344.5 28.2,346.0 30.2,350.1 31.7,345.9 34.1,350.9 37.5,349.8 41.2,349.8 45.1,349.3 48.9,350.8 51.1,346.5 53.5,348.9 57.2,353.5 60.9,350.1 63.1,348.1 67.1,349.2 68.9,353.3 72.0,348.5 74.5,349.1 78.0,349.8 79.6,350.1 81.5,350.8 85.5,351.9 88.8,348.0 90.7,351.5 94.0,354.3 95.8,348.7 98.2,353.3 101.9,349.7 105.5,354.4 107.6,356.1 110.3,353.7 112.6,355.4 116.4,353.6 118.9,355.1 122.0,353.8 122.0,362.0" fill="#52365e"/><ellipse cx="32.6" cy="347.6" rx="1.9" ry="3.5" fill="#3a2242"/><ellipse cx="101.5" cy="350.3" rx="1.3" ry="4.0" fill="#5a3a60"/><ellipse cx="68.6" cy="350.8" rx="2.2" ry="2.2" fill="#5b3a66"/><ellipse cx="59.0" cy="351.9" rx="2.1" ry="3.7" fill="#6a4a78"/><ellipse cx="36.5" cy="347.4" rx="1.7" ry="3.7" fill="#6a4a78"/><ellipse cx="52.4" cy="352.4" rx="2.0" ry="3.7" fill="#6a4a78"/><ellipse cx="29.8" cy="347.2" rx="2.3" ry="3.2" fill="#5a3a60"/><ellipse cx="53.7" cy="351.2" rx="2.4" ry="3.5" fill="#462a50"/><ellipse cx="4.5" cy="352.1" rx="1.7" ry="3.5" fill="#5a3a60"/><ellipse cx="79.1" cy="350.2" rx="1.6" ry="3.9" fill="#60407a"/><ellipse cx="65.5" cy="350.0" rx="1.7" ry="3.0" fill="#5b3a66"/><ellipse cx="68.8" cy="347.8" rx="2.5" ry="2.7" fill="#3a2242"/><ellipse cx="74.7" cy="348.5" rx="1.8" ry="4.4" fill="#74508a"/><ellipse cx="29.4" cy="346.5" rx="1.5" ry="3.5" fill="#5a3a60"/><ellipse cx="56.9" cy="346.8" rx="1.4" ry="4.4" fill="#3a2242"/><ellipse cx="78.5" cy="352.2" rx="2.4" ry="3.5" fill="#4f3559"/><ellipse cx="32.1" cy="348.3" rx="2.3" ry="3.2" fill="#60407a"/><ellipse cx="21.1" cy="345.5" rx="2.7" ry="2.8" fill="#74508a"/><ellipse cx="31.1" cy="351.7" rx="2.2" ry="3.8" fill="#60407a"/><ellipse cx="59.5" cy="354.2" rx="2.6" ry="2.9" fill="#5a3a60"/><ellipse cx="26.1" cy="348.0" rx="1.6" ry="2.4" fill="#6a4a78"/><ellipse cx="44.7" cy="351.2" rx="2.5" ry="3.7" fill="#3a2242"/><ellipse cx="71.0" cy="347.7" rx="2.0" ry="3.5" fill="#5a3a60"/><ellipse cx="101.6" cy="354.1" rx="2.2" ry="3.0" fill="#5b3a66"/><ellipse cx="19.0" cy="345.7" rx="2.2" ry="2.3" fill="#60407a"/><ellipse cx="23.6" cy="351.8" rx="2.4" ry="3.6" fill="#4f3559"/><ellipse cx="117.4" cy="355.4" rx="1.7" ry="3.2" fill="#3a2242"/><ellipse cx="30.7" cy="347.1" rx="2.2" ry="2.2" fill="#74508a"/><ellipse cx="89.0" cy="352.4" rx="2.4" ry="4.0" fill="#74508a"/><ellipse cx="84.6" cy="348.4" rx="2.1" ry="3.8" fill="#5b3a66"/><ellipse cx="69.8" cy="347.5" rx="2.0" ry="2.7" fill="#4f3559"/><ellipse cx="87.1" cy="353.1" rx="1.9" ry="2.5" fill="#5b3a66"/><ellipse cx="100.6" cy="356.1" rx="1.9" ry="3.5" fill="#5b3a66"/><ellipse cx="3.8" cy="345.4" rx="1.9" ry="2.1" fill="#5b3a66"/><ellipse cx="46.8" cy="349.7" rx="2.1" ry="3.2" fill="#60407a"/><ellipse cx="52.8" cy="349.8" rx="1.7" ry="2.2" fill="#5a3a60"/><ellipse cx="110.3" cy="356.2" rx="2.1" ry="4.0" fill="#5a3a60"/><ellipse cx="81.1" cy="349.8" rx="1.9" ry="3.7" fill="#462a50"/><ellipse cx="43.1" cy="352.5" rx="2.0" ry="2.6" fill="#462a50"/><ellipse cx="107.3" cy="350.9" rx="1.3" ry="2.1" fill="#462a50"/><ellipse cx="15.6" cy="348.5" rx="1.6" ry="2.2" fill="#4f3559"/><ellipse cx="26.1" cy="346.9" rx="2.4" ry="3.5" fill="#5b3a66"/><ellipse cx="9.1" cy="350.9" rx="2.7" ry="2.8" fill="#74508a"/><ellipse cx="60.1" cy="352.5" rx="1.9" ry="4.1" fill="#4f3559"/><ellipse cx="112.6" cy="355.0" rx="1.9" ry="4.1" fill="#462a50"/><ellipse cx="7.6" cy="346.8" rx="1.5" ry="3.9" fill="#3a2242"/><ellipse cx="118.8" cy="352.5" rx="2.7" ry="3.7" fill="#3a2242"/><ellipse cx="27.9" cy="350.5" rx="2.5" ry="3.4" fill="#462a50"/><ellipse cx="18.7" cy="346.3" rx="2.8" ry="2.9" fill="#6a4a78"/><ellipse cx="115.7" cy="352.3" rx="2.6" ry="3.2" fill="#4f3559"/><ellipse cx="72.1" cy="353.4" rx="1.4" ry="3.3" fill="#5b3a66"/><ellipse cx="93.2" cy="353.5" rx="1.3" ry="2.3" fill="#5b3a66"/><ellipse cx="15.7" cy="351.2" rx="1.3" ry="3.6" fill="#6a4a78"/><ellipse cx="20.3" cy="346.1" rx="1.3" ry="2.3" fill="#462a50"/><ellipse cx="59.7" cy="349.8" rx="2.5" ry="4.0" fill="#6a4a78"/><ellipse cx="105.5" cy="354.0" rx="1.9" ry="2.7" fill="#5a3a60"/><ellipse cx="76.8" cy="352.8" rx="2.3" ry="2.5" fill="#5a3a60"/><ellipse cx="83.7" cy="353.6" rx="2.7" ry="2.3" fill="#60407a"/><ellipse cx="11.9" cy="346.4" rx="1.3" ry="3.0" fill="#5a3a60"/><ellipse cx="54.9" cy="350.6" rx="2.3" ry="2.4" fill="#3a2242"/><ellipse cx="25.1" cy="346.6" rx="2.3" ry="2.5" fill="#5b3a66"/><ellipse cx="102.2" cy="351.2" rx="2.4" ry="3.3" fill="#60407a"/><ellipse cx="109.5" cy="350.5" rx="1.6" ry="3.7" fill="#5b3a66"/><ellipse cx="20.2" cy="345.4" rx="2.3" ry="2.6" fill="#60407a"/><ellipse cx="29.6" cy="351.3" rx="2.6" ry="2.3" fill="#3a2242"/><ellipse cx="54.0" cy="350.3" rx="1.2" ry="2.0" fill="#462a50"/><ellipse cx="58.8" cy="348.7" rx="1.9" ry="3.2" fill="#60407a"/><ellipse cx="89.3" cy="356.3" rx="2.3" ry="3.2" fill="#462a50"/><ellipse cx="13.2" cy="348.3" rx="1.8" ry="3.9" fill="#74508a"/><ellipse cx="45.5" cy="350.4" rx="2.3" ry="2.2" fill="#74508a"/><ellipse cx="50.8" cy="346.8" rx="1.4" ry="2.7" fill="#74508a"/><ellipse cx="63.9" cy="351.0" rx="2.3" ry="2.3" fill="#3a2242"/><ellipse cx="47.6" cy="349.7" rx="1.6" ry="4.1" fill="#3a2242"/><ellipse cx="19.7" cy="346.2" rx="2.5" ry="2.6" fill="#5a3a60"/><ellipse cx="52.4" cy="352.2" rx="1.8" ry="2.8" fill="#5b3a66"/><ellipse cx="110.6" cy="351.4" rx="1.8" ry="4.3" fill="#3a2242"/><ellipse cx="97.1" cy="352.2" rx="2.2" ry="2.6" fill="#74508a"/><ellipse cx="15.9" cy="346.3" rx="2.3" ry="3.5" fill="#5b3a66"/><ellipse cx="83.3" cy="355.1" rx="2.4" ry="2.9" fill="#5b3a66"/><ellipse cx="70.0" cy="353.9" rx="2.1" ry="3.2" fill="#6a4a78"/><ellipse cx="1.3" cy="349.8" rx="2.7" ry="4.3" fill="#5b3a66"/><ellipse cx="8.2" cy="350.4" rx="2.4" ry="4.0" fill="#462a50"/><ellipse cx="41.6" cy="352.7" rx="1.4" ry="2.3" fill="#3a2242"/><ellipse cx="69.7" cy="348.0" rx="2.1" ry="3.3" fill="#3a2242"/><ellipse cx="44.8" cy="352.0" rx="1.4" ry="4.1" fill="#3a2242"/><ellipse cx="73.6" cy="354.0" rx="2.1" ry="3.9" fill="#5a3a60"/><ellipse cx="101.0" cy="355.4" rx="1.2" ry="2.9" fill="#5b3a66"/><ellipse cx="29.2" cy="347.0" rx="2.0" ry="2.8" fill="#5b3a66"/><ellipse cx="31.0" cy="348.9" rx="1.4" ry="4.2" fill="#5a3a60"/><ellipse cx="89.6" cy="354.0" rx="1.4" ry="3.4" fill="#5b3a66"/><polygon points="0,354 122,360 122,370 0,366.5" fill="#6f7272"/><path d="M23.1 362.0h2.0" stroke="#666" stroke-width="0.8"/><path d="M77.4 365.5h2.9" stroke="#5f6262" stroke-width="0.8"/><path d="M41.3 364.9h1.2" stroke="#858585" stroke-width="0.8"/><path d="M113.3 360.4h2.4" stroke="#858585" stroke-width="0.8"/><path d="M23.5 359.3h2.8" stroke="#858585" stroke-width="0.8"/><path d="M109.0 362.5h1.5" stroke="#7d8080" stroke-width="0.8"/><path d="M113.8 363.5h1.2" stroke="#666" stroke-width="0.8"/><path d="M47.8 362.6h2.5" stroke="#7d8080" stroke-width="0.8"/><path d="M77.0 364.2h1.5" stroke="#7d8080" stroke-width="0.8"/><path d="M47.0 359.3h2.5" stroke="#858585" stroke-width="0.8"/><path d="M49.3 361.8h2.7" stroke="#858585" stroke-width="0.8"/><path d="M1.1 357.5h1.6" stroke="#666" stroke-width="0.8"/><path d="M116.4 368.2h2.4" stroke="#858585" stroke-width="0.8"/><path d="M81.5 360.5h2.3" stroke="#5f6262" stroke-width="0.8"/><path d="M57.6 359.5h1.5" stroke="#7d8080" stroke-width="0.8"/><path d="M32.2 365.0h1.7" stroke="#858585" stroke-width="0.8"/><path d="M92.1 363.8h3.0" stroke="#666" stroke-width="0.8"/><path d="M41.5 365.1h2.1" stroke="#666" stroke-width="0.8"/><path d="M109.4 368.2h2.4" stroke="#666" stroke-width="0.8"/><path d="M120.0 367.2h2.7" stroke="#7d8080" stroke-width="0.8"/><path d="M66.1 368.3h1.0" stroke="#858585" stroke-width="0.8"/><path d="M41.6 359.4h1.1" stroke="#858585" stroke-width="0.8"/><path d="M72.5 366.9h2.6" stroke="#666" stroke-width="0.8"/><path d="M87.6 361.5h1.8" stroke="#858585" stroke-width="0.8"/><path d="M14.3 356.0h2.9" stroke="#858585" stroke-width="0.8"/><path d="M70.3 361.8h1.7" stroke="#858585" stroke-width="0.8"/><path d="M82.2 361.8h1.9" stroke="#666" stroke-width="0.8"/><path d="M62.4 365.9h1.3" stroke="#7d8080" stroke-width="0.8"/><path d="M83.3 360.4h1.5" stroke="#666" stroke-width="0.8"/><path d="M120.7 360.2h2.2" stroke="#7d8080" stroke-width="0.8"/><path d="M74.3 360.5h2.1" stroke="#858585" stroke-width="0.8"/><path d="M42.6 360.9h1.8" stroke="#858585" stroke-width="0.8"/><path d="M72.0 364.1h1.1" stroke="#858585" stroke-width="0.8"/><path d="M63.4 367.6h1.1" stroke="#858585" stroke-width="0.8"/><path d="M93.6 363.3h2.8" stroke="#858585" stroke-width="0.8"/><path d="M53.6 360.9h2.5" stroke="#5f6262" stroke-width="0.8"/><path d="M25.0 362.0h1.3" stroke="#858585" stroke-width="0.8"/><path d="M27.2 360.9h2.8" stroke="#7d8080" stroke-width="0.8"/><path d="M98.6 368.5h2.3" stroke="#5f6262" stroke-width="0.8"/><path d="M10.4 366.1h3.0" stroke="#7d8080" stroke-width="0.8"/><path d="M15.0 361.5h1.3" stroke="#858585" stroke-width="0.8"/><path d="M80.6 358.3h1.6" stroke="#7d8080" stroke-width="0.8"/><path d="M20.0 357.3h1.1" stroke="#7d8080" stroke-width="0.8"/><path d="M17.5 362.3h1.5" stroke="#7d8080" stroke-width="0.8"/><path d="M46.2 365.4h2.7" stroke="#5f6262" stroke-width="0.8"/><path d="M116.1 363.5h2.4" stroke="#666" stroke-width="0.8"/><path d="M83.0 358.1h2.3" stroke="#666" stroke-width="0.8"/><path d="M23.3 360.4h1.6" stroke="#858585" stroke-width="0.8"/><path d="M17.2 358.6h2.0" stroke="#7d8080" stroke-width="0.8"/><path d="M29.6 364.0h1.1" stroke="#5f6262" stroke-width="0.8"/><path d="M46.7 367.1h2.1" stroke="#666" stroke-width="0.8"/><path d="M101.0 362.5h2.6" stroke="#858585" stroke-width="0.8"/><path d="M41.6 357.3h1.5" stroke="#5f6262" stroke-width="0.8"/><path d="M44.2 367.3h2.1" stroke="#7d8080" stroke-width="0.8"/><path d="M0.8 357.1h1.8" stroke="#858585" stroke-width="0.8"/><path d="M121.2 369.7h1.7" stroke="#666" stroke-width="0.8"/><path d="M3.6 361.1h2.1" stroke="#858585" stroke-width="0.8"/><path d="M77.8 362.7h1.1" stroke="#858585" stroke-width="0.8"/><path d="M22.0 357.8h1.3" stroke="#7d8080" stroke-width="0.8"/><path d="M30.4 356.4h1.1" stroke="#858585" stroke-width="0.8"/><path d="M109.7 365.8h2.1" stroke="#666" stroke-width="0.8"/><path d="M117.7 369.1h2.1" stroke="#7d8080" stroke-width="0.8"/><path d="M57.6 362.8h1.3" stroke="#858585" stroke-width="0.8"/><path d="M108.0 364.4h1.5" stroke="#5f6262" stroke-width="0.8"/><path d="M19.2 358.7h2.6" stroke="#666" stroke-width="0.8"/><path d="M21.2 364.9h2.8" stroke="#858585" stroke-width="0.8"/><path d="M70.4 360.9h1.9" stroke="#5f6262" stroke-width="0.8"/><path d="M28.6 364.5h1.9" stroke="#5f6262" stroke-width="0.8"/><path d="M2.4 355.1h1.4" stroke="#5f6262" stroke-width="0.8"/><path d="M59.5 360.7h1.3" stroke="#5f6262" stroke-width="0.8"/><path d="M2.6 362.6h1.2" stroke="#5f6262" stroke-width="0.8"/><path d="M108.3 363.0h2.9" stroke="#666" stroke-width="0.8"/><path d="M8.2 357.8h2.2" stroke="#858585" stroke-width="0.8"/><path d="M80.3 365.5h2.7" stroke="#5f6262" stroke-width="0.8"/><path d="M32.8 360.5h1.6" stroke="#858585" stroke-width="0.8"/><path d="M90.2 366.7h1.3" stroke="#666" stroke-width="0.8"/><path d="M83.1 364.3h1.6" stroke="#666" stroke-width="0.8"/><path d="M100.7 361.3h1.1" stroke="#858585" stroke-width="0.8"/><path d="M65.2 365.8h2.5" stroke="#666" stroke-width="0.8"/><path d="M113.7 367.8h1.0" stroke="#7d8080" stroke-width="0.8"/><path d="M118.0 364.9h1.3" stroke="#858585" stroke-width="0.8"/><path d="M29.0 362.0h2.1" stroke="#858585" stroke-width="0.8"/><path d="M78.6 362.5h2.7" stroke="#5f6262" stroke-width="0.8"/><path d="M40.9 367.4h1.5" stroke="#7d8080" stroke-width="0.8"/><path d="M49.0 357.3h2.0" stroke="#666" stroke-width="0.8"/><path d="M12.2 362.4h1.2" stroke="#5f6262" stroke-width="0.8"/><path d="M5.4 355.6h2.0" stroke="#858585" stroke-width="0.8"/><path d="M119.7 369.7h1.1" stroke="#7d8080" stroke-width="0.8"/><path d="M15.8 355.7h1.1" stroke="#7d8080" stroke-width="0.8"/><path d="M103.5 360.7h1.3" stroke="#666" stroke-width="0.8"/><path d="M27.7 357.1h2.7" stroke="#858585" stroke-width="0.8"/><path d="M101.4 365.0h2.5" stroke="#7d8080" stroke-width="0.8"/><path d="M71.4 363.1h1.7" stroke="#5f6262" stroke-width="0.8"/><path d="M117.7 366.2h2.8" stroke="#666" stroke-width="0.8"/><path d="M98.9 359.7h2.6" stroke="#7d8080" stroke-width="0.8"/><path d="M78.8 358.8h2.9" stroke="#7d8080" stroke-width="0.8"/><path d="M110.3 364.2h1.6" stroke="#858585" stroke-width="0.8"/><path d="M104.8 369.5h2.8" stroke="#666" stroke-width="0.8"/><path d="M36.5 365.3h2.2" stroke="#7d8080" stroke-width="0.8"/><path d="M19.3 356.5h2.0" stroke="#5f6262" stroke-width="0.8"/><path d="M66.5 365.0h1.6" stroke="#7d8080" stroke-width="0.8"/><path d="M70.2 368.3h2.5" stroke="#858585" stroke-width="0.8"/><path d="M28.7 366.4h2.4" stroke="#858585" stroke-width="0.8"/><path d="M56.3 358.7h1.6" stroke="#666" stroke-width="0.8"/><path d="M77.5 360.0h2.7" stroke="#666" stroke-width="0.8"/><path d="M76.0 362.8h1.3" stroke="#858585" stroke-width="0.8"/><path d="M118.9 363.6h1.2" stroke="#858585" stroke-width="0.8"/><path d="M110.3 367.1h1.4" stroke="#666" stroke-width="0.8"/><path d="M63.3 364.7h2.7" stroke="#5f6262" stroke-width="0.8"/><path d="M74.8 363.9h1.5" stroke="#7d8080" stroke-width="0.8"/><path d="M65.1 357.4h1.3" stroke="#666" stroke-width="0.8"/><path d="M57.4 366.6h2.3" stroke="#5f6262" stroke-width="0.8"/><path d="M88.0 364.4h2.2" stroke="#5f6262" stroke-width="0.8"/><path d="M51.1 360.6h2.0" stroke="#7d8080" stroke-width="0.8"/><path d="M15.5 365.5h1.8" stroke="#858585" stroke-width="0.8"/><path d="M95.1 366.0h1.3" stroke="#7d8080" stroke-width="0.8"/><path d="M31.9 357.4h1.4" stroke="#5f6262" stroke-width="0.8"/><path d="M95.4 361.1h2.4" stroke="#5f6262" stroke-width="0.8"/><path d="M32.7 365.4h2.8" stroke="#5f6262" stroke-width="0.8"/><path d="M82.8 359.7h1.2" stroke="#7d8080" stroke-width="0.8"/><path d="M86.7 366.3h2.6" stroke="#7d8080" stroke-width="0.8"/><path d="M48.3 366.9h2.0" stroke="#666" stroke-width="0.8"/><path d="M105.7 363.5h2.8" stroke="#5f6262" stroke-width="0.8"/><path d="M77.4 363.5h2.8" stroke="#7d8080" stroke-width="0.8"/><path d="M97.3 361.1h2.2" stroke="#666" stroke-width="0.8"/><path d="M120.2 362.6h1.3" stroke="#666" stroke-width="0.8"/><path d="M70.2 364.5h2.2" stroke="#666" stroke-width="0.8"/><path d="M83.5 367.9h2.6" stroke="#858585" stroke-width="0.8"/><path d="M97.3 359.6h1.5" stroke="#666" stroke-width="0.8"/><path d="M72.6 366.3h1.9" stroke="#7d8080" stroke-width="0.8"/><path d="M111.4 367.1h2.5" stroke="#858585" stroke-width="0.8"/><path d="M28.8 359.3h2.4" stroke="#5f6262" stroke-width="0.8"/><path d="M17.5 361.7h2.4" stroke="#5f6262" stroke-width="0.8"/><path d="M77.6 362.5h1.8" stroke="#858585" stroke-width="0.8"/><path d="M105.5 365.9h1.3" stroke="#666" stroke-width="0.8"/><path d="M61.4 359.8h1.6" stroke="#666" stroke-width="0.8"/><path d="M80.4 358.5h1.4" stroke="#666" stroke-width="0.8"/><path d="M30.3 360.2h2.2" stroke="#858585" stroke-width="0.8"/><path d="M88.3 366.4h1.9" stroke="#858585" stroke-width="0.8"/><path d="M44.4 366.2h2.2" stroke="#7d8080" stroke-width="0.8"/><path d="M37.3 358.5h2.2" stroke="#858585" stroke-width="0.8"/><path d="M33.8 365.7h2.6" stroke="#7d8080" stroke-width="0.8"/><path d="M84.0 360.0h2.1" stroke="#858585" stroke-width="0.8"/><path d="M27.1 360.8h2.7" stroke="#7d8080" stroke-width="0.8"/><path d="M100.8 360.0h1.5" stroke="#7d8080" stroke-width="0.8"/><path d="M114.0 362.0h1.5" stroke="#666" stroke-width="0.8"/><path d="M109.6 366.4h1.4" stroke="#5f6262" stroke-width="0.8"/><path d="M28.1 359.1h1.3" stroke="#7d8080" stroke-width="0.8"/><path d="M92.5 368.4h2.3" stroke="#5f6262" stroke-width="0.8"/><path d="M65.7 359.4h1.3" stroke="#858585" stroke-width="0.8"/><path d="M29.5 359.6h2.8" stroke="#666" stroke-width="0.8"/><path d="M48.8 357.8h1.7" stroke="#7d8080" stroke-width="0.8"/><path d="M99.9 364.0h1.7" stroke="#5f6262" stroke-width="0.8"/><path d="M43.5 362.3h1.1" stroke="#858585" stroke-width="0.8"/><path d="M71.7 368.2h1.5" stroke="#5f6262" stroke-width="0.8"/><path d="M18.6 362.8h2.9" stroke="#666" stroke-width="0.8"/><path d="M48.0 357.2h1.7" stroke="#7d8080" stroke-width="0.8"/><path d="M45.4 357.2h1.5" stroke="#666" stroke-width="0.8"/><path d="M97.7 359.2h2.5" stroke="#858585" stroke-width="0.8"/><path d="M9.2 355.6h2.6" stroke="#7d8080" stroke-width="0.8"/><path d="M0,354 L122,360" stroke="#3a3a3a" stroke-width="1.2"/><path d="M2.0 365h5.6M14.7 365h5.6M27.4 365h5.6M40.1 365h5.6M52.8 365h5.6M65.5 365h5.6M78.2 365h5.6M90.9 365h5.6M103.6 365h5.6M116.3 365h5.6M154.4 365h5.6M167.1 365h5.6M179.8 365h5.6M192.5 365h5.6M205.2 365h5.6M217.9 365h5.6M230.6 365h5.6M243.3 365h5.6M256.0 365h5.6M268.7 365h5.6M281.4 365h5.6M294.1 365h5.6M306.8 365h5.6M319.5 365h5.6M332.2 365h5.6M344.9 365h5.6M357.6 365h5.6M370.3 365h5.6M383.0 365h5.6M395.7 365h5.6M408.4 365h5.6M421.1 365h5.6M433.8 365h5.6M446.5 365h5.6M459.2 365h5.6M471.9 365h5.6M484.6 365h5.6M497.3 365h5.6M510.0 365h5.6M522.7 365h5.6M535.4 365h5.6M548.1 365h5.6M560.8 365h5.6M573.5 365h5.6M586.2 365h5.6M598.9 365h5.6" stroke="#2f80c0" stroke-width="2.2" fill="none"/><path d="M155,365 C156,362 160,360.5 164,360.5 C166,360.5 167.5,362 168,365Z" fill="#111"/><path d="M177,365 L181,361 C184,358 188,357 191,357 C191.5,354.5 193.5,353 196,353.5 C198,354 199,355.5 199.5,357 L198,358 C197.5,361 196,363.5 193,365Z" fill="#111"/><path d="M463,364 C464,361 468,359.5 474,359.8 L478,359.8 C479.5,358 483.5,358 484.5,360 L486.5,364Z" fill="#4a4a4a"/><path d="M507,364 C507,360 510,357.5 514,358 C517,358.5 520,359 522,360 L525,361 L526,364Z" fill="#4a4a4a"/><path d="M541,364 C541.5,360.5 545,358 551,357 C554,352.5 562,349 569,350 C573,351 575.5,354 577,357.5 C577,350 575,343 577,339 C579,335 585,334 588,338 L590.5,343.5 L585,340.5 C582,340 581,344 581,350 C581,356 582,360 582,364Z" fill="#7a7a7a"/><g stroke="#4a7fc0" stroke-width="1.7" fill="none" stroke-linecap="round" stroke-linejoin="round">
<path d="M528.7,332.5 L536,325.5 L544.4,332.5"/><path d="M536,326 C540,331 541,335 537,340 C532,346 534,349 537.5,353 C539,356 536,359 535,362"/>
<path d="M554.7,332.5 L562,325.5 L570.4,332.5"/><path d="M562,326 C566,331 567,335 563,340 C558,346 560,349 563.5,353 C565,356 562,359 561,362"/>
</g><path d="M540,380 C520,376 495,370 478,372 C468,374 470,384 477,385.5 C484,387 490,387.5 496.5,387.5 M487.5,380 L496.5,387.5 L488,397" stroke="#eef7f3" stroke-width="1.3" fill="none" stroke-linecap="round" stroke-linejoin="round" opacity="0.95"/><g stroke="#555" stroke-width="1" fill="none">
<polyline points="227.5,208.5 248.5,208.5 248.5,376"/>
<polyline points="371.5,207.5 393,207.5 393,380"/>
<polyline points="553,206.5 575.8,206.5 575.8,391"/>
<polyline points="403,426.5 424.5,426.5 424.5,411"/>
</g><g fill="#3d3f44" stroke="#3d3f44" stroke-linejoin="round" stroke-linecap="round">
<path d="M76.5,30.5 C84,29.8 92,29.5 98.5,29.3 C97,31 93,31.8 88,32.2 C92,34 95,35.5 97.5,37.3 L96.5,38.3 C92,36.5 88,35 85,33.5 C85.5,37 85.5,41 84.3,44.5 C83,46 80.5,45.5 80,44 C79.3,40 79.5,36 79.8,32.8 L77,32.8Z" stroke-width="0.8"/>
<path d="M100,74.5 C102,72.5 104.5,71 106.5,70 L108.5,67.8 L109.5,68.5 L107.5,71.5 C107,74 106.8,76.5 105.8,79 C104.8,79.8 103.5,79.2 103.2,78 L102.5,75.5Z" stroke-width="0.8"/>
</g><g fill="#444"><ellipse cx="260" cy="181.7" rx="1.4" ry="1.1" transform="rotate(-38 260 181.7)"/><ellipse cx="276.7" cy="193.3" rx="1.1" ry="1.0" transform="rotate(-1 276.7 193.3)"/><ellipse cx="110.7" cy="240" rx="1.3" ry="0.8" transform="rotate(-32 110.7 240)"/><ellipse cx="155" cy="237.7" rx="1.3" ry="1.0" transform="rotate(-26 155 237.7)"/><ellipse cx="176.7" cy="246" rx="1.1" ry="0.9" transform="rotate(0 176.7 246)"/><ellipse cx="186" cy="247.7" rx="1.2" ry="1.1" transform="rotate(10 186 247.7)"/><ellipse cx="175" cy="250.7" rx="1.2" ry="0.8" transform="rotate(25 175 250.7)"/><ellipse cx="226.7" cy="240" rx="1.3" ry="0.8" transform="rotate(-5 226.7 240)"/><ellipse cx="244" cy="240" rx="1.2" ry="0.7" transform="rotate(15 244 240)"/><ellipse cx="251.7" cy="240" rx="1.0" ry="0.9" transform="rotate(-31 251.7 240)"/><ellipse cx="261.7" cy="247.3" rx="1.4" ry="1.0" transform="rotate(6 261.7 247.3)"/><ellipse cx="269.3" cy="239" rx="1.5" ry="1.0" transform="rotate(-10 269.3 239)"/><ellipse cx="255.7" cy="260.7" rx="1.1" ry="0.7" transform="rotate(-40 255.7 260.7)"/><ellipse cx="86" cy="268.3" rx="1.2" ry="1.1" transform="rotate(0 86 268.3)"/><ellipse cx="100" cy="276" rx="0.9" ry="0.8" transform="rotate(0 100 276)"/><ellipse cx="110.7" cy="270.7" rx="1.3" ry="1.0" transform="rotate(24 110.7 270.7)"/><ellipse cx="128" cy="274.3" rx="1.5" ry="1.0" transform="rotate(13 128 274.3)"/><ellipse cx="130" cy="279.3" rx="1.3" ry="0.9" transform="rotate(-31 130 279.3)"/><ellipse cx="315" cy="190" rx="1.1" ry="1.0" transform="rotate(14 315 190)"/><ellipse cx="318.3" cy="197.3" rx="0.9" ry="1.1" transform="rotate(-35 318.3 197.3)"/><ellipse cx="291.7" cy="186" rx="1.4" ry="0.9" transform="rotate(-27 291.7 186)"/><ellipse cx="281.7" cy="190.7" rx="0.9" ry="1.1" transform="rotate(13 281.7 190.7)"/><ellipse cx="320" cy="243.3" rx="1.4" ry="1.0" transform="rotate(-13 320 243.3)"/><ellipse cx="310" cy="246.7" rx="1.3" ry="0.9" transform="rotate(25 310 246.7)"/><ellipse cx="300" cy="256.7" rx="1.3" ry="0.9" transform="rotate(28 300 256.7)"/><ellipse cx="370" cy="237.3" rx="1.3" ry="0.7" transform="rotate(10 370 237.3)"/><ellipse cx="396" cy="236" rx="1.4" ry="0.9" transform="rotate(-9 396 236)"/><ellipse cx="424" cy="249.3" rx="1.3" ry="0.7" transform="rotate(25 424 249.3)"/><ellipse cx="429" cy="240" rx="1.2" ry="0.9" transform="rotate(5 429 240)"/><ellipse cx="453.3" cy="243.3" rx="1.0" ry="1.0" transform="rotate(5 453.3 243.3)"/><ellipse cx="461.7" cy="239" rx="1.6" ry="1.1" transform="rotate(-35 461.7 239)"/><ellipse cx="405" cy="271.7" rx="1.6" ry="1.0" transform="rotate(35 405 271.7)"/><ellipse cx="398.3" cy="275" rx="1.2" ry="1.1" transform="rotate(31 398.3 275)"/><ellipse cx="426.7" cy="275" rx="1.3" ry="0.8" transform="rotate(21 426.7 275)"/><ellipse cx="428.3" cy="280" rx="1.0" ry="0.7" transform="rotate(21 428.3 280)"/><ellipse cx="386.7" cy="266.7" rx="1.6" ry="1.0" transform="rotate(-20 386.7 266.7)"/><ellipse cx="358.3" cy="275" rx="1.5" ry="1.0" transform="rotate(30 358.3 275)"/><ellipse cx="511.7" cy="311.7" rx="1.0" ry="1.0" transform="rotate(-3 511.7 311.7)"/><ellipse cx="530.8" cy="314" rx="1.2" ry="1.0" transform="rotate(18 530.8 314)"/><ellipse cx="532.5" cy="312" rx="1.0" ry="0.9" transform="rotate(-38 532.5 312)"/><ellipse cx="535.8" cy="311.3" rx="1.2" ry="0.8" transform="rotate(-37 535.8 311.3)"/><ellipse cx="466.5" cy="310" rx="1.6" ry="0.8" transform="rotate(11 466.5 310)"/><ellipse cx="486" cy="309" rx="1.3" ry="1.1" transform="rotate(26 486 309)"/><ellipse cx="492" cy="315" rx="1.4" ry="0.9" transform="rotate(32 492 315)"/><ellipse cx="529.5" cy="314.5" rx="1.2" ry="1.0" transform="rotate(4 529.5 314.5)"/><ellipse cx="22" cy="302" rx="1.6" ry="0.9" transform="rotate(-14 22 302)"/><ellipse cx="14" cy="306" rx="1.2" ry="1.1" transform="rotate(-7 14 306)"/><ellipse cx="27" cy="312" rx="1.2" ry="0.8" transform="rotate(-36 27 312)"/><ellipse cx="48" cy="303" rx="1.6" ry="0.9" transform="rotate(25 48 303)"/><ellipse cx="62" cy="305" rx="1.4" ry="0.9" transform="rotate(-32 62 305)"/><ellipse cx="73" cy="313" rx="1.5" ry="0.8" transform="rotate(22 73 313)"/><ellipse cx="88" cy="308" rx="1.5" ry="0.7" transform="rotate(-2 88 308)"/><ellipse cx="66" cy="320" rx="1.1" ry="0.7" transform="rotate(37 66 320)"/><ellipse cx="95" cy="314" rx="1.5" ry="1.0" transform="rotate(-14 95 314)"/><ellipse cx="36" cy="318" rx="1.6" ry="0.8" transform="rotate(-29 36 318)"/></g><path d="M500,333 L503,335.5 L506,332.5 L505.5,336.5 L503,338 L500.5,336.5Z M506,318 L508.5,320 L511,317.5 L510.5,321 L508.5,322 L506.5,321Z" fill="#444"/><path d="M597,330 L600,327" stroke="#4a7fc0" stroke-width="1.6"/><path d="M302.3 496V597M549.7 496V597M393.5 496V597M125.7 496V597M559.2 496V597M9.8 496V597M19.4 496V597M209.7 496V597M500.9 496V597M207.7 496V597M198.8 496V597M474.6 496V597M144.1 496V597M281.8 496V597M286.1 496V597M476.8 496V597M11.1 496V597M120.0 496V597M227.1 496V597M412.5 496V597M288.6 496V597M355.1 496V597M96.5 496V597M249.4 496V597M222.7 496V597M328.5 496V597M404.0 496V597M7.6 496V597M62.1 496V597M157.6 496V597M34.5 496V597M572.4 496V597M573.2 496V597M174.0 496V597M192.7 496V597M394.9 496V597M598.1 496V597M177.5 496V597M595.5 496V597M304.4 496V597M446.6 496V597M21.9 496V597M338.2 496V597M551.0 496V597M505.8 496V597M340.8 496V597M297.6 496V597M378.7 496V597M142.1 496V597M306.0 496V597M81.1 496V597M226.5 496V597M235.0 496V597M7.9 496V597M479.0 496V597M463.2 496V597M149.2 496V597M131.9 496V597M402.8 496V597M16.5 496V597M348.2 496V597M174.6 496V597M187.7 496V597M369.1 496V597M371.1 496V597M135.6 496V597M10.7 496V597M415.0 496V597M428.3 496V597M63.8 496V597M595.0 496V597M339.8 496V597M386.3 496V597M188.5 496V597M162.9 496V597M452.8 496V597M91.6 496V597M371.5 496V597M415.9 496V597M215.5 496V597M313.1 496V597M479.1 496V597M94.1 496V597M202.1 496V597M271.4 496V597M196.4 496V597M242.5 496V597M2.5 496V597M76.4 496V597M22.4 496V597M134.7 496V597M572.4 496V597M23.4 496V597M229.3 496V597M280.9 496V597M511.9 496V597M585.4 496V597M61.3 496V597M215.7 496V597M395.6 496V597M311.2 496V597M441.9 496V597M495.6 496V597M61.4 496V597M309.9 496V597M377.4 496V597M463.3 496V597M304.1 496V597M544.9 496V597M202.1 496V597M247.7 496V597M258.8 496V597M425.8 496V597M480.6 496V597M509.9 496V597M130.5 496V597M76.3 496V597M316.3 496V597M176.3 496V597M165.2 496V597M380.9 496V597M20.2 496V597M334.1 496V597M479.8 496V597M249.8 496V597M195.8 496V597M284.2 496V597M366.9 496V597M497.5 496V597M486.2 496V597M513.3 496V597M169.1 496V597M181.8 496V597M8.9 496V597M96.0 496V597M586.2 496V597M416.4 496V597M89.5 496V597M322.0 496V597M501.8 496V597M114.8 496V597M42.3 496V597M521.0 496V597M140.8 496V597M46.1 496V597M220.2 496V597M135.8 496V597M44.2 496V597M501.3 496V597M65.9 496V597M319.8 496V597M417.3 496V597M228.2 496V597M228.4 496V597M352.3 496V597M73.1 496V597M158.1 496V597M72.9 496V597M457.3 496V597M401.7 496V597" stroke="#ececec" stroke-width="0.7" fill="none"/><path d="M0.0 497h1.5" stroke="rgb(197,197,197)" stroke-width="0.50"/><path d="M2.6 497h1.5" stroke="rgb(197,197,197)" stroke-width="0.50"/><path d="M5.2 497h1.5" stroke="rgb(197,197,197)" stroke-width="0.50"/><path d="M7.8 497h1.5" stroke="rgb(197,197,197)" stroke-width="0.50"/><path d="M10.4 497h1.5" stroke="rgb(197,197,197)" stroke-width="0.50"/><path d="M13.0 497h1.5" stroke="rgb(197,197,197)" stroke-width="0.50"/><path d="M15.6 497h1.5" stroke="rgb(197,197,197)" stroke-width="0.50"/><path d="M18.2 497h1.5" stroke="rgb(197,197,197)" stroke-width="0.50"/><path d="M20.8 497h1.5" stroke="rgb(197,197,197)" stroke-width="0.50"/><path d="M23.4 497h1.5" stroke="rgb(197,197,197)" stroke-width="0.50"/><path d="M26.0 497h1.5" stroke="rgb(197,197,197)" stroke-width="0.50"/><path d="M28.6 497h1.5" stroke="rgb(197,197,197)" stroke-width="0.50"/><path d="M31.2 497h1.5" stroke="rgb(197,197,197)" stroke-width="0.50"/><path d="M33.8 497h1.5" stroke="rgb(197,197,197)" stroke-width="0.50"/><path d="M36.4 497h1.5" stroke="rgb(197,197,197)" stroke-width="0.50"/><path d="M38.6 497h28.5" stroke="rgb(210,210,210)" stroke-width="0.50"/><path d="M67.1 497h71.1" stroke="rgb(203,203,203)" stroke-width="0.50"/><path d="M138.2 497h18.7" stroke="rgb(188,188,188)" stroke-width="0.50"/><path d="M156.9 497h1.5" stroke="rgb(204,204,204)" stroke-width="0.50"/><path d="M159.5 497h1.5" stroke="rgb(204,204,204)" stroke-width="0.50"/><path d="M162.1 497h1.5" stroke="rgb(204,204,204)" stroke-width="0.50"/><path d="M164.7 497h1.5" stroke="rgb(204,204,204)" stroke-width="0.50"/><path d="M167.3 497h1.5" stroke="rgb(204,204,204)" stroke-width="0.50"/><path d="M169.9 497h1.5" stroke="rgb(204,204,204)" stroke-width="0.50"/><path d="M172.5 497h1.5" stroke="rgb(204,204,204)" stroke-width="0.50"/><path d="M175.1 497h1.5" stroke="rgb(204,204,204)" stroke-width="0.50"/><path d="M177.7 497h1.5" stroke="rgb(204,204,204)" stroke-width="0.50"/><path d="M180.3 497h1.5" stroke="rgb(204,204,204)" stroke-width="0.50"/><path d="M182.9 497h1.5" stroke="rgb(204,204,204)" stroke-width="0.50"/><path d="M185.5 497h1.5" stroke="rgb(204,204,204)" stroke-width="0.50"/><path d="M188.1 497h1.5" stroke="rgb(204,204,204)" stroke-width="0.50"/><path d="M190.7 497h1.5" stroke="rgb(204,204,204)" stroke-width="0.50"/><path d="M193.3 497h1.5" stroke="rgb(204,204,204)" stroke-width="0.50"/><path d="M195.9 497h1.5" stroke="rgb(204,204,204)" stroke-width="0.50"/><path d="M198.5 497h1.5" stroke="rgb(204,204,204)" stroke-width="0.50"/><path d="M201.1 497h1.5" stroke="rgb(204,204,204)" stroke-width="0.50"/><path d="M203.7 497h1.5" stroke="rgb(204,204,204)" stroke-width="0.50"/><path d="M206.3 497h1.5" stroke="rgb(204,204,204)" stroke-width="0.50"/><path d="M208.9 497h1.5" stroke="rgb(204,204,204)" stroke-width="0.50"/><path d="M211.5 497h1.5" stroke="rgb(204,204,204)" stroke-width="0.50"/><path d="M214.1 497h1.5" stroke="rgb(204,204,204)" stroke-width="0.50"/><path d="M216.7 497h1.5" stroke="rgb(204,204,204)" stroke-width="0.50"/><path d="M219.3 497h1.5" stroke="rgb(204,204,204)" stroke-width="0.50"/><path d="M221.9 497h1.5" stroke="rgb(204,204,204)" stroke-width="0.50"/><path d="M223.2 497h32.1" stroke="rgb(197,197,197)" stroke-width="0.50"/><path d="M255.3 497h57.4" stroke="rgb(189,189,189)" stroke-width="0.50"/><path d="M312.6 497h60.8" stroke="rgb(198,198,198)" stroke-width="0.50"/><path d="M373.5 497h56.8" stroke="rgb(191,191,191)" stroke-width="0.50"/><path d="M430.3 497h77.8" stroke="rgb(192,192,192)" stroke-width="0.50"/><path d="M508.1 497h29.7" stroke="rgb(191,191,191)" stroke-width="0.50"/><path d="M537.8 497h46.1" stroke="rgb(188,188,188)" stroke-width="0.50"/><path d="M583.9 497h80.0" stroke="rgb(202,202,202)" stroke-width="0.50"/><path d="M0.0 500.6h31.8" stroke="rgb(130,130,130)" stroke-width="1.30"/><path d="M31.8 500.6h58.8" stroke="rgb(127,127,127)" stroke-width="1.30"/><path d="M90.7 500.6h54.5" stroke="rgb(134,134,134)" stroke-width="1.30"/><path d="M145.2 500.6h56.8" stroke="rgb(129,129,129)" stroke-width="1.30"/><path d="M202.0 500.6h12.7" stroke="rgb(131,131,131)" stroke-width="1.30"/><path d="M214.7 500.6h50.1" stroke="rgb(128,128,128)" stroke-width="1.30"/><path d="M264.8 500.6h66.5" stroke="rgb(148,148,148)" stroke-width="1.30"/><path d="M331.2 500.6h17.0" stroke="rgb(141,141,141)" stroke-width="1.30"/><path d="M348.2 500.6h1.5" stroke="rgb(126,126,126)" stroke-width="1.30"/><path d="M350.8 500.6h1.5" stroke="rgb(126,126,126)" stroke-width="1.30"/><path d="M353.4 500.6h1.5" stroke="rgb(126,126,126)" stroke-width="1.30"/><path d="M356.0 500.6h1.5" stroke="rgb(126,126,126)" stroke-width="1.30"/><path d="M358.6 500.6h1.5" stroke="rgb(126,126,126)" stroke-width="1.30"/><path d="M361.2 500.6h1.5" stroke="rgb(126,126,126)" stroke-width="1.30"/><path d="M363.8 500.6h1.5" stroke="rgb(126,126,126)" stroke-width="1.30"/><path d="M366.4 500.6h1.5" stroke="rgb(126,126,126)" stroke-width="1.30"/><path d="M369.0 500.6h1.5" stroke="rgb(126,126,126)" stroke-width="1.30"/><path d="M371.6 500.6h1.5" stroke="rgb(126,126,126)" stroke-width="1.30"/><path d="M374.2 500.6h1.5" stroke="rgb(126,126,126)" stroke-width="1.30"/><path d="M376.8 500.6h1.5" stroke="rgb(126,126,126)" stroke-width="1.30"/><path d="M379.4 500.6h1.5" stroke="rgb(126,126,126)" stroke-width="1.30"/><path d="M382.0 500.6h1.5" stroke="rgb(126,126,126)" stroke-width="1.30"/><path d="M384.6 500.6h1.5" stroke="rgb(126,126,126)" stroke-width="1.30"/><path d="M387.2 500.6h1.5" stroke="rgb(126,126,126)" stroke-width="1.30"/><path d="M389.8 500.6h1.5" stroke="rgb(126,126,126)" stroke-width="1.30"/><path d="M390.4 500.6h23.9" stroke="rgb(128,128,128)" stroke-width="1.30"/><path d="M414.2 500.6h34.8" stroke="rgb(132,132,132)" stroke-width="1.30"/><path d="M449.0 500.6h43.2" stroke="rgb(144,144,144)" stroke-width="1.30"/><path d="M492.1 500.6h33.0" stroke="rgb(135,135,135)" stroke-width="1.30"/><path d="M525.1 500.6h65.3" stroke="rgb(134,134,134)" stroke-width="1.30"/><path d="M590.4 500.6h11.9" stroke="rgb(126,126,126)" stroke-width="1.30"/><path d="M0.0 504.4h75.6" stroke="rgb(146,146,146)" stroke-width="1.10"/><path d="M75.6 504.4h53.9" stroke="rgb(157,157,157)" stroke-width="1.10"/><path d="M129.5 504.4h46.8" stroke="rgb(138,138,138)" stroke-width="1.10"/><path d="M176.3 504.4h1.5" stroke="rgb(157,157,157)" stroke-width="1.10"/><path d="M178.9 504.4h1.5" stroke="rgb(157,157,157)" stroke-width="1.10"/><path d="M181.5 504.4h1.5" stroke="rgb(157,157,157)" stroke-width="1.10"/><path d="M184.1 504.4h1.5" stroke="rgb(157,157,157)" stroke-width="1.10"/><path d="M186.7 504.4h1.5" stroke="rgb(157,157,157)" stroke-width="1.10"/><path d="M189.3 504.4h1.5" stroke="rgb(157,157,157)" stroke-width="1.10"/><path d="M191.9 504.4h1.5" stroke="rgb(157,157,157)" stroke-width="1.10"/><path d="M194.5 504.4h1.5" stroke="rgb(157,157,157)" stroke-width="1.10"/><path d="M197.1 504.4h1.5" stroke="rgb(157,157,157)" stroke-width="1.10"/><path d="M199.7 504.4h1.5" stroke="rgb(157,157,157)" stroke-width="1.10"/><path d="M202.3 504.4h1.5" stroke="rgb(157,157,157)" stroke-width="1.10"/><path d="M202.4 504.4h26.0" stroke="rgb(161,161,161)" stroke-width="1.10"/><path d="M228.4 504.4h53.0" stroke="rgb(140,140,140)" stroke-width="1.10"/><path d="M281.4 504.4h1.5" stroke="rgb(147,147,147)" stroke-width="1.10"/><path d="M284.0 504.4h1.5" stroke="rgb(147,147,147)" stroke-width="1.10"/><path d="M286.6 504.4h1.5" stroke="rgb(147,147,147)" stroke-width="1.10"/><path d="M289.2 504.4h1.5" stroke="rgb(147,147,147)" stroke-width="1.10"/><path d="M291.8 504.4h1.5" stroke="rgb(147,147,147)" stroke-width="1.10"/><path d="M294.4 504.4h1.5" stroke="rgb(147,147,147)" stroke-width="1.10"/><path d="M297.0 504.4h1.5" stroke="rgb(147,147,147)" stroke-width="1.10"/><path d="M299.6 504.4h1.5" stroke="rgb(147,147,147)" stroke-width="1.10"/><path d="M302.2 504.4h1.5" stroke="rgb(147,147,147)" stroke-width="1.10"/><path d="M304.8 504.4h1.5" stroke="rgb(147,147,147)" stroke-width="1.10"/><path d="M307.4 504.4h1.5" stroke="rgb(147,147,147)" stroke-width="1.10"/><path d="M310.0 504.4h1.5" stroke="rgb(147,147,147)" stroke-width="1.10"/><path d="M312.6 504.4h1.5" stroke="rgb(147,147,147)" stroke-width="1.10"/><path d="M315.2 504.4h1.5" stroke="rgb(147,147,147)" stroke-width="1.10"/><path d="M317.8 504.4h1.5" stroke="rgb(147,147,147)" stroke-width="1.10"/><path d="M320.4 504.4h1.5" stroke="rgb(147,147,147)" stroke-width="1.10"/><path d="M323.0 504.4h1.5" stroke="rgb(147,147,147)" stroke-width="1.10"/><path d="M325.6 504.4h1.5" stroke="rgb(147,147,147)" stroke-width="1.10"/><path d="M328.2 504.4h1.5" stroke="rgb(147,147,147)" stroke-width="1.10"/><path d="M330.8 504.4h1.5" stroke="rgb(147,147,147)" stroke-width="1.10"/><path d="M333.4 504.4h1.5" stroke="rgb(147,147,147)" stroke-width="1.10"/><path d="M335.5 504.4h68.3" stroke="rgb(138,138,138)" stroke-width="1.10"/><path d="M403.9 504.4h39.9" stroke="rgb(163,163,163)" stroke-width="1.10"/><path d="M443.7 504.4h26.4" stroke="rgb(140,140,140)" stroke-width="1.10"/><path d="M470.1 504.4h49.0" stroke="rgb(149,149,149)" stroke-width="1.10"/><path d="M519.1 504.4h1.5" stroke="rgb(145,145,145)" stroke-width="1.10"/><path d="M521.7 504.4h1.5" stroke="rgb(145,145,145)" stroke-width="1.10"/><path d="M524.3 504.4h1.5" stroke="rgb(145,145,145)" stroke-width="1.10"/><path d="M526.9 504.4h1.5" stroke="rgb(145,145,145)" stroke-width="1.10"/><path d="M529.5 504.4h1.5" stroke="rgb(145,145,145)" stroke-width="1.10"/><path d="M532.1 504.4h1.5" stroke="rgb(145,145,145)" stroke-width="1.10"/><path d="M534.7 504.4h1.5" stroke="rgb(145,145,145)" stroke-width="1.10"/><path d="M537.3 504.4h1.5" stroke="rgb(145,145,145)" stroke-width="1.10"/><path d="M539.9 504.4h1.5" stroke="rgb(145,145,145)" stroke-width="1.10"/><path d="M542.5 504.4h1.5" stroke="rgb(145,145,145)" stroke-width="1.10"/><path d="M545.1 504.4h1.5" stroke="rgb(145,145,145)" stroke-width="1.10"/><path d="M547.7 504.4h1.5" stroke="rgb(145,145,145)" stroke-width="1.10"/><path d="M550.3 504.4h1.5" stroke="rgb(145,145,145)" stroke-width="1.10"/><path d="M552.9 504.4h1.5" stroke="rgb(145,145,145)" stroke-width="1.10"/><path d="M555.5 504.4h1.5" stroke="rgb(145,145,145)" stroke-width="1.10"/><path d="M558.1 504.4h1.5" stroke="rgb(145,145,145)" stroke-width="1.10"/><path d="M560.7 504.4h1.5" stroke="rgb(145,145,145)" stroke-width="1.10"/><path d="M563.3 504.4h1.5" stroke="rgb(145,145,145)" stroke-width="1.10"/><path d="M565.9 504.4h1.5" stroke="rgb(145,145,145)" stroke-width="1.10"/><path d="M568.5 504.4h1.5" stroke="rgb(145,145,145)" stroke-width="1.10"/><path d="M571.1 504.4h1.5" stroke="rgb(145,145,145)" stroke-width="1.10"/><path d="M573.7 504.4h1.5" stroke="rgb(145,145,145)" stroke-width="1.10"/><path d="M576.3 504.4h1.5" stroke="rgb(145,145,145)" stroke-width="1.10"/><path d="M578.9 504.4h1.5" stroke="rgb(145,145,145)" stroke-width="1.10"/><path d="M581.5 504.4h1.5" stroke="rgb(145,145,145)" stroke-width="1.10"/><path d="M584.1 504.4h1.5" stroke="rgb(145,145,145)" stroke-width="1.10"/><path d="M586.7 504.4h1.5" stroke="rgb(145,145,145)" stroke-width="1.10"/><path d="M589.3 504.4h1.5" stroke="rgb(145,145,145)" stroke-width="1.10"/><path d="M591.9 504.4h1.5" stroke="rgb(145,145,145)" stroke-width="1.10"/><path d="M594.5 504.4h1.5" stroke="rgb(145,145,145)" stroke-width="1.10"/><path d="M595.4 504.4h1.5" stroke="rgb(140,140,140)" stroke-width="1.10"/><path d="M598.0 504.4h1.5" stroke="rgb(140,140,140)" stroke-width="1.10"/><path d="M600.6 504.4h1.5" stroke="rgb(140,140,140)" stroke-width="1.10"/><path d="M603.2 504.4h1.5" stroke="rgb(140,140,140)" stroke-width="1.10"/><path d="M605.8 504.4h1.5" stroke="rgb(140,140,140)" stroke-width="1.10"/><path d="M608.4 504.4h1.5" stroke="rgb(140,140,140)" stroke-width="1.10"/><path d="M611.0 504.4h1.5" stroke="rgb(140,140,140)" stroke-width="1.10"/><path d="M613.6 504.4h1.5" stroke="rgb(140,140,140)" stroke-width="1.10"/><path d="M616.2 504.4h1.5" stroke="rgb(140,140,140)" stroke-width="1.10"/><path d="M618.8 504.4h1.5" stroke="rgb(140,140,140)" stroke-width="1.10"/><path d="M621.4 504.4h1.5" stroke="rgb(140,140,140)" stroke-width="1.10"/><path d="M624.0 504.4h1.5" stroke="rgb(140,140,140)" stroke-width="1.10"/><path d="M626.6 504.4h1.5" stroke="rgb(140,140,140)" stroke-width="1.10"/><path d="M629.2 504.4h1.5" stroke="rgb(140,140,140)" stroke-width="1.10"/><path d="M631.8 504.4h1.5" stroke="rgb(140,140,140)" stroke-width="1.10"/><path d="M634.4 504.4h1.5" stroke="rgb(140,140,140)" stroke-width="1.10"/><path d="M637.0 504.4h1.5" stroke="rgb(140,140,140)" stroke-width="1.10"/><path d="M639.6 504.4h1.5" stroke="rgb(140,140,140)" stroke-width="1.10"/><path d="M642.2 504.4h1.5" stroke="rgb(140,140,140)" stroke-width="1.10"/><path d="M644.8 504.4h1.5" stroke="rgb(140,140,140)" stroke-width="1.10"/><path d="M647.4 504.4h1.5" stroke="rgb(140,140,140)" stroke-width="1.10"/><path d="M650.0 504.4h1.5" stroke="rgb(140,140,140)" stroke-width="1.10"/><path d="M652.6 504.4h1.5" stroke="rgb(140,140,140)" stroke-width="1.10"/><path d="M655.2 504.4h1.5" stroke="rgb(140,140,140)" stroke-width="1.10"/><path d="M657.8 504.4h1.5" stroke="rgb(140,140,140)" stroke-width="1.10"/><path d="M660.4 504.4h1.5" stroke="rgb(140,140,140)" stroke-width="1.10"/><path d="M663.0 504.4h1.5" stroke="rgb(140,140,140)" stroke-width="1.10"/><path d="M0.0 508.4h47.4" stroke="rgb(150,150,150)" stroke-width="1.10"/><path d="M47.4 508.4h1.5" stroke="rgb(163,163,163)" stroke-width="1.10"/><path d="M50.0 508.4h1.5" stroke="rgb(163,163,163)" stroke-width="1.10"/><path d="M52.6 508.4h1.5" stroke="rgb(163,163,163)" stroke-width="1.10"/><path d="M55.2 508.4h1.5" stroke="rgb(163,163,163)" stroke-width="1.10"/><path d="M57.8 508.4h1.5" stroke="rgb(163,163,163)" stroke-width="1.10"/><path d="M60.4 508.4h1.5" stroke="rgb(163,163,163)" stroke-width="1.10"/><path d="M63.0 508.4h1.5" stroke="rgb(163,163,163)" stroke-width="1.10"/><path d="M65.6 508.4h1.5" stroke="rgb(163,163,163)" stroke-width="1.10"/><path d="M68.2 508.4h1.5" stroke="rgb(163,163,163)" stroke-width="1.10"/><path d="M70.8 508.4h1.5" stroke="rgb(163,163,163)" stroke-width="1.10"/><path d="M73.4 508.4h1.5" stroke="rgb(163,163,163)" stroke-width="1.10"/><path d="M76.0 508.4h1.5" stroke="rgb(163,163,163)" stroke-width="1.10"/><path d="M78.0 508.4h1.5" stroke="rgb(150,150,150)" stroke-width="1.10"/><path d="M80.6 508.4h1.5" stroke="rgb(150,150,150)" stroke-width="1.10"/><path d="M83.2 508.4h1.5" stroke="rgb(150,150,150)" stroke-width="1.10"/><path d="M85.8 508.4h1.5" stroke="rgb(150,150,150)" stroke-width="1.10"/><path d="M88.4 508.4h1.5" stroke="rgb(150,150,150)" stroke-width="1.10"/><path d="M91.0 508.4h1.5" stroke="rgb(150,150,150)" stroke-width="1.10"/><path d="M93.6 508.4h1.5" stroke="rgb(150,150,150)" stroke-width="1.10"/><path d="M96.2 508.4h1.5" stroke="rgb(150,150,150)" stroke-width="1.10"/><path d="M98.8 508.4h1.5" stroke="rgb(150,150,150)" stroke-width="1.10"/><path d="M101.4 508.4h1.5" stroke="rgb(150,150,150)" stroke-width="1.10"/><path d="M104.0 508.4h1.5" stroke="rgb(150,150,150)" stroke-width="1.10"/><path d="M106.6 508.4h1.5" stroke="rgb(150,150,150)" stroke-width="1.10"/><path d="M109.2 508.4h1.5" stroke="rgb(150,150,150)" stroke-width="1.10"/><path d="M110.6 508.4h1.5" stroke="rgb(138,138,138)" stroke-width="1.10"/><path d="M113.2 508.4h1.5" stroke="rgb(138,138,138)" stroke-width="1.10"/><path d="M115.8 508.4h1.5" stroke="rgb(138,138,138)" stroke-width="1.10"/><path d="M118.4 508.4h1.5" stroke="rgb(138,138,138)" stroke-width="1.10"/><path d="M121.0 508.4h1.5" stroke="rgb(138,138,138)" stroke-width="1.10"/><path d="M123.6 508.4h1.5" stroke="rgb(138,138,138)" stroke-width="1.10"/><path d="M126.2 508.4h1.5" stroke="rgb(138,138,138)" stroke-width="1.10"/><path d="M128.8 508.4h1.5" stroke="rgb(138,138,138)" stroke-width="1.10"/><path d="M131.4 508.4h1.5" stroke="rgb(138,138,138)" stroke-width="1.10"/><path d="M134.0 508.4h1.5" stroke="rgb(138,138,138)" stroke-width="1.10"/><path d="M136.6 508.4h1.5" stroke="rgb(138,138,138)" stroke-width="1.10"/><path d="M139.2 508.4h1.5" stroke="rgb(138,138,138)" stroke-width="1.10"/><path d="M141.8 508.4h1.5" stroke="rgb(138,138,138)" stroke-width="1.10"/><path d="M144.4 508.4h1.5" stroke="rgb(138,138,138)" stroke-width="1.10"/><path d="M147.0 508.4h1.5" stroke="rgb(138,138,138)" stroke-width="1.10"/><path d="M149.6 508.4h1.5" stroke="rgb(138,138,138)" stroke-width="1.10"/><path d="M152.2 508.4h1.5" stroke="rgb(138,138,138)" stroke-width="1.10"/><path d="M154.8 508.4h1.5" stroke="rgb(138,138,138)" stroke-width="1.10"/><path d="M157.4 508.4h1.5" stroke="rgb(138,138,138)" stroke-width="1.10"/><path d="M160.0 508.4h1.5" stroke="rgb(138,138,138)" stroke-width="1.10"/><path d="M162.6 508.4h1.5" stroke="rgb(138,138,138)" stroke-width="1.10"/><path d="M165.2 508.4h1.5" stroke="rgb(138,138,138)" stroke-width="1.10"/><path d="M167.8 508.4h1.5" stroke="rgb(138,138,138)" stroke-width="1.10"/><path d="M170.4 508.4h1.5" stroke="rgb(138,138,138)" stroke-width="1.10"/><path d="M173.0 508.4h1.5" stroke="rgb(138,138,138)" stroke-width="1.10"/><path d="M175.6 508.4h1.5" stroke="rgb(138,138,138)" stroke-width="1.10"/><path d="M178.2 508.4h1.5" stroke="rgb(138,138,138)" stroke-width="1.10"/><path d="M180.8 508.4h1.5" stroke="rgb(138,138,138)" stroke-width="1.10"/><path d="M183.4 508.4h1.5" stroke="rgb(138,138,138)" stroke-width="1.10"/><path d="M185.8 508.4h40.9" stroke="rgb(154,154,154)" stroke-width="1.10"/><path d="M226.6 508.4h52.0" stroke="rgb(166,166,166)" stroke-width="1.10"/><path d="M278.6 508.4h64.2" stroke="rgb(158,158,158)" stroke-width="1.10"/><path d="M342.8 508.4h46.3" stroke="rgb(146,146,146)" stroke-width="1.10"/><path d="M389.1 508.4h1.5" stroke="rgb(152,152,152)" stroke-width="1.10"/><path d="M391.7 508.4h1.5" stroke="rgb(152,152,152)" stroke-width="1.10"/><path d="M394.3 508.4h1.5" stroke="rgb(152,152,152)" stroke-width="1.10"/><path d="M396.9 508.4h1.5" stroke="rgb(152,152,152)" stroke-width="1.10"/><path d="M399.5 508.4h1.5" stroke="rgb(152,152,152)" stroke-width="1.10"/><path d="M402.1 508.4h1.5" stroke="rgb(152,152,152)" stroke-width="1.10"/><path d="M404.7 508.4h1.5" stroke="rgb(152,152,152)" stroke-width="1.10"/><path d="M407.3 508.4h1.5" stroke="rgb(152,152,152)" stroke-width="1.10"/><path d="M409.9 508.4h1.5" stroke="rgb(152,152,152)" stroke-width="1.10"/><path d="M412.5 508.4h1.5" stroke="rgb(152,152,152)" stroke-width="1.10"/><path d="M415.1 508.4h1.5" stroke="rgb(152,152,152)" stroke-width="1.10"/><path d="M417.7 508.4h1.5" stroke="rgb(152,152,152)" stroke-width="1.10"/><path d="M420.3 508.4h1.5" stroke="rgb(152,152,152)" stroke-width="1.10"/><path d="M422.9 508.4h1.5" stroke="rgb(152,152,152)" stroke-width="1.10"/><path d="M425.5 508.4h1.5" stroke="rgb(152,152,152)" stroke-width="1.10"/><path d="M428.1 508.4h1.5" stroke="rgb(152,152,152)" stroke-width="1.10"/><path d="M430.7 508.4h1.5" stroke="rgb(152,152,152)" stroke-width="1.10"/><path d="M433.3 508.4h1.5" stroke="rgb(152,152,152)" stroke-width="1.10"/><path d="M435.3 508.4h55.5" stroke="rgb(150,150,150)" stroke-width="1.10"/><path d="M490.8 508.4h11.8" stroke="rgb(139,139,139)" stroke-width="1.10"/><path d="M502.6 508.4h1.5" stroke="rgb(152,152,152)" stroke-width="1.10"/><path d="M505.2 508.4h1.5" stroke="rgb(152,152,152)" stroke-width="1.10"/><path d="M507.8 508.4h1.5" stroke="rgb(152,152,152)" stroke-width="1.10"/><path d="M510.4 508.4h1.5" stroke="rgb(152,152,152)" stroke-width="1.10"/><path d="M513.0 508.4h1.5" stroke="rgb(152,152,152)" stroke-width="1.10"/><path d="M515.6 508.4h1.5" stroke="rgb(152,152,152)" stroke-width="1.10"/><path d="M518.2 508.4h1.5" stroke="rgb(152,152,152)" stroke-width="1.10"/><path d="M520.8 508.4h1.5" stroke="rgb(152,152,152)" stroke-width="1.10"/><path d="M523.4 508.4h1.5" stroke="rgb(152,152,152)" stroke-width="1.10"/><path d="M526.0 508.4h1.5" stroke="rgb(152,152,152)" stroke-width="1.10"/><path d="M528.6 508.4h1.5" stroke="rgb(152,152,152)" stroke-width="1.10"/><path d="M531.2 508.4h1.5" stroke="rgb(152,152,152)" stroke-width="1.10"/><path d="M533.8 508.4h1.5" stroke="rgb(152,152,152)" stroke-width="1.10"/><path d="M536.4 508.4h1.5" stroke="rgb(152,152,152)" stroke-width="1.10"/><path d="M539.0 508.4h1.5" stroke="rgb(152,152,152)" stroke-width="1.10"/><path d="M541.6 508.4h1.5" stroke="rgb(152,152,152)" stroke-width="1.10"/><path d="M544.2 508.4h1.5" stroke="rgb(152,152,152)" stroke-width="1.10"/><path d="M544.5 508.4h15.0" stroke="rgb(153,153,153)" stroke-width="1.10"/><path d="M559.5 508.4h63.6" stroke="rgb(145,145,145)" stroke-width="1.10"/><path d="M0.0 516.6h31.9" stroke="rgb(147,147,147)" stroke-width="1.10"/><path d="M31.9 516.6h66.6" stroke="rgb(164,164,164)" stroke-width="1.10"/><path d="M98.6 516.6h1.5" stroke="rgb(154,154,154)" stroke-width="1.10"/><path d="M101.2 516.6h1.5" stroke="rgb(154,154,154)" stroke-width="1.10"/><path d="M103.8 516.6h1.5" stroke="rgb(154,154,154)" stroke-width="1.10"/><path d="M106.4 516.6h1.5" stroke="rgb(154,154,154)" stroke-width="1.10"/><path d="M109.0 516.6h1.5" stroke="rgb(154,154,154)" stroke-width="1.10"/><path d="M111.1 516.6h75.2" stroke="rgb(140,140,140)" stroke-width="1.10"/><path d="M186.3 516.6h50.2" stroke="rgb(162,162,162)" stroke-width="1.10"/><path d="M236.5 516.6h13.6" stroke="rgb(139,139,139)" stroke-width="1.10"/><path d="M250.2 516.6h11.7" stroke="rgb(140,140,140)" stroke-width="1.10"/><path d="M261.8 516.6h30.6" stroke="rgb(163,163,163)" stroke-width="1.10"/><path d="M292.4 516.6h69.4" stroke="rgb(151,151,151)" stroke-width="1.10"/><path d="M361.8 516.6h25.9" stroke="rgb(145,145,145)" stroke-width="1.10"/><path d="M387.7 516.6h46.3" stroke="rgb(159,159,159)" stroke-width="1.10"/><path d="M434.1 516.6h38.5" stroke="rgb(160,160,160)" stroke-width="1.10"/><path d="M472.6 516.6h36.2" stroke="rgb(143,143,143)" stroke-width="1.10"/><path d="M508.7 516.6h79.0" stroke="rgb(153,153,153)" stroke-width="1.10"/><path d="M587.7 516.6h11.9" stroke="rgb(144,144,144)" stroke-width="1.10"/><path d="M599.6 516.6h35.2" stroke="rgb(138,138,138)" stroke-width="1.10"/><path d="M0.0 520.8h63.0" stroke="rgb(204,204,204)" stroke-width="0.60"/><path d="M63.0 520.8h65.8" stroke="rgb(213,213,213)" stroke-width="0.60"/><path d="M128.8 520.8h53.9" stroke="rgb(206,206,206)" stroke-width="0.60"/><path d="M182.6 520.8h37.0" stroke="rgb(198,198,198)" stroke-width="0.60"/><path d="M219.7 520.8h52.9" stroke="rgb(215,215,215)" stroke-width="0.60"/><path d="M272.6 520.8h26.5" stroke="rgb(209,209,209)" stroke-width="0.60"/><path d="M299.1 520.8h49.8" stroke="rgb(204,204,204)" stroke-width="0.60"/><path d="M348.8 520.8h58.6" stroke="rgb(199,199,199)" stroke-width="0.60"/><path d="M407.4 520.8h44.7" stroke="rgb(218,218,218)" stroke-width="0.60"/><path d="M452.1 520.8h74.3" stroke="rgb(220,220,220)" stroke-width="0.60"/><path d="M526.4 520.8h49.2" stroke="rgb(206,206,206)" stroke-width="0.60"/><path d="M575.6 520.8h36.3" stroke="rgb(205,205,205)" stroke-width="0.60"/><path d="M0.0 525.3h27.1" stroke="rgb(157,157,157)" stroke-width="1.10"/><path d="M27.1 525.3h43.5" stroke="rgb(163,163,163)" stroke-width="1.10"/><path d="M70.6 525.3h41.7" stroke="rgb(140,140,140)" stroke-width="1.10"/><path d="M112.3 525.3h15.5" stroke="rgb(145,145,145)" stroke-width="1.10"/><path d="M127.8 525.3h24.1" stroke="rgb(141,141,141)" stroke-width="1.10"/><path d="M151.8 525.3h43.7" stroke="rgb(157,157,157)" stroke-width="1.10"/><path d="M195.6 525.3h1.5" stroke="rgb(151,151,151)" stroke-width="1.10"/><path d="M198.2 525.3h1.5" stroke="rgb(151,151,151)" stroke-width="1.10"/><path d="M200.8 525.3h1.5" stroke="rgb(151,151,151)" stroke-width="1.10"/><path d="M203.4 525.3h1.5" stroke="rgb(151,151,151)" stroke-width="1.10"/><path d="M206.0 525.3h1.5" stroke="rgb(151,151,151)" stroke-width="1.10"/><path d="M208.6 525.3h1.5" stroke="rgb(151,151,151)" stroke-width="1.10"/><path d="M211.2 525.3h1.5" stroke="rgb(151,151,151)" stroke-width="1.10"/><path d="M213.8 525.3h1.5" stroke="rgb(151,151,151)" stroke-width="1.10"/><path d="M216.4 525.3h1.5" stroke="rgb(151,151,151)" stroke-width="1.10"/><path d="M219.0 525.3h1.5" stroke="rgb(151,151,151)" stroke-width="1.10"/><path d="M221.6 525.3h1.5" stroke="rgb(151,151,151)" stroke-width="1.10"/><path d="M224.2 525.3h1.5" stroke="rgb(151,151,151)" stroke-width="1.10"/><path d="M226.8 525.3h1.5" stroke="rgb(151,151,151)" stroke-width="1.10"/><path d="M229.4 525.3h1.5" stroke="rgb(151,151,151)" stroke-width="1.10"/><path d="M232.0 525.3h1.5" stroke="rgb(151,151,151)" stroke-width="1.10"/><path d="M234.6 525.3h1.5" stroke="rgb(151,151,151)" stroke-width="1.10"/><path d="M237.2 525.3h1.5" stroke="rgb(151,151,151)" stroke-width="1.10"/><path d="M239.8 525.3h1.5" stroke="rgb(151,151,151)" stroke-width="1.10"/><path d="M242.4 525.3h1.5" stroke="rgb(151,151,151)" stroke-width="1.10"/><path d="M245.0 525.3h1.5" stroke="rgb(151,151,151)" stroke-width="1.10"/><path d="M247.6 525.3h1.5" stroke="rgb(151,151,151)" stroke-width="1.10"/><path d="M250.2 525.3h1.5" stroke="rgb(151,151,151)" stroke-width="1.10"/><path d="M252.8 525.3h1.5" stroke="rgb(151,151,151)" stroke-width="1.10"/><path d="M255.4 525.3h1.5" stroke="rgb(151,151,151)" stroke-width="1.10"/><path d="M258.0 525.3h1.5" stroke="rgb(151,151,151)" stroke-width="1.10"/><path d="M260.6 525.3h1.5" stroke="rgb(151,151,151)" stroke-width="1.10"/><path d="M263.2 525.3h1.5" stroke="rgb(151,151,151)" stroke-width="1.10"/><path d="M265.8 525.3h1.5" stroke="rgb(151,151,151)" stroke-width="1.10"/><path d="M268.4 525.3h1.5" stroke="rgb(151,151,151)" stroke-width="1.10"/><path d="M271.0 525.3h1.5" stroke="rgb(151,151,151)" stroke-width="1.10"/><path d="M271.2 525.3h1.5" stroke="rgb(158,158,158)" stroke-width="1.10"/><path d="M273.8 525.3h1.5" stroke="rgb(158,158,158)" stroke-width="1.10"/><path d="M276.4 525.3h1.5" stroke="rgb(158,158,158)" stroke-width="1.10"/><path d="M279.0 525.3h1.5" stroke="rgb(158,158,158)" stroke-width="1.10"/><path d="M281.6 525.3h1.5" stroke="rgb(158,158,158)" stroke-width="1.10"/><path d="M284.2 525.3h1.5" stroke="rgb(158,158,158)" stroke-width="1.10"/><path d="M286.8 525.3h1.5" stroke="rgb(158,158,158)" stroke-width="1.10"/><path d="M289.4 525.3h1.5" stroke="rgb(158,158,158)" stroke-width="1.10"/><path d="M292.0 525.3h1.5" stroke="rgb(158,158,158)" stroke-width="1.10"/><path d="M294.6 525.3h1.5" stroke="rgb(158,158,158)" stroke-width="1.10"/><path d="M297.2 525.3h1.5" stroke="rgb(158,158,158)" stroke-width="1.10"/><path d="M299.8 525.3h1.5" stroke="rgb(158,158,158)" stroke-width="1.10"/><path d="M302.4 525.3h1.5" stroke="rgb(158,158,158)" stroke-width="1.10"/><path d="M305.0 525.3h1.5" stroke="rgb(158,158,158)" stroke-width="1.10"/><path d="M306.6 525.3h71.1" stroke="rgb(164,164,164)" stroke-width="1.10"/><path d="M377.7 525.3h52.5" stroke="rgb(141,141,141)" stroke-width="1.10"/><path d="M430.3 525.3h18.5" stroke="rgb(142,142,142)" stroke-width="1.10"/><path d="M448.8 525.3h37.5" stroke="rgb(163,163,163)" stroke-width="1.10"/><path d="M486.3 525.3h52.9" stroke="rgb(166,166,166)" stroke-width="1.10"/><path d="M539.1 525.3h28.4" stroke="rgb(147,147,147)" stroke-width="1.10"/><path d="M567.6 525.3h67.4" stroke="rgb(155,155,155)" stroke-width="1.10"/><path d="M0.0 529.2h41.4" stroke="rgb(141,141,141)" stroke-width="1.10"/><path d="M41.4 529.2h56.4" stroke="rgb(158,158,158)" stroke-width="1.10"/><path d="M97.7 529.2h35.2" stroke="rgb(138,138,138)" stroke-width="1.10"/><path d="M133.0 529.2h26.2" stroke="rgb(160,160,160)" stroke-width="1.10"/><path d="M159.1 529.2h56.3" stroke="rgb(153,153,153)" stroke-width="1.10"/><path d="M215.4 529.2h78.8" stroke="rgb(161,161,161)" stroke-width="1.10"/><path d="M294.2 529.2h37.7" stroke="rgb(161,161,161)" stroke-width="1.10"/><path d="M331.8 529.2h1.5" stroke="rgb(148,148,148)" stroke-width="1.10"/><path d="M334.4 529.2h1.5" stroke="rgb(148,148,148)" stroke-width="1.10"/><path d="M337.0 529.2h1.5" stroke="rgb(148,148,148)" stroke-width="1.10"/><path d="M339.6 529.2h1.5" stroke="rgb(148,148,148)" stroke-width="1.10"/><path d="M342.2 529.2h1.5" stroke="rgb(148,148,148)" stroke-width="1.10"/><path d="M344.8 529.2h1.5" stroke="rgb(148,148,148)" stroke-width="1.10"/><path d="M347.4 529.2h1.5" stroke="rgb(148,148,148)" stroke-width="1.10"/><path d="M350.0 529.2h1.5" stroke="rgb(148,148,148)" stroke-width="1.10"/><path d="M352.4 529.2h1.5" stroke="rgb(158,158,158)" stroke-width="1.10"/><path d="M355.0 529.2h1.5" stroke="rgb(158,158,158)" stroke-width="1.10"/><path d="M357.6 529.2h1.5" stroke="rgb(158,158,158)" stroke-width="1.10"/><path d="M360.2 529.2h1.5" stroke="rgb(158,158,158)" stroke-width="1.10"/><path d="M362.8 529.2h1.5" stroke="rgb(158,158,158)" stroke-width="1.10"/><path d="M365.4 529.2h1.5" stroke="rgb(158,158,158)" stroke-width="1.10"/><path d="M368.0 529.2h1.5" stroke="rgb(158,158,158)" stroke-width="1.10"/><path d="M370.6 529.2h1.5" stroke="rgb(158,158,158)" stroke-width="1.10"/><path d="M373.2 529.2h1.5" stroke="rgb(158,158,158)" stroke-width="1.10"/><path d="M375.8 529.2h1.5" stroke="rgb(158,158,158)" stroke-width="1.10"/><path d="M378.4 529.2h1.5" stroke="rgb(158,158,158)" stroke-width="1.10"/><path d="M381.0 529.2h1.5" stroke="rgb(158,158,158)" stroke-width="1.10"/><path d="M383.6 529.2h1.5" stroke="rgb(158,158,158)" stroke-width="1.10"/><path d="M386.2 529.2h1.5" stroke="rgb(158,158,158)" stroke-width="1.10"/><path d="M388.8 529.2h1.5" stroke="rgb(158,158,158)" stroke-width="1.10"/><path d="M391.4 529.2h1.5" stroke="rgb(158,158,158)" stroke-width="1.10"/><path d="M394.0 529.2h1.5" stroke="rgb(158,158,158)" stroke-width="1.10"/><path d="M396.6 529.2h1.5" stroke="rgb(158,158,158)" stroke-width="1.10"/><path d="M399.2 529.2h1.5" stroke="rgb(158,158,158)" stroke-width="1.10"/><path d="M401.8 529.2h1.5" stroke="rgb(158,158,158)" stroke-width="1.10"/><path d="M404.4 529.2h1.5" stroke="rgb(158,158,158)" stroke-width="1.10"/><path d="M407.0 529.2h1.5" stroke="rgb(158,158,158)" stroke-width="1.10"/><path d="M409.6 529.2h1.5" stroke="rgb(158,158,158)" stroke-width="1.10"/><path d="M412.2 529.2h1.5" stroke="rgb(158,158,158)" stroke-width="1.10"/><path d="M414.8 529.2h1.5" stroke="rgb(158,158,158)" stroke-width="1.10"/><path d="M417.4 529.2h1.5" stroke="rgb(158,158,158)" stroke-width="1.10"/><path d="M420.0 529.2h1.5" stroke="rgb(158,158,158)" stroke-width="1.10"/><path d="M420.8 529.2h11.7" stroke="rgb(143,143,143)" stroke-width="1.10"/><path d="M432.4 529.2h13.8" stroke="rgb(139,139,139)" stroke-width="1.10"/><path d="M446.2 529.2h64.9" stroke="rgb(163,163,163)" stroke-width="1.10"/><path d="M511.1 529.2h1.5" stroke="rgb(161,161,161)" stroke-width="1.10"/><path d="M513.7 529.2h1.5" stroke="rgb(161,161,161)" stroke-width="1.10"/><path d="M516.3 529.2h1.5" stroke="rgb(161,161,161)" stroke-width="1.10"/><path d="M518.9 529.2h1.5" stroke="rgb(161,161,161)" stroke-width="1.10"/><path d="M521.5 529.2h1.5" stroke="rgb(161,161,161)" stroke-width="1.10"/><path d="M524.1 529.2h1.5" stroke="rgb(161,161,161)" stroke-width="1.10"/><path d="M526.7 529.2h1.5" stroke="rgb(161,161,161)" stroke-width="1.10"/><path d="M529.3 529.2h1.5" stroke="rgb(161,161,161)" stroke-width="1.10"/><path d="M531.9 529.2h1.5" stroke="rgb(161,161,161)" stroke-width="1.10"/><path d="M534.5 529.2h1.5" stroke="rgb(161,161,161)" stroke-width="1.10"/><path d="M537.1 529.2h1.5" stroke="rgb(161,161,161)" stroke-width="1.10"/><path d="M539.7 529.2h1.5" stroke="rgb(161,161,161)" stroke-width="1.10"/><path d="M542.3 529.2h1.5" stroke="rgb(161,161,161)" stroke-width="1.10"/><path d="M544.9 529.2h1.5" stroke="rgb(161,161,161)" stroke-width="1.10"/><path d="M547.5 529.2h1.5" stroke="rgb(161,161,161)" stroke-width="1.10"/><path d="M550.1 529.2h1.5" stroke="rgb(161,161,161)" stroke-width="1.10"/><path d="M552.7 529.2h1.5" stroke="rgb(161,161,161)" stroke-width="1.10"/><path d="M555.3 529.2h1.5" stroke="rgb(161,161,161)" stroke-width="1.10"/><path d="M557.9 529.2h1.5" stroke="rgb(161,161,161)" stroke-width="1.10"/><path d="M560.5 529.2h1.5" stroke="rgb(161,161,161)" stroke-width="1.10"/><path d="M563.1 529.2h1.5" stroke="rgb(161,161,161)" stroke-width="1.10"/><path d="M565.7 529.2h1.5" stroke="rgb(161,161,161)" stroke-width="1.10"/><path d="M567.8 529.2h1.5" stroke="rgb(151,151,151)" stroke-width="1.10"/><path d="M570.4 529.2h1.5" stroke="rgb(151,151,151)" stroke-width="1.10"/><path d="M573.0 529.2h1.5" stroke="rgb(151,151,151)" stroke-width="1.10"/><path d="M575.6 529.2h1.5" stroke="rgb(151,151,151)" stroke-width="1.10"/><path d="M578.2 529.2h1.5" stroke="rgb(151,151,151)" stroke-width="1.10"/><path d="M580.8 529.2h1.5" stroke="rgb(151,151,151)" stroke-width="1.10"/><path d="M583.4 529.2h1.5" stroke="rgb(151,151,151)" stroke-width="1.10"/><path d="M586.0 529.2h1.5" stroke="rgb(151,151,151)" stroke-width="1.10"/><path d="M588.6 529.2h1.5" stroke="rgb(151,151,151)" stroke-width="1.10"/><path d="M591.2 529.2h1.5" stroke="rgb(151,151,151)" stroke-width="1.10"/><path d="M593.8 529.2h1.5" stroke="rgb(151,151,151)" stroke-width="1.10"/><path d="M596.4 529.2h1.5" stroke="rgb(151,151,151)" stroke-width="1.10"/><path d="M599.0 529.2h1.5" stroke="rgb(151,151,151)" stroke-width="1.10"/><path d="M601.6 529.2h1.5" stroke="rgb(151,151,151)" stroke-width="1.10"/><path d="M604.2 529.2h1.5" stroke="rgb(151,151,151)" stroke-width="1.10"/><path d="M606.8 529.2h1.5" stroke="rgb(151,151,151)" stroke-width="1.10"/><path d="M609.4 529.2h1.5" stroke="rgb(151,151,151)" stroke-width="1.10"/><path d="M612.0 529.2h1.5" stroke="rgb(151,151,151)" stroke-width="1.10"/><path d="M614.6 529.2h1.5" stroke="rgb(151,151,151)" stroke-width="1.10"/><path d="M617.2 529.2h1.5" stroke="rgb(151,151,151)" stroke-width="1.10"/><path d="M619.8 529.2h1.5" stroke="rgb(151,151,151)" stroke-width="1.10"/><path d="M622.4 529.2h1.5" stroke="rgb(151,151,151)" stroke-width="1.10"/><path d="M625.0 529.2h1.5" stroke="rgb(151,151,151)" stroke-width="1.10"/><path d="M627.6 529.2h1.5" stroke="rgb(151,151,151)" stroke-width="1.10"/><path d="M630.2 529.2h1.5" stroke="rgb(151,151,151)" stroke-width="1.10"/><path d="M632.8 529.2h1.5" stroke="rgb(151,151,151)" stroke-width="1.10"/><path d="M0.0 539.6h14.9" stroke="rgb(170,170,170)" stroke-width="1.00"/><path d="M14.9 539.6h49.3" stroke="rgb(177,177,177)" stroke-width="1.00"/><path d="M64.3 539.6h64.0" stroke="rgb(171,171,171)" stroke-width="1.00"/><path d="M128.3 539.6h15.7" stroke="rgb(154,154,154)" stroke-width="1.00"/><path d="M144.0 539.6h10.1" stroke="rgb(173,173,173)" stroke-width="1.00"/><path d="M154.1 539.6h45.8" stroke="rgb(172,172,172)" stroke-width="1.00"/><path d="M199.9 539.6h47.2" stroke="rgb(161,161,161)" stroke-width="1.00"/><path d="M247.1 539.6h36.3" stroke="rgb(170,170,170)" stroke-width="1.00"/><path d="M283.4 539.6h63.5" stroke="rgb(173,173,173)" stroke-width="1.00"/><path d="M346.8 539.6h73.9" stroke="rgb(178,178,178)" stroke-width="1.00"/><path d="M420.8 539.6h38.3" stroke="rgb(156,156,156)" stroke-width="1.00"/><path d="M459.1 539.6h1.5" stroke="rgb(154,154,154)" stroke-width="1.00"/><path d="M461.7 539.6h1.5" stroke="rgb(154,154,154)" stroke-width="1.00"/><path d="M464.3 539.6h1.5" stroke="rgb(154,154,154)" stroke-width="1.00"/><path d="M466.9 539.6h1.5" stroke="rgb(154,154,154)" stroke-width="1.00"/><path d="M469.5 539.6h1.5" stroke="rgb(154,154,154)" stroke-width="1.00"/><path d="M472.1 539.6h1.5" stroke="rgb(154,154,154)" stroke-width="1.00"/><path d="M474.7 539.6h1.5" stroke="rgb(154,154,154)" stroke-width="1.00"/><path d="M477.3 539.6h1.5" stroke="rgb(154,154,154)" stroke-width="1.00"/><path d="M479.9 539.6h1.5" stroke="rgb(154,154,154)" stroke-width="1.00"/><path d="M482.5 539.6h1.5" stroke="rgb(154,154,154)" stroke-width="1.00"/><path d="M485.1 539.6h1.5" stroke="rgb(154,154,154)" stroke-width="1.00"/><path d="M487.7 539.6h1.5" stroke="rgb(154,154,154)" stroke-width="1.00"/><path d="M490.3 539.6h1.5" stroke="rgb(154,154,154)" stroke-width="1.00"/><path d="M492.9 539.6h1.5" stroke="rgb(154,154,154)" stroke-width="1.00"/><path d="M495.5 539.6h1.5" stroke="rgb(154,154,154)" stroke-width="1.00"/><path d="M498.1 539.6h1.5" stroke="rgb(154,154,154)" stroke-width="1.00"/><path d="M500.7 539.6h1.5" stroke="rgb(154,154,154)" stroke-width="1.00"/><path d="M503.3 539.6h1.5" stroke="rgb(154,154,154)" stroke-width="1.00"/><path d="M505.9 539.6h1.5" stroke="rgb(154,154,154)" stroke-width="1.00"/><path d="M508.5 539.6h1.5" stroke="rgb(154,154,154)" stroke-width="1.00"/><path d="M511.1 539.6h1.5" stroke="rgb(154,154,154)" stroke-width="1.00"/><path d="M513.7 539.6h1.5" stroke="rgb(154,154,154)" stroke-width="1.00"/><path d="M516.3 539.6h1.5" stroke="rgb(154,154,154)" stroke-width="1.00"/><path d="M518.9 539.6h1.5" stroke="rgb(154,154,154)" stroke-width="1.00"/><path d="M521.5 539.6h1.5" stroke="rgb(154,154,154)" stroke-width="1.00"/><path d="M524.1 539.6h1.5" stroke="rgb(154,154,154)" stroke-width="1.00"/><path d="M526.7 539.6h1.5" stroke="rgb(154,154,154)" stroke-width="1.00"/><path d="M529.3 539.6h1.5" stroke="rgb(154,154,154)" stroke-width="1.00"/><path d="M531.9 539.6h1.5" stroke="rgb(154,154,154)" stroke-width="1.00"/><path d="M534.4 539.6h1.5" stroke="rgb(168,168,168)" stroke-width="1.00"/><path d="M537.0 539.6h1.5" stroke="rgb(168,168,168)" stroke-width="1.00"/><path d="M539.6 539.6h1.5" stroke="rgb(168,168,168)" stroke-width="1.00"/><path d="M542.2 539.6h1.5" stroke="rgb(168,168,168)" stroke-width="1.00"/><path d="M544.8 539.6h1.5" stroke="rgb(168,168,168)" stroke-width="1.00"/><path d="M547.4 539.6h1.5" stroke="rgb(168,168,168)" stroke-width="1.00"/><path d="M550.0 539.6h1.5" stroke="rgb(168,168,168)" stroke-width="1.00"/><path d="M552.6 539.6h1.5" stroke="rgb(168,168,168)" stroke-width="1.00"/><path d="M555.2 539.6h1.5" stroke="rgb(168,168,168)" stroke-width="1.00"/><path d="M557.8 539.6h1.5" stroke="rgb(168,168,168)" stroke-width="1.00"/><path d="M560.4 539.6h1.5" stroke="rgb(168,168,168)" stroke-width="1.00"/><path d="M563.0 539.6h1.5" stroke="rgb(168,168,168)" stroke-width="1.00"/><path d="M565.6 539.6h1.5" stroke="rgb(168,168,168)" stroke-width="1.00"/><path d="M568.2 539.6h1.5" stroke="rgb(168,168,168)" stroke-width="1.00"/><path d="M570.8 539.6h1.5" stroke="rgb(168,168,168)" stroke-width="1.00"/><path d="M573.4 539.6h1.5" stroke="rgb(168,168,168)" stroke-width="1.00"/><path d="M576.0 539.6h1.5" stroke="rgb(168,168,168)" stroke-width="1.00"/><path d="M578.6 539.6h1.5" stroke="rgb(168,168,168)" stroke-width="1.00"/><path d="M581.2 539.6h1.5" stroke="rgb(168,168,168)" stroke-width="1.00"/><path d="M583.8 539.6h1.5" stroke="rgb(168,168,168)" stroke-width="1.00"/><path d="M586.4 539.6h1.5" stroke="rgb(168,168,168)" stroke-width="1.00"/><path d="M589.0 539.6h1.5" stroke="rgb(168,168,168)" stroke-width="1.00"/><path d="M590.9 539.6h57.3" stroke="rgb(166,166,166)" stroke-width="1.00"/><path d="M0.0 544.8h27.2" stroke="rgb(161,161,161)" stroke-width="1.10"/><path d="M27.2 544.8h75.7" stroke="rgb(158,158,158)" stroke-width="1.10"/><path d="M102.9 544.8h1.5" stroke="rgb(152,152,152)" stroke-width="1.10"/><path d="M105.5 544.8h1.5" stroke="rgb(152,152,152)" stroke-width="1.10"/><path d="M108.1 544.8h1.5" stroke="rgb(152,152,152)" stroke-width="1.10"/><path d="M110.7 544.8h1.5" stroke="rgb(152,152,152)" stroke-width="1.10"/><path d="M113.3 544.8h1.5" stroke="rgb(152,152,152)" stroke-width="1.10"/><path d="M115.9 544.8h1.5" stroke="rgb(152,152,152)" stroke-width="1.10"/><path d="M117.8 544.8h15.0" stroke="rgb(164,164,164)" stroke-width="1.10"/><path d="M132.8 544.8h71.5" stroke="rgb(148,148,148)" stroke-width="1.10"/><path d="M204.3 544.8h62.5" stroke="rgb(164,164,164)" stroke-width="1.10"/><path d="M266.9 544.8h1.5" stroke="rgb(157,157,157)" stroke-width="1.10"/><path d="M269.5 544.8h1.5" stroke="rgb(157,157,157)" stroke-width="1.10"/><path d="M272.1 544.8h1.5" stroke="rgb(157,157,157)" stroke-width="1.10"/><path d="M274.7 544.8h1.5" stroke="rgb(157,157,157)" stroke-width="1.10"/><path d="M277.3 544.8h1.5" stroke="rgb(157,157,157)" stroke-width="1.10"/><path d="M279.9 544.8h1.5" stroke="rgb(157,157,157)" stroke-width="1.10"/><path d="M282.5 544.8h1.5" stroke="rgb(157,157,157)" stroke-width="1.10"/><path d="M285.1 544.8h1.5" stroke="rgb(157,157,157)" stroke-width="1.10"/><path d="M287.7 544.8h1.5" stroke="rgb(157,157,157)" stroke-width="1.10"/><path d="M290.3 544.8h1.5" stroke="rgb(157,157,157)" stroke-width="1.10"/><path d="M292.9 544.8h1.5" stroke="rgb(157,157,157)" stroke-width="1.10"/><path d="M295.5 544.8h1.5" stroke="rgb(157,157,157)" stroke-width="1.10"/><path d="M298.1 544.8h1.5" stroke="rgb(157,157,157)" stroke-width="1.10"/><path d="M300.7 544.8h1.5" stroke="rgb(157,157,157)" stroke-width="1.10"/><path d="M303.3 544.8h1.5" stroke="rgb(157,157,157)" stroke-width="1.10"/><path d="M304.7 544.8h36.9" stroke="rgb(168,168,168)" stroke-width="1.10"/><path d="M341.6 544.8h78.2" stroke="rgb(155,155,155)" stroke-width="1.10"/><path d="M419.8 544.8h20.9" stroke="rgb(161,161,161)" stroke-width="1.10"/><path d="M440.7 544.8h18.1" stroke="rgb(168,168,168)" stroke-width="1.10"/><path d="M458.9 544.8h26.7" stroke="rgb(164,164,164)" stroke-width="1.10"/><path d="M485.6 544.8h73.9" stroke="rgb(167,167,167)" stroke-width="1.10"/><path d="M559.5 544.8h39.0" stroke="rgb(162,162,162)" stroke-width="1.10"/><path d="M598.5 544.8h1.5" stroke="rgb(155,155,155)" stroke-width="1.10"/><path d="M601.1 544.8h1.5" stroke="rgb(155,155,155)" stroke-width="1.10"/><path d="M603.7 544.8h1.5" stroke="rgb(155,155,155)" stroke-width="1.10"/><path d="M606.3 544.8h1.5" stroke="rgb(155,155,155)" stroke-width="1.10"/><path d="M608.9 544.8h1.5" stroke="rgb(155,155,155)" stroke-width="1.10"/><path d="M0.0 547.2h1.5" stroke="rgb(179,179,179)" stroke-width="1.00"/><path d="M2.6 547.2h1.5" stroke="rgb(179,179,179)" stroke-width="1.00"/><path d="M5.2 547.2h1.5" stroke="rgb(179,179,179)" stroke-width="1.00"/><path d="M7.8 547.2h1.5" stroke="rgb(179,179,179)" stroke-width="1.00"/><path d="M10.4 547.2h1.5" stroke="rgb(179,179,179)" stroke-width="1.00"/><path d="M13.0 547.2h1.5" stroke="rgb(179,179,179)" stroke-width="1.00"/><path d="M15.6 547.2h1.5" stroke="rgb(179,179,179)" stroke-width="1.00"/><path d="M18.2 547.2h1.5" stroke="rgb(179,179,179)" stroke-width="1.00"/><path d="M20.8 547.2h1.5" stroke="rgb(179,179,179)" stroke-width="1.00"/><path d="M23.4 547.2h1.5" stroke="rgb(179,179,179)" stroke-width="1.00"/><path d="M26.0 547.2h1.5" stroke="rgb(179,179,179)" stroke-width="1.00"/><path d="M28.6 547.2h1.5" stroke="rgb(179,179,179)" stroke-width="1.00"/><path d="M31.2 547.2h1.5" stroke="rgb(179,179,179)" stroke-width="1.00"/><path d="M33.8 547.2h1.5" stroke="rgb(179,179,179)" stroke-width="1.00"/><path d="M36.4 547.2h1.5" stroke="rgb(179,179,179)" stroke-width="1.00"/><path d="M39.0 547.2h1.5" stroke="rgb(179,179,179)" stroke-width="1.00"/><path d="M41.6 547.2h1.5" stroke="rgb(179,179,179)" stroke-width="1.00"/><path d="M44.2 547.2h1.5" stroke="rgb(179,179,179)" stroke-width="1.00"/><path d="M46.8 547.2h1.5" stroke="rgb(179,179,179)" stroke-width="1.00"/><path d="M49.4 547.2h1.5" stroke="rgb(179,179,179)" stroke-width="1.00"/><path d="M52.0 547.2h1.5" stroke="rgb(179,179,179)" stroke-width="1.00"/><path d="M54.6 547.2h1.5" stroke="rgb(179,179,179)" stroke-width="1.00"/><path d="M57.2 547.2h1.5" stroke="rgb(179,179,179)" stroke-width="1.00"/><path d="M59.8 547.2h1.5" stroke="rgb(179,179,179)" stroke-width="1.00"/><path d="M62.4 547.2h1.5" stroke="rgb(179,179,179)" stroke-width="1.00"/><path d="M64.7 547.2h50.0" stroke="rgb(165,165,165)" stroke-width="1.00"/><path d="M114.7 547.2h78.4" stroke="rgb(162,162,162)" stroke-width="1.00"/><path d="M193.1 547.2h47.4" stroke="rgb(186,186,186)" stroke-width="1.00"/><path d="M240.5 547.2h66.4" stroke="rgb(183,183,183)" stroke-width="1.00"/><path d="M306.9 547.2h17.1" stroke="rgb(170,170,170)" stroke-width="1.00"/><path d="M324.0 547.2h26.8" stroke="rgb(176,176,176)" stroke-width="1.00"/><path d="M350.8 547.2h69.2" stroke="rgb(176,176,176)" stroke-width="1.00"/><path d="M420.0 547.2h70.2" stroke="rgb(163,163,163)" stroke-width="1.00"/><path d="M490.2 547.2h73.5" stroke="rgb(171,171,171)" stroke-width="1.00"/><path d="M563.7 547.2h28.1" stroke="rgb(179,179,179)" stroke-width="1.00"/><path d="M591.8 547.2h63.2" stroke="rgb(165,165,165)" stroke-width="1.00"/><path d="M0.0 558.8h62.3" stroke="rgb(153,153,153)" stroke-width="1.10"/><path d="M62.3 558.8h61.1" stroke="rgb(153,153,153)" stroke-width="1.10"/><path d="M123.4 558.8h1.5" stroke="rgb(168,168,168)" stroke-width="1.10"/><path d="M126.0 558.8h1.5" stroke="rgb(168,168,168)" stroke-width="1.10"/><path d="M128.6 558.8h1.5" stroke="rgb(168,168,168)" stroke-width="1.10"/><path d="M131.2 558.8h1.5" stroke="rgb(168,168,168)" stroke-width="1.10"/><path d="M133.8 558.8h1.5" stroke="rgb(168,168,168)" stroke-width="1.10"/><path d="M136.4 558.8h1.5" stroke="rgb(168,168,168)" stroke-width="1.10"/><path d="M139.0 558.8h1.5" stroke="rgb(168,168,168)" stroke-width="1.10"/><path d="M141.6 558.8h1.5" stroke="rgb(168,168,168)" stroke-width="1.10"/><path d="M144.2 558.8h1.5" stroke="rgb(168,168,168)" stroke-width="1.10"/><path d="M146.8 558.8h1.5" stroke="rgb(168,168,168)" stroke-width="1.10"/><path d="M149.4 558.8h1.5" stroke="rgb(168,168,168)" stroke-width="1.10"/><path d="M152.0 558.8h1.5" stroke="rgb(168,168,168)" stroke-width="1.10"/><path d="M154.6 558.8h1.5" stroke="rgb(168,168,168)" stroke-width="1.10"/><path d="M157.2 558.8h1.5" stroke="rgb(168,168,168)" stroke-width="1.10"/><path d="M159.8 558.8h1.5" stroke="rgb(168,168,168)" stroke-width="1.10"/><path d="M162.4 558.8h1.5" stroke="rgb(168,168,168)" stroke-width="1.10"/><path d="M165.0 558.8h1.5" stroke="rgb(168,168,168)" stroke-width="1.10"/><path d="M167.6 558.8h1.5" stroke="rgb(168,168,168)" stroke-width="1.10"/><path d="M170.2 558.8h1.5" stroke="rgb(168,168,168)" stroke-width="1.10"/><path d="M172.8 558.8h1.5" stroke="rgb(168,168,168)" stroke-width="1.10"/><path d="M175.4 558.8h1.5" stroke="rgb(168,168,168)" stroke-width="1.10"/><path d="M178.0 558.8h1.5" stroke="rgb(168,168,168)" stroke-width="1.10"/><path d="M180.6 558.8h1.5" stroke="rgb(168,168,168)" stroke-width="1.10"/><path d="M183.2 558.8h1.5" stroke="rgb(168,168,168)" stroke-width="1.10"/><path d="M185.8 558.8h1.5" stroke="rgb(168,168,168)" stroke-width="1.10"/><path d="M188.4 558.8h1.5" stroke="rgb(168,168,168)" stroke-width="1.10"/><path d="M191.0 558.8h1.5" stroke="rgb(168,168,168)" stroke-width="1.10"/><path d="M193.6 558.8h1.5" stroke="rgb(168,168,168)" stroke-width="1.10"/><path d="M194.4 558.8h31.6" stroke="rgb(147,147,147)" stroke-width="1.10"/><path d="M226.1 558.8h39.8" stroke="rgb(140,140,140)" stroke-width="1.10"/><path d="M265.9 558.8h46.4" stroke="rgb(150,150,150)" stroke-width="1.10"/><path d="M312.3 558.8h43.5" stroke="rgb(166,166,166)" stroke-width="1.10"/><path d="M355.8 558.8h59.2" stroke="rgb(159,159,159)" stroke-width="1.10"/><path d="M415.0 558.8h64.7" stroke="rgb(141,141,141)" stroke-width="1.10"/><path d="M479.7 558.8h73.7" stroke="rgb(162,162,162)" stroke-width="1.10"/><path d="M553.4 558.8h64.6" stroke="rgb(156,156,156)" stroke-width="1.10"/><path d="M0.0 563h52.7" stroke="rgb(145,145,145)" stroke-width="1.10"/><path d="M52.7 563h50.4" stroke="rgb(162,162,162)" stroke-width="1.10"/><path d="M103.1 563h59.9" stroke="rgb(148,148,148)" stroke-width="1.10"/><path d="M163.0 563h76.8" stroke="rgb(154,154,154)" stroke-width="1.10"/><path d="M239.8 563h38.9" stroke="rgb(168,168,168)" stroke-width="1.10"/><path d="M278.6 563h1.5" stroke="rgb(163,163,163)" stroke-width="1.10"/><path d="M281.2 563h1.5" stroke="rgb(163,163,163)" stroke-width="1.10"/><path d="M283.8 563h1.5" stroke="rgb(163,163,163)" stroke-width="1.10"/><path d="M286.4 563h1.5" stroke="rgb(163,163,163)" stroke-width="1.10"/><path d="M289.0 563h1.5" stroke="rgb(163,163,163)" stroke-width="1.10"/><path d="M291.6 563h1.5" stroke="rgb(163,163,163)" stroke-width="1.10"/><path d="M294.2 563h1.5" stroke="rgb(163,163,163)" stroke-width="1.10"/><path d="M296.8 563h1.5" stroke="rgb(163,163,163)" stroke-width="1.10"/><path d="M299.4 563h1.5" stroke="rgb(163,163,163)" stroke-width="1.10"/><path d="M302.0 563h1.5" stroke="rgb(163,163,163)" stroke-width="1.10"/><path d="M304.6 563h1.5" stroke="rgb(163,163,163)" stroke-width="1.10"/><path d="M307.2 563h1.5" stroke="rgb(163,163,163)" stroke-width="1.10"/><path d="M309.8 563h1.5" stroke="rgb(163,163,163)" stroke-width="1.10"/><path d="M312.4 563h1.5" stroke="rgb(163,163,163)" stroke-width="1.10"/><path d="M315.0 563h1.5" stroke="rgb(163,163,163)" stroke-width="1.10"/><path d="M316.4 563h20.2" stroke="rgb(150,150,150)" stroke-width="1.10"/><path d="M336.6 563h1.5" stroke="rgb(165,165,165)" stroke-width="1.10"/><path d="M339.2 563h1.5" stroke="rgb(165,165,165)" stroke-width="1.10"/><path d="M341.8 563h1.5" stroke="rgb(165,165,165)" stroke-width="1.10"/><path d="M344.4 563h1.5" stroke="rgb(165,165,165)" stroke-width="1.10"/><path d="M347.0 563h1.5" stroke="rgb(165,165,165)" stroke-width="1.10"/><path d="M349.6 563h1.5" stroke="rgb(165,165,165)" stroke-width="1.10"/><path d="M351.7 563h53.6" stroke="rgb(151,151,151)" stroke-width="1.10"/><path d="M405.3 563h51.3" stroke="rgb(155,155,155)" stroke-width="1.10"/><path d="M456.5 563h25.9" stroke="rgb(154,154,154)" stroke-width="1.10"/><path d="M482.4 563h65.8" stroke="rgb(146,146,146)" stroke-width="1.10"/><path d="M548.2 563h35.1" stroke="rgb(155,155,155)" stroke-width="1.10"/><path d="M583.3 563h1.5" stroke="rgb(151,151,151)" stroke-width="1.10"/><path d="M585.9 563h1.5" stroke="rgb(151,151,151)" stroke-width="1.10"/><path d="M588.5 563h1.5" stroke="rgb(151,151,151)" stroke-width="1.10"/><path d="M591.1 563h1.5" stroke="rgb(151,151,151)" stroke-width="1.10"/><path d="M593.7 563h1.5" stroke="rgb(151,151,151)" stroke-width="1.10"/><path d="M596.3 563h1.5" stroke="rgb(151,151,151)" stroke-width="1.10"/><path d="M598.9 563h1.5" stroke="rgb(151,151,151)" stroke-width="1.10"/><path d="M601.5 563h1.5" stroke="rgb(151,151,151)" stroke-width="1.10"/><path d="M604.1 563h1.5" stroke="rgb(151,151,151)" stroke-width="1.10"/><path d="M606.7 563h1.5" stroke="rgb(151,151,151)" stroke-width="1.10"/><path d="M609.3 563h1.5" stroke="rgb(151,151,151)" stroke-width="1.10"/><path d="M611.9 563h1.5" stroke="rgb(151,151,151)" stroke-width="1.10"/><path d="M614.5 563h1.5" stroke="rgb(151,151,151)" stroke-width="1.10"/><path d="M0.0 572.6h1.5" stroke="rgb(166,166,166)" stroke-width="1.10"/><path d="M2.6 572.6h1.5" stroke="rgb(166,166,166)" stroke-width="1.10"/><path d="M5.2 572.6h1.5" stroke="rgb(166,166,166)" stroke-width="1.10"/><path d="M7.8 572.6h1.5" stroke="rgb(166,166,166)" stroke-width="1.10"/><path d="M10.4 572.6h1.5" stroke="rgb(166,166,166)" stroke-width="1.10"/><path d="M13.0 572.6h1.5" stroke="rgb(166,166,166)" stroke-width="1.10"/><path d="M15.6 572.6h1.5" stroke="rgb(166,166,166)" stroke-width="1.10"/><path d="M18.2 572.6h1.5" stroke="rgb(166,166,166)" stroke-width="1.10"/><path d="M20.8 572.6h1.5" stroke="rgb(166,166,166)" stroke-width="1.10"/><path d="M23.4 572.6h1.5" stroke="rgb(166,166,166)" stroke-width="1.10"/><path d="M26.0 572.6h1.5" stroke="rgb(166,166,166)" stroke-width="1.10"/><path d="M28.6 572.6h1.5" stroke="rgb(166,166,166)" stroke-width="1.10"/><path d="M31.2 572.6h1.5" stroke="rgb(166,166,166)" stroke-width="1.10"/><path d="M33.8 572.6h1.5" stroke="rgb(166,166,166)" stroke-width="1.10"/><path d="M36.4 572.6h1.5" stroke="rgb(166,166,166)" stroke-width="1.10"/><path d="M39.0 572.6h1.5" stroke="rgb(166,166,166)" stroke-width="1.10"/><path d="M41.6 572.6h1.5" stroke="rgb(166,166,166)" stroke-width="1.10"/><path d="M44.2 572.6h1.5" stroke="rgb(166,166,166)" stroke-width="1.10"/><path d="M46.8 572.6h1.5" stroke="rgb(166,166,166)" stroke-width="1.10"/><path d="M49.4 572.6h1.5" stroke="rgb(166,166,166)" stroke-width="1.10"/><path d="M52.0 572.6h1.5" stroke="rgb(166,166,166)" stroke-width="1.10"/><path d="M54.6 572.6h1.5" stroke="rgb(166,166,166)" stroke-width="1.10"/><path d="M57.2 572.6h1.5" stroke="rgb(166,166,166)" stroke-width="1.10"/><path d="M59.8 572.6h1.5" stroke="rgb(166,166,166)" stroke-width="1.10"/><path d="M62.4 572.6h1.5" stroke="rgb(166,166,166)" stroke-width="1.10"/><path d="M65.0 572.6h1.5" stroke="rgb(166,166,166)" stroke-width="1.10"/><path d="M67.6 572.6h1.5" stroke="rgb(166,166,166)" stroke-width="1.10"/><path d="M70.2 572.6h1.5" stroke="rgb(166,166,166)" stroke-width="1.10"/><path d="M72.8 572.6h1.5" stroke="rgb(166,166,166)" stroke-width="1.10"/><path d="M75.4 572.6h1.5" stroke="rgb(166,166,166)" stroke-width="1.10"/><path d="M77.3 572.6h60.4" stroke="rgb(148,148,148)" stroke-width="1.10"/><path d="M137.7 572.6h15.1" stroke="rgb(155,155,155)" stroke-width="1.10"/><path d="M152.8 572.6h1.5" stroke="rgb(154,154,154)" stroke-width="1.10"/><path d="M155.4 572.6h1.5" stroke="rgb(154,154,154)" stroke-width="1.10"/><path d="M158.0 572.6h1.5" stroke="rgb(154,154,154)" stroke-width="1.10"/><path d="M160.6 572.6h1.5" stroke="rgb(154,154,154)" stroke-width="1.10"/><path d="M163.2 572.6h1.5" stroke="rgb(154,154,154)" stroke-width="1.10"/><path d="M165.8 572.6h1.5" stroke="rgb(154,154,154)" stroke-width="1.10"/><path d="M168.4 572.6h1.5" stroke="rgb(154,154,154)" stroke-width="1.10"/><path d="M171.0 572.6h1.5" stroke="rgb(154,154,154)" stroke-width="1.10"/><path d="M173.6 572.6h1.5" stroke="rgb(154,154,154)" stroke-width="1.10"/><path d="M176.2 572.6h1.5" stroke="rgb(154,154,154)" stroke-width="1.10"/><path d="M178.8 572.6h1.5" stroke="rgb(154,154,154)" stroke-width="1.10"/><path d="M181.4 572.6h1.5" stroke="rgb(154,154,154)" stroke-width="1.10"/><path d="M184.0 572.6h1.5" stroke="rgb(154,154,154)" stroke-width="1.10"/><path d="M186.6 572.6h1.5" stroke="rgb(154,154,154)" stroke-width="1.10"/><path d="M189.2 572.6h1.5" stroke="rgb(154,154,154)" stroke-width="1.10"/><path d="M191.8 572.6h1.5" stroke="rgb(154,154,154)" stroke-width="1.10"/><path d="M194.4 572.6h1.5" stroke="rgb(154,154,154)" stroke-width="1.10"/><path d="M197.0 572.6h1.5" stroke="rgb(154,154,154)" stroke-width="1.10"/><path d="M199.6 572.6h1.5" stroke="rgb(154,154,154)" stroke-width="1.10"/><path d="M202.2 572.6h1.5" stroke="rgb(154,154,154)" stroke-width="1.10"/><path d="M204.8 572.6h1.5" stroke="rgb(154,154,154)" stroke-width="1.10"/><path d="M207.4 572.6h1.5" stroke="rgb(154,154,154)" stroke-width="1.10"/><path d="M210.0 572.6h1.5" stroke="rgb(154,154,154)" stroke-width="1.10"/><path d="M212.6 572.6h1.5" stroke="rgb(154,154,154)" stroke-width="1.10"/><path d="M215.2 572.6h1.5" stroke="rgb(154,154,154)" stroke-width="1.10"/><path d="M217.8 572.6h1.5" stroke="rgb(154,154,154)" stroke-width="1.10"/><path d="M220.4 572.6h1.5" stroke="rgb(154,154,154)" stroke-width="1.10"/><path d="M223.0 572.6h1.5" stroke="rgb(154,154,154)" stroke-width="1.10"/><path d="M225.6 572.6h1.5" stroke="rgb(154,154,154)" stroke-width="1.10"/><path d="M228.2 572.6h1.5" stroke="rgb(154,154,154)" stroke-width="1.10"/><path d="M230.8 572.6h1.5" stroke="rgb(154,154,154)" stroke-width="1.10"/><path d="M232.0 572.6h1.5" stroke="rgb(153,153,153)" stroke-width="1.10"/><path d="M234.6 572.6h1.5" stroke="rgb(153,153,153)" stroke-width="1.10"/><path d="M237.2 572.6h1.5" stroke="rgb(153,153,153)" stroke-width="1.10"/><path d="M239.8 572.6h1.5" stroke="rgb(153,153,153)" stroke-width="1.10"/><path d="M242.4 572.6h1.5" stroke="rgb(153,153,153)" stroke-width="1.10"/><path d="M245.0 572.6h1.5" stroke="rgb(153,153,153)" stroke-width="1.10"/><path d="M247.6 572.6h1.5" stroke="rgb(153,153,153)" stroke-width="1.10"/><path d="M250.2 572.6h1.5" stroke="rgb(153,153,153)" stroke-width="1.10"/><path d="M252.8 572.6h1.5" stroke="rgb(153,153,153)" stroke-width="1.10"/><path d="M255.4 572.6h1.5" stroke="rgb(153,153,153)" stroke-width="1.10"/><path d="M258.0 572.6h1.5" stroke="rgb(153,153,153)" stroke-width="1.10"/><path d="M260.6 572.6h1.5" stroke="rgb(153,153,153)" stroke-width="1.10"/><path d="M263.2 572.6h1.5" stroke="rgb(153,153,153)" stroke-width="1.10"/><path d="M265.8 572.6h1.5" stroke="rgb(153,153,153)" stroke-width="1.10"/><path d="M268.4 572.6h1.5" stroke="rgb(153,153,153)" stroke-width="1.10"/><path d="M271.0 572.6h1.5" stroke="rgb(153,153,153)" stroke-width="1.10"/><path d="M273.6 572.6h1.5" stroke="rgb(153,153,153)" stroke-width="1.10"/><path d="M276.2 572.6h1.5" stroke="rgb(153,153,153)" stroke-width="1.10"/><path d="M278.8 572.6h1.5" stroke="rgb(153,153,153)" stroke-width="1.10"/><path d="M281.4 572.6h1.5" stroke="rgb(153,153,153)" stroke-width="1.10"/><path d="M284.0 572.6h1.5" stroke="rgb(153,153,153)" stroke-width="1.10"/><path d="M286.6 572.6h1.5" stroke="rgb(153,153,153)" stroke-width="1.10"/><path d="M289.2 572.6h1.5" stroke="rgb(153,153,153)" stroke-width="1.10"/><path d="M291.7 572.6h34.9" stroke="rgb(160,160,160)" stroke-width="1.10"/><path d="M326.6 572.6h40.2" stroke="rgb(143,143,143)" stroke-width="1.10"/><path d="M366.8 572.6h76.4" stroke="rgb(149,149,149)" stroke-width="1.10"/><path d="M443.1 572.6h1.5" stroke="rgb(146,146,146)" stroke-width="1.10"/><path d="M445.7 572.6h1.5" stroke="rgb(146,146,146)" stroke-width="1.10"/><path d="M448.3 572.6h1.5" stroke="rgb(146,146,146)" stroke-width="1.10"/><path d="M450.9 572.6h1.5" stroke="rgb(146,146,146)" stroke-width="1.10"/><path d="M453.5 572.6h1.5" stroke="rgb(146,146,146)" stroke-width="1.10"/><path d="M456.1 572.6h1.5" stroke="rgb(146,146,146)" stroke-width="1.10"/><path d="M458.7 572.6h1.5" stroke="rgb(146,146,146)" stroke-width="1.10"/><path d="M461.3 572.6h1.5" stroke="rgb(146,146,146)" stroke-width="1.10"/><path d="M463.9 572.6h1.5" stroke="rgb(146,146,146)" stroke-width="1.10"/><path d="M464.3 572.6h11.0" stroke="rgb(141,141,141)" stroke-width="1.10"/><path d="M475.4 572.6h76.9" stroke="rgb(141,141,141)" stroke-width="1.10"/><path d="M552.3 572.6h45.6" stroke="rgb(144,144,144)" stroke-width="1.10"/><path d="M597.9 572.6h21.6" stroke="rgb(148,148,148)" stroke-width="1.10"/><path d="M0.0 581.3h49.1" stroke="rgb(156,156,156)" stroke-width="1.10"/><path d="M49.1 581.3h77.3" stroke="rgb(166,166,166)" stroke-width="1.10"/><path d="M126.4 581.3h66.0" stroke="rgb(141,141,141)" stroke-width="1.10"/><path d="M192.4 581.3h57.8" stroke="rgb(156,156,156)" stroke-width="1.10"/><path d="M250.2 581.3h15.8" stroke="rgb(160,160,160)" stroke-width="1.10"/><path d="M266.0 581.3h60.1" stroke="rgb(151,151,151)" stroke-width="1.10"/><path d="M326.1 581.3h1.5" stroke="rgb(151,151,151)" stroke-width="1.10"/><path d="M328.7 581.3h1.5" stroke="rgb(151,151,151)" stroke-width="1.10"/><path d="M331.3 581.3h1.5" stroke="rgb(151,151,151)" stroke-width="1.10"/><path d="M333.9 581.3h1.5" stroke="rgb(151,151,151)" stroke-width="1.10"/><path d="M336.5 581.3h1.5" stroke="rgb(151,151,151)" stroke-width="1.10"/><path d="M339.1 581.3h1.5" stroke="rgb(151,151,151)" stroke-width="1.10"/><path d="M341.7 581.3h1.5" stroke="rgb(151,151,151)" stroke-width="1.10"/><path d="M344.3 581.3h1.5" stroke="rgb(151,151,151)" stroke-width="1.10"/><path d="M346.9 581.3h1.5" stroke="rgb(151,151,151)" stroke-width="1.10"/><path d="M349.5 581.3h1.5" stroke="rgb(151,151,151)" stroke-width="1.10"/><path d="M352.1 581.3h1.5" stroke="rgb(151,151,151)" stroke-width="1.10"/><path d="M354.7 581.3h1.5" stroke="rgb(151,151,151)" stroke-width="1.10"/><path d="M356.5 581.3h1.5" stroke="rgb(144,144,144)" stroke-width="1.10"/><path d="M359.1 581.3h1.5" stroke="rgb(144,144,144)" stroke-width="1.10"/><path d="M361.7 581.3h1.5" stroke="rgb(144,144,144)" stroke-width="1.10"/><path d="M364.3 581.3h1.5" stroke="rgb(144,144,144)" stroke-width="1.10"/><path d="M366.7 581.3h1.5" stroke="rgb(167,167,167)" stroke-width="1.10"/><path d="M369.3 581.3h1.5" stroke="rgb(167,167,167)" stroke-width="1.10"/><path d="M371.9 581.3h1.5" stroke="rgb(167,167,167)" stroke-width="1.10"/><path d="M374.5 581.3h1.5" stroke="rgb(167,167,167)" stroke-width="1.10"/><path d="M377.1 581.3h1.5" stroke="rgb(167,167,167)" stroke-width="1.10"/><path d="M379.7 581.3h1.5" stroke="rgb(167,167,167)" stroke-width="1.10"/><path d="M382.3 581.3h1.5" stroke="rgb(167,167,167)" stroke-width="1.10"/><path d="M384.9 581.3h1.5" stroke="rgb(167,167,167)" stroke-width="1.10"/><path d="M387.5 581.3h1.5" stroke="rgb(167,167,167)" stroke-width="1.10"/><path d="M390.1 581.3h1.5" stroke="rgb(167,167,167)" stroke-width="1.10"/><path d="M392.7 581.3h1.5" stroke="rgb(167,167,167)" stroke-width="1.10"/><path d="M395.3 581.3h1.5" stroke="rgb(167,167,167)" stroke-width="1.10"/><path d="M397.9 581.3h1.5" stroke="rgb(167,167,167)" stroke-width="1.10"/><path d="M400.5 581.3h1.5" stroke="rgb(167,167,167)" stroke-width="1.10"/><path d="M403.1 581.3h1.5" stroke="rgb(167,167,167)" stroke-width="1.10"/><path d="M405.7 581.3h1.5" stroke="rgb(167,167,167)" stroke-width="1.10"/><path d="M408.3 581.3h1.5" stroke="rgb(167,167,167)" stroke-width="1.10"/><path d="M410.9 581.3h1.5" stroke="rgb(167,167,167)" stroke-width="1.10"/><path d="M413.5 581.3h1.5" stroke="rgb(167,167,167)" stroke-width="1.10"/><path d="M416.1 581.3h1.5" stroke="rgb(167,167,167)" stroke-width="1.10"/><path d="M418.7 581.3h1.5" stroke="rgb(167,167,167)" stroke-width="1.10"/><path d="M419.9 581.3h30.6" stroke="rgb(157,157,157)" stroke-width="1.10"/><path d="M450.5 581.3h68.1" stroke="rgb(142,142,142)" stroke-width="1.10"/><path d="M518.6 581.3h60.2" stroke="rgb(155,155,155)" stroke-width="1.10"/><path d="M578.7 581.3h40.1" stroke="rgb(168,168,168)" stroke-width="1.10"/><path d="M0.0 589.8h37.7" stroke="rgb(142,142,142)" stroke-width="1.10"/><path d="M37.7 589.8h61.2" stroke="rgb(150,150,150)" stroke-width="1.10"/><path d="M98.9 589.8h1.5" stroke="rgb(162,162,162)" stroke-width="1.10"/><path d="M101.5 589.8h1.5" stroke="rgb(162,162,162)" stroke-width="1.10"/><path d="M104.1 589.8h1.5" stroke="rgb(162,162,162)" stroke-width="1.10"/><path d="M106.7 589.8h1.5" stroke="rgb(162,162,162)" stroke-width="1.10"/><path d="M109.3 589.8h1.5" stroke="rgb(162,162,162)" stroke-width="1.10"/><path d="M111.9 589.8h1.5" stroke="rgb(162,162,162)" stroke-width="1.10"/><path d="M114.5 589.8h1.5" stroke="rgb(162,162,162)" stroke-width="1.10"/><path d="M115.3 589.8h1.5" stroke="rgb(168,168,168)" stroke-width="1.10"/><path d="M117.9 589.8h1.5" stroke="rgb(168,168,168)" stroke-width="1.10"/><path d="M120.5 589.8h1.5" stroke="rgb(168,168,168)" stroke-width="1.10"/><path d="M123.1 589.8h1.5" stroke="rgb(168,168,168)" stroke-width="1.10"/><path d="M125.7 589.8h1.5" stroke="rgb(168,168,168)" stroke-width="1.10"/><path d="M128.3 589.8h1.5" stroke="rgb(168,168,168)" stroke-width="1.10"/><path d="M130.9 589.8h1.5" stroke="rgb(168,168,168)" stroke-width="1.10"/><path d="M133.5 589.8h1.5" stroke="rgb(168,168,168)" stroke-width="1.10"/><path d="M136.1 589.8h1.5" stroke="rgb(168,168,168)" stroke-width="1.10"/><path d="M138.7 589.8h1.5" stroke="rgb(168,168,168)" stroke-width="1.10"/><path d="M141.3 589.8h1.5" stroke="rgb(168,168,168)" stroke-width="1.10"/><path d="M143.9 589.8h1.5" stroke="rgb(168,168,168)" stroke-width="1.10"/><path d="M146.5 589.8h1.5" stroke="rgb(168,168,168)" stroke-width="1.10"/><path d="M149.1 589.8h1.5" stroke="rgb(168,168,168)" stroke-width="1.10"/><path d="M151.7 589.8h1.5" stroke="rgb(168,168,168)" stroke-width="1.10"/><path d="M154.3 589.8h1.5" stroke="rgb(168,168,168)" stroke-width="1.10"/><path d="M156.9 589.8h1.5" stroke="rgb(168,168,168)" stroke-width="1.10"/><path d="M159.5 589.8h1.5" stroke="rgb(168,168,168)" stroke-width="1.10"/><path d="M162.1 589.8h1.5" stroke="rgb(168,168,168)" stroke-width="1.10"/><path d="M164.7 589.8h1.5" stroke="rgb(168,168,168)" stroke-width="1.10"/><path d="M167.3 589.8h1.5" stroke="rgb(168,168,168)" stroke-width="1.10"/><path d="M169.9 589.8h1.5" stroke="rgb(168,168,168)" stroke-width="1.10"/><path d="M172.5 589.8h1.5" stroke="rgb(168,168,168)" stroke-width="1.10"/><path d="M175.1 589.8h1.5" stroke="rgb(168,168,168)" stroke-width="1.10"/><path d="M177.7 589.8h1.5" stroke="rgb(168,168,168)" stroke-width="1.10"/><path d="M180.3 589.8h1.5" stroke="rgb(168,168,168)" stroke-width="1.10"/><path d="M182.9 589.8h1.5" stroke="rgb(168,168,168)" stroke-width="1.10"/><path d="M185.5 589.8h1.5" stroke="rgb(168,168,168)" stroke-width="1.10"/><path d="M188.1 589.8h1.5" stroke="rgb(168,168,168)" stroke-width="1.10"/><path d="M190.7 589.8h1.5" stroke="rgb(168,168,168)" stroke-width="1.10"/><path d="M192.3 589.8h45.9" stroke="rgb(159,159,159)" stroke-width="1.10"/><path d="M238.2 589.8h47.6" stroke="rgb(148,148,148)" stroke-width="1.10"/><path d="M285.8 589.8h19.0" stroke="rgb(168,168,168)" stroke-width="1.10"/><path d="M304.9 589.8h58.3" stroke="rgb(140,140,140)" stroke-width="1.10"/><path d="M363.2 589.8h1.5" stroke="rgb(154,154,154)" stroke-width="1.10"/><path d="M365.8 589.8h1.5" stroke="rgb(154,154,154)" stroke-width="1.10"/><path d="M368.4 589.8h1.5" stroke="rgb(154,154,154)" stroke-width="1.10"/><path d="M371.0 589.8h1.5" stroke="rgb(154,154,154)" stroke-width="1.10"/><path d="M373.6 589.8h1.5" stroke="rgb(154,154,154)" stroke-width="1.10"/><path d="M373.9 589.8h26.8" stroke="rgb(141,141,141)" stroke-width="1.10"/><path d="M400.8 589.8h1.5" stroke="rgb(147,147,147)" stroke-width="1.10"/><path d="M403.4 589.8h1.5" stroke="rgb(147,147,147)" stroke-width="1.10"/><path d="M406.0 589.8h1.5" stroke="rgb(147,147,147)" stroke-width="1.10"/><path d="M408.6 589.8h1.5" stroke="rgb(147,147,147)" stroke-width="1.10"/><path d="M411.2 589.8h1.5" stroke="rgb(147,147,147)" stroke-width="1.10"/><path d="M413.8 589.8h1.5" stroke="rgb(147,147,147)" stroke-width="1.10"/><path d="M416.4 589.8h1.5" stroke="rgb(147,147,147)" stroke-width="1.10"/><path d="M419.0 589.8h1.5" stroke="rgb(147,147,147)" stroke-width="1.10"/><path d="M421.6 589.8h1.5" stroke="rgb(147,147,147)" stroke-width="1.10"/><path d="M424.2 589.8h1.5" stroke="rgb(147,147,147)" stroke-width="1.10"/><path d="M426.8 589.8h1.5" stroke="rgb(147,147,147)" stroke-width="1.10"/><path d="M429.4 589.8h1.5" stroke="rgb(147,147,147)" stroke-width="1.10"/><path d="M432.0 589.8h1.5" stroke="rgb(147,147,147)" stroke-width="1.10"/><path d="M434.6 589.8h1.5" stroke="rgb(147,147,147)" stroke-width="1.10"/><path d="M437.2 589.8h1.5" stroke="rgb(147,147,147)" stroke-width="1.10"/><path d="M439.8 589.8h1.5" stroke="rgb(147,147,147)" stroke-width="1.10"/><path d="M442.4 589.8h1.5" stroke="rgb(147,147,147)" stroke-width="1.10"/><path d="M445.0 589.8h1.5" stroke="rgb(147,147,147)" stroke-width="1.10"/><path d="M447.6 589.8h1.5" stroke="rgb(147,147,147)" stroke-width="1.10"/><path d="M450.2 589.8h1.5" stroke="rgb(147,147,147)" stroke-width="1.10"/><path d="M452.8 589.8h1.5" stroke="rgb(147,147,147)" stroke-width="1.10"/><path d="M455.4 589.8h1.5" stroke="rgb(147,147,147)" stroke-width="1.10"/><path d="M456.6 589.8h73.3" stroke="rgb(161,161,161)" stroke-width="1.10"/><path d="M529.9 589.8h20.0" stroke="rgb(166,166,166)" stroke-width="1.10"/><path d="M549.8 589.8h23.8" stroke="rgb(154,154,154)" stroke-width="1.10"/><path d="M573.7 589.8h24.3" stroke="rgb(143,143,143)" stroke-width="1.10"/><path d="M598.0 589.8h63.7" stroke="rgb(144,144,144)" stroke-width="1.10"/><path d="M0.0 593.7h49.2" stroke="rgb(172,172,172)" stroke-width="1.10"/><path d="M49.2 593.7h71.0" stroke="rgb(167,167,167)" stroke-width="1.10"/><path d="M120.2 593.7h18.7" stroke="rgb(171,171,171)" stroke-width="1.10"/><path d="M138.9 593.7h39.8" stroke="rgb(157,157,157)" stroke-width="1.10"/><path d="M178.7 593.7h43.0" stroke="rgb(166,166,166)" stroke-width="1.10"/><path d="M221.7 593.7h1.5" stroke="rgb(172,172,172)" stroke-width="1.10"/><path d="M224.3 593.7h1.5" stroke="rgb(172,172,172)" stroke-width="1.10"/><path d="M226.9 593.7h1.5" stroke="rgb(172,172,172)" stroke-width="1.10"/><path d="M229.5 593.7h1.5" stroke="rgb(172,172,172)" stroke-width="1.10"/><path d="M232.1 593.7h1.5" stroke="rgb(172,172,172)" stroke-width="1.10"/><path d="M234.7 593.7h1.5" stroke="rgb(172,172,172)" stroke-width="1.10"/><path d="M237.3 593.7h1.5" stroke="rgb(172,172,172)" stroke-width="1.10"/><path d="M239.9 593.7h1.5" stroke="rgb(172,172,172)" stroke-width="1.10"/><path d="M242.5 593.7h1.5" stroke="rgb(172,172,172)" stroke-width="1.10"/><path d="M245.1 593.7h1.5" stroke="rgb(172,172,172)" stroke-width="1.10"/><path d="M247.7 593.7h1.5" stroke="rgb(172,172,172)" stroke-width="1.10"/><path d="M249.1 593.7h1.5" stroke="rgb(153,153,153)" stroke-width="1.10"/><path d="M251.7 593.7h1.5" stroke="rgb(153,153,153)" stroke-width="1.10"/><path d="M254.3 593.7h1.5" stroke="rgb(153,153,153)" stroke-width="1.10"/><path d="M256.9 593.7h1.5" stroke="rgb(153,153,153)" stroke-width="1.10"/><path d="M259.5 593.7h1.5" stroke="rgb(153,153,153)" stroke-width="1.10"/><path d="M262.1 593.7h1.5" stroke="rgb(153,153,153)" stroke-width="1.10"/><path d="M264.7 593.7h1.5" stroke="rgb(153,153,153)" stroke-width="1.10"/><path d="M267.3 593.7h1.5" stroke="rgb(153,153,153)" stroke-width="1.10"/><path d="M269.9 593.7h1.5" stroke="rgb(153,153,153)" stroke-width="1.10"/><path d="M272.5 593.7h1.5" stroke="rgb(153,153,153)" stroke-width="1.10"/><path d="M275.1 593.7h1.5" stroke="rgb(153,153,153)" stroke-width="1.10"/><path d="M277.7 593.7h1.5" stroke="rgb(153,153,153)" stroke-width="1.10"/><path d="M280.3 593.7h1.5" stroke="rgb(153,153,153)" stroke-width="1.10"/><path d="M282.9 593.7h1.5" stroke="rgb(153,153,153)" stroke-width="1.10"/><path d="M285.3 593.7h11.3" stroke="rgb(148,148,148)" stroke-width="1.10"/><path d="M296.6 593.7h1.5" stroke="rgb(159,159,159)" stroke-width="1.10"/><path d="M299.2 593.7h1.5" stroke="rgb(159,159,159)" stroke-width="1.10"/><path d="M301.8 593.7h1.5" stroke="rgb(159,159,159)" stroke-width="1.10"/><path d="M304.4 593.7h1.5" stroke="rgb(159,159,159)" stroke-width="1.10"/><path d="M307.0 593.7h1.5" stroke="rgb(159,159,159)" stroke-width="1.10"/><path d="M309.6 593.7h1.5" stroke="rgb(159,159,159)" stroke-width="1.10"/><path d="M312.2 593.7h1.5" stroke="rgb(159,159,159)" stroke-width="1.10"/><path d="M314.8 593.7h1.5" stroke="rgb(159,159,159)" stroke-width="1.10"/><path d="M317.4 593.7h1.5" stroke="rgb(159,159,159)" stroke-width="1.10"/><path d="M320.0 593.7h1.5" stroke="rgb(159,159,159)" stroke-width="1.10"/><path d="M322.6 593.7h1.5" stroke="rgb(159,159,159)" stroke-width="1.10"/><path d="M325.1 593.7h58.0" stroke="rgb(154,154,154)" stroke-width="1.10"/><path d="M383.1 593.7h1.5" stroke="rgb(162,162,162)" stroke-width="1.10"/><path d="M385.7 593.7h1.5" stroke="rgb(162,162,162)" stroke-width="1.10"/><path d="M388.3 593.7h1.5" stroke="rgb(162,162,162)" stroke-width="1.10"/><path d="M390.9 593.7h1.5" stroke="rgb(162,162,162)" stroke-width="1.10"/><path d="M393.5 593.7h1.5" stroke="rgb(162,162,162)" stroke-width="1.10"/><path d="M396.1 593.7h1.5" stroke="rgb(162,162,162)" stroke-width="1.10"/><path d="M398.7 593.7h1.5" stroke="rgb(162,162,162)" stroke-width="1.10"/><path d="M401.3 593.7h1.5" stroke="rgb(162,162,162)" stroke-width="1.10"/><path d="M403.9 593.7h1.5" stroke="rgb(162,162,162)" stroke-width="1.10"/><path d="M406.5 593.7h1.5" stroke="rgb(162,162,162)" stroke-width="1.10"/><path d="M409.1 593.7h1.5" stroke="rgb(162,162,162)" stroke-width="1.10"/><path d="M411.7 593.7h1.5" stroke="rgb(162,162,162)" stroke-width="1.10"/><path d="M414.3 593.7h1.5" stroke="rgb(162,162,162)" stroke-width="1.10"/><path d="M416.9 593.7h1.5" stroke="rgb(162,162,162)" stroke-width="1.10"/><path d="M419.5 593.7h1.5" stroke="rgb(162,162,162)" stroke-width="1.10"/><path d="M422.1 593.7h1.5" stroke="rgb(162,162,162)" stroke-width="1.10"/><path d="M424.7 593.7h1.5" stroke="rgb(162,162,162)" stroke-width="1.10"/><path d="M427.3 593.7h1.5" stroke="rgb(162,162,162)" stroke-width="1.10"/><path d="M429.9 593.7h1.5" stroke="rgb(162,162,162)" stroke-width="1.10"/><path d="M432.5 593.7h1.5" stroke="rgb(162,162,162)" stroke-width="1.10"/><path d="M435.1 593.7h1.5" stroke="rgb(162,162,162)" stroke-width="1.10"/><path d="M437.7 593.7h1.5" stroke="rgb(162,162,162)" stroke-width="1.10"/><path d="M440.3 593.7h1.5" stroke="rgb(162,162,162)" stroke-width="1.10"/><path d="M442.9 593.7h1.5" stroke="rgb(162,162,162)" stroke-width="1.10"/><path d="M444.5 593.7h1.5" stroke="rgb(165,165,165)" stroke-width="1.10"/><path d="M447.1 593.7h1.5" stroke="rgb(165,165,165)" stroke-width="1.10"/><path d="M449.7 593.7h1.5" stroke="rgb(165,165,165)" stroke-width="1.10"/><path d="M452.3 593.7h1.5" stroke="rgb(165,165,165)" stroke-width="1.10"/><path d="M454.9 593.7h1.5" stroke="rgb(165,165,165)" stroke-width="1.10"/><path d="M457.5 593.7h1.5" stroke="rgb(165,165,165)" stroke-width="1.10"/><path d="M460.1 593.7h1.5" stroke="rgb(165,165,165)" stroke-width="1.10"/><path d="M462.7 593.7h1.5" stroke="rgb(165,165,165)" stroke-width="1.10"/><path d="M465.3 593.7h1.5" stroke="rgb(165,165,165)" stroke-width="1.10"/><path d="M467.9 593.7h1.5" stroke="rgb(165,165,165)" stroke-width="1.10"/><path d="M470.5 593.7h1.5" stroke="rgb(165,165,165)" stroke-width="1.10"/><path d="M473.1 593.7h1.5" stroke="rgb(165,165,165)" stroke-width="1.10"/><path d="M475.7 593.7h1.5" stroke="rgb(165,165,165)" stroke-width="1.10"/><path d="M477.5 593.7h38.5" stroke="rgb(149,149,149)" stroke-width="1.10"/><path d="M516.0 593.7h38.9" stroke="rgb(167,167,167)" stroke-width="1.10"/><path d="M554.9 593.7h10.3" stroke="rgb(149,149,149)" stroke-width="1.10"/><path d="M565.2 593.7h18.3" stroke="rgb(145,145,145)" stroke-width="1.10"/><path d="M583.5 593.7h11.3" stroke="rgb(164,164,164)" stroke-width="1.10"/><path d="M594.8 593.7h38.6" stroke="rgb(163,163,163)" stroke-width="1.10"/><g font-family="Liberation Sans, sans-serif"><text x="4.5" y="153" font-size="13.8" fill="#555" text-anchor="start">the Green Beach</text><text x="465.5" y="153.5" font-size="13.8" fill="#555" text-anchor="start">the Ecological Lake</text><text x="220" y="210" font-size="12.4" fill="#404040" text-anchor="end" font-style="italic" stroke="#404040" stroke-width="0.1">humid edge</text><text x="219.5" y="222.5" font-size="12.2" fill="#707070" text-anchor="end" font-style="italic">Carex x</text><circle cx="222.5" cy="214" r="0.8" fill="#666"/><circle cx="369.5" cy="236.5" r="1" fill="#444"/><text x="367.5" y="209" font-size="12.4" fill="#404040" text-anchor="end" font-style="italic" stroke="#404040" stroke-width="0.1">aquatic edge</text><text x="367.5" y="223" font-size="12.4" fill="#777" text-anchor="end" font-style="italic">Carex x</text><text x="367.5" y="236.5" font-size="12.4" fill="#777" text-anchor="end" font-style="italic">Lythrum salicaria</text><text x="551" y="209" font-size="12.4" fill="#404040" text-anchor="end" font-style="italic" stroke="#404040" stroke-width="0.1">living water ecosystem</text><text x="551" y="222.8" font-size="12.4" fill="#777" text-anchor="end" font-style="italic">Butomus umbellatus</text><text x="551" y="236" font-size="12.4" fill="#777" text-anchor="end" font-style="italic">Calla palustris</text><text x="297.5" y="427.5" font-size="12.4" fill="#404040" text-anchor="start" font-style="italic" stroke="#404040" stroke-width="0.15">clay waterproofing</text></g></svg></body></html>
